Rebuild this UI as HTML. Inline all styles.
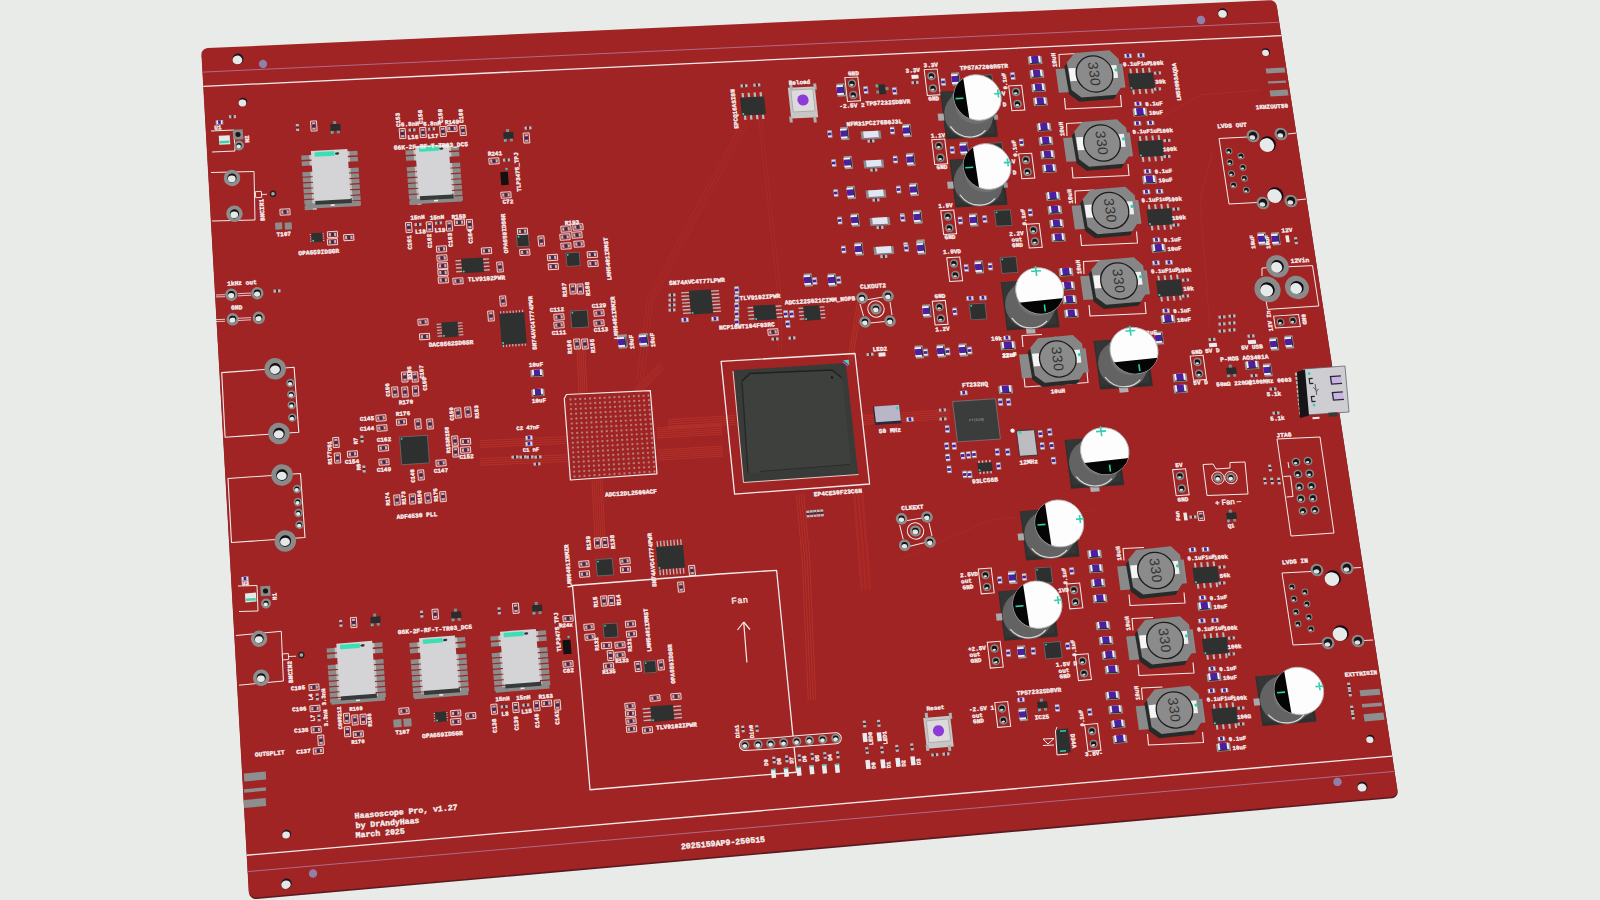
<!DOCTYPE html>
<html><head><meta charset="utf-8"><style>html,body{margin:0;padding:0;background:#e8ebe7;overflow:hidden}svg{display:block}</style></head>
<body><svg width="1600" height="900" viewBox="0 0 1600 900">
<rect x="0" y="0" width="1600" height="900" fill="#e8ebe7"/>
<polygon points="201.46,54.72 201.52,53.48 201.84,52.28 202.41,51.16 203.20,50.16 204.19,49.33 205.34,48.69 206.60,48.27 207.92,48.09 1269.65,0.20 1270.86,0.27 1272.06,0.55 1273.20,1.05 1274.23,1.75 1275.13,2.62 1275.85,3.62 1276.37,4.72 1276.67,5.87 1397.25,789.28 1397.33,790.62 1397.16,791.93 1396.74,793.16 1396.09,794.27 1395.24,795.21 1394.21,795.94 1393.06,796.43 1391.81,796.68 256.42,897.45 254.99,897.44 253.59,897.14 252.29,896.58 251.12,895.77 250.15,894.74 249.40,893.54 248.91,892.20 248.69,890.79" fill="#5a1a22" transform="translate(0.3,1.6)"/>
<polygon points="201.46,54.72 201.52,53.48 201.84,52.28 202.41,51.16 203.20,50.16 204.19,49.33 205.34,48.69 206.60,48.27 207.92,48.09 1269.65,0.20 1270.86,0.27 1272.06,0.55 1273.20,1.05 1274.23,1.75 1275.13,2.62 1275.85,3.62 1276.37,4.72 1276.67,5.87 1397.25,789.28 1397.33,790.62 1397.16,791.93 1396.74,793.16 1396.09,794.27 1395.24,795.21 1394.21,795.94 1393.06,796.43 1391.81,796.68 256.42,897.45 254.99,897.44 253.59,897.14 252.29,896.58 251.12,895.77 250.15,894.74 249.40,893.54 248.91,892.20 248.69,890.79" fill="#a02424"/>
<line x1="202.44" y1="72.13" x2="1279.19" y2="22.26" stroke="#b06a8a" stroke-width="1.0"/>
<line x1="203.25" y1="86.42" x2="1281.26" y2="35.69" stroke="#f2ecec" stroke-width="1.3"/>
<line x1="247.60" y1="871.63" x2="1394.50" y2="771.40" stroke="#b06a8a" stroke-width="1.0"/>
<line x1="246.68" y1="855.26" x2="1392.15" y2="756.12" stroke="#f2ecec" stroke-width="1.3"/>
<ellipse transform="matrix(0.9990 -0.0457 0.0596 0.9982 238.00 59.00)" rx="5.40" ry="5.40" fill="#1a1420" stroke="none" stroke-width="0"/>
<ellipse transform="matrix(0.9990 -0.0457 0.0596 0.9982 238.00 59.00)" cx="-0.6" cy="0.9" rx="4.86" ry="4.43" fill="#e4e8e6"/>
<ellipse transform="matrix(0.9989 -0.0479 0.0599 0.9982 243.00 102.00)" rx="4.30" ry="4.30" fill="#1a1420" stroke="none" stroke-width="0"/>
<ellipse transform="matrix(0.9989 -0.0479 0.0599 0.9982 243.00 102.00)" cx="-0.6" cy="0.9" rx="3.87" ry="3.53" fill="#e4e8e6"/>
<ellipse transform="matrix(0.9961 -0.0878 0.0596 0.9982 286.50 883.70)" rx="5.20" ry="5.20" fill="#1a1420" stroke="none" stroke-width="0"/>
<ellipse transform="matrix(0.9961 -0.0878 0.0596 0.9982 286.50 883.70)" cx="-0.6" cy="0.9" rx="4.68" ry="4.26" fill="#e4e8e6"/>
<ellipse transform="matrix(0.9964 -0.0853 0.0598 0.9982 286.70 834.00)" rx="4.30" ry="4.30" fill="#1a1420" stroke="none" stroke-width="0"/>
<ellipse transform="matrix(0.9964 -0.0853 0.0598 0.9982 286.70 834.00)" cx="-0.6" cy="0.9" rx="3.87" ry="3.53" fill="#e4e8e6"/>
<ellipse transform="matrix(0.9990 -0.0456 0.1474 0.9891 1223.00 13.00)" rx="4.80" ry="4.80" fill="#1a1420" stroke="none" stroke-width="0"/>
<ellipse transform="matrix(0.9990 -0.0456 0.1474 0.9891 1223.00 13.00)" cx="-0.6" cy="0.9" rx="4.32" ry="3.94" fill="#e4e8e6"/>
<ellipse transform="matrix(0.9989 -0.0478 0.1506 0.9886 1266.00 52.00)" rx="3.80" ry="3.80" fill="#1a1420" stroke="none" stroke-width="0"/>
<ellipse transform="matrix(0.9989 -0.0478 0.1506 0.9886 1266.00 52.00)" cx="-0.6" cy="0.9" rx="3.42" ry="3.12" fill="#e4e8e6"/>
<ellipse transform="matrix(0.9961 -0.0877 0.1493 0.9888 1362.50 786.60)" rx="5.00" ry="5.00" fill="#1a1420" stroke="none" stroke-width="0"/>
<ellipse transform="matrix(0.9961 -0.0877 0.1493 0.9888 1362.50 786.60)" cx="-0.6" cy="0.9" rx="4.50" ry="4.10" fill="#e4e8e6"/>
<ellipse transform="matrix(0.9964 -0.0852 0.1506 0.9886 1370.30 738.80)" rx="4.00" ry="4.00" fill="#1a1420" stroke="none" stroke-width="0"/>
<ellipse transform="matrix(0.9964 -0.0852 0.1506 0.9886 1370.30 738.80)" cx="-0.6" cy="0.9" rx="3.60" ry="3.28" fill="#e4e8e6"/>
<ellipse transform="matrix(0.9989 -0.0460 0.0619 0.9981 263.00 64.00)" rx="4.20" ry="4.20" fill="#9a7ab0" stroke="none" stroke-width="0"/>
<ellipse transform="matrix(0.9989 -0.0460 0.0619 0.9981 263.00 64.00)" rx="2.20" ry="2.20" fill="#808aa0" stroke="none" stroke-width="0"/>
<ellipse transform="matrix(0.9989 -0.0460 0.1453 0.9894 1201.00 20.00)" rx="4.20" ry="4.20" fill="#9a7ab0" stroke="none" stroke-width="0"/>
<ellipse transform="matrix(0.9989 -0.0460 0.1453 0.9894 1201.00 20.00)" rx="2.20" ry="2.20" fill="#808aa0" stroke="none" stroke-width="0"/>
<ellipse transform="matrix(0.9962 -0.0874 0.1473 0.9891 1337.50 781.90)" rx="4.20" ry="4.20" fill="#9a7ab0" stroke="none" stroke-width="0"/>
<ellipse transform="matrix(0.9962 -0.0874 0.1473 0.9891 1337.50 781.90)" rx="2.20" ry="2.20" fill="#808aa0" stroke="none" stroke-width="0"/>
<ellipse transform="matrix(0.9962 -0.0874 0.0618 0.9981 313.00 873.50)" rx="4.20" ry="4.20" fill="#9a7ab0" stroke="none" stroke-width="0"/>
<ellipse transform="matrix(0.9962 -0.0874 0.0618 0.9981 313.00 873.50)" rx="2.20" ry="2.20" fill="#808aa0" stroke="none" stroke-width="0"/>
<polyline points="579.00,393.19 577.00,350.19" fill="none" stroke="#b8342c" stroke-width="1.0" opacity="0.8"/>
<polyline points="581.00,393.09 579.00,350.09" fill="none" stroke="#b8342c" stroke-width="1.0" opacity="0.8"/>
<polyline points="583.00,393.00 581.00,350.00" fill="none" stroke="#b8342c" stroke-width="1.0" opacity="0.8"/>
<polyline points="585.00,392.91 583.00,349.91" fill="none" stroke="#b8342c" stroke-width="1.0" opacity="0.8"/>
<polyline points="587.00,392.81 585.00,349.81" fill="none" stroke="#b8342c" stroke-width="1.0" opacity="0.8"/>
<polyline points="601.99,479.75 604.99,539.75" fill="none" stroke="#b8342c" stroke-width="1.0" opacity="0.8"/>
<polyline points="600.00,479.85 603.00,539.85" fill="none" stroke="#b8342c" stroke-width="1.0" opacity="0.8"/>
<polyline points="598.00,479.95 601.00,539.95" fill="none" stroke="#b8342c" stroke-width="1.0" opacity="0.8"/>
<polyline points="596.00,480.05 599.00,540.05" fill="none" stroke="#b8342c" stroke-width="1.0" opacity="0.8"/>
<polyline points="594.00,480.15 597.00,540.15" fill="none" stroke="#b8342c" stroke-width="1.0" opacity="0.8"/>
<polyline points="592.01,480.25 595.01,540.25" fill="none" stroke="#b8342c" stroke-width="1.0" opacity="0.8"/>
<polyline points="479.85,440.70 566.85,436.70" fill="none" stroke="#b8342c" stroke-width="1.0" opacity="0.8"/>
<polyline points="479.95,442.90 566.95,438.90" fill="none" stroke="#b8342c" stroke-width="1.0" opacity="0.8"/>
<polyline points="480.05,445.10 567.05,441.10" fill="none" stroke="#b8342c" stroke-width="1.0" opacity="0.8"/>
<polyline points="480.15,447.30 567.15,443.30" fill="none" stroke="#b8342c" stroke-width="1.0" opacity="0.8"/>
<polyline points="479.85,458.70 567.85,454.70" fill="none" stroke="#b8342c" stroke-width="1.0" opacity="0.8"/>
<polyline points="479.95,460.90 567.95,456.90" fill="none" stroke="#b8342c" stroke-width="1.0" opacity="0.8"/>
<polyline points="480.05,463.10 568.05,459.10" fill="none" stroke="#b8342c" stroke-width="1.0" opacity="0.8"/>
<polyline points="480.15,465.30 568.15,461.30" fill="none" stroke="#b8342c" stroke-width="1.0" opacity="0.8"/>
<polyline points="656.69,428.01 721.69,424.01" fill="none" stroke="#b8342c" stroke-width="1.0" opacity="0.8"/>
<polyline points="656.82,430.01 721.82,426.01" fill="none" stroke="#b8342c" stroke-width="1.0" opacity="0.8"/>
<polyline points="656.94,432.00 721.94,428.00" fill="none" stroke="#b8342c" stroke-width="1.0" opacity="0.8"/>
<polyline points="657.06,434.00 722.06,430.00" fill="none" stroke="#b8342c" stroke-width="1.0" opacity="0.8"/>
<polyline points="657.18,435.99 722.18,431.99" fill="none" stroke="#b8342c" stroke-width="1.0" opacity="0.8"/>
<polyline points="657.31,437.99 722.31,433.99" fill="none" stroke="#b8342c" stroke-width="1.0" opacity="0.8"/>
<polyline points="657.69,450.01 722.69,446.01" fill="none" stroke="#b8342c" stroke-width="1.0" opacity="0.8"/>
<polyline points="657.82,452.01 722.82,448.01" fill="none" stroke="#b8342c" stroke-width="1.0" opacity="0.8"/>
<polyline points="657.94,454.00 722.94,450.00" fill="none" stroke="#b8342c" stroke-width="1.0" opacity="0.8"/>
<polyline points="658.06,456.00 723.06,452.00" fill="none" stroke="#b8342c" stroke-width="1.0" opacity="0.8"/>
<polyline points="658.18,457.99 723.18,453.99" fill="none" stroke="#b8342c" stroke-width="1.0" opacity="0.8"/>
<polyline points="658.31,459.99 723.31,455.99" fill="none" stroke="#b8342c" stroke-width="1.0" opacity="0.8"/>
<polyline points="633.67,389.67 659.67,363.67" fill="none" stroke="#b8342c" stroke-width="1.0" opacity="0.8"/>
<polyline points="635.22,391.22 661.22,365.22" fill="none" stroke="#b8342c" stroke-width="1.0" opacity="0.8"/>
<polyline points="636.78,392.78 662.78,366.78" fill="none" stroke="#b8342c" stroke-width="1.0" opacity="0.8"/>
<polyline points="638.33,394.33 664.33,368.33" fill="none" stroke="#b8342c" stroke-width="1.0" opacity="0.8"/>
<polyline points="861.99,491.67 869.99,589.67" fill="none" stroke="#b8342c" stroke-width="2.5" opacity="0.45"/>
<polyline points="858.00,492.00 866.00,590.00" fill="none" stroke="#b8342c" stroke-width="2.5" opacity="0.45"/>
<polyline points="854.01,492.33 862.01,590.33" fill="none" stroke="#b8342c" stroke-width="2.5" opacity="0.45"/>
<polyline points="803.73,493.66 809.74,559.78 815.75,699.84" fill="none" stroke="#b8342c" stroke-width="1.0" opacity="0.8"/>
<polyline points="801.24,493.89 807.25,559.93 813.25,699.95" fill="none" stroke="#b8342c" stroke-width="1.0" opacity="0.8"/>
<polyline points="798.76,494.11 804.75,560.07 810.75,700.05" fill="none" stroke="#b8342c" stroke-width="1.0" opacity="0.8"/>
<polyline points="796.27,494.34 802.26,560.22 808.25,700.16" fill="none" stroke="#b8342c" stroke-width="1.0" opacity="0.8"/>
<polyline points="735.26,424.39 668.26,428.39" fill="none" stroke="#b8342c" stroke-width="1.0" opacity="0.8"/>
<polyline points="735.13,422.20 668.13,426.20" fill="none" stroke="#b8342c" stroke-width="1.0" opacity="0.8"/>
<polyline points="735.00,420.00 668.00,424.00" fill="none" stroke="#b8342c" stroke-width="1.0" opacity="0.8"/>
<polyline points="734.87,417.80 667.87,421.80" fill="none" stroke="#b8342c" stroke-width="1.0" opacity="0.8"/>
<polyline points="734.74,415.61 667.74,419.61" fill="none" stroke="#b8342c" stroke-width="1.0" opacity="0.8"/>
<polyline points="861.70,415.61 949.70,409.61" fill="none" stroke="#b8342c" stroke-width="1.0" opacity="0.8"/>
<polyline points="861.85,417.81 949.85,411.81" fill="none" stroke="#b8342c" stroke-width="1.0" opacity="0.8"/>
<polyline points="862.00,420.00 950.00,414.00" fill="none" stroke="#b8342c" stroke-width="1.0" opacity="0.8"/>
<polyline points="862.15,422.19 950.15,416.19" fill="none" stroke="#b8342c" stroke-width="1.0" opacity="0.8"/>
<polyline points="862.30,424.39 950.30,418.39" fill="none" stroke="#b8342c" stroke-width="1.0" opacity="0.8"/>
<polyline points="847.83,361.65 857.83,299.65" fill="none" stroke="#b8342c" stroke-width="1.0" opacity="0.8"/>
<polyline points="850.00,362.00 860.00,300.00" fill="none" stroke="#b8342c" stroke-width="1.0" opacity="0.8"/>
<polyline points="852.17,362.35 862.17,300.35" fill="none" stroke="#b8342c" stroke-width="1.0" opacity="0.8"/>
<polyline points="750.64,118.42 652.78,301.14 642.98,380.37" fill="none" stroke="#b8342c" stroke-width="1.0" opacity="0.4"/>
<polyline points="748.00,117.00 650.00,300.00 640.00,380.00" fill="none" stroke="#b8342c" stroke-width="1.0" opacity="0.4"/>
<polyline points="745.36,115.58 647.22,298.86 637.02,379.63" fill="none" stroke="#b8342c" stroke-width="1.0" opacity="0.4"/>
<polyline points="761.49,116.84 781.49,299.87 781.50,350.00" fill="none" stroke="#b8342c" stroke-width="1.0" opacity="0.4"/>
<polyline points="758.51,117.16 778.51,300.13 778.50,350.00" fill="none" stroke="#b8342c" stroke-width="1.0" opacity="0.4"/>
<polyline points="1160.00,118.00 1200.00,95.00 1260.00,90.00" fill="none" stroke="#b8342c" stroke-width="1.0" opacity="0.4"/>
<polyline points="1213.00,150.00 1200.00,200.00 1210.00,330.00" fill="none" stroke="#b8342c" stroke-width="1.0" opacity="0.4"/>
<polyline points="900.00,560.00 990.00,520.00 1100.00,510.00" fill="none" stroke="#b8342c" stroke-width="1.0" opacity="0.35"/>
<polygon points="721.10,361.40 855.00,353.50 869.60,484.00 734.60,494.10" fill="none" stroke="#f2ecec" stroke-width="1.3" stroke-linejoin="round"/>
<polygon points="733.80,370.20 845.80,363.10 858.20,474.20 743.60,482.20" fill="#393b39" stroke="none" stroke-width="0"/>
<polygon points="742.00,381.00 750.00,373.50 832.00,370.00 842.00,378.00 851.00,465.00 762.00,472.50 748.00,473.00" fill="#3d403d" stroke="none" stroke-width="0"/>
<polyline points="742.00,381.00 750.00,373.50 832.00,370.00 842.00,378.00" fill="none" stroke="#202220" stroke-width="1.6" stroke-linejoin="round"/>
<polyline points="742.00,381.00 748.00,473.00" fill="none" stroke="#262826" stroke-width="1.3" stroke-linejoin="round"/>
<polyline points="760.00,471.50 850.00,464.50" fill="none" stroke="#2a2c2a" stroke-width="1.0" stroke-linejoin="round"/>
<polyline points="733.00,371.00 743.50,482.50 858.50,474.50" fill="none" stroke="#e8dede" stroke-width="0.9" stroke-linejoin="round"/>
<g transform="matrix(0.9980 -0.0631 0.1107 0.9939 846.00 362.50)"><path d="M-2.5,-2.5 L3,-2.5 L3,3 Z" fill="#40d8c0"/><path d="M-3,-1 L1.5,3.5" stroke="#a060e0" stroke-width="1.2"/></g>
<ellipse transform="matrix(0.9980 -0.0639 0.1094 0.9940 832.00 377.50)" rx="1.20" ry="1.20" fill="#151515" stroke="none" stroke-width="0"/>
<text transform="matrix(0.9976 -0.0699 0.1088 0.9941 838.00 493.00)" x="0" y="0" font-size="6.2" fill="#f6f0f0" text-anchor="middle" dominant-baseline="central" font-weight="bold" font-family="Liberation Mono" stroke="#f6f0f0" stroke-width="0.35">EP4CE30F23C6N</text>
<polygon points="566.50,394.50 650.30,390.60 657.00,473.90 570.40,480.00 564.30,398.50" fill="none" stroke="#f2ecec" stroke-width="1.2" stroke-linejoin="round"/>
<g fill="#b48080"><circle cx="570.5" cy="399.5" r="1.15"/><circle cx="570.8" cy="404.3" r="1.15"/><circle cx="571.0" cy="409.1" r="1.15"/><circle cx="571.2" cy="413.9" r="1.15"/><circle cx="571.5" cy="418.8" r="1.15"/><circle cx="571.8" cy="423.6" r="1.15"/><circle cx="572.0" cy="428.4" r="1.15"/><circle cx="572.2" cy="433.2" r="1.15"/><circle cx="572.5" cy="438.0" r="1.15"/><circle cx="572.8" cy="442.8" r="1.15"/><circle cx="573.0" cy="447.6" r="1.15"/><circle cx="573.2" cy="452.4" r="1.15"/><circle cx="573.5" cy="457.2" r="1.15"/><circle cx="573.8" cy="462.1" r="1.15"/><circle cx="574.0" cy="466.9" r="1.15"/><circle cx="574.2" cy="471.7" r="1.15"/><circle cx="574.5" cy="476.5" r="1.15"/><circle cx="575.4" cy="399.2" r="1.15"/><circle cx="575.6" cy="404.1" r="1.15"/><circle cx="575.9" cy="408.9" r="1.15"/><circle cx="576.1" cy="413.7" r="1.15"/><circle cx="576.4" cy="418.5" r="1.15"/><circle cx="576.7" cy="423.3" r="1.15"/><circle cx="576.9" cy="428.1" r="1.15"/><circle cx="577.2" cy="432.9" r="1.15"/><circle cx="577.4" cy="437.7" r="1.15"/><circle cx="577.7" cy="442.5" r="1.15"/><circle cx="578.0" cy="447.3" r="1.15"/><circle cx="578.2" cy="452.1" r="1.15"/><circle cx="578.5" cy="457.0" r="1.15"/><circle cx="578.7" cy="461.8" r="1.15"/><circle cx="579.0" cy="466.6" r="1.15"/><circle cx="579.2" cy="471.4" r="1.15"/><circle cx="579.5" cy="476.2" r="1.15"/><circle cx="580.2" cy="399.0" r="1.15"/><circle cx="580.5" cy="403.8" r="1.15"/><circle cx="580.8" cy="408.6" r="1.15"/><circle cx="581.0" cy="413.4" r="1.15"/><circle cx="581.3" cy="418.2" r="1.15"/><circle cx="581.6" cy="423.0" r="1.15"/><circle cx="581.8" cy="427.8" r="1.15"/><circle cx="582.1" cy="432.6" r="1.15"/><circle cx="582.4" cy="437.4" r="1.15"/><circle cx="582.6" cy="442.2" r="1.15"/><circle cx="582.9" cy="447.0" r="1.15"/><circle cx="583.2" cy="451.9" r="1.15"/><circle cx="583.4" cy="456.7" r="1.15"/><circle cx="583.7" cy="461.5" r="1.15"/><circle cx="584.0" cy="466.3" r="1.15"/><circle cx="584.2" cy="471.1" r="1.15"/><circle cx="584.5" cy="475.9" r="1.15"/><circle cx="585.1" cy="398.8" r="1.15"/><circle cx="585.4" cy="403.6" r="1.15"/><circle cx="585.7" cy="408.4" r="1.15"/><circle cx="585.9" cy="413.2" r="1.15"/><circle cx="586.2" cy="418.0" r="1.15"/><circle cx="586.5" cy="422.8" r="1.15"/><circle cx="586.8" cy="427.6" r="1.15"/><circle cx="587.0" cy="432.4" r="1.15"/><circle cx="587.3" cy="437.2" r="1.15"/><circle cx="587.6" cy="442.0" r="1.15"/><circle cx="587.9" cy="446.8" r="1.15"/><circle cx="588.1" cy="451.6" r="1.15"/><circle cx="588.4" cy="456.4" r="1.15"/><circle cx="588.7" cy="461.2" r="1.15"/><circle cx="589.0" cy="466.0" r="1.15"/><circle cx="589.2" cy="470.8" r="1.15"/><circle cx="589.5" cy="475.6" r="1.15"/><circle cx="590.0" cy="398.5" r="1.15"/><circle cx="590.3" cy="403.3" r="1.15"/><circle cx="590.6" cy="408.1" r="1.15"/><circle cx="590.8" cy="412.9" r="1.15"/><circle cx="591.1" cy="417.7" r="1.15"/><circle cx="591.4" cy="422.5" r="1.15"/><circle cx="591.7" cy="427.3" r="1.15"/><circle cx="592.0" cy="432.1" r="1.15"/><circle cx="592.2" cy="436.9" r="1.15"/><circle cx="592.5" cy="441.7" r="1.15"/><circle cx="592.8" cy="446.5" r="1.15"/><circle cx="593.1" cy="451.3" r="1.15"/><circle cx="593.4" cy="456.1" r="1.15"/><circle cx="593.7" cy="460.9" r="1.15"/><circle cx="593.9" cy="465.7" r="1.15"/><circle cx="594.2" cy="470.5" r="1.15"/><circle cx="594.5" cy="475.2" r="1.15"/><circle cx="594.9" cy="398.2" r="1.15"/><circle cx="595.2" cy="403.0" r="1.15"/><circle cx="595.5" cy="407.8" r="1.15"/><circle cx="595.7" cy="412.6" r="1.15"/><circle cx="596.0" cy="417.4" r="1.15"/><circle cx="596.3" cy="422.2" r="1.15"/><circle cx="596.6" cy="427.0" r="1.15"/><circle cx="596.9" cy="431.8" r="1.15"/><circle cx="597.2" cy="436.6" r="1.15"/><circle cx="597.5" cy="441.4" r="1.15"/><circle cx="597.8" cy="446.2" r="1.15"/><circle cx="598.1" cy="451.0" r="1.15"/><circle cx="598.3" cy="455.8" r="1.15"/><circle cx="598.6" cy="460.6" r="1.15"/><circle cx="598.9" cy="465.4" r="1.15"/><circle cx="599.2" cy="470.1" r="1.15"/><circle cx="599.5" cy="474.9" r="1.15"/><circle cx="599.8" cy="398.0" r="1.15"/><circle cx="600.0" cy="402.8" r="1.15"/><circle cx="600.3" cy="407.6" r="1.15"/><circle cx="600.6" cy="412.4" r="1.15"/><circle cx="600.9" cy="417.2" r="1.15"/><circle cx="601.2" cy="421.9" r="1.15"/><circle cx="601.5" cy="426.7" r="1.15"/><circle cx="601.8" cy="431.5" r="1.15"/><circle cx="602.1" cy="436.3" r="1.15"/><circle cx="602.4" cy="441.1" r="1.15"/><circle cx="602.7" cy="445.9" r="1.15"/><circle cx="603.0" cy="450.7" r="1.15"/><circle cx="603.3" cy="455.5" r="1.15"/><circle cx="603.6" cy="460.3" r="1.15"/><circle cx="603.9" cy="465.0" r="1.15"/><circle cx="604.2" cy="469.8" r="1.15"/><circle cx="604.5" cy="474.6" r="1.15"/><circle cx="604.6" cy="397.8" r="1.15"/><circle cx="604.9" cy="402.5" r="1.15"/><circle cx="605.2" cy="407.3" r="1.15"/><circle cx="605.5" cy="412.1" r="1.15"/><circle cx="605.8" cy="416.9" r="1.15"/><circle cx="606.1" cy="421.7" r="1.15"/><circle cx="606.5" cy="426.5" r="1.15"/><circle cx="606.8" cy="431.2" r="1.15"/><circle cx="607.1" cy="436.0" r="1.15"/><circle cx="607.4" cy="440.8" r="1.15"/><circle cx="607.7" cy="445.6" r="1.15"/><circle cx="608.0" cy="450.4" r="1.15"/><circle cx="608.3" cy="455.2" r="1.15"/><circle cx="608.6" cy="460.0" r="1.15"/><circle cx="608.9" cy="464.7" r="1.15"/><circle cx="609.2" cy="469.5" r="1.15"/><circle cx="609.5" cy="474.3" r="1.15"/><circle cx="609.5" cy="397.5" r="1.15"/><circle cx="609.8" cy="402.3" r="1.15"/><circle cx="610.1" cy="407.1" r="1.15"/><circle cx="610.4" cy="411.8" r="1.15"/><circle cx="610.8" cy="416.6" r="1.15"/><circle cx="611.1" cy="421.4" r="1.15"/><circle cx="611.4" cy="426.2" r="1.15"/><circle cx="611.7" cy="431.0" r="1.15"/><circle cx="612.0" cy="435.8" r="1.15"/><circle cx="612.3" cy="440.5" r="1.15"/><circle cx="612.6" cy="445.3" r="1.15"/><circle cx="612.9" cy="450.1" r="1.15"/><circle cx="613.2" cy="454.9" r="1.15"/><circle cx="613.6" cy="459.7" r="1.15"/><circle cx="613.9" cy="464.4" r="1.15"/><circle cx="614.2" cy="469.2" r="1.15"/><circle cx="614.5" cy="474.0" r="1.15"/><circle cx="614.4" cy="397.2" r="1.15"/><circle cx="614.7" cy="402.0" r="1.15"/><circle cx="615.0" cy="406.8" r="1.15"/><circle cx="615.3" cy="411.6" r="1.15"/><circle cx="615.7" cy="416.4" r="1.15"/><circle cx="616.0" cy="421.1" r="1.15"/><circle cx="616.3" cy="425.9" r="1.15"/><circle cx="616.6" cy="430.7" r="1.15"/><circle cx="616.9" cy="435.5" r="1.15"/><circle cx="617.3" cy="440.2" r="1.15"/><circle cx="617.6" cy="445.0" r="1.15"/><circle cx="617.9" cy="449.8" r="1.15"/><circle cx="618.2" cy="454.6" r="1.15"/><circle cx="618.5" cy="459.4" r="1.15"/><circle cx="618.9" cy="464.1" r="1.15"/><circle cx="619.2" cy="468.9" r="1.15"/><circle cx="619.5" cy="473.7" r="1.15"/><circle cx="619.2" cy="397.0" r="1.15"/><circle cx="619.6" cy="401.8" r="1.15"/><circle cx="619.9" cy="406.5" r="1.15"/><circle cx="620.2" cy="411.3" r="1.15"/><circle cx="620.6" cy="416.1" r="1.15"/><circle cx="620.9" cy="420.9" r="1.15"/><circle cx="621.2" cy="425.6" r="1.15"/><circle cx="621.5" cy="430.4" r="1.15"/><circle cx="621.9" cy="435.2" r="1.15"/><circle cx="622.2" cy="440.0" r="1.15"/><circle cx="622.5" cy="444.7" r="1.15"/><circle cx="622.9" cy="449.5" r="1.15"/><circle cx="623.2" cy="454.3" r="1.15"/><circle cx="623.5" cy="459.1" r="1.15"/><circle cx="623.8" cy="463.8" r="1.15"/><circle cx="624.2" cy="468.6" r="1.15"/><circle cx="624.5" cy="473.4" r="1.15"/><circle cx="624.1" cy="396.8" r="1.15"/><circle cx="624.5" cy="401.5" r="1.15"/><circle cx="624.8" cy="406.3" r="1.15"/><circle cx="625.1" cy="411.1" r="1.15"/><circle cx="625.5" cy="415.8" r="1.15"/><circle cx="625.8" cy="420.6" r="1.15"/><circle cx="626.1" cy="425.4" r="1.15"/><circle cx="626.5" cy="430.1" r="1.15"/><circle cx="626.8" cy="434.9" r="1.15"/><circle cx="627.1" cy="439.7" r="1.15"/><circle cx="627.5" cy="444.4" r="1.15"/><circle cx="627.8" cy="449.2" r="1.15"/><circle cx="628.2" cy="454.0" r="1.15"/><circle cx="628.5" cy="458.8" r="1.15"/><circle cx="628.8" cy="463.5" r="1.15"/><circle cx="629.2" cy="468.3" r="1.15"/><circle cx="629.5" cy="473.1" r="1.15"/><circle cx="629.0" cy="396.5" r="1.15"/><circle cx="629.3" cy="401.3" r="1.15"/><circle cx="629.7" cy="406.0" r="1.15"/><circle cx="630.0" cy="410.8" r="1.15"/><circle cx="630.4" cy="415.6" r="1.15"/><circle cx="630.7" cy="420.3" r="1.15"/><circle cx="631.1" cy="425.1" r="1.15"/><circle cx="631.4" cy="429.9" r="1.15"/><circle cx="631.8" cy="434.6" r="1.15"/><circle cx="632.1" cy="439.4" r="1.15"/><circle cx="632.4" cy="444.2" r="1.15"/><circle cx="632.8" cy="448.9" r="1.15"/><circle cx="633.1" cy="453.7" r="1.15"/><circle cx="633.5" cy="458.5" r="1.15"/><circle cx="633.8" cy="463.2" r="1.15"/><circle cx="634.2" cy="468.0" r="1.15"/><circle cx="634.5" cy="472.8" r="1.15"/><circle cx="633.9" cy="396.2" r="1.15"/><circle cx="634.2" cy="401.0" r="1.15"/><circle cx="634.6" cy="405.8" r="1.15"/><circle cx="634.9" cy="410.5" r="1.15"/><circle cx="635.3" cy="415.3" r="1.15"/><circle cx="635.6" cy="420.1" r="1.15"/><circle cx="636.0" cy="424.8" r="1.15"/><circle cx="636.3" cy="429.6" r="1.15"/><circle cx="636.7" cy="434.3" r="1.15"/><circle cx="637.0" cy="439.1" r="1.15"/><circle cx="637.4" cy="443.9" r="1.15"/><circle cx="637.7" cy="448.6" r="1.15"/><circle cx="638.1" cy="453.4" r="1.15"/><circle cx="638.4" cy="458.2" r="1.15"/><circle cx="638.8" cy="462.9" r="1.15"/><circle cx="639.1" cy="467.7" r="1.15"/><circle cx="639.5" cy="472.4" r="1.15"/><circle cx="638.8" cy="396.0" r="1.15"/><circle cx="639.1" cy="400.8" r="1.15"/><circle cx="639.5" cy="405.5" r="1.15"/><circle cx="639.8" cy="410.3" r="1.15"/><circle cx="640.2" cy="415.0" r="1.15"/><circle cx="640.5" cy="419.8" r="1.15"/><circle cx="640.9" cy="424.5" r="1.15"/><circle cx="641.3" cy="429.3" r="1.15"/><circle cx="641.6" cy="434.1" r="1.15"/><circle cx="642.0" cy="438.8" r="1.15"/><circle cx="642.3" cy="443.6" r="1.15"/><circle cx="642.7" cy="448.3" r="1.15"/><circle cx="643.1" cy="453.1" r="1.15"/><circle cx="643.4" cy="457.9" r="1.15"/><circle cx="643.8" cy="462.6" r="1.15"/><circle cx="644.1" cy="467.4" r="1.15"/><circle cx="644.5" cy="472.1" r="1.15"/><circle cx="643.6" cy="395.8" r="1.15"/><circle cx="644.0" cy="400.5" r="1.15"/><circle cx="644.4" cy="405.3" r="1.15"/><circle cx="644.7" cy="410.0" r="1.15"/><circle cx="645.1" cy="414.8" r="1.15"/><circle cx="645.5" cy="419.5" r="1.15"/><circle cx="645.8" cy="424.3" r="1.15"/><circle cx="646.2" cy="429.0" r="1.15"/><circle cx="646.6" cy="433.8" r="1.15"/><circle cx="646.9" cy="438.5" r="1.15"/><circle cx="647.3" cy="443.3" r="1.15"/><circle cx="647.7" cy="448.0" r="1.15"/><circle cx="648.0" cy="452.8" r="1.15"/><circle cx="648.4" cy="457.6" r="1.15"/><circle cx="648.8" cy="462.3" r="1.15"/><circle cx="649.1" cy="467.1" r="1.15"/><circle cx="649.5" cy="471.8" r="1.15"/><circle cx="648.5" cy="395.5" r="1.15"/><circle cx="648.9" cy="400.2" r="1.15"/><circle cx="649.2" cy="405.0" r="1.15"/><circle cx="649.6" cy="409.8" r="1.15"/><circle cx="650.0" cy="414.5" r="1.15"/><circle cx="650.4" cy="419.2" r="1.15"/><circle cx="650.8" cy="424.0" r="1.15"/><circle cx="651.1" cy="428.8" r="1.15"/><circle cx="651.5" cy="433.5" r="1.15"/><circle cx="651.9" cy="438.2" r="1.15"/><circle cx="652.2" cy="443.0" r="1.15"/><circle cx="652.6" cy="447.8" r="1.15"/><circle cx="653.0" cy="452.5" r="1.15"/><circle cx="653.4" cy="457.2" r="1.15"/><circle cx="653.8" cy="462.0" r="1.15"/><circle cx="654.1" cy="466.8" r="1.15"/><circle cx="654.5" cy="471.5" r="1.15"/></g>
<text transform="matrix(0.9976 -0.0692 0.0911 0.9958 631.00 493.50)" x="0" y="0" font-size="6.2" fill="#f6f0f0" text-anchor="middle" dominant-baseline="central" font-weight="bold" font-family="Liberation Mono" stroke="#f6f0f0" stroke-width="0.35">ADC12DL2500ACF</text>
<defs>
<linearGradient id="cyl" x1="0" y1="0" x2="1" y2="0"><stop offset="0" stop-color="#3e3f3e"/><stop offset="0.55" stop-color="#5a5b5a"/><stop offset="1" stop-color="#7a7b7a"/></linearGradient>
<linearGradient id="cyl2" x1="0" y1="1" x2="1" y2="0"><stop offset="0" stop-color="#6a6b6a"/><stop offset="0.5" stop-color="#4a4b4a"/><stop offset="1" stop-color="#3a3b3a"/></linearGradient>
</defs>
<polyline points="211.00,131.00 234.00,130.00 235.00,151.00 212.00,152.00" fill="none" stroke="#f2ecec" stroke-width="1.0" stroke-linejoin="round"/>
<rect transform="matrix(0.9988 -0.0498 0.0580 0.9983 224.50 140.00)" x="-5.50" y="-4.50" width="11.00" height="9.00" rx="0.00" fill="#e8e8e8" stroke="none" stroke-width="0" />
<rect transform="matrix(0.9988 -0.0499 0.0580 0.9983 224.50 142.00)" x="-5.00" y="-1.25" width="10.00" height="2.50" rx="0.00" fill="#40d0a8" stroke="none" stroke-width="0" />
<rect transform="matrix(0.9988 -0.0495 0.0592 0.9982 238.00 134.50)" x="-5.00" y="-5.00" width="10.00" height="10.00" rx="0.00" fill="#8a8a8a" stroke="none" stroke-width="0" />
<ellipse transform="matrix(0.9988 -0.0495 0.0592 0.9982 238.00 134.50)" rx="2.60" ry="2.60" fill="#151515" stroke="none" stroke-width="0"/>
<ellipse transform="matrix(0.9987 -0.0501 0.0593 0.9982 239.00 145.50)" rx="5.00" ry="5.00" fill="#8c8c8c" stroke="none" stroke-width="0"/>
<ellipse transform="matrix(0.9987 -0.0501 0.0593 0.9982 239.00 145.50)" rx="2.60" ry="2.60" fill="#121212" stroke="none" stroke-width="0"/>
<ellipse transform="matrix(0.9987 -0.0501 0.0593 0.9982 239.00 145.50)" cx="-0.3" cy="0.9" rx="2.21" ry="1.87" fill="#e4e8e6"/>
<text transform="matrix(0.9988 -0.0492 0.0575 0.9983 218.00 128.00)" x="0" y="0" font-size="6" fill="#f6f0f0" text-anchor="middle" dominant-baseline="central" font-weight="bold" font-family="Liberation Mono" stroke="#f6f0f0" stroke-width="0.35">U1</text>
<text transform="matrix(-0.0601 -0.9982 0.9988 -0.0498 247.50 139.00)" x="0" y="0" font-size="6" fill="#f6f0f0" text-anchor="middle" dominant-baseline="central" font-weight="bold" font-family="Liberation Mono" stroke="#f6f0f0" stroke-width="0.35">H2</text>
<g transform="matrix(0.9988 -0.0489 0.0577 0.9983 219.50 122.50)"><rect x="-3.8" y="-2.2" width="7.6" height="4.4" fill="#9a9a9a"/><rect x="-2.8" y="-2.2" width="5.6" height="3.6" fill="#eeeeee"/><rect x="-1.4" y="-2.2" width="2.8" height="3.6" fill="#4b1fa0"/></g>
<g transform="matrix(0.9988 -0.0486 0.0589 0.9983 232.50 116.70)"><rect x="-3.5" y="-1.5" width="2.6" height="3" fill="#b8b8b8"/><rect x="0.9" y="-1.5" width="2.6" height="3" fill="#b8b8b8"/><rect x="-1" y="-1.2" width="2" height="2.4" fill="#3a2a40"/></g>
<polyline points="211.00,172.50 254.00,171.50 255.00,220.00 212.00,221.00" fill="none" stroke="#f2ecec" stroke-width="1.0" stroke-linejoin="round"/>
<ellipse transform="matrix(0.9987 -0.0517 0.0585 0.9983 232.00 178.00)" rx="8.20" ry="8.20" fill="#8e8e8e" stroke="none" stroke-width="0"/>
<ellipse transform="matrix(0.9987 -0.0517 0.0585 0.9983 232.00 178.00)" rx="4.60" ry="4.60" fill="#121212" stroke="none" stroke-width="0"/>
<ellipse transform="matrix(0.9987 -0.0517 0.0585 0.9983 232.00 178.00)" cx="-0.3" cy="0.9" rx="3.91" ry="3.31" fill="#e4e8e6"/>
<ellipse transform="matrix(0.9986 -0.0536 0.0585 0.9983 234.50 213.80)" rx="8.20" ry="8.20" fill="#8e8e8e" stroke="none" stroke-width="0"/>
<ellipse transform="matrix(0.9986 -0.0536 0.0585 0.9983 234.50 213.80)" rx="4.60" ry="4.60" fill="#121212" stroke="none" stroke-width="0"/>
<ellipse transform="matrix(0.9986 -0.0536 0.0585 0.9983 234.50 213.80)" cx="-0.3" cy="0.9" rx="3.91" ry="3.31" fill="#e4e8e6"/>
<rect transform="matrix(0.9986 -0.0527 0.0607 0.9982 258.50 194.50)" x="-3.00" y="-3.00" width="6.00" height="6.00" rx="0.00" fill="none" stroke="#f2ecec" stroke-width="0.9" />
<line x1="261.00" y1="194.50" x2="267.00" y2="194.30" stroke="#f4eeee" stroke-width="0.9"/>
<ellipse transform="matrix(0.9986 -0.0527 0.0620 0.9981 273.00 193.80)" rx="3.20" ry="3.20" fill="#222" stroke="none" stroke-width="0"/>
<ellipse transform="matrix(0.9986 -0.0527 0.0620 0.9981 273.00 193.80)" rx="1.80" ry="1.80" fill="#aaa" stroke="none" stroke-width="0"/>
<text transform="matrix(-0.0610 -0.9981 0.9986 -0.0535 262.50 210.00)" x="0" y="0" font-size="6.2" fill="#f6f0f0" text-anchor="middle" dominant-baseline="central" font-weight="bold" font-family="Liberation Mono" stroke="#f6f0f0" stroke-width="0.35">BNCIN1</text>
<g transform="matrix(0.9986 -0.0536 0.0630 0.9980 285.00 212.00)"><rect x="-5.0" y="-3.0" width="10.0" height="6.0" fill="none" stroke="#f0e6e6" stroke-width="0.9"/><rect x="-3.7" y="-1.6" width="2.4" height="3.2" fill="#b8b8b8"/><rect x="1.3" y="-1.6" width="2.4" height="3.2" fill="#b8b8b8"/><rect x="-1.6" y="-1.5" width="3.2" height="3" fill="#3a2a5a"/></g>
<rect transform="matrix(0.9985 -0.0543 0.0624 0.9981 278.70 226.00)" x="-3.50" y="-3.50" width="7.00" height="7.00" rx="0.00" fill="#8c8c8c" stroke="none" stroke-width="0" />
<rect transform="matrix(0.9985 -0.0543 0.0632 0.9980 288.30 226.00)" x="-3.50" y="-3.50" width="7.00" height="7.00" rx="0.00" fill="#8c8c8c" stroke="none" stroke-width="0" />
<text transform="matrix(0.9985 -0.0548 0.0628 0.9980 283.80 234.50)" x="0" y="0" font-size="6" fill="#f6f0f0" text-anchor="middle" dominant-baseline="central" font-weight="bold" font-family="Liberation Mono" stroke="#f6f0f0" stroke-width="0.35">T107</text>
<g transform="matrix(0.9985 -0.0550 0.0657 0.9978 317.00 237.50)"><rect x="-7.10" y="-3.88" width="1.60" height="1.00" fill="#b9b9b9"/><rect x="5.50" y="-3.88" width="1.60" height="1.00" fill="#b9b9b9"/><rect x="-7.10" y="-1.62" width="1.60" height="1.00" fill="#b9b9b9"/><rect x="5.50" y="-1.62" width="1.60" height="1.00" fill="#b9b9b9"/><rect x="-7.10" y="0.62" width="1.60" height="1.00" fill="#b9b9b9"/><rect x="5.50" y="0.62" width="1.60" height="1.00" fill="#b9b9b9"/><rect x="-7.10" y="2.88" width="1.60" height="1.00" fill="#b9b9b9"/><rect x="5.50" y="2.88" width="1.60" height="1.00" fill="#b9b9b9"/><rect x="-5.50" y="-4.50" width="11.00" height="9.00" fill="#2f3030"/><circle cx="-4.00" cy="3.00" r="1" fill="#40d0b0"/></g>
<g transform="matrix(0.9985 -0.0549 0.0670 0.9977 332.50 234.50)"><rect x="-5.0" y="-3.0" width="10.0" height="6.0" fill="none" stroke="#f0e6e6" stroke-width="0.9"/><rect x="-3.7" y="-1.6" width="2.4" height="3.2" fill="#b8b8b8"/><rect x="1.3" y="-1.6" width="2.4" height="3.2" fill="#b8b8b8"/><rect x="-1.6" y="-1.5" width="3.2" height="3" fill="#3a2a5a"/></g>
<g transform="matrix(0.9985 -0.0553 0.0670 0.9978 332.50 241.80)"><rect x="-5.0" y="-3.0" width="10.0" height="6.0" fill="none" stroke="#f0e6e6" stroke-width="0.9"/><rect x="-3.7" y="-1.6" width="2.4" height="3.2" fill="#b8b8b8"/><rect x="1.3" y="-1.6" width="2.4" height="3.2" fill="#b8b8b8"/><rect x="-1.6" y="-1.5" width="3.2" height="3" fill="#3a2a5a"/></g>
<g transform="matrix(0.9985 -0.0551 0.0685 0.9977 348.80 237.50)"><rect x="-5.0" y="-3.0" width="10.0" height="6.0" fill="none" stroke="#f0e6e6" stroke-width="0.9"/><rect x="-3.7" y="-1.6" width="2.4" height="3.2" fill="#b8b8b8"/><rect x="1.3" y="-1.6" width="2.4" height="3.2" fill="#b8b8b8"/><rect x="-1.6" y="-1.5" width="3.2" height="3" fill="#3a2a5a"/></g>
<text transform="matrix(0.9984 -0.0558 0.0657 0.9978 318.80 252.50)" x="0" y="0" font-size="6.2" fill="#f6f0f0" text-anchor="middle" dominant-baseline="central" font-weight="bold" font-family="Liberation Mono" stroke="#f6f0f0" stroke-width="0.35">OPA659IDSGR</text>
<g transform="matrix(0.9987 -0.0518 0.0672 0.9977 330.75 175.00)"><rect x="-28.2" y="-21.0" width="12" height="4.4" fill="#8c8c8c"/><rect x="-20.2" y="-21.0" width="4" height="4.4" fill="#c4c4c4"/><rect x="16.2" y="-22.8" width="12" height="4.4" fill="#8c8c8c"/><rect x="16.2" y="-22.8" width="4" height="4.4" fill="#c4c4c4"/><rect x="-28.2" y="-15.0" width="12" height="4.4" fill="#8c8c8c"/><rect x="-20.2" y="-15.0" width="4" height="4.4" fill="#c4c4c4"/><rect x="16.2" y="-16.8" width="12" height="4.4" fill="#8c8c8c"/><rect x="16.2" y="-16.8" width="4" height="4.4" fill="#c4c4c4"/><rect x="-28.2" y="-4.2" width="12" height="4.4" fill="#8c8c8c"/><rect x="-20.2" y="-4.2" width="4" height="4.4" fill="#c4c4c4"/><rect x="16.2" y="-6.0" width="12" height="4.4" fill="#8c8c8c"/><rect x="16.2" y="-6.0" width="4" height="4.4" fill="#c4c4c4"/><rect x="-28.2" y="1.4" width="12" height="4.4" fill="#8c8c8c"/><rect x="-20.2" y="1.4" width="4" height="4.4" fill="#c4c4c4"/><rect x="16.2" y="-0.4" width="12" height="4.4" fill="#8c8c8c"/><rect x="16.2" y="-0.4" width="4" height="4.4" fill="#c4c4c4"/><rect x="-28.2" y="7.0" width="12" height="4.4" fill="#8c8c8c"/><rect x="-20.2" y="7.0" width="4" height="4.4" fill="#c4c4c4"/><rect x="16.2" y="5.2" width="12" height="4.4" fill="#8c8c8c"/><rect x="16.2" y="5.2" width="4" height="4.4" fill="#c4c4c4"/><rect x="-28.2" y="12.6" width="12" height="4.4" fill="#8c8c8c"/><rect x="-20.2" y="12.6" width="4" height="4.4" fill="#c4c4c4"/><rect x="16.2" y="10.8" width="12" height="4.4" fill="#8c8c8c"/><rect x="16.2" y="10.8" width="4" height="4.4" fill="#c4c4c4"/><rect x="-28.2" y="18.2" width="12" height="4.4" fill="#8c8c8c"/><rect x="-20.2" y="18.2" width="4" height="4.4" fill="#c4c4c4"/><rect x="16.2" y="16.4" width="12" height="4.4" fill="#8c8c8c"/><rect x="16.2" y="16.4" width="4" height="4.4" fill="#c4c4c4"/><rect x="-28.2" y="23.8" width="12" height="4.4" fill="#8c8c8c"/><rect x="-20.2" y="23.8" width="4" height="4.4" fill="#c4c4c4"/><rect x="16.2" y="22.0" width="12" height="4.4" fill="#8c8c8c"/><rect x="16.2" y="22.0" width="4" height="4.4" fill="#c4c4c4"/><rect x="-28.2" y="29.4" width="12" height="4.4" fill="#8c8c8c"/><rect x="-20.2" y="29.4" width="4" height="4.4" fill="#c4c4c4"/><rect x="16.2" y="27.6" width="12" height="4.4" fill="#8c8c8c"/><rect x="16.2" y="27.6" width="4" height="4.4" fill="#c4c4c4"/><rect x="-27.2" y="27.5" width="54.5" height="5" fill="#8a8a8a"/><rect x="-17.2" y="24.0" width="36.5" height="5" fill="#363b3a"/><rect x="-18.2" y="-25.0" width="36.5" height="50.0" fill="#d4d3d6"/><rect x="-14.8" y="-23.5" width="20" height="4.5" fill="#3ae0b4" rx="1"/><ellipse cx="7.8" cy="-21.2" rx="2.2" ry="1.3" fill="#333"/><rect x="-2" y="29.5" width="4" height="1.4" fill="#f0f0f0"/></g>
<g transform="matrix(0.9987 -0.0519 0.0764 0.9971 433.75 170.25)"><rect x="-26.8" y="-21.2" width="12" height="4.4" fill="#8c8c8c"/><rect x="-18.8" y="-21.2" width="4" height="4.4" fill="#c4c4c4"/><rect x="14.8" y="-23.1" width="12" height="4.4" fill="#8c8c8c"/><rect x="14.8" y="-23.1" width="4" height="4.4" fill="#c4c4c4"/><rect x="-26.8" y="-15.2" width="12" height="4.4" fill="#8c8c8c"/><rect x="-18.8" y="-15.2" width="4" height="4.4" fill="#c4c4c4"/><rect x="14.8" y="-17.1" width="12" height="4.4" fill="#8c8c8c"/><rect x="14.8" y="-17.1" width="4" height="4.4" fill="#c4c4c4"/><rect x="-26.8" y="-4.5" width="12" height="4.4" fill="#8c8c8c"/><rect x="-18.8" y="-4.5" width="4" height="4.4" fill="#c4c4c4"/><rect x="14.8" y="-6.3" width="12" height="4.4" fill="#8c8c8c"/><rect x="14.8" y="-6.3" width="4" height="4.4" fill="#c4c4c4"/><rect x="-26.8" y="1.1" width="12" height="4.4" fill="#8c8c8c"/><rect x="-18.8" y="1.1" width="4" height="4.4" fill="#c4c4c4"/><rect x="14.8" y="-0.7" width="12" height="4.4" fill="#8c8c8c"/><rect x="14.8" y="-0.7" width="4" height="4.4" fill="#c4c4c4"/><rect x="-26.8" y="6.8" width="12" height="4.4" fill="#8c8c8c"/><rect x="-18.8" y="6.8" width="4" height="4.4" fill="#c4c4c4"/><rect x="14.8" y="5.0" width="12" height="4.4" fill="#8c8c8c"/><rect x="14.8" y="5.0" width="4" height="4.4" fill="#c4c4c4"/><rect x="-26.8" y="12.3" width="12" height="4.4" fill="#8c8c8c"/><rect x="-18.8" y="12.3" width="4" height="4.4" fill="#c4c4c4"/><rect x="14.8" y="10.5" width="12" height="4.4" fill="#8c8c8c"/><rect x="14.8" y="10.5" width="4" height="4.4" fill="#c4c4c4"/><rect x="-26.8" y="17.9" width="12" height="4.4" fill="#8c8c8c"/><rect x="-18.8" y="17.9" width="4" height="4.4" fill="#c4c4c4"/><rect x="14.8" y="16.1" width="12" height="4.4" fill="#8c8c8c"/><rect x="14.8" y="16.1" width="4" height="4.4" fill="#c4c4c4"/><rect x="-26.8" y="23.5" width="12" height="4.4" fill="#8c8c8c"/><rect x="-18.8" y="23.5" width="4" height="4.4" fill="#c4c4c4"/><rect x="14.8" y="21.7" width="12" height="4.4" fill="#8c8c8c"/><rect x="14.8" y="21.7" width="4" height="4.4" fill="#c4c4c4"/><rect x="-26.8" y="29.1" width="12" height="4.4" fill="#8c8c8c"/><rect x="-18.8" y="29.1" width="4" height="4.4" fill="#c4c4c4"/><rect x="14.8" y="27.3" width="12" height="4.4" fill="#8c8c8c"/><rect x="14.8" y="27.3" width="4" height="4.4" fill="#c4c4c4"/><rect x="-25.8" y="27.8" width="51.5" height="5" fill="#8a8a8a"/><rect x="-15.8" y="24.2" width="33.5" height="5" fill="#363b3a"/><rect x="-16.8" y="-25.2" width="33.5" height="50.5" fill="#d4d3d6"/><rect x="-13.2" y="-23.8" width="20" height="4.5" fill="#3ae0b4" rx="1"/><ellipse cx="9.2" cy="-21.4" rx="2.2" ry="1.3" fill="#333"/><rect x="-2" y="29.8" width="4" height="1.4" fill="#f0f0f0"/></g>
<text transform="matrix(0.9987 -0.0506 0.0763 0.9971 431.00 146.50)" x="0" y="0" font-size="6.2" fill="#f6f0f0" text-anchor="middle" dominant-baseline="central" font-weight="bold" font-family="Liberation Mono" stroke="#f6f0f0" stroke-width="0.35">G6K-2F-RF-T-TR03_DC5</text>
<g transform="matrix(-0.0660 -0.9978 0.9988 -0.0493 313.80 126.00)"><rect x="-5.0" y="-3.0" width="10.0" height="6.0" fill="none" stroke="#f0e6e6" stroke-width="0.9"/><rect x="-3.7" y="-1.6" width="2.4" height="3.2" fill="#b8b8b8"/><rect x="1.3" y="-1.6" width="2.4" height="3.2" fill="#b8b8b8"/><rect x="-1.6" y="-1.5" width="3.2" height="3" fill="#3a2a5a"/></g>
<g transform="matrix(-0.0679 -0.9977 0.9988 -0.0494 335.00 127.50)"><rect x="-6" y="-4.5" width="3.5" height="3" fill="#8a8a8a"/><rect x="-6" y="1.5" width="3.5" height="3" fill="#8a8a8a"/><rect x="3" y="-1.5" width="3.5" height="3" fill="#8a8a8a"/><rect x="-3.2" y="-4.5" width="6.6" height="10" fill="#2a2b2b"/><circle cx="-5" cy="-3.5" r="1" fill="#40d0b0"/></g>
<g transform="matrix(-0.0646 -0.9979 0.9988 -0.0493 297.50 127.50)"><rect x="-3.5" y="-1.5" width="2.6" height="3" fill="#b8b8b8"/><rect x="0.9" y="-1.5" width="2.6" height="3" fill="#b8b8b8"/><rect x="-1" y="-1.2" width="2" height="2.4" fill="#3a2a40"/></g>
<text transform="matrix(-0.0736 -0.9973 0.9988 -0.0492 398.50 120.00)" x="0" y="0" font-size="6" fill="#f6f0f0" text-anchor="middle" dominant-baseline="central" font-weight="bold" font-family="Liberation Mono" stroke="#f6f0f0" stroke-width="0.35">C153</text>
<text transform="matrix(-0.0756 -0.9971 0.9988 -0.0491 421.00 117.00)" x="0" y="0" font-size="6" fill="#f6f0f0" text-anchor="middle" dominant-baseline="central" font-weight="bold" font-family="Liberation Mono" stroke="#f6f0f0" stroke-width="0.35">C158</text>
<text transform="matrix(-0.0774 -0.9970 0.9988 -0.0491 441.00 116.00)" x="0" y="0" font-size="6" fill="#f6f0f0" text-anchor="middle" dominant-baseline="central" font-weight="bold" font-family="Liberation Mono" stroke="#f6f0f0" stroke-width="0.35">C159</text>
<text transform="matrix(-0.0792 -0.9969 0.9988 -0.0492 461.50 116.00)" x="0" y="0" font-size="6" fill="#f6f0f0" text-anchor="middle" dominant-baseline="central" font-weight="bold" font-family="Liberation Mono" stroke="#f6f0f0" stroke-width="0.35">C160</text>
<text transform="matrix(0.9988 -0.0495 0.0746 0.9972 410.00 124.50)" x="0" y="0" font-size="6" fill="#f6f0f0" text-anchor="middle" dominant-baseline="central" font-weight="bold" font-family="Liberation Mono" stroke="#f6f0f0" stroke-width="0.35">6.8nH</text>
<text transform="matrix(0.9988 -0.0495 0.0765 0.9971 432.00 124.00)" x="0" y="0" font-size="6" fill="#f6f0f0" text-anchor="middle" dominant-baseline="central" font-weight="bold" font-family="Liberation Mono" stroke="#f6f0f0" stroke-width="0.35">6.8nH</text>
<text transform="matrix(0.9988 -0.0495 0.0783 0.9969 452.00 122.50)" x="0" y="0" font-size="6" fill="#f6f0f0" text-anchor="middle" dominant-baseline="central" font-weight="bold" font-family="Liberation Mono" stroke="#f6f0f0" stroke-width="0.35">R149</text>
<text transform="matrix(0.9987 -0.0501 0.0748 0.9972 413.00 137.50)" x="0" y="0" font-size="6" fill="#f6f0f0" text-anchor="middle" dominant-baseline="central" font-weight="bold" font-family="Liberation Mono" stroke="#f6f0f0" stroke-width="0.35">L16</text>
<text transform="matrix(0.9987 -0.0501 0.0765 0.9971 433.00 136.50)" x="0" y="0" font-size="6" fill="#f6f0f0" text-anchor="middle" dominant-baseline="central" font-weight="bold" font-family="Liberation Mono" stroke="#f6f0f0" stroke-width="0.35">L17</text>
<g transform="matrix(-0.0739 -0.9973 0.9988 -0.0499 402.50 133.50)"><rect x="-5.0" y="-3.0" width="10.0" height="6.0" fill="none" stroke="#f0e6e6" stroke-width="0.9"/><rect x="-3.7" y="-1.6" width="2.4" height="3.2" fill="#b8b8b8"/><rect x="1.3" y="-1.6" width="2.4" height="3.2" fill="#b8b8b8"/><rect x="-1.6" y="-1.5" width="3.2" height="3" fill="#3a2a5a"/></g>
<g transform="matrix(-0.0757 -0.9971 0.9988 -0.0499 423.00 132.50)"><rect x="-5.0" y="-3.0" width="10.0" height="6.0" fill="none" stroke="#f0e6e6" stroke-width="0.9"/><rect x="-3.7" y="-1.6" width="2.4" height="3.2" fill="#b8b8b8"/><rect x="1.3" y="-1.6" width="2.4" height="3.2" fill="#b8b8b8"/><rect x="-1.6" y="-1.5" width="3.2" height="3" fill="#3a2a5a"/></g>
<g transform="matrix(-0.0775 -0.9970 0.9988 -0.0499 443.00 131.50)"><rect x="-5.0" y="-3.0" width="10.0" height="6.0" fill="none" stroke="#f0e6e6" stroke-width="0.9"/><rect x="-3.7" y="-1.6" width="2.4" height="3.2" fill="#b8b8b8"/><rect x="1.3" y="-1.6" width="2.4" height="3.2" fill="#b8b8b8"/><rect x="-1.6" y="-1.5" width="3.2" height="3" fill="#3a2a5a"/></g>
<g transform="matrix(-0.0792 -0.9969 0.9988 -0.0499 463.00 130.50)"><rect x="-5.0" y="-3.0" width="10.0" height="6.0" fill="none" stroke="#f0e6e6" stroke-width="0.9"/><rect x="-3.7" y="-1.6" width="2.4" height="3.2" fill="#b8b8b8"/><rect x="1.3" y="-1.6" width="2.4" height="3.2" fill="#b8b8b8"/><rect x="-1.6" y="-1.5" width="3.2" height="3" fill="#3a2a5a"/></g>
<g transform="matrix(0.9988 -0.0498 0.0783 0.9969 452.00 128.50)"><rect x="-5.0" y="-3.0" width="10.0" height="6.0" fill="none" stroke="#f0e6e6" stroke-width="0.9"/><rect x="-3.7" y="-1.6" width="2.4" height="3.2" fill="#b8b8b8"/><rect x="1.3" y="-1.6" width="2.4" height="3.2" fill="#b8b8b8"/><rect x="-1.6" y="-1.5" width="3.2" height="3" fill="#3a2a5a"/></g>
<g transform="matrix(0.9988 -0.0497 0.0747 0.9972 412.00 130.00)"><rect x="-3.5" y="-1.5" width="2.6" height="3" fill="#b8b8b8"/><rect x="0.9" y="-1.5" width="2.6" height="3" fill="#b8b8b8"/><rect x="-1" y="-1.2" width="2" height="2.4" fill="#3a2a40"/></g>
<g transform="matrix(0.9988 -0.0497 0.0765 0.9971 431.50 129.00)"><rect x="-3.5" y="-1.5" width="2.6" height="3" fill="#b8b8b8"/><rect x="0.9" y="-1.5" width="2.6" height="3" fill="#b8b8b8"/><rect x="-1" y="-1.2" width="2" height="2.4" fill="#3a2a40"/></g>
<g transform="matrix(-0.0832 -0.9965 0.9987 -0.0503 508.00 135.50)"><rect x="-6" y="-4.5" width="3.5" height="3" fill="#8a8a8a"/><rect x="-6" y="1.5" width="3.5" height="3" fill="#8a8a8a"/><rect x="3" y="-1.5" width="3.5" height="3" fill="#8a8a8a"/><rect x="-3.2" y="-4.5" width="6.6" height="10" fill="#2a2b2b"/><circle cx="-5" cy="-3.5" r="1" fill="#40d0b0"/></g>
<g transform="matrix(-0.0848 -0.9964 0.9987 -0.0505 526.50 138.00)"><rect x="-5.0" y="-3.0" width="10.0" height="6.0" fill="none" stroke="#f0e6e6" stroke-width="0.9"/><rect x="-3.7" y="-1.6" width="2.4" height="3.2" fill="#b8b8b8"/><rect x="1.3" y="-1.6" width="2.4" height="3.2" fill="#b8b8b8"/><rect x="-1.6" y="-1.5" width="3.2" height="3" fill="#3a2a5a"/></g>
<g transform="matrix(0.9988 -0.0499 0.0850 0.9964 528.00 128.00)"><rect x="-3.5" y="-1.5" width="2.6" height="3" fill="#b8b8b8"/><rect x="0.9" y="-1.5" width="2.6" height="3" fill="#b8b8b8"/><rect x="-1" y="-1.2" width="2" height="2.4" fill="#3a2a40"/></g>
<text transform="matrix(0.9987 -0.0512 0.0819 0.9966 495.00 154.00)" x="0" y="0" font-size="6" fill="#f6f0f0" text-anchor="middle" dominant-baseline="central" font-weight="bold" font-family="Liberation Mono" stroke="#f6f0f0" stroke-width="0.35">R241</text>
<g transform="matrix(0.9987 -0.0516 0.0818 0.9967 494.00 161.00)"><rect x="-5.0" y="-3.0" width="10.0" height="6.0" fill="none" stroke="#f0e6e6" stroke-width="0.9"/><rect x="-3.7" y="-1.6" width="2.4" height="3.2" fill="#b8b8b8"/><rect x="1.3" y="-1.6" width="2.4" height="3.2" fill="#b8b8b8"/><rect x="-1.6" y="-1.5" width="3.2" height="3" fill="#3a2a5a"/></g>
<g transform="matrix(0.9987 -0.0515 0.0829 0.9966 506.50 160.00)"><rect x="-3.5" y="-1.5" width="2.6" height="3" fill="#b8b8b8"/><rect x="0.9" y="-1.5" width="2.6" height="3" fill="#b8b8b8"/><rect x="-1" y="-1.2" width="2" height="2.4" fill="#3a2a40"/></g>
<rect transform="matrix(0.9986 -0.0525 0.0826 0.9966 504.50 178.50)" x="-3.75" y="-6.50" width="7.50" height="13.00" rx="0.00" fill="#111" stroke="none" stroke-width="0" />
<ellipse transform="matrix(0.9986 -0.0520 0.0828 0.9966 506.50 169.00)" rx="1.20" ry="1.20" fill="#40d0b0" stroke="none" stroke-width="0"/>
<text transform="matrix(-0.0838 -0.9965 0.9986 -0.0522 518.00 172.00)" x="0" y="0" font-size="6" fill="#f6f0f0" text-anchor="middle" dominant-baseline="central" font-weight="bold" font-family="Liberation Mono" stroke="#f6f0f0" stroke-width="0.35">TLP3475_TPJ</text>
<g transform="matrix(0.9986 -0.0534 0.0826 0.9966 506.00 195.00)"><rect x="-5.0" y="-3.0" width="10.0" height="6.0" fill="none" stroke="#f0e6e6" stroke-width="0.9"/><rect x="-3.7" y="-1.6" width="2.4" height="3.2" fill="#b8b8b8"/><rect x="1.3" y="-1.6" width="2.4" height="3.2" fill="#b8b8b8"/><rect x="-1.6" y="-1.5" width="3.2" height="3" fill="#3a2a5a"/></g>
<text transform="matrix(0.9986 -0.0537 0.0827 0.9966 508.00 202.00)" x="0" y="0" font-size="6" fill="#f6f0f0" text-anchor="middle" dominant-baseline="central" font-weight="bold" font-family="Liberation Mono" stroke="#f6f0f0" stroke-width="0.35">C72</text>
<text transform="matrix(0.9984 -0.0571 0.0588 0.9983 242.00 283.40)" x="0" y="0" font-size="6.2" fill="#f6f0f0" text-anchor="middle" dominant-baseline="central" font-weight="bold" font-family="Liberation Mono" stroke="#f6f0f0" stroke-width="0.35">1kHz out</text>
<text transform="matrix(0.9983 -0.0584 0.0582 0.9983 236.80 308.00)" x="0" y="0" font-size="6.2" fill="#f6f0f0" text-anchor="middle" dominant-baseline="central" font-weight="bold" font-family="Liberation Mono" stroke="#f6f0f0" stroke-width="0.35">GND</text>
<ellipse transform="matrix(0.9983 -0.0577 0.0578 0.9983 231.40 294.70)" rx="6.20" ry="6.20" fill="#8c8c8c" stroke="none" stroke-width="0"/>
<ellipse transform="matrix(0.9983 -0.0577 0.0578 0.9983 231.40 294.70)" rx="3.60" ry="3.60" fill="#121212" stroke="none" stroke-width="0"/>
<ellipse transform="matrix(0.9983 -0.0577 0.0578 0.9983 231.40 294.70)" cx="-0.3" cy="0.9" rx="3.06" ry="2.59" fill="#e4e8e6"/>
<ellipse transform="matrix(0.9983 -0.0577 0.0601 0.9982 257.30 293.20)" rx="6.20" ry="6.20" fill="#8c8c8c" stroke="none" stroke-width="0"/>
<ellipse transform="matrix(0.9983 -0.0577 0.0601 0.9982 257.30 293.20)" rx="3.60" ry="3.60" fill="#121212" stroke="none" stroke-width="0"/>
<ellipse transform="matrix(0.9983 -0.0577 0.0601 0.9982 257.30 293.20)" cx="-0.3" cy="0.9" rx="3.06" ry="2.59" fill="#e4e8e6"/>
<ellipse transform="matrix(0.9983 -0.0589 0.0578 0.9983 232.70 319.30)" rx="6.20" ry="6.20" fill="#8c8c8c" stroke="none" stroke-width="0"/>
<ellipse transform="matrix(0.9983 -0.0589 0.0578 0.9983 232.70 319.30)" rx="3.60" ry="3.60" fill="#121212" stroke="none" stroke-width="0"/>
<ellipse transform="matrix(0.9983 -0.0589 0.0578 0.9983 232.70 319.30)" cx="-0.3" cy="0.9" rx="3.06" ry="2.59" fill="#e4e8e6"/>
<ellipse transform="matrix(0.9983 -0.0589 0.0601 0.9982 258.80 317.80)" rx="6.20" ry="6.20" fill="#8c8c8c" stroke="none" stroke-width="0"/>
<ellipse transform="matrix(0.9983 -0.0589 0.0601 0.9982 258.80 317.80)" rx="3.60" ry="3.60" fill="#121212" stroke="none" stroke-width="0"/>
<ellipse transform="matrix(0.9983 -0.0589 0.0601 0.9982 258.80 317.80)" cx="-0.3" cy="0.9" rx="3.06" ry="2.59" fill="#e4e8e6"/>
<line x1="216.00" y1="295.00" x2="225.00" y2="294.70" stroke="#f4eeee" stroke-width="0.8"/>
<line x1="216.00" y1="296.90" x2="225.00" y2="296.70" stroke="#f4eeee" stroke-width="0.8"/>
<line x1="238.00" y1="293.70" x2="251.00" y2="293.00" stroke="#f4eeee" stroke-width="0.8"/>
<line x1="238.00" y1="295.90" x2="251.00" y2="295.20" stroke="#f4eeee" stroke-width="0.8"/>
<line x1="216.00" y1="319.60" x2="225.00" y2="319.30" stroke="#f4eeee" stroke-width="0.8"/>
<line x1="216.00" y1="321.50" x2="225.00" y2="321.30" stroke="#f4eeee" stroke-width="0.8"/>
<line x1="238.00" y1="318.30" x2="251.00" y2="317.60" stroke="#f4eeee" stroke-width="0.8"/>
<line x1="238.00" y1="320.50" x2="251.00" y2="319.80" stroke="#f4eeee" stroke-width="0.8"/>
<g transform="matrix(0.9983 -0.0576 0.0619 0.9981 277.00 291.00)"><rect x="-3.5" y="-1.5" width="2.6" height="3" fill="#b8b8b8"/><rect x="0.9" y="-1.5" width="2.6" height="3" fill="#b8b8b8"/><rect x="-1" y="-1.2" width="2" height="2.4" fill="#3a2a40"/></g>
<polygon points="221.70,372.60 294.10,367.30 298.80,432.20 225.10,437.30" fill="none" stroke="#f2ecec" stroke-width="1.1" stroke-linejoin="round"/>
<ellipse transform="matrix(0.9981 -0.0616 0.0613 0.9981 275.20 368.80)" rx="10.80" ry="10.80" fill="#8a8a8a" stroke="none" stroke-width="0"/>
<ellipse transform="matrix(0.9981 -0.0616 0.0613 0.9981 275.20 368.80)" rx="5.80" ry="5.80" fill="#121212" stroke="none" stroke-width="0"/>
<ellipse transform="matrix(0.9981 -0.0616 0.0613 0.9981 275.20 368.80)" cx="-0.3" cy="0.9" rx="4.93" ry="4.18" fill="#e4e8e6"/>
<ellipse transform="matrix(0.9979 -0.0649 0.0613 0.9981 279.00 433.50)" rx="10.80" ry="10.80" fill="#8a8a8a" stroke="none" stroke-width="0"/>
<ellipse transform="matrix(0.9979 -0.0649 0.0613 0.9981 279.00 433.50)" rx="5.80" ry="5.80" fill="#121212" stroke="none" stroke-width="0"/>
<ellipse transform="matrix(0.9979 -0.0649 0.0613 0.9981 279.00 433.50)" cx="-0.3" cy="0.9" rx="4.93" ry="4.18" fill="#e4e8e6"/>
<ellipse transform="matrix(0.9981 -0.0624 0.0625 0.9980 290.30 383.00)" rx="4.20" ry="4.20" fill="#8a8a8a" stroke="none" stroke-width="0"/>
<ellipse transform="matrix(0.9981 -0.0624 0.0625 0.9980 290.30 383.00)" rx="2.50" ry="2.50" fill="#121212" stroke="none" stroke-width="0"/>
<ellipse transform="matrix(0.9981 -0.0624 0.0625 0.9980 290.30 383.00)" cx="-0.3" cy="0.9" rx="2.12" ry="1.80" fill="#e4e8e6"/>
<ellipse transform="matrix(0.9980 -0.0630 0.0625 0.9980 291.30 394.40)" rx="4.20" ry="4.20" fill="#8a8a8a" stroke="none" stroke-width="0"/>
<ellipse transform="matrix(0.9980 -0.0630 0.0625 0.9980 291.30 394.40)" rx="2.50" ry="2.50" fill="#121212" stroke="none" stroke-width="0"/>
<ellipse transform="matrix(0.9980 -0.0630 0.0625 0.9980 291.30 394.40)" cx="-0.3" cy="0.9" rx="2.12" ry="1.80" fill="#e4e8e6"/>
<ellipse transform="matrix(0.9980 -0.0635 0.0625 0.9980 291.70 405.10)" rx="4.20" ry="4.20" fill="#8a8a8a" stroke="none" stroke-width="0"/>
<ellipse transform="matrix(0.9980 -0.0635 0.0625 0.9980 291.70 405.10)" rx="2.50" ry="2.50" fill="#121212" stroke="none" stroke-width="0"/>
<ellipse transform="matrix(0.9980 -0.0635 0.0625 0.9980 291.70 405.10)" cx="-0.3" cy="0.9" rx="2.12" ry="1.80" fill="#e4e8e6"/>
<ellipse transform="matrix(0.9979 -0.0641 0.0625 0.9980 292.20 417.60)" rx="4.20" ry="4.20" fill="#8a8a8a" stroke="none" stroke-width="0"/>
<ellipse transform="matrix(0.9979 -0.0641 0.0625 0.9980 292.20 417.60)" rx="2.50" ry="2.50" fill="#121212" stroke="none" stroke-width="0"/>
<ellipse transform="matrix(0.9979 -0.0641 0.0625 0.9980 292.20 417.60)" cx="-0.3" cy="0.9" rx="2.12" ry="1.80" fill="#e4e8e6"/>
<polygon points="228.00,478.50 300.50,473.50 305.00,537.50 231.50,542.50" fill="none" stroke="#f2ecec" stroke-width="1.1" stroke-linejoin="round"/>
<ellipse transform="matrix(0.9978 -0.0670 0.0613 0.9981 282.00 475.00)" rx="10.80" ry="10.80" fill="#8a8a8a" stroke="none" stroke-width="0"/>
<ellipse transform="matrix(0.9978 -0.0670 0.0613 0.9981 282.00 475.00)" rx="5.80" ry="5.80" fill="#121212" stroke="none" stroke-width="0"/>
<ellipse transform="matrix(0.9978 -0.0670 0.0613 0.9981 282.00 475.00)" cx="-0.3" cy="0.9" rx="4.93" ry="4.18" fill="#e4e8e6"/>
<ellipse transform="matrix(0.9975 -0.0704 0.0612 0.9981 285.30 541.00)" rx="10.80" ry="10.80" fill="#8a8a8a" stroke="none" stroke-width="0"/>
<ellipse transform="matrix(0.9975 -0.0704 0.0612 0.9981 285.30 541.00)" rx="5.80" ry="5.80" fill="#121212" stroke="none" stroke-width="0"/>
<ellipse transform="matrix(0.9975 -0.0704 0.0612 0.9981 285.30 541.00)" cx="-0.3" cy="0.9" rx="4.93" ry="4.18" fill="#e4e8e6"/>
<ellipse transform="matrix(0.9977 -0.0678 0.0625 0.9980 297.00 489.00)" rx="4.20" ry="4.20" fill="#8a8a8a" stroke="none" stroke-width="0"/>
<ellipse transform="matrix(0.9977 -0.0678 0.0625 0.9980 297.00 489.00)" rx="2.50" ry="2.50" fill="#121212" stroke="none" stroke-width="0"/>
<ellipse transform="matrix(0.9977 -0.0678 0.0625 0.9980 297.00 489.00)" cx="-0.3" cy="0.9" rx="2.12" ry="1.80" fill="#e4e8e6"/>
<ellipse transform="matrix(0.9977 -0.0685 0.0625 0.9980 297.80 502.00)" rx="4.20" ry="4.20" fill="#8a8a8a" stroke="none" stroke-width="0"/>
<ellipse transform="matrix(0.9977 -0.0685 0.0625 0.9980 297.80 502.00)" rx="2.50" ry="2.50" fill="#121212" stroke="none" stroke-width="0"/>
<ellipse transform="matrix(0.9977 -0.0685 0.0625 0.9980 297.80 502.00)" cx="-0.3" cy="0.9" rx="2.12" ry="1.80" fill="#e4e8e6"/>
<ellipse transform="matrix(0.9976 -0.0690 0.0625 0.9980 298.40 513.00)" rx="4.20" ry="4.20" fill="#8a8a8a" stroke="none" stroke-width="0"/>
<ellipse transform="matrix(0.9976 -0.0690 0.0625 0.9980 298.40 513.00)" rx="2.50" ry="2.50" fill="#121212" stroke="none" stroke-width="0"/>
<ellipse transform="matrix(0.9976 -0.0690 0.0625 0.9980 298.40 513.00)" cx="-0.3" cy="0.9" rx="2.12" ry="1.80" fill="#e4e8e6"/>
<ellipse transform="matrix(0.9976 -0.0696 0.0625 0.9980 299.40 524.70)" rx="4.20" ry="4.20" fill="#8a8a8a" stroke="none" stroke-width="0"/>
<ellipse transform="matrix(0.9976 -0.0696 0.0625 0.9980 299.40 524.70)" rx="2.50" ry="2.50" fill="#121212" stroke="none" stroke-width="0"/>
<ellipse transform="matrix(0.9976 -0.0696 0.0625 0.9980 299.40 524.70)" cx="-0.3" cy="0.9" rx="2.12" ry="1.80" fill="#e4e8e6"/>
<g transform="matrix(0.9982 -0.0601 0.0767 0.9971 450.00 329.50)"><rect x="-13.00" y="-6.60" width="5.00" height="1.20" fill="#b9b9b9"/><rect x="8.00" y="-6.60" width="5.00" height="1.20" fill="#b9b9b9"/><rect x="-13.00" y="-3.60" width="5.00" height="1.20" fill="#b9b9b9"/><rect x="8.00" y="-3.60" width="5.00" height="1.20" fill="#b9b9b9"/><rect x="-13.00" y="-0.60" width="5.00" height="1.20" fill="#b9b9b9"/><rect x="8.00" y="-0.60" width="5.00" height="1.20" fill="#b9b9b9"/><rect x="-13.00" y="2.40" width="5.00" height="1.20" fill="#b9b9b9"/><rect x="8.00" y="2.40" width="5.00" height="1.20" fill="#b9b9b9"/><rect x="-13.00" y="5.40" width="5.00" height="1.20" fill="#b9b9b9"/><rect x="8.00" y="5.40" width="5.00" height="1.20" fill="#b9b9b9"/><rect x="-8.00" y="-7.50" width="16.00" height="15.00" fill="#2f3030"/><circle cx="-6.50" cy="6.00" r="1" fill="#40d0b0"/></g>
<text transform="matrix(0.9981 -0.0609 0.0767 0.9971 451.00 344.00)" x="0" y="0" font-size="6.2" fill="#f6f0f0" text-anchor="middle" dominant-baseline="central" font-weight="bold" font-family="Liberation Mono" stroke="#f6f0f0" stroke-width="0.35">DAC8562SDGSR</text>
<g transform="matrix(0.9982 -0.0597 0.0744 0.9972 423.00 322.00)"><rect x="-5.0" y="-3.0" width="10.0" height="6.0" fill="none" stroke="#f0e6e6" stroke-width="0.9"/><rect x="-3.7" y="-1.6" width="2.4" height="3.2" fill="#b8b8b8"/><rect x="1.3" y="-1.6" width="2.4" height="3.2" fill="#b8b8b8"/><rect x="-1.6" y="-1.5" width="3.2" height="3" fill="#3a2a5a"/></g>
<g transform="matrix(0.9982 -0.0604 0.0745 0.9972 424.60 336.60)"><rect x="-5.0" y="-3.0" width="10.0" height="6.0" fill="none" stroke="#f0e6e6" stroke-width="0.9"/><rect x="-3.7" y="-1.6" width="2.4" height="3.2" fill="#b8b8b8"/><rect x="1.3" y="-1.6" width="2.4" height="3.2" fill="#b8b8b8"/><rect x="-1.6" y="-1.5" width="3.2" height="3" fill="#3a2a5a"/></g>
<g transform="matrix(0.9982 -0.0603 0.0822 0.9966 513.00 328.50)"><rect x="-11.54" y="-18.00" width="1.20" height="2.50" fill="#b9b9b9"/><rect x="-11.54" y="15.50" width="1.20" height="2.50" fill="#b9b9b9"/><rect x="-8.41" y="-18.00" width="1.20" height="2.50" fill="#b9b9b9"/><rect x="-8.41" y="15.50" width="1.20" height="2.50" fill="#b9b9b9"/><rect x="-5.29" y="-18.00" width="1.20" height="2.50" fill="#b9b9b9"/><rect x="-5.29" y="15.50" width="1.20" height="2.50" fill="#b9b9b9"/><rect x="-2.16" y="-18.00" width="1.20" height="2.50" fill="#b9b9b9"/><rect x="-2.16" y="15.50" width="1.20" height="2.50" fill="#b9b9b9"/><rect x="0.96" y="-18.00" width="1.20" height="2.50" fill="#b9b9b9"/><rect x="0.96" y="15.50" width="1.20" height="2.50" fill="#b9b9b9"/><rect x="4.09" y="-18.00" width="1.20" height="2.50" fill="#b9b9b9"/><rect x="4.09" y="15.50" width="1.20" height="2.50" fill="#b9b9b9"/><rect x="7.21" y="-18.00" width="1.20" height="2.50" fill="#b9b9b9"/><rect x="7.21" y="15.50" width="1.20" height="2.50" fill="#b9b9b9"/><rect x="10.34" y="-18.00" width="1.20" height="2.50" fill="#b9b9b9"/><rect x="10.34" y="15.50" width="1.20" height="2.50" fill="#b9b9b9"/><rect x="-12.50" y="-15.50" width="25.00" height="31.00" fill="#2f3030"/><circle cx="-11.00" cy="14.00" r="1" fill="#40d0b0"/></g>
<text transform="matrix(-0.0840 -0.9965 0.9982 -0.0601 533.00 323.00)" x="0" y="0" font-size="6" fill="#f6f0f0" text-anchor="middle" dominant-baseline="central" font-weight="bold" font-family="Liberation Mono" stroke="#f6f0f0" stroke-width="0.35">SN74AVC4T774PWR</text>
<g transform="matrix(-0.0815 -0.9967 0.9983 -0.0588 503.00 301.00)"><rect x="-5.0" y="-3.0" width="10.0" height="6.0" fill="none" stroke="#f0e6e6" stroke-width="0.9"/><rect x="-3.7" y="-1.6" width="2.4" height="3.2" fill="#b8b8b8"/><rect x="1.3" y="-1.6" width="2.4" height="3.2" fill="#b8b8b8"/><rect x="-1.6" y="-1.5" width="3.2" height="3" fill="#3a2a5a"/></g>
<g transform="matrix(-0.0804 -0.9968 0.9982 -0.0596 491.00 316.00)"><rect x="-5.0" y="-3.0" width="10.0" height="6.0" fill="none" stroke="#f0e6e6" stroke-width="0.9"/><rect x="-3.7" y="-1.6" width="2.4" height="3.2" fill="#b8b8b8"/><rect x="1.3" y="-1.6" width="2.4" height="3.2" fill="#b8b8b8"/><rect x="-1.6" y="-1.5" width="3.2" height="3" fill="#3a2a5a"/></g>
<g transform="matrix(0.9982 -0.0600 0.0881 0.9961 579.50 319.00)"><rect x="-8.8" y="-8.8" width="17.6" height="17.6" fill="#6a6a6a"/><rect x="-8.0" y="-8.0" width="16.0" height="16.0" fill="#2e2f2f"/><circle cx="-6.5" cy="-6.5" r="0.9" fill="#40d0b0"/></g>
<text transform="matrix(0.9982 -0.0595 0.0862 0.9963 557.00 310.00)" x="0" y="0" font-size="6" fill="#f6f0f0" text-anchor="middle" dominant-baseline="central" font-weight="bold" font-family="Liberation Mono" stroke="#f6f0f0" stroke-width="0.35">C112</text>
<g transform="matrix(0.9982 -0.0598 0.0863 0.9963 559.00 317.00)"><rect x="-5.0" y="-3.0" width="10.0" height="6.0" fill="none" stroke="#f0e6e6" stroke-width="0.9"/><rect x="-3.7" y="-1.6" width="2.4" height="3.2" fill="#b8b8b8"/><rect x="1.3" y="-1.6" width="2.4" height="3.2" fill="#b8b8b8"/><rect x="-1.6" y="-1.5" width="3.2" height="3" fill="#3a2a5a"/></g>
<g transform="matrix(0.9982 -0.0602 0.0862 0.9963 559.00 325.00)"><rect x="-5.0" y="-3.0" width="10.0" height="6.0" fill="none" stroke="#f0e6e6" stroke-width="0.9"/><rect x="-3.7" y="-1.6" width="2.4" height="3.2" fill="#b8b8b8"/><rect x="1.3" y="-1.6" width="2.4" height="3.2" fill="#b8b8b8"/><rect x="-1.6" y="-1.5" width="3.2" height="3" fill="#3a2a5a"/></g>
<text transform="matrix(0.9982 -0.0607 0.0862 0.9963 559.00 333.00)" x="0" y="0" font-size="6" fill="#f6f0f0" text-anchor="middle" dominant-baseline="central" font-weight="bold" font-family="Liberation Mono" stroke="#f6f0f0" stroke-width="0.35">C111</text>
<text transform="matrix(0.9982 -0.0594 0.0899 0.9960 599.00 306.00)" x="0" y="0" font-size="6" fill="#f6f0f0" text-anchor="middle" dominant-baseline="central" font-weight="bold" font-family="Liberation Mono" stroke="#f6f0f0" stroke-width="0.35">C129</text>
<g transform="matrix(0.9982 -0.0597 0.0898 0.9960 599.00 313.00)"><rect x="-5.0" y="-3.0" width="10.0" height="6.0" fill="none" stroke="#f0e6e6" stroke-width="0.9"/><rect x="-3.7" y="-1.6" width="2.4" height="3.2" fill="#b8b8b8"/><rect x="1.3" y="-1.6" width="2.4" height="3.2" fill="#b8b8b8"/><rect x="-1.6" y="-1.5" width="3.2" height="3" fill="#3a2a5a"/></g>
<g transform="matrix(0.9982 -0.0603 0.0897 0.9960 599.00 323.00)"><rect x="-5.0" y="-3.0" width="10.0" height="6.0" fill="none" stroke="#f0e6e6" stroke-width="0.9"/><rect x="-3.7" y="-1.6" width="2.4" height="3.2" fill="#b8b8b8"/><rect x="1.3" y="-1.6" width="2.4" height="3.2" fill="#b8b8b8"/><rect x="-1.6" y="-1.5" width="3.2" height="3" fill="#3a2a5a"/></g>
<text transform="matrix(0.9982 -0.0606 0.0898 0.9960 601.00 330.00)" x="0" y="0" font-size="6" fill="#f6f0f0" text-anchor="middle" dominant-baseline="central" font-weight="bold" font-family="Liberation Mono" stroke="#f6f0f0" stroke-width="0.35">C113</text>
<g transform="matrix(-0.0877 -0.9962 0.9981 -0.0613 577.00 344.00)"><rect x="-5.0" y="-3.0" width="10.0" height="6.0" fill="none" stroke="#f0e6e6" stroke-width="0.9"/><rect x="-3.7" y="-1.6" width="2.4" height="3.2" fill="#b8b8b8"/><rect x="1.3" y="-1.6" width="2.4" height="3.2" fill="#b8b8b8"/><rect x="-1.6" y="-1.5" width="3.2" height="3" fill="#3a2a5a"/></g>
<g transform="matrix(-0.0883 -0.9961 0.9981 -0.0613 585.00 344.00)"><rect x="-5.0" y="-3.0" width="10.0" height="6.0" fill="none" stroke="#f0e6e6" stroke-width="0.9"/><rect x="-3.7" y="-1.6" width="2.4" height="3.2" fill="#b8b8b8"/><rect x="1.3" y="-1.6" width="2.4" height="3.2" fill="#b8b8b8"/><rect x="-1.6" y="-1.5" width="3.2" height="3" fill="#3a2a5a"/></g>
<text transform="matrix(-0.0870 -0.9962 0.9981 -0.0614 570.00 347.00)" x="0" y="0" font-size="6" fill="#f6f0f0" text-anchor="middle" dominant-baseline="central" font-weight="bold" font-family="Liberation Mono" stroke="#f6f0f0" stroke-width="0.35">R196</text>
<text transform="matrix(-0.0890 -0.9960 0.9981 -0.0614 593.00 346.00)" x="0" y="0" font-size="6" fill="#f6f0f0" text-anchor="middle" dominant-baseline="central" font-weight="bold" font-family="Liberation Mono" stroke="#f6f0f0" stroke-width="0.35">R195</text>
<text transform="matrix(-0.0912 -0.9958 0.9982 -0.0600 615.00 318.00)" x="0" y="0" font-size="6" fill="#f6f0f0" text-anchor="middle" dominant-baseline="central" font-weight="bold" font-family="Liberation Mono" stroke="#f6f0f0" stroke-width="0.35">LMH6401IRMZR</text>
<g transform="matrix(-0.0917 -0.9958 0.9981 -0.0613 623.00 341.00)"><rect x="-6.5" y="-3.7" width="13.0" height="8.0" fill="#9a9a9a"/><rect x="-4.8" y="-4.0" width="9.6" height="7.2" fill="#f2f2f2"/><rect x="-3.0" y="-4.0" width="6.0" height="7.2" fill="#4b1fa0"/><rect x="-4.8" y="2.7" width="9.6" height="1" fill="#20302c"/></g>
<g transform="matrix(-0.0934 -0.9956 0.9981 -0.0613 643.00 340.00)"><rect x="-6.5" y="-3.7" width="13.0" height="8.0" fill="#9a9a9a"/><rect x="-4.8" y="-4.0" width="9.6" height="7.2" fill="#f2f2f2"/><rect x="-3.0" y="-4.0" width="6.0" height="7.2" fill="#4b1fa0"/><rect x="-4.8" y="2.7" width="9.6" height="1" fill="#20302c"/></g>
<text transform="matrix(-0.0924 -0.9957 0.9981 -0.0614 632.00 342.00)" x="0" y="0" font-size="6" fill="#f6f0f0" text-anchor="middle" dominant-baseline="central" font-weight="bold" font-family="Liberation Mono" stroke="#f6f0f0" stroke-width="0.35">10uF</text>
<text transform="matrix(-0.0943 -0.9955 0.9981 -0.0613 653.00 340.00)" x="0" y="0" font-size="6" fill="#f6f0f0" text-anchor="middle" dominant-baseline="central" font-weight="bold" font-family="Liberation Mono" stroke="#f6f0f0" stroke-width="0.35">10uF</text>
<g transform="matrix(0.9980 -0.0627 0.0840 0.9965 537.00 373.00)"><rect x="-6.5" y="-3.2" width="13.0" height="7.0" fill="#9a9a9a"/><rect x="-4.8" y="-3.5" width="9.6" height="6.2" fill="#f2f2f2"/><rect x="-3.0" y="-3.5" width="6.0" height="6.2" fill="#4b1fa0"/><rect x="-4.8" y="2.2" width="9.6" height="1" fill="#20302c"/></g>
<g transform="matrix(0.9980 -0.0637 0.0839 0.9965 538.00 392.40)"><rect x="-6.5" y="-3.2" width="13.0" height="7.0" fill="#9a9a9a"/><rect x="-4.8" y="-3.5" width="9.6" height="6.2" fill="#f2f2f2"/><rect x="-3.0" y="-3.5" width="6.0" height="6.2" fill="#4b1fa0"/><rect x="-4.8" y="2.2" width="9.6" height="1" fill="#20302c"/></g>
<text transform="matrix(0.9981 -0.0622 0.0839 0.9965 536.00 365.00)" x="0" y="0" font-size="6" fill="#f6f0f0" text-anchor="middle" dominant-baseline="central" font-weight="bold" font-family="Liberation Mono" stroke="#f6f0f0" stroke-width="0.35">10uF</text>
<text transform="matrix(0.9979 -0.0641 0.0839 0.9965 539.00 401.00)" x="0" y="0" font-size="6" fill="#f6f0f0" text-anchor="middle" dominant-baseline="central" font-weight="bold" font-family="Liberation Mono" stroke="#f6f0f0" stroke-width="0.35">10uF</text>
<text transform="matrix(0.9979 -0.0655 0.0828 0.9966 528.00 428.00)" x="0" y="0" font-size="5.5" fill="#f6f0f0" text-anchor="middle" dominant-baseline="central" font-weight="bold" font-family="Liberation Mono" stroke="#f6f0f0" stroke-width="0.35">C2 47nF</text>
<g transform="matrix(0.9978 -0.0660 0.0828 0.9966 529.00 438.00)"><rect x="-3.8" y="-2.2" width="7.6" height="4.4" fill="#9a9a9a"/><rect x="-2.8" y="-2.2" width="5.6" height="3.6" fill="#eeeeee"/><rect x="-1.4" y="-2.2" width="2.8" height="3.6" fill="#4b1fa0"/></g>
<g transform="matrix(0.9978 -0.0663 0.0828 0.9966 529.00 444.00)"><rect x="-3.8" y="-2.2" width="7.6" height="4.4" fill="#9a9a9a"/><rect x="-2.8" y="-2.2" width="5.6" height="3.6" fill="#eeeeee"/><rect x="-1.4" y="-2.2" width="2.8" height="3.6" fill="#4b1fa0"/></g>
<text transform="matrix(0.9978 -0.0666 0.0829 0.9966 531.00 450.00)" x="0" y="0" font-size="5.5" fill="#f6f0f0" text-anchor="middle" dominant-baseline="central" font-weight="bold" font-family="Liberation Mono" stroke="#f6f0f0" stroke-width="0.35">C1 nF</text>
<g transform="matrix(0.9978 -0.0669 0.0815 0.9967 515.00 457.00)"><rect x="-3.5" y="-1.5" width="2.6" height="3" fill="#b8b8b8"/><rect x="0.9" y="-1.5" width="2.6" height="3" fill="#b8b8b8"/><rect x="-1" y="-1.2" width="2" height="2.4" fill="#3a2a40"/></g>
<g transform="matrix(0.9978 -0.0669 0.0822 0.9966 523.00 457.00)"><rect x="-3.5" y="-1.5" width="2.6" height="3" fill="#b8b8b8"/><rect x="0.9" y="-1.5" width="2.6" height="3" fill="#b8b8b8"/><rect x="-1" y="-1.2" width="2" height="2.4" fill="#3a2a40"/></g>
<g transform="matrix(0.9978 -0.0670 0.0828 0.9966 530.00 457.00)"><rect x="-3.5" y="-1.5" width="2.6" height="3" fill="#b8b8b8"/><rect x="0.9" y="-1.5" width="2.6" height="3" fill="#b8b8b8"/><rect x="-1" y="-1.2" width="2" height="2.4" fill="#3a2a40"/></g>
<g transform="matrix(0.9978 -0.0670 0.0835 0.9965 538.00 457.00)"><rect x="-3.5" y="-1.5" width="2.6" height="3" fill="#b8b8b8"/><rect x="0.9" y="-1.5" width="2.6" height="3" fill="#b8b8b8"/><rect x="-1" y="-1.2" width="2" height="2.4" fill="#3a2a40"/></g>
<g transform="matrix(0.9977 -0.0674 0.0833 0.9965 537.00 464.00)"><rect x="-3.5" y="-1.5" width="2.6" height="3" fill="#b8b8b8"/><rect x="0.9" y="-1.5" width="2.6" height="3" fill="#b8b8b8"/><rect x="-1" y="-1.2" width="2" height="2.4" fill="#3a2a40"/></g>
<text transform="matrix(0.9985 -0.0543 0.0746 0.9972 417.50 217.80)" x="0" y="0" font-size="6" fill="#f6f0f0" text-anchor="middle" dominant-baseline="central" font-weight="bold" font-family="Liberation Mono" stroke="#f6f0f0" stroke-width="0.35">15nH</text>
<text transform="matrix(0.9985 -0.0543 0.0763 0.9971 437.00 217.80)" x="0" y="0" font-size="6" fill="#f6f0f0" text-anchor="middle" dominant-baseline="central" font-weight="bold" font-family="Liberation Mono" stroke="#f6f0f0" stroke-width="0.35">15nH</text>
<text transform="matrix(0.9985 -0.0544 0.0783 0.9969 458.80 217.00)" x="0" y="0" font-size="6" fill="#f6f0f0" text-anchor="middle" dominant-baseline="central" font-weight="bold" font-family="Liberation Mono" stroke="#f6f0f0" stroke-width="0.35">R158</text>
<g transform="matrix(-0.0738 -0.9973 0.9985 -0.0548 408.80 227.50)"><rect x="-5.0" y="-3.0" width="10.0" height="6.0" fill="none" stroke="#f0e6e6" stroke-width="0.9"/><rect x="-3.7" y="-1.6" width="2.4" height="3.2" fill="#b8b8b8"/><rect x="1.3" y="-1.6" width="2.4" height="3.2" fill="#b8b8b8"/><rect x="-1.6" y="-1.5" width="3.2" height="3" fill="#3a2a5a"/></g>
<g transform="matrix(-0.0756 -0.9971 0.9985 -0.0548 429.50 226.80)"><rect x="-5.0" y="-3.0" width="10.0" height="6.0" fill="none" stroke="#f0e6e6" stroke-width="0.9"/><rect x="-3.7" y="-1.6" width="2.4" height="3.2" fill="#b8b8b8"/><rect x="1.3" y="-1.6" width="2.4" height="3.2" fill="#b8b8b8"/><rect x="-1.6" y="-1.5" width="3.2" height="3" fill="#3a2a5a"/></g>
<g transform="matrix(-0.0774 -0.9970 0.9985 -0.0548 449.30 226.00)"><rect x="-5.0" y="-3.0" width="10.0" height="6.0" fill="none" stroke="#f0e6e6" stroke-width="0.9"/><rect x="-3.7" y="-1.6" width="2.4" height="3.2" fill="#b8b8b8"/><rect x="1.3" y="-1.6" width="2.4" height="3.2" fill="#b8b8b8"/><rect x="-1.6" y="-1.5" width="3.2" height="3" fill="#3a2a5a"/></g>
<g transform="matrix(-0.0792 -0.9969 0.9985 -0.0548 469.70 224.50)"><rect x="-5.0" y="-3.0" width="10.0" height="6.0" fill="none" stroke="#f0e6e6" stroke-width="0.9"/><rect x="-3.7" y="-1.6" width="2.4" height="3.2" fill="#b8b8b8"/><rect x="1.3" y="-1.6" width="2.4" height="3.2" fill="#b8b8b8"/><rect x="-1.6" y="-1.5" width="3.2" height="3" fill="#3a2a5a"/></g>
<g transform="matrix(0.9985 -0.0546 0.0783 0.9969 459.50 222.30)"><rect x="-5.0" y="-3.0" width="10.0" height="6.0" fill="none" stroke="#f0e6e6" stroke-width="0.9"/><rect x="-3.7" y="-1.6" width="2.4" height="3.2" fill="#b8b8b8"/><rect x="1.3" y="-1.6" width="2.4" height="3.2" fill="#b8b8b8"/><rect x="-1.6" y="-1.5" width="3.2" height="3" fill="#3a2a5a"/></g>
<g transform="matrix(0.9985 -0.0546 0.0746 0.9972 418.00 224.50)"><rect x="-3.5" y="-1.5" width="2.6" height="3" fill="#b8b8b8"/><rect x="0.9" y="-1.5" width="2.6" height="3" fill="#b8b8b8"/><rect x="-1" y="-1.2" width="2" height="2.4" fill="#3a2a40"/></g>
<g transform="matrix(0.9985 -0.0546 0.0764 0.9971 438.50 223.00)"><rect x="-3.5" y="-1.5" width="2.6" height="3" fill="#b8b8b8"/><rect x="0.9" y="-1.5" width="2.6" height="3" fill="#b8b8b8"/><rect x="-1" y="-1.2" width="2" height="2.4" fill="#3a2a40"/></g>
<text transform="matrix(0.9985 -0.0550 0.0748 0.9972 420.50 232.00)" x="0" y="0" font-size="6" fill="#f6f0f0" text-anchor="middle" dominant-baseline="central" font-weight="bold" font-family="Liberation Mono" stroke="#f6f0f0" stroke-width="0.35">L18</text>
<text transform="matrix(0.9985 -0.0550 0.0765 0.9971 440.00 230.50)" x="0" y="0" font-size="6" fill="#f6f0f0" text-anchor="middle" dominant-baseline="central" font-weight="bold" font-family="Liberation Mono" stroke="#f6f0f0" stroke-width="0.35">L19</text>
<text transform="matrix(-0.0738 -0.9973 0.9985 -0.0555 410.00 242.50)" x="0" y="0" font-size="6" fill="#f6f0f0" text-anchor="middle" dominant-baseline="central" font-weight="bold" font-family="Liberation Mono" stroke="#f6f0f0" stroke-width="0.35">C161</text>
<text transform="matrix(-0.0756 -0.9971 0.9985 -0.0555 430.00 241.00)" x="0" y="0" font-size="6" fill="#f6f0f0" text-anchor="middle" dominant-baseline="central" font-weight="bold" font-family="Liberation Mono" stroke="#f6f0f0" stroke-width="0.35">C162</text>
<text transform="matrix(-0.0774 -0.9970 0.9985 -0.0555 450.80 240.00)" x="0" y="0" font-size="6" fill="#f6f0f0" text-anchor="middle" dominant-baseline="central" font-weight="bold" font-family="Liberation Mono" stroke="#f6f0f0" stroke-width="0.35">C163</text>
<text transform="matrix(-0.0792 -0.9969 0.9985 -0.0554 470.80 236.50)" x="0" y="0" font-size="6" fill="#f6f0f0" text-anchor="middle" dominant-baseline="central" font-weight="bold" font-family="Liberation Mono" stroke="#f6f0f0" stroke-width="0.35">C164</text>
<g transform="matrix(0.9984 -0.0569 0.0791 0.9969 472.60 265.30)"><rect x="-16.85" y="-6.14" width="6.00" height="1.40" fill="#b9b9b9"/><rect x="10.85" y="-6.14" width="6.00" height="1.40" fill="#b9b9b9"/><rect x="-16.85" y="-2.51" width="6.00" height="1.40" fill="#b9b9b9"/><rect x="10.85" y="-2.51" width="6.00" height="1.40" fill="#b9b9b9"/><rect x="-16.85" y="1.11" width="6.00" height="1.40" fill="#b9b9b9"/><rect x="10.85" y="1.11" width="6.00" height="1.40" fill="#b9b9b9"/><rect x="-16.85" y="4.74" width="6.00" height="1.40" fill="#b9b9b9"/><rect x="10.85" y="4.74" width="6.00" height="1.40" fill="#b9b9b9"/><rect x="-10.85" y="-7.25" width="21.70" height="14.50" fill="#2f3030"/><circle cx="-9.35" cy="5.75" r="1" fill="#40d0b0"/></g>
<text transform="matrix(0.9983 -0.0576 0.0803 0.9968 486.50 279.00)" x="0" y="0" font-size="6.2" fill="#f6f0f0" text-anchor="middle" dominant-baseline="central" font-weight="bold" font-family="Liberation Mono" stroke="#f6f0f0" stroke-width="0.35">TLV9102PWR</text>
<g transform="matrix(0.9984 -0.0560 0.0765 0.9971 441.50 249.00)"><rect x="-5.0" y="-3.0" width="10.0" height="6.0" fill="none" stroke="#f0e6e6" stroke-width="0.9"/><rect x="-3.7" y="-1.6" width="2.4" height="3.2" fill="#b8b8b8"/><rect x="1.3" y="-1.6" width="2.4" height="3.2" fill="#b8b8b8"/><rect x="-1.6" y="-1.5" width="3.2" height="3" fill="#3a2a5a"/></g>
<g transform="matrix(0.9984 -0.0564 0.0765 0.9971 442.00 258.00)"><rect x="-5.0" y="-3.0" width="10.0" height="6.0" fill="none" stroke="#f0e6e6" stroke-width="0.9"/><rect x="-3.7" y="-1.6" width="2.4" height="3.2" fill="#b8b8b8"/><rect x="1.3" y="-1.6" width="2.4" height="3.2" fill="#b8b8b8"/><rect x="-1.6" y="-1.5" width="3.2" height="3" fill="#3a2a5a"/></g>
<g transform="matrix(0.9984 -0.0568 0.0765 0.9971 442.70 265.80)"><rect x="-5.0" y="-3.0" width="10.0" height="6.0" fill="none" stroke="#f0e6e6" stroke-width="0.9"/><rect x="-3.7" y="-1.6" width="2.4" height="3.2" fill="#b8b8b8"/><rect x="1.3" y="-1.6" width="2.4" height="3.2" fill="#b8b8b8"/><rect x="-1.6" y="-1.5" width="3.2" height="3" fill="#3a2a5a"/></g>
<g transform="matrix(0.9984 -0.0572 0.0765 0.9971 443.00 272.50)"><rect x="-5.0" y="-3.0" width="10.0" height="6.0" fill="none" stroke="#f0e6e6" stroke-width="0.9"/><rect x="-3.7" y="-1.6" width="2.4" height="3.2" fill="#b8b8b8"/><rect x="1.3" y="-1.6" width="2.4" height="3.2" fill="#b8b8b8"/><rect x="-1.6" y="-1.5" width="3.2" height="3" fill="#3a2a5a"/></g>
<g transform="matrix(0.9983 -0.0576 0.0765 0.9971 443.30 280.00)"><rect x="-5.0" y="-3.0" width="10.0" height="6.0" fill="none" stroke="#f0e6e6" stroke-width="0.9"/><rect x="-3.7" y="-1.6" width="2.4" height="3.2" fill="#b8b8b8"/><rect x="1.3" y="-1.6" width="2.4" height="3.2" fill="#b8b8b8"/><rect x="-1.6" y="-1.5" width="3.2" height="3" fill="#3a2a5a"/></g>
<g transform="matrix(0.9983 -0.0577 0.0778 0.9970 458.00 281.00)"><rect x="-5.0" y="-3.0" width="10.0" height="6.0" fill="none" stroke="#f0e6e6" stroke-width="0.9"/><rect x="-3.7" y="-1.6" width="2.4" height="3.2" fill="#b8b8b8"/><rect x="1.3" y="-1.6" width="2.4" height="3.2" fill="#b8b8b8"/><rect x="-1.6" y="-1.5" width="3.2" height="3" fill="#3a2a5a"/></g>
<g transform="matrix(0.9984 -0.0562 0.0805 0.9968 486.50 250.80)"><rect x="-5.0" y="-3.0" width="10.0" height="6.0" fill="none" stroke="#f0e6e6" stroke-width="0.9"/><rect x="-3.7" y="-1.6" width="2.4" height="3.2" fill="#b8b8b8"/><rect x="1.3" y="-1.6" width="2.4" height="3.2" fill="#b8b8b8"/><rect x="-1.6" y="-1.5" width="3.2" height="3" fill="#3a2a5a"/></g>
<g transform="matrix(-0.0815 -0.9967 0.9984 -0.0571 500.00 267.00)"><rect x="-5.0" y="-3.0" width="10.0" height="6.0" fill="none" stroke="#f0e6e6" stroke-width="0.9"/><rect x="-3.7" y="-1.6" width="2.4" height="3.2" fill="#b8b8b8"/><rect x="1.3" y="-1.6" width="2.4" height="3.2" fill="#b8b8b8"/><rect x="-1.6" y="-1.5" width="3.2" height="3" fill="#3a2a5a"/></g>
<text transform="matrix(-0.0822 -0.9966 0.9985 -0.0553 505.00 233.50)" x="0" y="0" font-size="6" fill="#f6f0f0" text-anchor="middle" dominant-baseline="central" font-weight="bold" font-family="Liberation Mono" stroke="#f6f0f0" stroke-width="0.35">OPA659IDSGR</text>
<g transform="matrix(0.9984 -0.0558 0.0837 0.9965 522.90 240.50)"><rect x="-6.3" y="-6.3" width="12.6" height="12.6" fill="#6a6a6a"/><rect x="-5.5" y="-5.5" width="11.0" height="11.0" fill="#2e2f2f"/><circle cx="-4.0" cy="-4.0" r="0.9" fill="#40d0b0"/></g>
<g transform="matrix(0.9985 -0.0553 0.0838 0.9965 522.50 231.30)"><rect x="-5.0" y="-3.0" width="10.0" height="6.0" fill="none" stroke="#f0e6e6" stroke-width="0.9"/><rect x="-3.7" y="-1.6" width="2.4" height="3.2" fill="#b8b8b8"/><rect x="1.3" y="-1.6" width="2.4" height="3.2" fill="#b8b8b8"/><rect x="-1.6" y="-1.5" width="3.2" height="3" fill="#3a2a5a"/></g>
<g transform="matrix(0.9984 -0.0564 0.0838 0.9965 524.80 252.30)"><rect x="-5.0" y="-3.0" width="10.0" height="6.0" fill="none" stroke="#f0e6e6" stroke-width="0.9"/><rect x="-3.7" y="-1.6" width="2.4" height="3.2" fill="#b8b8b8"/><rect x="1.3" y="-1.6" width="2.4" height="3.2" fill="#b8b8b8"/><rect x="-1.6" y="-1.5" width="3.2" height="3" fill="#3a2a5a"/></g>
<g transform="matrix(-0.0853 -0.9964 0.9984 -0.0558 541.30 241.00)"><rect x="-5.0" y="-3.0" width="10.0" height="6.0" fill="none" stroke="#f0e6e6" stroke-width="0.9"/><rect x="-3.7" y="-1.6" width="2.4" height="3.2" fill="#b8b8b8"/><rect x="1.3" y="-1.6" width="2.4" height="3.2" fill="#b8b8b8"/><rect x="-1.6" y="-1.5" width="3.2" height="3" fill="#3a2a5a"/></g>
<g transform="matrix(0.9985 -0.0553 0.0876 0.9962 566.00 229.00)"><rect x="-5.0" y="-3.0" width="10.0" height="6.0" fill="none" stroke="#f0e6e6" stroke-width="0.9"/><rect x="-3.7" y="-1.6" width="2.4" height="3.2" fill="#b8b8b8"/><rect x="1.3" y="-1.6" width="2.4" height="3.2" fill="#b8b8b8"/><rect x="-1.6" y="-1.5" width="3.2" height="3" fill="#3a2a5a"/></g>
<g transform="matrix(0.9985 -0.0552 0.0886 0.9961 578.00 227.00)"><rect x="-5.0" y="-3.0" width="10.0" height="6.0" fill="none" stroke="#f0e6e6" stroke-width="0.9"/><rect x="-3.7" y="-1.6" width="2.4" height="3.2" fill="#b8b8b8"/><rect x="1.3" y="-1.6" width="2.4" height="3.2" fill="#b8b8b8"/><rect x="-1.6" y="-1.5" width="3.2" height="3" fill="#3a2a5a"/></g>
<g transform="matrix(0.9984 -0.0557 0.0874 0.9962 565.00 237.00)"><rect x="-5.0" y="-3.0" width="10.0" height="6.0" fill="none" stroke="#f0e6e6" stroke-width="0.9"/><rect x="-3.7" y="-1.6" width="2.4" height="3.2" fill="#b8b8b8"/><rect x="1.3" y="-1.6" width="2.4" height="3.2" fill="#b8b8b8"/><rect x="-1.6" y="-1.5" width="3.2" height="3" fill="#3a2a5a"/></g>
<g transform="matrix(0.9985 -0.0556 0.0885 0.9961 577.00 235.00)"><rect x="-5.0" y="-3.0" width="10.0" height="6.0" fill="none" stroke="#f0e6e6" stroke-width="0.9"/><rect x="-3.7" y="-1.6" width="2.4" height="3.2" fill="#b8b8b8"/><rect x="1.3" y="-1.6" width="2.4" height="3.2" fill="#b8b8b8"/><rect x="-1.6" y="-1.5" width="3.2" height="3" fill="#3a2a5a"/></g>
<g transform="matrix(0.9984 -0.0562 0.0874 0.9962 566.00 246.00)"><rect x="-5.0" y="-3.0" width="10.0" height="6.0" fill="none" stroke="#f0e6e6" stroke-width="0.9"/><rect x="-3.7" y="-1.6" width="2.4" height="3.2" fill="#b8b8b8"/><rect x="1.3" y="-1.6" width="2.4" height="3.2" fill="#b8b8b8"/><rect x="-1.6" y="-1.5" width="3.2" height="3" fill="#3a2a5a"/></g>
<g transform="matrix(0.9984 -0.0561 0.0886 0.9961 579.00 244.00)"><rect x="-5.0" y="-3.0" width="10.0" height="6.0" fill="none" stroke="#f0e6e6" stroke-width="0.9"/><rect x="-3.7" y="-1.6" width="2.4" height="3.2" fill="#b8b8b8"/><rect x="1.3" y="-1.6" width="2.4" height="3.2" fill="#b8b8b8"/><rect x="-1.6" y="-1.5" width="3.2" height="3" fill="#3a2a5a"/></g>
<text transform="matrix(0.9985 -0.0550 0.0882 0.9961 572.00 223.00)" x="0" y="0" font-size="6" fill="#f6f0f0" text-anchor="middle" dominant-baseline="central" font-weight="bold" font-family="Liberation Mono" stroke="#f6f0f0" stroke-width="0.35">R193</text>
<g transform="matrix(0.9984 -0.0569 0.0880 0.9961 573.00 259.40)"><rect x="-7.0" y="-7.0" width="14.1" height="14.1" fill="#6a6a6a"/><rect x="-6.2" y="-6.2" width="12.5" height="12.5" fill="#2e2f2f"/><circle cx="-4.8" cy="-4.8" r="0.9" fill="#40d0b0"/></g>
<g transform="matrix(0.9984 -0.0567 0.0862 0.9963 552.50 257.50)"><rect x="-5.0" y="-3.0" width="10.0" height="6.0" fill="none" stroke="#f0e6e6" stroke-width="0.9"/><rect x="-3.7" y="-1.6" width="2.4" height="3.2" fill="#b8b8b8"/><rect x="1.3" y="-1.6" width="2.4" height="3.2" fill="#b8b8b8"/><rect x="-1.6" y="-1.5" width="3.2" height="3" fill="#3a2a5a"/></g>
<g transform="matrix(0.9984 -0.0572 0.0862 0.9963 553.30 266.50)"><rect x="-5.0" y="-3.0" width="10.0" height="6.0" fill="none" stroke="#f0e6e6" stroke-width="0.9"/><rect x="-3.7" y="-1.6" width="2.4" height="3.2" fill="#b8b8b8"/><rect x="1.3" y="-1.6" width="2.4" height="3.2" fill="#b8b8b8"/><rect x="-1.6" y="-1.5" width="3.2" height="3" fill="#3a2a5a"/></g>
<g transform="matrix(0.9984 -0.0567 0.0897 0.9960 592.30 254.50)"><rect x="-5.0" y="-3.0" width="10.0" height="6.0" fill="none" stroke="#f0e6e6" stroke-width="0.9"/><rect x="-3.7" y="-1.6" width="2.4" height="3.2" fill="#b8b8b8"/><rect x="1.3" y="-1.6" width="2.4" height="3.2" fill="#b8b8b8"/><rect x="-1.6" y="-1.5" width="3.2" height="3" fill="#3a2a5a"/></g>
<g transform="matrix(0.9984 -0.0572 0.0897 0.9960 593.00 263.50)"><rect x="-5.0" y="-3.0" width="10.0" height="6.0" fill="none" stroke="#f0e6e6" stroke-width="0.9"/><rect x="-3.7" y="-1.6" width="2.4" height="3.2" fill="#b8b8b8"/><rect x="1.3" y="-1.6" width="2.4" height="3.2" fill="#b8b8b8"/><rect x="-1.6" y="-1.5" width="3.2" height="3" fill="#3a2a5a"/></g>
<text transform="matrix(-0.0910 -0.9958 0.9984 -0.0570 608.00 259.00)" x="0" y="0" font-size="6" fill="#f6f0f0" text-anchor="middle" dominant-baseline="central" font-weight="bold" font-family="Liberation Mono" stroke="#f6f0f0" stroke-width="0.35">LMH5401IRMST</text>
<g transform="matrix(-0.0877 -0.9961 0.9983 -0.0584 572.80 289.00)"><rect x="-5.0" y="-3.0" width="10.0" height="6.0" fill="none" stroke="#f0e6e6" stroke-width="0.9"/><rect x="-3.7" y="-1.6" width="2.4" height="3.2" fill="#b8b8b8"/><rect x="1.3" y="-1.6" width="2.4" height="3.2" fill="#b8b8b8"/><rect x="-1.6" y="-1.5" width="3.2" height="3" fill="#3a2a5a"/></g>
<g transform="matrix(-0.0884 -0.9961 0.9983 -0.0584 580.30 289.00)"><rect x="-5.0" y="-3.0" width="10.0" height="6.0" fill="none" stroke="#f0e6e6" stroke-width="0.9"/><rect x="-3.7" y="-1.6" width="2.4" height="3.2" fill="#b8b8b8"/><rect x="1.3" y="-1.6" width="2.4" height="3.2" fill="#b8b8b8"/><rect x="-1.6" y="-1.5" width="3.2" height="3" fill="#3a2a5a"/></g>
<text transform="matrix(-0.0870 -0.9962 0.9983 -0.0584 565.00 290.00)" x="0" y="0" font-size="6" fill="#f6f0f0" text-anchor="middle" dominant-baseline="central" font-weight="bold" font-family="Liberation Mono" stroke="#f6f0f0" stroke-width="0.35">R187</text>
<text transform="matrix(-0.0890 -0.9960 0.9983 -0.0585 588.00 289.00)" x="0" y="0" font-size="6" fill="#f6f0f0" text-anchor="middle" dominant-baseline="central" font-weight="bold" font-family="Liberation Mono" stroke="#f6f0f0" stroke-width="0.35">R188</text>
<g transform="matrix(0.9982 -0.0595 0.0988 0.9951 701.00 302.00)"><rect x="-19.00" y="-10.99" width="8.00" height="1.40" fill="#b9b9b9"/><rect x="11.00" y="-10.99" width="8.00" height="1.40" fill="#b9b9b9"/><rect x="-19.00" y="-7.56" width="8.00" height="1.40" fill="#b9b9b9"/><rect x="11.00" y="-7.56" width="8.00" height="1.40" fill="#b9b9b9"/><rect x="-19.00" y="-4.13" width="8.00" height="1.40" fill="#b9b9b9"/><rect x="11.00" y="-4.13" width="8.00" height="1.40" fill="#b9b9b9"/><rect x="-19.00" y="-0.70" width="8.00" height="1.40" fill="#b9b9b9"/><rect x="11.00" y="-0.70" width="8.00" height="1.40" fill="#b9b9b9"/><rect x="-19.00" y="2.73" width="8.00" height="1.40" fill="#b9b9b9"/><rect x="11.00" y="2.73" width="8.00" height="1.40" fill="#b9b9b9"/><rect x="-19.00" y="6.16" width="8.00" height="1.40" fill="#b9b9b9"/><rect x="11.00" y="6.16" width="8.00" height="1.40" fill="#b9b9b9"/><rect x="-19.00" y="9.59" width="8.00" height="1.40" fill="#b9b9b9"/><rect x="11.00" y="9.59" width="8.00" height="1.40" fill="#b9b9b9"/><rect x="-11.00" y="-12.00" width="22.00" height="24.00" fill="#2f3030"/><circle cx="-9.50" cy="10.50" r="1" fill="#40d0b0"/></g>
<text transform="matrix(0.9983 -0.0584 0.0986 0.9951 697.00 282.00)" x="0" y="0" font-size="6.2" fill="#f6f0f0" text-anchor="middle" dominant-baseline="central" font-weight="bold" font-family="Liberation Mono" stroke="#f6f0f0" stroke-width="0.35">SN74AVC4T77LPWR</text>
<g transform="matrix(0.9983 -0.0590 0.0963 0.9954 672.00 295.00)"><rect x="-3.5" y="-1.5" width="2.6" height="3" fill="#b8b8b8"/><rect x="0.9" y="-1.5" width="2.6" height="3" fill="#b8b8b8"/><rect x="-1" y="-1.2" width="2" height="2.4" fill="#3a2a40"/></g>
<g transform="matrix(0.9982 -0.0593 0.0963 0.9954 672.00 300.00)"><rect x="-3.5" y="-1.5" width="2.6" height="3" fill="#b8b8b8"/><rect x="0.9" y="-1.5" width="2.6" height="3" fill="#b8b8b8"/><rect x="-1" y="-1.2" width="2" height="2.4" fill="#3a2a40"/></g>
<g transform="matrix(0.9982 -0.0596 0.0962 0.9954 672.00 305.00)"><rect x="-3.5" y="-1.5" width="2.6" height="3" fill="#b8b8b8"/><rect x="0.9" y="-1.5" width="2.6" height="3" fill="#b8b8b8"/><rect x="-1" y="-1.2" width="2" height="2.4" fill="#3a2a40"/></g>
<g transform="matrix(0.9982 -0.0598 0.0962 0.9954 672.00 310.00)"><rect x="-3.5" y="-1.5" width="2.6" height="3" fill="#b8b8b8"/><rect x="0.9" y="-1.5" width="2.6" height="3" fill="#b8b8b8"/><rect x="-1" y="-1.2" width="2" height="2.4" fill="#3a2a40"/></g>
<g transform="matrix(0.9982 -0.0604 0.0972 0.9953 685.00 320.00)"><rect x="-3.8" y="-2.2" width="7.6" height="4.4" fill="#9a9a9a"/><rect x="-2.8" y="-2.2" width="5.6" height="3.6" fill="#eeeeee"/><rect x="-1.4" y="-2.2" width="2.8" height="3.6" fill="#4b1fa0"/></g>
<g transform="matrix(0.9982 -0.0604 0.0998 0.9950 715.00 319.00)"><rect x="-3.8" y="-2.2" width="7.6" height="4.4" fill="#9a9a9a"/><rect x="-2.8" y="-2.2" width="5.6" height="3.6" fill="#eeeeee"/><rect x="-1.4" y="-2.2" width="2.8" height="3.6" fill="#4b1fa0"/></g>
<g transform="matrix(0.9978 -0.0662 0.0729 0.9973 414.50 450.00)"><rect x="-14.3" y="-14.3" width="28.6" height="28.6" fill="#6a6a6a"/><rect x="-13.5" y="-13.5" width="27.0" height="27.0" fill="#2e2f2f"/><circle cx="-12.0" cy="-12.0" r="0.9" fill="#40d0b0"/></g>
<text transform="matrix(0.9976 -0.0696 0.0727 0.9974 417.00 516.00)" x="0" y="0" font-size="6.2" fill="#f6f0f0" text-anchor="middle" dominant-baseline="central" font-weight="bold" font-family="Liberation Mono" stroke="#f6f0f0" stroke-width="0.35">ADF4530 PLL</text>
<g transform="matrix(-0.0725 -0.9974 0.9980 -0.0624 404.70 377.00)"><rect x="-5.0" y="-3.0" width="10.0" height="6.0" fill="none" stroke="#f0e6e6" stroke-width="0.9"/><rect x="-3.7" y="-1.6" width="2.4" height="3.2" fill="#b8b8b8"/><rect x="1.3" y="-1.6" width="2.4" height="3.2" fill="#b8b8b8"/><rect x="-1.6" y="-1.5" width="3.2" height="3" fill="#3a2a5a"/></g>
<g transform="matrix(-0.0734 -0.9973 0.9980 -0.0625 415.00 377.00)"><rect x="-5.0" y="-3.0" width="10.0" height="6.0" fill="none" stroke="#f0e6e6" stroke-width="0.9"/><rect x="-3.7" y="-1.6" width="2.4" height="3.2" fill="#b8b8b8"/><rect x="1.3" y="-1.6" width="2.4" height="3.2" fill="#b8b8b8"/><rect x="-1.6" y="-1.5" width="3.2" height="3" fill="#3a2a5a"/></g>
<g transform="matrix(-0.0715 -0.9974 0.9980 -0.0632 395.00 392.00)"><rect x="-5.0" y="-3.0" width="10.0" height="6.0" fill="none" stroke="#f0e6e6" stroke-width="0.9"/><rect x="-3.7" y="-1.6" width="2.4" height="3.2" fill="#b8b8b8"/><rect x="1.3" y="-1.6" width="2.4" height="3.2" fill="#b8b8b8"/><rect x="-1.6" y="-1.5" width="3.2" height="3" fill="#3a2a5a"/></g>
<g transform="matrix(-0.0724 -0.9974 0.9980 -0.0632 405.00 392.00)"><rect x="-5.0" y="-3.0" width="10.0" height="6.0" fill="none" stroke="#f0e6e6" stroke-width="0.9"/><rect x="-3.7" y="-1.6" width="2.4" height="3.2" fill="#b8b8b8"/><rect x="1.3" y="-1.6" width="2.4" height="3.2" fill="#b8b8b8"/><rect x="-1.6" y="-1.5" width="3.2" height="3" fill="#3a2a5a"/></g>
<g transform="matrix(-0.0733 -0.9973 0.9980 -0.0632 415.60 391.00)"><rect x="-5.0" y="-3.0" width="10.0" height="6.0" fill="none" stroke="#f0e6e6" stroke-width="0.9"/><rect x="-3.7" y="-1.6" width="2.4" height="3.2" fill="#b8b8b8"/><rect x="1.3" y="-1.6" width="2.4" height="3.2" fill="#b8b8b8"/><rect x="-1.6" y="-1.5" width="3.2" height="3" fill="#3a2a5a"/></g>
<g transform="matrix(0.9979 -0.0647 0.0719 0.9974 401.50 422.00)"><rect x="-5.0" y="-3.0" width="10.0" height="6.0" fill="none" stroke="#f0e6e6" stroke-width="0.9"/><rect x="-3.7" y="-1.6" width="2.4" height="3.2" fill="#b8b8b8"/><rect x="1.3" y="-1.6" width="2.4" height="3.2" fill="#b8b8b8"/><rect x="-1.6" y="-1.5" width="3.2" height="3" fill="#3a2a5a"/></g>
<g transform="matrix(0.9978 -0.0670 0.0751 0.9972 441.00 463.00)"><rect x="-5.0" y="-3.0" width="10.0" height="6.0" fill="none" stroke="#f0e6e6" stroke-width="0.9"/><rect x="-3.7" y="-1.6" width="2.4" height="3.2" fill="#b8b8b8"/><rect x="1.3" y="-1.6" width="2.4" height="3.2" fill="#b8b8b8"/><rect x="-1.6" y="-1.5" width="3.2" height="3" fill="#3a2a5a"/></g>
<g transform="matrix(0.9978 -0.0667 0.0702 0.9975 384.00 462.00)"><rect x="-5.0" y="-3.0" width="10.0" height="6.0" fill="none" stroke="#f0e6e6" stroke-width="0.9"/><rect x="-3.7" y="-1.6" width="2.4" height="3.2" fill="#b8b8b8"/><rect x="1.3" y="-1.6" width="2.4" height="3.2" fill="#b8b8b8"/><rect x="-1.6" y="-1.5" width="3.2" height="3" fill="#3a2a5a"/></g>
<g transform="matrix(0.9978 -0.0660 0.0702 0.9975 383.40 448.00)"><rect x="-5.0" y="-3.0" width="10.0" height="6.0" fill="none" stroke="#f0e6e6" stroke-width="0.9"/><rect x="-3.7" y="-1.6" width="2.4" height="3.2" fill="#b8b8b8"/><rect x="1.3" y="-1.6" width="2.4" height="3.2" fill="#b8b8b8"/><rect x="-1.6" y="-1.5" width="3.2" height="3" fill="#3a2a5a"/></g>
<g transform="matrix(0.9978 -0.0662 0.0675 0.9977 352.50 454.00)"><rect x="-5.0" y="-3.0" width="10.0" height="6.0" fill="none" stroke="#f0e6e6" stroke-width="0.9"/><rect x="-3.7" y="-1.6" width="2.4" height="3.2" fill="#b8b8b8"/><rect x="1.3" y="-1.6" width="2.4" height="3.2" fill="#b8b8b8"/><rect x="-1.6" y="-1.5" width="3.2" height="3" fill="#3a2a5a"/></g>
<g transform="matrix(0.9979 -0.0645 0.0702 0.9975 381.00 418.00)"><rect x="-5.0" y="-3.0" width="10.0" height="6.0" fill="none" stroke="#f0e6e6" stroke-width="0.9"/><rect x="-3.7" y="-1.6" width="2.4" height="3.2" fill="#b8b8b8"/><rect x="1.3" y="-1.6" width="2.4" height="3.2" fill="#b8b8b8"/><rect x="-1.6" y="-1.5" width="3.2" height="3" fill="#3a2a5a"/></g>
<g transform="matrix(0.9979 -0.0650 0.0702 0.9975 382.00 428.00)"><rect x="-5.0" y="-3.0" width="10.0" height="6.0" fill="none" stroke="#f0e6e6" stroke-width="0.9"/><rect x="-3.7" y="-1.6" width="2.4" height="3.2" fill="#b8b8b8"/><rect x="1.3" y="-1.6" width="2.4" height="3.2" fill="#b8b8b8"/><rect x="-1.6" y="-1.5" width="3.2" height="3" fill="#3a2a5a"/></g>
<g transform="matrix(0.9978 -0.0659 0.0773 0.9970 465.60 441.50)"><rect x="-5.0" y="-3.0" width="10.0" height="6.0" fill="none" stroke="#f0e6e6" stroke-width="0.9"/><rect x="-3.7" y="-1.6" width="2.4" height="3.2" fill="#b8b8b8"/><rect x="1.3" y="-1.6" width="2.4" height="3.2" fill="#b8b8b8"/><rect x="-1.6" y="-1.5" width="3.2" height="3" fill="#3a2a5a"/></g>
<g transform="matrix(0.9978 -0.0664 0.0773 0.9970 465.60 450.00)"><rect x="-5.0" y="-3.0" width="10.0" height="6.0" fill="none" stroke="#f0e6e6" stroke-width="0.9"/><rect x="-3.7" y="-1.6" width="2.4" height="3.2" fill="#b8b8b8"/><rect x="1.3" y="-1.6" width="2.4" height="3.2" fill="#b8b8b8"/><rect x="-1.6" y="-1.5" width="3.2" height="3" fill="#3a2a5a"/></g>
<g transform="matrix(-0.0733 -0.9973 0.9979 -0.0649 418.00 424.00)"><rect x="-5.0" y="-3.0" width="10.0" height="6.0" fill="none" stroke="#f0e6e6" stroke-width="0.9"/><rect x="-3.7" y="-1.6" width="2.4" height="3.2" fill="#b8b8b8"/><rect x="1.3" y="-1.6" width="2.4" height="3.2" fill="#b8b8b8"/><rect x="-1.6" y="-1.5" width="3.2" height="3" fill="#3a2a5a"/></g>
<g transform="matrix(-0.0744 -0.9972 0.9979 -0.0649 430.00 424.00)"><rect x="-5.0" y="-3.0" width="10.0" height="6.0" fill="none" stroke="#f0e6e6" stroke-width="0.9"/><rect x="-3.7" y="-1.6" width="2.4" height="3.2" fill="#b8b8b8"/><rect x="1.3" y="-1.6" width="2.4" height="3.2" fill="#b8b8b8"/><rect x="-1.6" y="-1.5" width="3.2" height="3" fill="#3a2a5a"/></g>
<g transform="matrix(-0.0769 -0.9970 0.9979 -0.0645 458.00 413.00)"><rect x="-5.0" y="-3.0" width="10.0" height="6.0" fill="none" stroke="#f0e6e6" stroke-width="0.9"/><rect x="-3.7" y="-1.6" width="2.4" height="3.2" fill="#b8b8b8"/><rect x="1.3" y="-1.6" width="2.4" height="3.2" fill="#b8b8b8"/><rect x="-1.6" y="-1.5" width="3.2" height="3" fill="#3a2a5a"/></g>
<g transform="matrix(-0.0777 -0.9970 0.9979 -0.0644 468.00 412.00)"><rect x="-5.0" y="-3.0" width="10.0" height="6.0" fill="none" stroke="#f0e6e6" stroke-width="0.9"/><rect x="-3.7" y="-1.6" width="2.4" height="3.2" fill="#b8b8b8"/><rect x="1.3" y="-1.6" width="2.4" height="3.2" fill="#b8b8b8"/><rect x="-1.6" y="-1.5" width="3.2" height="3" fill="#3a2a5a"/></g>
<g transform="matrix(-0.0764 -0.9971 0.9978 -0.0659 455.00 441.00)"><rect x="-5.0" y="-3.0" width="10.0" height="6.0" fill="none" stroke="#f0e6e6" stroke-width="0.9"/><rect x="-3.7" y="-1.6" width="2.4" height="3.2" fill="#b8b8b8"/><rect x="1.3" y="-1.6" width="2.4" height="3.2" fill="#b8b8b8"/><rect x="-1.6" y="-1.5" width="3.2" height="3" fill="#3a2a5a"/></g>
<g transform="matrix(-0.0764 -0.9971 0.9978 -0.0665 455.60 452.00)"><rect x="-5.0" y="-3.0" width="10.0" height="6.0" fill="none" stroke="#f0e6e6" stroke-width="0.9"/><rect x="-3.7" y="-1.6" width="2.4" height="3.2" fill="#b8b8b8"/><rect x="1.3" y="-1.6" width="2.4" height="3.2" fill="#b8b8b8"/><rect x="-1.6" y="-1.5" width="3.2" height="3" fill="#3a2a5a"/></g>
<g transform="matrix(-0.0733 -0.9973 0.9977 -0.0675 421.00 475.00)"><rect x="-5.0" y="-3.0" width="10.0" height="6.0" fill="none" stroke="#f0e6e6" stroke-width="0.9"/><rect x="-3.7" y="-1.6" width="2.4" height="3.2" fill="#b8b8b8"/><rect x="1.3" y="-1.6" width="2.4" height="3.2" fill="#b8b8b8"/><rect x="-1.6" y="-1.5" width="3.2" height="3" fill="#3a2a5a"/></g>
<g transform="matrix(-0.0661 -0.9978 0.9978 -0.0656 336.00 442.50)"><rect x="-5.0" y="-3.0" width="10.0" height="6.0" fill="none" stroke="#f0e6e6" stroke-width="0.9"/><rect x="-3.7" y="-1.6" width="2.4" height="3.2" fill="#b8b8b8"/><rect x="1.3" y="-1.6" width="2.4" height="3.2" fill="#b8b8b8"/><rect x="-1.6" y="-1.5" width="3.2" height="3" fill="#3a2a5a"/></g>
<g transform="matrix(-0.0662 -0.9978 0.9978 -0.0664 337.50 458.00)"><rect x="-5.0" y="-3.0" width="10.0" height="6.0" fill="none" stroke="#f0e6e6" stroke-width="0.9"/><rect x="-3.7" y="-1.6" width="2.4" height="3.2" fill="#b8b8b8"/><rect x="1.3" y="-1.6" width="2.4" height="3.2" fill="#b8b8b8"/><rect x="-1.6" y="-1.5" width="3.2" height="3" fill="#3a2a5a"/></g>
<g transform="matrix(-0.0711 -0.9975 0.9976 -0.0687 397.00 500.00)"><rect x="-5.0" y="-3.0" width="10.0" height="6.0" fill="none" stroke="#f0e6e6" stroke-width="0.9"/><rect x="-3.7" y="-1.6" width="2.4" height="3.2" fill="#b8b8b8"/><rect x="1.3" y="-1.6" width="2.4" height="3.2" fill="#b8b8b8"/><rect x="-1.6" y="-1.5" width="3.2" height="3" fill="#3a2a5a"/></g>
<g transform="matrix(-0.0724 -0.9974 0.9976 -0.0687 412.50 499.00)"><rect x="-5.0" y="-3.0" width="10.0" height="6.0" fill="none" stroke="#f0e6e6" stroke-width="0.9"/><rect x="-3.7" y="-1.6" width="2.4" height="3.2" fill="#b8b8b8"/><rect x="1.3" y="-1.6" width="2.4" height="3.2" fill="#b8b8b8"/><rect x="-1.6" y="-1.5" width="3.2" height="3" fill="#3a2a5a"/></g>
<g transform="matrix(-0.0737 -0.9973 0.9976 -0.0687 428.00 498.00)"><rect x="-5.0" y="-3.0" width="10.0" height="6.0" fill="none" stroke="#f0e6e6" stroke-width="0.9"/><rect x="-3.7" y="-1.6" width="2.4" height="3.2" fill="#b8b8b8"/><rect x="1.3" y="-1.6" width="2.4" height="3.2" fill="#b8b8b8"/><rect x="-1.6" y="-1.5" width="3.2" height="3" fill="#3a2a5a"/></g>
<g transform="matrix(-0.0750 -0.9972 0.9976 -0.0687 443.00 496.60)"><rect x="-5.0" y="-3.0" width="10.0" height="6.0" fill="none" stroke="#f0e6e6" stroke-width="0.9"/><rect x="-3.7" y="-1.6" width="2.4" height="3.2" fill="#b8b8b8"/><rect x="1.3" y="-1.6" width="2.4" height="3.2" fill="#b8b8b8"/><rect x="-1.6" y="-1.5" width="3.2" height="3" fill="#3a2a5a"/></g>
<g transform="matrix(-0.0684 -0.9977 0.9979 -0.0655 362.00 439.00)"><rect x="-3.5" y="-1.5" width="2.6" height="3" fill="#b8b8b8"/><rect x="0.9" y="-1.5" width="2.6" height="3" fill="#b8b8b8"/><rect x="-1" y="-1.2" width="2" height="2.4" fill="#3a2a40"/></g>
<g transform="matrix(-0.0684 -0.9977 0.9978 -0.0670 364.00 469.00)"><rect x="-3.5" y="-1.5" width="2.6" height="3" fill="#b8b8b8"/><rect x="0.9" y="-1.5" width="2.6" height="3" fill="#b8b8b8"/><rect x="-1" y="-1.2" width="2" height="2.4" fill="#3a2a40"/></g>
<text transform="matrix(0.9980 -0.0637 0.0724 0.9974 406.00 402.50)" x="0" y="0" font-size="6" fill="#f6f0f0" text-anchor="middle" dominant-baseline="central" font-weight="bold" font-family="Liberation Mono" stroke="#f6f0f0" stroke-width="0.35">R170</text>
<text transform="matrix(0.9979 -0.0645 0.0690 0.9976 367.00 419.00)" x="0" y="0" font-size="6" fill="#f6f0f0" text-anchor="middle" dominant-baseline="central" font-weight="bold" font-family="Liberation Mono" stroke="#f6f0f0" stroke-width="0.35">C145</text>
<text transform="matrix(0.9979 -0.0650 0.0689 0.9976 367.00 429.00)" x="0" y="0" font-size="6" fill="#f6f0f0" text-anchor="middle" dominant-baseline="central" font-weight="bold" font-family="Liberation Mono" stroke="#f6f0f0" stroke-width="0.35">C144</text>
<text transform="matrix(0.9979 -0.0643 0.0721 0.9974 403.00 414.00)" x="0" y="0" font-size="6" fill="#f6f0f0" text-anchor="middle" dominant-baseline="central" font-weight="bold" font-family="Liberation Mono" stroke="#f6f0f0" stroke-width="0.35">R176</text>
<text transform="matrix(0.9978 -0.0656 0.0703 0.9975 384.00 440.00)" x="0" y="0" font-size="6" fill="#f6f0f0" text-anchor="middle" dominant-baseline="central" font-weight="bold" font-family="Liberation Mono" stroke="#f6f0f0" stroke-width="0.35">C162</text>
<text transform="matrix(0.9978 -0.0666 0.0674 0.9977 352.00 462.00)" x="0" y="0" font-size="6" fill="#f6f0f0" text-anchor="middle" dominant-baseline="central" font-weight="bold" font-family="Liberation Mono" stroke="#f6f0f0" stroke-width="0.35">C154</text>
<text transform="matrix(0.9977 -0.0671 0.0701 0.9975 384.00 470.00)" x="0" y="0" font-size="6" fill="#f6f0f0" text-anchor="middle" dominant-baseline="central" font-weight="bold" font-family="Liberation Mono" stroke="#f6f0f0" stroke-width="0.35">C149</text>
<text transform="matrix(0.9977 -0.0674 0.0750 0.9972 441.00 471.00)" x="0" y="0" font-size="6" fill="#f6f0f0" text-anchor="middle" dominant-baseline="central" font-weight="bold" font-family="Liberation Mono" stroke="#f6f0f0" stroke-width="0.35">C147</text>
<text transform="matrix(0.9978 -0.0667 0.0773 0.9970 466.60 457.00)" x="0" y="0" font-size="6" fill="#f6f0f0" text-anchor="middle" dominant-baseline="central" font-weight="bold" font-family="Liberation Mono" stroke="#f6f0f0" stroke-width="0.35">C152</text>
<text transform="matrix(-0.0710 -0.9975 0.9980 -0.0630 388.00 390.00)" x="0" y="0" font-size="5.6" fill="#f6f0f0" text-anchor="middle" dominant-baseline="central" font-weight="bold" font-family="Liberation Mono" stroke="#f6f0f0" stroke-width="0.35">C156</text>
<text transform="matrix(-0.0742 -0.9972 0.9980 -0.0629 425.00 384.00)" x="0" y="0" font-size="5.6" fill="#f6f0f0" text-anchor="middle" dominant-baseline="central" font-weight="bold" font-family="Liberation Mono" stroke="#f6f0f0" stroke-width="0.35">C155</text>
<text transform="matrix(-0.0740 -0.9973 0.9981 -0.0622 422.00 372.00)" x="0" y="0" font-size="5.6" fill="#f6f0f0" text-anchor="middle" dominant-baseline="central" font-weight="bold" font-family="Liberation Mono" stroke="#f6f0f0" stroke-width="0.35">C157</text>
<text transform="matrix(-0.0730 -0.9973 0.9981 -0.0622 410.00 373.00)" x="0" y="0" font-size="5.6" fill="#f6f0f0" text-anchor="middle" dominant-baseline="central" font-weight="bold" font-family="Liberation Mono" stroke="#f6f0f0" stroke-width="0.35">R185</text>
<text transform="matrix(-0.0763 -0.9971 0.9979 -0.0645 452.00 414.00)" x="0" y="0" font-size="5.6" fill="#f6f0f0" text-anchor="middle" dominant-baseline="central" font-weight="bold" font-family="Liberation Mono" stroke="#f6f0f0" stroke-width="0.35">C150</text>
<text transform="matrix(-0.0785 -0.9969 0.9979 -0.0645 477.00 412.00)" x="0" y="0" font-size="5.6" fill="#f6f0f0" text-anchor="middle" dominant-baseline="central" font-weight="bold" font-family="Liberation Mono" stroke="#f6f0f0" stroke-width="0.35">R153</text>
<text transform="matrix(-0.0726 -0.9974 0.9977 -0.0675 413.00 476.00)" x="0" y="0" font-size="5.6" fill="#f6f0f0" text-anchor="middle" dominant-baseline="central" font-weight="bold" font-family="Liberation Mono" stroke="#f6f0f0" stroke-width="0.35">C148</text>
<text transform="matrix(-0.0703 -0.9975 0.9976 -0.0686 388.00 499.00)" x="0" y="0" font-size="5.6" fill="#f6f0f0" text-anchor="middle" dominant-baseline="central" font-weight="bold" font-family="Liberation Mono" stroke="#f6f0f0" stroke-width="0.35">R174</text>
<text transform="matrix(-0.0717 -0.9974 0.9976 -0.0686 404.00 498.00)" x="0" y="0" font-size="5.6" fill="#f6f0f0" text-anchor="middle" dominant-baseline="central" font-weight="bold" font-family="Liberation Mono" stroke="#f6f0f0" stroke-width="0.35">R173</text>
<text transform="matrix(-0.0730 -0.9973 0.9976 -0.0686 420.00 497.00)" x="0" y="0" font-size="5.6" fill="#f6f0f0" text-anchor="middle" dominant-baseline="central" font-weight="bold" font-family="Liberation Mono" stroke="#f6f0f0" stroke-width="0.35">R156</text>
<text transform="matrix(-0.0744 -0.9972 0.9976 -0.0686 436.00 495.00)" x="0" y="0" font-size="5.6" fill="#f6f0f0" text-anchor="middle" dominant-baseline="central" font-weight="bold" font-family="Liberation Mono" stroke="#f6f0f0" stroke-width="0.35">R175</text>
<text transform="matrix(-0.0656 -0.9978 0.9978 -0.0657 330.00 446.00)" x="0" y="0" font-size="5.6" fill="#f6f0f0" text-anchor="middle" dominant-baseline="central" font-weight="bold" font-family="Liberation Mono" stroke="#f6f0f0" stroke-width="0.35">C51</text>
<text transform="matrix(-0.0655 -0.9979 0.9978 -0.0663 330.00 458.00)" x="0" y="0" font-size="5.6" fill="#f6f0f0" text-anchor="middle" dominant-baseline="central" font-weight="bold" font-family="Liberation Mono" stroke="#f6f0f0" stroke-width="0.35">R177</text>
<text transform="matrix(-0.0679 -0.9977 0.9978 -0.0656 356.00 441.00)" x="0" y="0" font-size="5.6" fill="#f6f0f0" text-anchor="middle" dominant-baseline="central" font-weight="bold" font-family="Liberation Mono" stroke="#f6f0f0" stroke-width="0.35">R7</text>
<text transform="matrix(-0.0680 -0.9977 0.9978 -0.0669 359.00 467.00)" x="0" y="0" font-size="5.6" fill="#f6f0f0" text-anchor="middle" dominant-baseline="central" font-weight="bold" font-family="Liberation Mono" stroke="#f6f0f0" stroke-width="0.35">R6</text>
<text transform="matrix(-0.0758 -0.9971 0.9978 -0.0658 448.00 440.00)" x="0" y="0" font-size="5.6" fill="#f6f0f0" text-anchor="middle" dominant-baseline="central" font-weight="bold" font-family="Liberation Mono" stroke="#f6f0f0" stroke-width="0.35">R153R156</text>
<polyline points="238.00,586.00 257.00,585.50 258.00,611.00 239.00,611.50" fill="none" stroke="#f2ecec" stroke-width="1.0" stroke-linejoin="round"/>
<rect transform="matrix(0.9973 -0.0732 0.0580 0.9983 250.70 597.50)" x="-5.50" y="-4.50" width="11.00" height="9.00" rx="0.00" fill="#e8e8e8" stroke="none" stroke-width="0" />
<rect transform="matrix(0.9973 -0.0733 0.0580 0.9983 250.70 599.50)" x="-5.00" y="-1.25" width="10.00" height="2.50" rx="0.00" fill="#40d0a8" stroke="none" stroke-width="0" />
<rect transform="matrix(0.9973 -0.0729 0.0593 0.9982 265.50 591.00)" x="-5.00" y="-5.00" width="10.00" height="10.00" rx="0.00" fill="#8a8a8a" stroke="none" stroke-width="0" />
<ellipse transform="matrix(0.9973 -0.0729 0.0593 0.9982 265.50 591.00)" rx="2.60" ry="2.60" fill="#151515" stroke="none" stroke-width="0"/>
<ellipse transform="matrix(0.9973 -0.0735 0.0593 0.9982 266.00 603.40)" rx="5.00" ry="5.00" fill="#8c8c8c" stroke="none" stroke-width="0"/>
<ellipse transform="matrix(0.9973 -0.0735 0.0593 0.9982 266.00 603.40)" rx="2.60" ry="2.60" fill="#121212" stroke="none" stroke-width="0"/>
<ellipse transform="matrix(0.9973 -0.0735 0.0593 0.9982 266.00 603.40)" cx="-0.3" cy="0.9" rx="2.21" ry="1.87" fill="#e4e8e6"/>
<text transform="matrix(0.9974 -0.0724 0.0576 0.9983 245.40 583.70)" x="0" y="0" font-size="6" fill="#f6f0f0" text-anchor="middle" dominant-baseline="central" font-weight="bold" font-family="Liberation Mono" stroke="#f6f0f0" stroke-width="0.35">U3</text>
<text transform="matrix(-0.0601 -0.9982 0.9973 -0.0732 275.00 596.40)" x="0" y="0" font-size="6" fill="#f6f0f0" text-anchor="middle" dominant-baseline="central" font-weight="bold" font-family="Liberation Mono" stroke="#f6f0f0" stroke-width="0.35">H1</text>
<g transform="matrix(0.9974 -0.0722 0.0576 0.9983 245.00 579.00)"><rect x="-3.8" y="-2.2" width="7.6" height="4.4" fill="#9a9a9a"/><rect x="-2.8" y="-2.2" width="5.6" height="3.6" fill="#eeeeee"/><rect x="-1.4" y="-2.2" width="2.8" height="3.6" fill="#4b1fa0"/></g>
<polyline points="235.90,635.50 281.30,631.30 283.40,681.00 239.00,685.20" fill="none" stroke="#f2ecec" stroke-width="1.0" stroke-linejoin="round"/>
<ellipse transform="matrix(0.9972 -0.0753 0.0585 0.9983 259.10 638.70)" rx="8.20" ry="8.20" fill="#8e8e8e" stroke="none" stroke-width="0"/>
<ellipse transform="matrix(0.9972 -0.0753 0.0585 0.9983 259.10 638.70)" rx="4.60" ry="4.60" fill="#121212" stroke="none" stroke-width="0"/>
<ellipse transform="matrix(0.9972 -0.0753 0.0585 0.9983 259.10 638.70)" cx="-0.3" cy="0.9" rx="3.91" ry="3.31" fill="#e4e8e6"/>
<ellipse transform="matrix(0.9970 -0.0773 0.0585 0.9983 261.20 677.80)" rx="8.20" ry="8.20" fill="#8e8e8e" stroke="none" stroke-width="0"/>
<ellipse transform="matrix(0.9970 -0.0773 0.0585 0.9983 261.20 677.80)" rx="4.60" ry="4.60" fill="#121212" stroke="none" stroke-width="0"/>
<ellipse transform="matrix(0.9970 -0.0773 0.0585 0.9983 261.20 677.80)" cx="-0.3" cy="0.9" rx="3.91" ry="3.31" fill="#e4e8e6"/>
<rect transform="matrix(0.9971 -0.0763 0.0607 0.9982 285.50 656.70)" x="-3.00" y="-3.00" width="6.00" height="6.00" rx="0.00" fill="none" stroke="#f2ecec" stroke-width="0.9" />
<line x1="288.00" y1="656.50" x2="296.00" y2="656.20" stroke="#f4eeee" stroke-width="0.9"/>
<ellipse transform="matrix(0.9971 -0.0763 0.0620 0.9981 301.40 655.00)" rx="3.20" ry="3.20" fill="#222" stroke="none" stroke-width="0"/>
<ellipse transform="matrix(0.9971 -0.0763 0.0620 0.9981 301.40 655.00)" rx="1.80" ry="1.80" fill="#aaa" stroke="none" stroke-width="0"/>
<text transform="matrix(-0.0610 -0.9981 0.9970 -0.0771 290.80 672.00)" x="0" y="0" font-size="6.2" fill="#f6f0f0" text-anchor="middle" dominant-baseline="central" font-weight="bold" font-family="Liberation Mono" stroke="#f6f0f0" stroke-width="0.35">BNCIN2</text>
<text transform="matrix(0.9970 -0.0780 0.0615 0.9981 298.00 688.40)" x="0" y="0" font-size="6" fill="#f6f0f0" text-anchor="middle" dominant-baseline="central" font-weight="bold" font-family="Liberation Mono" stroke="#f6f0f0" stroke-width="0.35">C105</text>
<text transform="matrix(0.9969 -0.0790 0.0615 0.9981 299.30 709.50)" x="0" y="0" font-size="6" fill="#f6f0f0" text-anchor="middle" dominant-baseline="central" font-weight="bold" font-family="Liberation Mono" stroke="#f6f0f0" stroke-width="0.35">C106</text>
<text transform="matrix(0.9968 -0.0801 0.0616 0.9981 301.40 730.70)" x="0" y="0" font-size="6" fill="#f6f0f0" text-anchor="middle" dominant-baseline="central" font-weight="bold" font-family="Liberation Mono" stroke="#f6f0f0" stroke-width="0.35">C136</text>
<text transform="matrix(0.9967 -0.0812 0.0617 0.9981 303.50 751.80)" x="0" y="0" font-size="6" fill="#f6f0f0" text-anchor="middle" dominant-baseline="central" font-weight="bold" font-family="Liberation Mono" stroke="#f6f0f0" stroke-width="0.35">C137</text>
<g transform="matrix(0.9970 -0.0780 0.0629 0.9980 314.00 687.30)"><rect x="-5.0" y="-3.0" width="10.0" height="6.0" fill="none" stroke="#f0e6e6" stroke-width="0.9"/><rect x="-3.7" y="-1.6" width="2.4" height="3.2" fill="#b8b8b8"/><rect x="1.3" y="-1.6" width="2.4" height="3.2" fill="#b8b8b8"/><rect x="-1.6" y="-1.5" width="3.2" height="3" fill="#3a2a5a"/></g>
<g transform="matrix(0.9969 -0.0791 0.0629 0.9980 315.00 708.50)"><rect x="-5.0" y="-3.0" width="10.0" height="6.0" fill="none" stroke="#f0e6e6" stroke-width="0.9"/><rect x="-3.7" y="-1.6" width="2.4" height="3.2" fill="#b8b8b8"/><rect x="1.3" y="-1.6" width="2.4" height="3.2" fill="#b8b8b8"/><rect x="-1.6" y="-1.5" width="3.2" height="3" fill="#3a2a5a"/></g>
<g transform="matrix(0.9968 -0.0801 0.0629 0.9980 316.20 729.60)"><rect x="-5.0" y="-3.0" width="10.0" height="6.0" fill="none" stroke="#f0e6e6" stroke-width="0.9"/><rect x="-3.7" y="-1.6" width="2.4" height="3.2" fill="#b8b8b8"/><rect x="1.3" y="-1.6" width="2.4" height="3.2" fill="#b8b8b8"/><rect x="-1.6" y="-1.5" width="3.2" height="3" fill="#3a2a5a"/></g>
<g transform="matrix(0.9967 -0.0812 0.0629 0.9980 318.30 750.80)"><rect x="-5.0" y="-3.0" width="10.0" height="6.0" fill="none" stroke="#f0e6e6" stroke-width="0.9"/><rect x="-3.7" y="-1.6" width="2.4" height="3.2" fill="#b8b8b8"/><rect x="1.3" y="-1.6" width="2.4" height="3.2" fill="#b8b8b8"/><rect x="-1.6" y="-1.5" width="3.2" height="3" fill="#3a2a5a"/></g>
<g transform="matrix(-0.0632 -0.9980 0.9967 -0.0807 321.00 740.20)"><rect x="-5.0" y="-3.0" width="10.0" height="6.0" fill="none" stroke="#f0e6e6" stroke-width="0.9"/><rect x="-3.7" y="-1.6" width="2.4" height="3.2" fill="#b8b8b8"/><rect x="1.3" y="-1.6" width="2.4" height="3.2" fill="#b8b8b8"/><rect x="-1.6" y="-1.5" width="3.2" height="3" fill="#3a2a5a"/></g>
<g transform="matrix(-0.0631 -0.9980 0.9969 -0.0785 317.30 696.80)"><rect x="-3.5" y="-1.5" width="2.6" height="3" fill="#b8b8b8"/><rect x="0.9" y="-1.5" width="2.6" height="3" fill="#b8b8b8"/><rect x="-1" y="-1.2" width="2" height="2.4" fill="#3a2a40"/></g>
<g transform="matrix(-0.0632 -0.9980 0.9968 -0.0796 319.00 718.00)"><rect x="-3.5" y="-1.5" width="2.6" height="3" fill="#b8b8b8"/><rect x="0.9" y="-1.5" width="2.6" height="3" fill="#b8b8b8"/><rect x="-1" y="-1.2" width="2" height="2.4" fill="#3a2a40"/></g>
<text transform="matrix(-0.0626 -0.9980 0.9969 -0.0785 311.00 697.00)" x="0" y="0" font-size="5.6" fill="#f6f0f0" text-anchor="middle" dominant-baseline="central" font-weight="bold" font-family="Liberation Mono" stroke="#f6f0f0" stroke-width="0.35">L4</text>
<text transform="matrix(-0.0627 -0.9980 0.9968 -0.0795 313.00 718.00)" x="0" y="0" font-size="5.6" fill="#f6f0f0" text-anchor="middle" dominant-baseline="central" font-weight="bold" font-family="Liberation Mono" stroke="#f6f0f0" stroke-width="0.35">L7</text>
<text transform="matrix(-0.0637 -0.9980 0.9969 -0.0785 324.00 697.00)" x="0" y="0" font-size="5.6" fill="#f6f0f0" text-anchor="middle" dominant-baseline="central" font-weight="bold" font-family="Liberation Mono" stroke="#f6f0f0" stroke-width="0.35">3.3nH</text>
<text transform="matrix(-0.0638 -0.9980 0.9968 -0.0796 326.00 718.00)" x="0" y="0" font-size="5.6" fill="#f6f0f0" text-anchor="middle" dominant-baseline="central" font-weight="bold" font-family="Liberation Mono" stroke="#f6f0f0" stroke-width="0.35">3.3nH</text>
<text transform="matrix(0.9967 -0.0812 0.0588 0.9983 269.70 754.00)" x="0" y="0" font-size="6.2" fill="#f6f0f0" text-anchor="middle" dominant-baseline="central" font-weight="bold" font-family="Liberation Mono" stroke="#f6f0f0" stroke-width="0.35">OUTSPLIT</text>
<rect transform="matrix(0.9966 -0.0823 0.0575 0.9983 255.00 776.50)" x="-11.00" y="-4.00" width="22.00" height="8.00" rx="0.00" fill="#8e8e8e" stroke="none" stroke-width="0" />
<rect transform="matrix(0.9966 -0.0830 0.0574 0.9984 255.00 790.00)" x="-11.00" y="-1.75" width="22.00" height="3.50" rx="0.00" fill="#8e8e8e" stroke="none" stroke-width="0" />
<rect transform="matrix(0.9965 -0.0836 0.0573 0.9984 255.00 803.00)" x="-11.00" y="-4.00" width="22.00" height="8.00" rx="0.00" fill="#8e8e8e" stroke="none" stroke-width="0" />
<g transform="matrix(0.9970 -0.0772 0.0666 0.9978 356.00 668.70)"><rect x="-28.0" y="-22.5" width="12" height="4.4" fill="#8c8c8c"/><rect x="-20.0" y="-22.5" width="4" height="4.4" fill="#c4c4c4"/><rect x="16.0" y="-24.3" width="12" height="4.4" fill="#8c8c8c"/><rect x="16.0" y="-24.3" width="4" height="4.4" fill="#c4c4c4"/><rect x="-28.0" y="-16.5" width="12" height="4.4" fill="#8c8c8c"/><rect x="-20.0" y="-16.5" width="4" height="4.4" fill="#c4c4c4"/><rect x="16.0" y="-18.3" width="12" height="4.4" fill="#8c8c8c"/><rect x="16.0" y="-18.3" width="4" height="4.4" fill="#c4c4c4"/><rect x="-28.0" y="-5.7" width="12" height="4.4" fill="#8c8c8c"/><rect x="-20.0" y="-5.7" width="4" height="4.4" fill="#c4c4c4"/><rect x="16.0" y="-7.5" width="12" height="4.4" fill="#8c8c8c"/><rect x="16.0" y="-7.5" width="4" height="4.4" fill="#c4c4c4"/><rect x="-28.0" y="-0.1" width="12" height="4.4" fill="#8c8c8c"/><rect x="-20.0" y="-0.1" width="4" height="4.4" fill="#c4c4c4"/><rect x="16.0" y="-1.9" width="12" height="4.4" fill="#8c8c8c"/><rect x="16.0" y="-1.9" width="4" height="4.4" fill="#c4c4c4"/><rect x="-28.0" y="5.5" width="12" height="4.4" fill="#8c8c8c"/><rect x="-20.0" y="5.5" width="4" height="4.4" fill="#c4c4c4"/><rect x="16.0" y="3.7" width="12" height="4.4" fill="#8c8c8c"/><rect x="16.0" y="3.7" width="4" height="4.4" fill="#c4c4c4"/><rect x="-28.0" y="11.1" width="12" height="4.4" fill="#8c8c8c"/><rect x="-20.0" y="11.1" width="4" height="4.4" fill="#c4c4c4"/><rect x="16.0" y="9.3" width="12" height="4.4" fill="#8c8c8c"/><rect x="16.0" y="9.3" width="4" height="4.4" fill="#c4c4c4"/><rect x="-28.0" y="16.7" width="12" height="4.4" fill="#8c8c8c"/><rect x="-20.0" y="16.7" width="4" height="4.4" fill="#c4c4c4"/><rect x="16.0" y="14.9" width="12" height="4.4" fill="#8c8c8c"/><rect x="16.0" y="14.9" width="4" height="4.4" fill="#c4c4c4"/><rect x="-28.0" y="22.3" width="12" height="4.4" fill="#8c8c8c"/><rect x="-20.0" y="22.3" width="4" height="4.4" fill="#c4c4c4"/><rect x="16.0" y="20.5" width="12" height="4.4" fill="#8c8c8c"/><rect x="16.0" y="20.5" width="4" height="4.4" fill="#c4c4c4"/><rect x="-28.0" y="27.9" width="12" height="4.4" fill="#8c8c8c"/><rect x="-20.0" y="27.9" width="4" height="4.4" fill="#c4c4c4"/><rect x="16.0" y="26.1" width="12" height="4.4" fill="#8c8c8c"/><rect x="16.0" y="26.1" width="4" height="4.4" fill="#c4c4c4"/><rect x="-27.0" y="29.0" width="54.0" height="5" fill="#8a8a8a"/><rect x="-17.0" y="25.5" width="36.0" height="5" fill="#363b3a"/><rect x="-18.0" y="-26.5" width="36.0" height="53.0" fill="#d4d3d6"/><rect x="-14.5" y="-25.0" width="20" height="4.5" fill="#3ae0b4" rx="1"/><ellipse cx="8.0" cy="-22.7" rx="2.2" ry="1.3" fill="#333"/><rect x="-2" y="31.0" width="4" height="1.4" fill="#f0f0f0"/></g>
<g transform="matrix(0.9970 -0.0772 0.0736 0.9973 438.90 663.30)"><rect x="-28.0" y="-22.5" width="12" height="4.4" fill="#8c8c8c"/><rect x="-20.0" y="-22.5" width="4" height="4.4" fill="#c4c4c4"/><rect x="16.0" y="-24.3" width="12" height="4.4" fill="#8c8c8c"/><rect x="16.0" y="-24.3" width="4" height="4.4" fill="#c4c4c4"/><rect x="-28.0" y="-16.5" width="12" height="4.4" fill="#8c8c8c"/><rect x="-20.0" y="-16.5" width="4" height="4.4" fill="#c4c4c4"/><rect x="16.0" y="-18.3" width="12" height="4.4" fill="#8c8c8c"/><rect x="16.0" y="-18.3" width="4" height="4.4" fill="#c4c4c4"/><rect x="-28.0" y="-5.7" width="12" height="4.4" fill="#8c8c8c"/><rect x="-20.0" y="-5.7" width="4" height="4.4" fill="#c4c4c4"/><rect x="16.0" y="-7.5" width="12" height="4.4" fill="#8c8c8c"/><rect x="16.0" y="-7.5" width="4" height="4.4" fill="#c4c4c4"/><rect x="-28.0" y="-0.1" width="12" height="4.4" fill="#8c8c8c"/><rect x="-20.0" y="-0.1" width="4" height="4.4" fill="#c4c4c4"/><rect x="16.0" y="-1.9" width="12" height="4.4" fill="#8c8c8c"/><rect x="16.0" y="-1.9" width="4" height="4.4" fill="#c4c4c4"/><rect x="-28.0" y="5.5" width="12" height="4.4" fill="#8c8c8c"/><rect x="-20.0" y="5.5" width="4" height="4.4" fill="#c4c4c4"/><rect x="16.0" y="3.7" width="12" height="4.4" fill="#8c8c8c"/><rect x="16.0" y="3.7" width="4" height="4.4" fill="#c4c4c4"/><rect x="-28.0" y="11.1" width="12" height="4.4" fill="#8c8c8c"/><rect x="-20.0" y="11.1" width="4" height="4.4" fill="#c4c4c4"/><rect x="16.0" y="9.3" width="12" height="4.4" fill="#8c8c8c"/><rect x="16.0" y="9.3" width="4" height="4.4" fill="#c4c4c4"/><rect x="-28.0" y="16.7" width="12" height="4.4" fill="#8c8c8c"/><rect x="-20.0" y="16.7" width="4" height="4.4" fill="#c4c4c4"/><rect x="16.0" y="14.9" width="12" height="4.4" fill="#8c8c8c"/><rect x="16.0" y="14.9" width="4" height="4.4" fill="#c4c4c4"/><rect x="-28.0" y="22.3" width="12" height="4.4" fill="#8c8c8c"/><rect x="-20.0" y="22.3" width="4" height="4.4" fill="#c4c4c4"/><rect x="16.0" y="20.5" width="12" height="4.4" fill="#8c8c8c"/><rect x="16.0" y="20.5" width="4" height="4.4" fill="#c4c4c4"/><rect x="-28.0" y="27.9" width="12" height="4.4" fill="#8c8c8c"/><rect x="-20.0" y="27.9" width="4" height="4.4" fill="#c4c4c4"/><rect x="16.0" y="26.1" width="12" height="4.4" fill="#8c8c8c"/><rect x="16.0" y="26.1" width="4" height="4.4" fill="#c4c4c4"/><rect x="-27.0" y="29.0" width="54.0" height="5" fill="#8a8a8a"/><rect x="-17.0" y="25.5" width="36.0" height="5" fill="#363b3a"/><rect x="-18.0" y="-26.5" width="36.0" height="53.0" fill="#d4d3d6"/><rect x="-14.5" y="-25.0" width="20" height="4.5" fill="#3ae0b4" rx="1"/><ellipse cx="8.0" cy="-22.7" rx="2.2" ry="1.3" fill="#333"/><rect x="-2" y="31.0" width="4" height="1.4" fill="#f0f0f0"/></g>
<g transform="matrix(0.9970 -0.0772 0.0805 0.9968 520.00 656.70)"><rect x="-28.0" y="-22.5" width="12" height="4.4" fill="#8c8c8c"/><rect x="-20.0" y="-22.5" width="4" height="4.4" fill="#c4c4c4"/><rect x="16.0" y="-24.3" width="12" height="4.4" fill="#8c8c8c"/><rect x="16.0" y="-24.3" width="4" height="4.4" fill="#c4c4c4"/><rect x="-28.0" y="-16.5" width="12" height="4.4" fill="#8c8c8c"/><rect x="-20.0" y="-16.5" width="4" height="4.4" fill="#c4c4c4"/><rect x="16.0" y="-18.3" width="12" height="4.4" fill="#8c8c8c"/><rect x="16.0" y="-18.3" width="4" height="4.4" fill="#c4c4c4"/><rect x="-28.0" y="-5.7" width="12" height="4.4" fill="#8c8c8c"/><rect x="-20.0" y="-5.7" width="4" height="4.4" fill="#c4c4c4"/><rect x="16.0" y="-7.5" width="12" height="4.4" fill="#8c8c8c"/><rect x="16.0" y="-7.5" width="4" height="4.4" fill="#c4c4c4"/><rect x="-28.0" y="-0.1" width="12" height="4.4" fill="#8c8c8c"/><rect x="-20.0" y="-0.1" width="4" height="4.4" fill="#c4c4c4"/><rect x="16.0" y="-1.9" width="12" height="4.4" fill="#8c8c8c"/><rect x="16.0" y="-1.9" width="4" height="4.4" fill="#c4c4c4"/><rect x="-28.0" y="5.5" width="12" height="4.4" fill="#8c8c8c"/><rect x="-20.0" y="5.5" width="4" height="4.4" fill="#c4c4c4"/><rect x="16.0" y="3.7" width="12" height="4.4" fill="#8c8c8c"/><rect x="16.0" y="3.7" width="4" height="4.4" fill="#c4c4c4"/><rect x="-28.0" y="11.1" width="12" height="4.4" fill="#8c8c8c"/><rect x="-20.0" y="11.1" width="4" height="4.4" fill="#c4c4c4"/><rect x="16.0" y="9.3" width="12" height="4.4" fill="#8c8c8c"/><rect x="16.0" y="9.3" width="4" height="4.4" fill="#c4c4c4"/><rect x="-28.0" y="16.7" width="12" height="4.4" fill="#8c8c8c"/><rect x="-20.0" y="16.7" width="4" height="4.4" fill="#c4c4c4"/><rect x="16.0" y="14.9" width="12" height="4.4" fill="#8c8c8c"/><rect x="16.0" y="14.9" width="4" height="4.4" fill="#c4c4c4"/><rect x="-28.0" y="22.3" width="12" height="4.4" fill="#8c8c8c"/><rect x="-20.0" y="22.3" width="4" height="4.4" fill="#c4c4c4"/><rect x="16.0" y="20.5" width="12" height="4.4" fill="#8c8c8c"/><rect x="16.0" y="20.5" width="4" height="4.4" fill="#c4c4c4"/><rect x="-28.0" y="27.9" width="12" height="4.4" fill="#8c8c8c"/><rect x="-20.0" y="27.9" width="4" height="4.4" fill="#c4c4c4"/><rect x="16.0" y="26.1" width="12" height="4.4" fill="#8c8c8c"/><rect x="16.0" y="26.1" width="4" height="4.4" fill="#c4c4c4"/><rect x="-27.0" y="29.0" width="54.0" height="5" fill="#8a8a8a"/><rect x="-17.0" y="25.5" width="36.0" height="5" fill="#363b3a"/><rect x="-18.0" y="-26.5" width="36.0" height="53.0" fill="#d4d3d6"/><rect x="-14.5" y="-25.0" width="20" height="4.5" fill="#3ae0b4" rx="1"/><ellipse cx="8.0" cy="-22.7" rx="2.2" ry="1.3" fill="#333"/><rect x="-2" y="31.0" width="4" height="1.4" fill="#f0f0f0"/></g>
<text transform="matrix(0.9971 -0.0755 0.0735 0.9973 435.00 630.00)" x="0" y="0" font-size="6.2" fill="#f6f0f0" text-anchor="middle" dominant-baseline="central" font-weight="bold" font-family="Liberation Mono" stroke="#f6f0f0" stroke-width="0.35">G6K-2F-RF-T-TR03_DC5</text>
<g transform="matrix(-0.0685 -0.9977 0.9972 -0.0748 375.00 620.00)"><rect x="-6" y="-4.5" width="3.5" height="3" fill="#8a8a8a"/><rect x="-6" y="1.5" width="3.5" height="3" fill="#8a8a8a"/><rect x="3" y="-1.5" width="3.5" height="3" fill="#8a8a8a"/><rect x="-3.2" y="-4.5" width="6.6" height="10" fill="#2a2b2b"/><circle cx="-5" cy="-3.5" r="1" fill="#40d0b0"/></g>
<g transform="matrix(-0.0754 -0.9972 0.9972 -0.0748 455.80 615.00)"><rect x="-6" y="-4.5" width="3.5" height="3" fill="#8a8a8a"/><rect x="-6" y="1.5" width="3.5" height="3" fill="#8a8a8a"/><rect x="3" y="-1.5" width="3.5" height="3" fill="#8a8a8a"/><rect x="-3.2" y="-4.5" width="6.6" height="10" fill="#2a2b2b"/><circle cx="-5" cy="-3.5" r="1" fill="#40d0b0"/></g>
<g transform="matrix(-0.0823 -0.9966 0.9972 -0.0748 536.70 608.30)"><rect x="-6" y="-4.5" width="3.5" height="3" fill="#8a8a8a"/><rect x="-6" y="1.5" width="3.5" height="3" fill="#8a8a8a"/><rect x="3" y="-1.5" width="3.5" height="3" fill="#8a8a8a"/><rect x="-3.2" y="-4.5" width="6.6" height="10" fill="#2a2b2b"/><circle cx="-5" cy="-3.5" r="1" fill="#40d0b0"/></g>
<g transform="matrix(-0.0666 -0.9978 0.9972 -0.0748 353.70 622.50)"><rect x="-5.0" y="-3.0" width="10.0" height="6.0" fill="none" stroke="#f0e6e6" stroke-width="0.9"/><rect x="-3.7" y="-1.6" width="2.4" height="3.2" fill="#b8b8b8"/><rect x="1.3" y="-1.6" width="2.4" height="3.2" fill="#b8b8b8"/><rect x="-1.6" y="-1.5" width="3.2" height="3" fill="#3a2a5a"/></g>
<g transform="matrix(-0.0736 -0.9973 0.9972 -0.0747 435.30 614.20)"><rect x="-5.0" y="-3.0" width="10.0" height="6.0" fill="none" stroke="#f0e6e6" stroke-width="0.9"/><rect x="-3.7" y="-1.6" width="2.4" height="3.2" fill="#b8b8b8"/><rect x="1.3" y="-1.6" width="2.4" height="3.2" fill="#b8b8b8"/><rect x="-1.6" y="-1.5" width="3.2" height="3" fill="#3a2a5a"/></g>
<g transform="matrix(-0.0805 -0.9968 0.9972 -0.0747 515.80 608.30)"><rect x="-5.0" y="-3.0" width="10.0" height="6.0" fill="none" stroke="#f0e6e6" stroke-width="0.9"/><rect x="-3.7" y="-1.6" width="2.4" height="3.2" fill="#b8b8b8"/><rect x="1.3" y="-1.6" width="2.4" height="3.2" fill="#b8b8b8"/><rect x="-1.6" y="-1.5" width="3.2" height="3" fill="#3a2a5a"/></g>
<g transform="matrix(-0.0655 -0.9979 0.9972 -0.0748 340.80 623.30)"><rect x="-3.5" y="-1.5" width="2.6" height="3" fill="#b8b8b8"/><rect x="0.9" y="-1.5" width="2.6" height="3" fill="#b8b8b8"/><rect x="-1" y="-1.2" width="2" height="2.4" fill="#3a2a40"/></g>
<g transform="matrix(-0.0725 -0.9974 0.9972 -0.0747 421.70 614.20)"><rect x="-3.5" y="-1.5" width="2.6" height="3" fill="#b8b8b8"/><rect x="0.9" y="-1.5" width="2.6" height="3" fill="#b8b8b8"/><rect x="-1" y="-1.2" width="2" height="2.4" fill="#3a2a40"/></g>
<g transform="matrix(-0.0791 -0.9969 0.9972 -0.0748 499.20 610.80)"><rect x="-3.5" y="-1.5" width="2.6" height="3" fill="#b8b8b8"/><rect x="0.9" y="-1.5" width="2.6" height="3" fill="#b8b8b8"/><rect x="-1" y="-1.2" width="2" height="2.4" fill="#3a2a40"/></g>
<rect transform="matrix(0.9968 -0.0802 0.0698 0.9976 397.50 723.30)" x="-4.00" y="-4.00" width="8.00" height="8.00" rx="0.00" fill="#8c8c8c" stroke="none" stroke-width="0" />
<rect transform="matrix(0.9968 -0.0802 0.0706 0.9975 407.50 722.50)" x="-4.00" y="-4.00" width="8.00" height="8.00" rx="0.00" fill="#8c8c8c" stroke="none" stroke-width="0" />
<text transform="matrix(0.9967 -0.0806 0.0701 0.9975 402.50 732.50)" x="0" y="0" font-size="6" fill="#f6f0f0" text-anchor="middle" dominant-baseline="central" font-weight="bold" font-family="Liberation Mono" stroke="#f6f0f0" stroke-width="0.35">T107</text>
<g transform="matrix(0.9968 -0.0795 0.0704 0.9975 404.00 711.00)"><rect x="-5.0" y="-3.0" width="10.0" height="6.0" fill="none" stroke="#f0e6e6" stroke-width="0.9"/><rect x="-3.7" y="-1.6" width="2.4" height="3.2" fill="#b8b8b8"/><rect x="1.3" y="-1.6" width="2.4" height="3.2" fill="#b8b8b8"/><rect x="-1.6" y="-1.5" width="3.2" height="3" fill="#3a2a5a"/></g>
<g transform="matrix(0.9968 -0.0800 0.0734 0.9973 440.80 716.70)"><rect x="-7.00" y="-4.25" width="1.50" height="1.00" fill="#b9b9b9"/><rect x="5.50" y="-4.25" width="1.50" height="1.00" fill="#b9b9b9"/><rect x="-7.00" y="-1.75" width="1.50" height="1.00" fill="#b9b9b9"/><rect x="5.50" y="-1.75" width="1.50" height="1.00" fill="#b9b9b9"/><rect x="-7.00" y="0.75" width="1.50" height="1.00" fill="#b9b9b9"/><rect x="5.50" y="0.75" width="1.50" height="1.00" fill="#b9b9b9"/><rect x="-7.00" y="3.25" width="1.50" height="1.00" fill="#b9b9b9"/><rect x="5.50" y="3.25" width="1.50" height="1.00" fill="#b9b9b9"/><rect x="-5.50" y="-5.00" width="11.00" height="10.00" fill="#2f3030"/><circle cx="-4.00" cy="3.50" r="1" fill="#40d0b0"/></g>
<g transform="matrix(0.9968 -0.0799 0.0747 0.9972 455.80 713.30)"><rect x="-5.0" y="-3.0" width="10.0" height="6.0" fill="none" stroke="#f0e6e6" stroke-width="0.9"/><rect x="-3.7" y="-1.6" width="2.4" height="3.2" fill="#b8b8b8"/><rect x="1.3" y="-1.6" width="2.4" height="3.2" fill="#b8b8b8"/><rect x="-1.6" y="-1.5" width="3.2" height="3" fill="#3a2a5a"/></g>
<g transform="matrix(0.9968 -0.0803 0.0747 0.9972 455.80 721.70)"><rect x="-5.0" y="-3.0" width="10.0" height="6.0" fill="none" stroke="#f0e6e6" stroke-width="0.9"/><rect x="-3.7" y="-1.6" width="2.4" height="3.2" fill="#b8b8b8"/><rect x="1.3" y="-1.6" width="2.4" height="3.2" fill="#b8b8b8"/><rect x="-1.6" y="-1.5" width="3.2" height="3" fill="#3a2a5a"/></g>
<g transform="matrix(0.9968 -0.0801 0.0760 0.9971 470.80 715.80)"><rect x="-5.0" y="-3.0" width="10.0" height="6.0" fill="none" stroke="#f0e6e6" stroke-width="0.9"/><rect x="-3.7" y="-1.6" width="2.4" height="3.2" fill="#b8b8b8"/><rect x="1.3" y="-1.6" width="2.4" height="3.2" fill="#b8b8b8"/><rect x="-1.6" y="-1.5" width="3.2" height="3" fill="#3a2a5a"/></g>
<text transform="matrix(0.9967 -0.0809 0.0735 0.9973 442.50 735.00)" x="0" y="0" font-size="6.2" fill="#f6f0f0" text-anchor="middle" dominant-baseline="central" font-weight="bold" font-family="Liberation Mono" stroke="#f6f0f0" stroke-width="0.35">OPA659IDSGR</text>
<text transform="matrix(0.9968 -0.0793 0.0788 0.9969 502.50 699.20)" x="0" y="0" font-size="6" fill="#f6f0f0" text-anchor="middle" dominant-baseline="central" font-weight="bold" font-family="Liberation Mono" stroke="#f6f0f0" stroke-width="0.35">15nH</text>
<text transform="matrix(0.9968 -0.0794 0.0805 0.9968 523.30 698.00)" x="0" y="0" font-size="6" fill="#f6f0f0" text-anchor="middle" dominant-baseline="central" font-weight="bold" font-family="Liberation Mono" stroke="#f6f0f0" stroke-width="0.35">15nH</text>
<text transform="matrix(0.9968 -0.0794 0.0824 0.9966 545.80 696.70)" x="0" y="0" font-size="6" fill="#f6f0f0" text-anchor="middle" dominant-baseline="central" font-weight="bold" font-family="Liberation Mono" stroke="#f6f0f0" stroke-width="0.35">R163</text>
<g transform="matrix(-0.0780 -0.9970 0.9968 -0.0798 494.20 709.20)"><rect x="-5.0" y="-3.0" width="10.0" height="6.0" fill="none" stroke="#f0e6e6" stroke-width="0.9"/><rect x="-3.7" y="-1.6" width="2.4" height="3.2" fill="#b8b8b8"/><rect x="1.3" y="-1.6" width="2.4" height="3.2" fill="#b8b8b8"/><rect x="-1.6" y="-1.5" width="3.2" height="3" fill="#3a2a5a"/></g>
<g transform="matrix(-0.0798 -0.9968 0.9968 -0.0798 515.80 707.50)"><rect x="-5.0" y="-3.0" width="10.0" height="6.0" fill="none" stroke="#f0e6e6" stroke-width="0.9"/><rect x="-3.7" y="-1.6" width="2.4" height="3.2" fill="#b8b8b8"/><rect x="1.3" y="-1.6" width="2.4" height="3.2" fill="#b8b8b8"/><rect x="-1.6" y="-1.5" width="3.2" height="3" fill="#3a2a5a"/></g>
<g transform="matrix(-0.0816 -0.9967 0.9968 -0.0798 536.70 705.80)"><rect x="-5.0" y="-3.0" width="10.0" height="6.0" fill="none" stroke="#f0e6e6" stroke-width="0.9"/><rect x="-3.7" y="-1.6" width="2.4" height="3.2" fill="#b8b8b8"/><rect x="1.3" y="-1.6" width="2.4" height="3.2" fill="#b8b8b8"/><rect x="-1.6" y="-1.5" width="3.2" height="3" fill="#3a2a5a"/></g>
<g transform="matrix(-0.0833 -0.9965 0.9968 -0.0799 557.50 705.00)"><rect x="-5.0" y="-3.0" width="10.0" height="6.0" fill="none" stroke="#f0e6e6" stroke-width="0.9"/><rect x="-3.7" y="-1.6" width="2.4" height="3.2" fill="#b8b8b8"/><rect x="1.3" y="-1.6" width="2.4" height="3.2" fill="#b8b8b8"/><rect x="-1.6" y="-1.5" width="3.2" height="3" fill="#3a2a5a"/></g>
<g transform="matrix(0.9968 -0.0797 0.0824 0.9966 546.70 703.30)"><rect x="-5.0" y="-3.0" width="10.0" height="6.0" fill="none" stroke="#f0e6e6" stroke-width="0.9"/><rect x="-3.7" y="-1.6" width="2.4" height="3.2" fill="#b8b8b8"/><rect x="1.3" y="-1.6" width="2.4" height="3.2" fill="#b8b8b8"/><rect x="-1.6" y="-1.5" width="3.2" height="3" fill="#3a2a5a"/></g>
<g transform="matrix(0.9968 -0.0797 0.0788 0.9969 504.20 706.70)"><rect x="-3.5" y="-1.5" width="2.6" height="3" fill="#b8b8b8"/><rect x="0.9" y="-1.5" width="2.6" height="3" fill="#b8b8b8"/><rect x="-1" y="-1.2" width="2" height="2.4" fill="#3a2a40"/></g>
<g transform="matrix(0.9968 -0.0797 0.0807 0.9967 525.80 705.00)"><rect x="-3.5" y="-1.5" width="2.6" height="3" fill="#b8b8b8"/><rect x="0.9" y="-1.5" width="2.6" height="3" fill="#b8b8b8"/><rect x="-1" y="-1.2" width="2" height="2.4" fill="#3a2a40"/></g>
<text transform="matrix(0.9968 -0.0801 0.0789 0.9969 505.00 714.20)" x="0" y="0" font-size="6" fill="#f6f0f0" text-anchor="middle" dominant-baseline="central" font-weight="bold" font-family="Liberation Mono" stroke="#f6f0f0" stroke-width="0.35">L8</text>
<text transform="matrix(0.9968 -0.0801 0.0807 0.9967 526.70 711.70)" x="0" y="0" font-size="6" fill="#f6f0f0" text-anchor="middle" dominant-baseline="central" font-weight="bold" font-family="Liberation Mono" stroke="#f6f0f0" stroke-width="0.35">L15</text>
<text transform="matrix(-0.0779 -0.9970 0.9967 -0.0807 495.00 725.80)" x="0" y="0" font-size="6" fill="#f6f0f0" text-anchor="middle" dominant-baseline="central" font-weight="bold" font-family="Liberation Mono" stroke="#f6f0f0" stroke-width="0.35">C138</text>
<text transform="matrix(-0.0798 -0.9968 0.9967 -0.0806 516.70 723.30)" x="0" y="0" font-size="6" fill="#f6f0f0" text-anchor="middle" dominant-baseline="central" font-weight="bold" font-family="Liberation Mono" stroke="#f6f0f0" stroke-width="0.35">C139</text>
<text transform="matrix(-0.0816 -0.9967 0.9967 -0.0806 537.50 720.80)" x="0" y="0" font-size="6" fill="#f6f0f0" text-anchor="middle" dominant-baseline="central" font-weight="bold" font-family="Liberation Mono" stroke="#f6f0f0" stroke-width="0.35">C140</text>
<text transform="matrix(-0.0833 -0.9965 0.9968 -0.0805 557.50 717.50)" x="0" y="0" font-size="6" fill="#f6f0f0" text-anchor="middle" dominant-baseline="central" font-weight="bold" font-family="Liberation Mono" stroke="#f6f0f0" stroke-width="0.35">C141</text>
<g transform="matrix(-0.0655 -0.9979 0.9968 -0.0797 346.70 718.30)"><rect x="-5.0" y="-3.0" width="10.0" height="6.0" fill="none" stroke="#f0e6e6" stroke-width="0.9"/><rect x="-3.7" y="-1.6" width="2.4" height="3.2" fill="#b8b8b8"/><rect x="1.3" y="-1.6" width="2.4" height="3.2" fill="#b8b8b8"/><rect x="-1.6" y="-1.5" width="3.2" height="3" fill="#3a2a5a"/></g>
<g transform="matrix(-0.0662 -0.9978 0.9968 -0.0798 355.00 720.00)"><rect x="-5.0" y="-3.0" width="10.0" height="6.0" fill="none" stroke="#f0e6e6" stroke-width="0.9"/><rect x="-3.7" y="-1.6" width="2.4" height="3.2" fill="#b8b8b8"/><rect x="1.3" y="-1.6" width="2.4" height="3.2" fill="#b8b8b8"/><rect x="-1.6" y="-1.5" width="3.2" height="3" fill="#3a2a5a"/></g>
<g transform="matrix(-0.0669 -0.9978 0.9968 -0.0798 363.30 719.20)"><rect x="-5.0" y="-3.0" width="10.0" height="6.0" fill="none" stroke="#f0e6e6" stroke-width="0.9"/><rect x="-3.7" y="-1.6" width="2.4" height="3.2" fill="#b8b8b8"/><rect x="1.3" y="-1.6" width="2.4" height="3.2" fill="#b8b8b8"/><rect x="-1.6" y="-1.5" width="3.2" height="3" fill="#3a2a5a"/></g>
<g transform="matrix(-0.0655 -0.9979 0.9968 -0.0804 347.50 731.70)"><rect x="-5.0" y="-3.0" width="10.0" height="6.0" fill="none" stroke="#f0e6e6" stroke-width="0.9"/><rect x="-3.7" y="-1.6" width="2.4" height="3.2" fill="#b8b8b8"/><rect x="1.3" y="-1.6" width="2.4" height="3.2" fill="#b8b8b8"/><rect x="-1.6" y="-1.5" width="3.2" height="3" fill="#3a2a5a"/></g>
<g transform="matrix(0.9968 -0.0805 0.0664 0.9978 358.30 734.20)"><rect x="-5.0" y="-3.0" width="10.0" height="6.0" fill="none" stroke="#f0e6e6" stroke-width="0.9"/><rect x="-3.7" y="-1.6" width="2.4" height="3.2" fill="#b8b8b8"/><rect x="1.3" y="-1.6" width="2.4" height="3.2" fill="#b8b8b8"/><rect x="-1.6" y="-1.5" width="3.2" height="3" fill="#3a2a5a"/></g>
<text transform="matrix(-0.0649 -0.9979 0.9968 -0.0796 340.00 718.00)" x="0" y="0" font-size="5.5" fill="#f6f0f0" text-anchor="middle" dominant-baseline="central" font-weight="bold" font-family="Liberation Mono" stroke="#f6f0f0" stroke-width="0.35">C80R212</text>
<text transform="matrix(0.9969 -0.0793 0.0663 0.9978 356.00 709.00)" x="0" y="0" font-size="5.5" fill="#f6f0f0" text-anchor="middle" dominant-baseline="central" font-weight="bold" font-family="Liberation Mono" stroke="#f6f0f0" stroke-width="0.35">R169</text>
<text transform="matrix(-0.0675 -0.9977 0.9968 -0.0799 370.00 720.00)" x="0" y="0" font-size="5.5" fill="#f6f0f0" text-anchor="middle" dominant-baseline="central" font-weight="bold" font-family="Liberation Mono" stroke="#f6f0f0" stroke-width="0.35">R168</text>
<text transform="matrix(0.9967 -0.0809 0.0663 0.9978 358.00 742.00)" x="0" y="0" font-size="5.5" fill="#f6f0f0" text-anchor="middle" dominant-baseline="central" font-weight="bold" font-family="Liberation Mono" stroke="#f6f0f0" stroke-width="0.35">R170</text>
<rect transform="matrix(0.9970 -0.0769 0.0846 0.9964 567.00 647.00)" x="-4.00" y="-7.00" width="8.00" height="14.00" rx="0.00" fill="#111" stroke="none" stroke-width="0" />
<ellipse transform="matrix(0.9971 -0.0764 0.0848 0.9964 568.50 637.00)" rx="1.20" ry="1.20" fill="#40d0b0" stroke="none" stroke-width="0"/>
<g transform="matrix(0.9971 -0.0754 0.0848 0.9964 568.00 618.50)"><rect x="-5.0" y="-3.0" width="10.0" height="6.0" fill="none" stroke="#f0e6e6" stroke-width="0.9"/><rect x="-3.7" y="-1.6" width="2.4" height="3.2" fill="#b8b8b8"/><rect x="1.3" y="-1.6" width="2.4" height="3.2" fill="#b8b8b8"/><rect x="-1.6" y="-1.5" width="3.2" height="3" fill="#3a2a5a"/></g>
<g transform="matrix(0.9970 -0.0778 0.0845 0.9964 568.00 664.00)"><rect x="-5.0" y="-3.0" width="10.0" height="6.0" fill="none" stroke="#f0e6e6" stroke-width="0.9"/><rect x="-3.7" y="-1.6" width="2.4" height="3.2" fill="#b8b8b8"/><rect x="1.3" y="-1.6" width="2.4" height="3.2" fill="#b8b8b8"/><rect x="-1.6" y="-1.5" width="3.2" height="3" fill="#3a2a5a"/></g>
<text transform="matrix(0.9969 -0.0782 0.0845 0.9964 568.50 671.00)" x="0" y="0" font-size="6" fill="#f6f0f0" text-anchor="middle" dominant-baseline="central" font-weight="bold" font-family="Liberation Mono" stroke="#f6f0f0" stroke-width="0.35">C82</text>
<text transform="matrix(0.9971 -0.0758 0.0846 0.9964 566.00 625.50)" x="0" y="0" font-size="5.6" fill="#f6f0f0" text-anchor="middle" dominant-baseline="central" font-weight="bold" font-family="Liberation Mono" stroke="#f6f0f0" stroke-width="0.35">R24x</text>
<text transform="matrix(-0.0839 -0.9965 0.9971 -0.0761 558.00 632.00)" x="0" y="0" font-size="6" fill="#f6f0f0" text-anchor="middle" dominant-baseline="central" font-weight="bold" font-family="Liberation Mono" stroke="#f6f0f0" stroke-width="0.35">TLP3475_TPJ</text>
<g transform="matrix(-0.0879 -0.9961 0.9974 -0.0717 597.50 543.00)"><rect x="-5.0" y="-3.0" width="10.0" height="6.0" fill="none" stroke="#f0e6e6" stroke-width="0.9"/><rect x="-3.7" y="-1.6" width="2.4" height="3.2" fill="#b8b8b8"/><rect x="1.3" y="-1.6" width="2.4" height="3.2" fill="#b8b8b8"/><rect x="-1.6" y="-1.5" width="3.2" height="3" fill="#3a2a5a"/></g>
<g transform="matrix(-0.0886 -0.9961 0.9974 -0.0717 605.00 542.50)"><rect x="-5.0" y="-3.0" width="10.0" height="6.0" fill="none" stroke="#f0e6e6" stroke-width="0.9"/><rect x="-3.7" y="-1.6" width="2.4" height="3.2" fill="#b8b8b8"/><rect x="1.3" y="-1.6" width="2.4" height="3.2" fill="#b8b8b8"/><rect x="-1.6" y="-1.5" width="3.2" height="3" fill="#3a2a5a"/></g>
<text transform="matrix(-0.0872 -0.9962 0.9974 -0.0716 589.00 543.00)" x="0" y="0" font-size="6" fill="#f6f0f0" text-anchor="middle" dominant-baseline="central" font-weight="bold" font-family="Liberation Mono" stroke="#f6f0f0" stroke-width="0.35">R139</text>
<text transform="matrix(-0.0892 -0.9960 0.9974 -0.0717 613.00 542.00)" x="0" y="0" font-size="6" fill="#f6f0f0" text-anchor="middle" dominant-baseline="central" font-weight="bold" font-family="Liberation Mono" stroke="#f6f0f0" stroke-width="0.35">R138</text>
<g transform="matrix(0.9973 -0.0729 0.0883 0.9961 604.80 567.30)"><rect x="-8.6" y="-8.6" width="17.1" height="17.1" fill="#6a6a6a"/><rect x="-7.8" y="-7.8" width="15.5" height="15.5" fill="#2e2f2f"/><circle cx="-6.2" cy="-6.2" r="0.9" fill="#40d0b0"/></g>
<g transform="matrix(0.9974 -0.0727 0.0866 0.9962 584.00 564.00)"><rect x="-5.0" y="-3.0" width="10.0" height="6.0" fill="none" stroke="#f0e6e6" stroke-width="0.9"/><rect x="-3.7" y="-1.6" width="2.4" height="3.2" fill="#b8b8b8"/><rect x="1.3" y="-1.6" width="2.4" height="3.2" fill="#b8b8b8"/><rect x="-1.6" y="-1.5" width="3.2" height="3" fill="#3a2a5a"/></g>
<g transform="matrix(0.9973 -0.0732 0.0866 0.9962 584.50 574.00)"><rect x="-5.0" y="-3.0" width="10.0" height="6.0" fill="none" stroke="#f0e6e6" stroke-width="0.9"/><rect x="-3.7" y="-1.6" width="2.4" height="3.2" fill="#b8b8b8"/><rect x="1.3" y="-1.6" width="2.4" height="3.2" fill="#b8b8b8"/><rect x="-1.6" y="-1.5" width="3.2" height="3" fill="#3a2a5a"/></g>
<g transform="matrix(0.9974 -0.0727 0.0901 0.9959 625.00 561.00)"><rect x="-5.0" y="-3.0" width="10.0" height="6.0" fill="none" stroke="#f0e6e6" stroke-width="0.9"/><rect x="-3.7" y="-1.6" width="2.4" height="3.2" fill="#b8b8b8"/><rect x="1.3" y="-1.6" width="2.4" height="3.2" fill="#b8b8b8"/><rect x="-1.6" y="-1.5" width="3.2" height="3" fill="#3a2a5a"/></g>
<g transform="matrix(0.9973 -0.0731 0.0901 0.9959 625.50 569.50)"><rect x="-5.0" y="-3.0" width="10.0" height="6.0" fill="none" stroke="#f0e6e6" stroke-width="0.9"/><rect x="-3.7" y="-1.6" width="2.4" height="3.2" fill="#b8b8b8"/><rect x="1.3" y="-1.6" width="2.4" height="3.2" fill="#b8b8b8"/><rect x="-1.6" y="-1.5" width="3.2" height="3" fill="#3a2a5a"/></g>
<text transform="matrix(-0.0853 -0.9964 0.9974 -0.0727 568.50 566.00)" x="0" y="0" font-size="6" fill="#f6f0f0" text-anchor="middle" dominant-baseline="central" font-weight="bold" font-family="Liberation Mono" stroke="#f6f0f0" stroke-width="0.35">LMH6401IRMZR</text>
<g transform="matrix(0.9974 -0.0727 0.0940 0.9956 670.50 557.30)"><rect x="-12.46" y="-17.25" width="1.30" height="6.00" fill="#b9b9b9"/><rect x="-12.46" y="11.25" width="1.30" height="6.00" fill="#b9b9b9"/><rect x="-9.09" y="-17.25" width="1.30" height="6.00" fill="#b9b9b9"/><rect x="-9.09" y="11.25" width="1.30" height="6.00" fill="#b9b9b9"/><rect x="-5.71" y="-17.25" width="1.30" height="6.00" fill="#b9b9b9"/><rect x="-5.71" y="11.25" width="1.30" height="6.00" fill="#b9b9b9"/><rect x="-2.34" y="-17.25" width="1.30" height="6.00" fill="#b9b9b9"/><rect x="-2.34" y="11.25" width="1.30" height="6.00" fill="#b9b9b9"/><rect x="1.04" y="-17.25" width="1.30" height="6.00" fill="#b9b9b9"/><rect x="1.04" y="11.25" width="1.30" height="6.00" fill="#b9b9b9"/><rect x="4.41" y="-17.25" width="1.30" height="6.00" fill="#b9b9b9"/><rect x="4.41" y="11.25" width="1.30" height="6.00" fill="#b9b9b9"/><rect x="7.79" y="-17.25" width="1.30" height="6.00" fill="#b9b9b9"/><rect x="7.79" y="11.25" width="1.30" height="6.00" fill="#b9b9b9"/><rect x="11.16" y="-17.25" width="1.30" height="6.00" fill="#b9b9b9"/><rect x="11.16" y="11.25" width="1.30" height="6.00" fill="#b9b9b9"/><rect x="-13.50" y="-11.25" width="27.00" height="22.50" fill="#2f3030"/><circle cx="-12.00" cy="9.75" r="1" fill="#40d0b0"/></g>
<text transform="matrix(-0.0925 -0.9957 0.9974 -0.0727 652.50 560.00)" x="0" y="0" font-size="6" fill="#f6f0f0" text-anchor="middle" dominant-baseline="central" font-weight="bold" font-family="Liberation Mono" stroke="#f6f0f0" stroke-width="0.35">SN74AVC4T774PWR</text>
<g transform="matrix(-0.0957 -0.9954 0.9973 -0.0734 692.00 570.50)"><rect x="-5.0" y="-3.0" width="10.0" height="6.0" fill="none" stroke="#f0e6e6" stroke-width="0.9"/><rect x="-3.7" y="-1.6" width="2.4" height="3.2" fill="#b8b8b8"/><rect x="1.3" y="-1.6" width="2.4" height="3.2" fill="#b8b8b8"/><rect x="-1.6" y="-1.5" width="3.2" height="3" fill="#3a2a5a"/></g>
<g transform="matrix(-0.0947 -0.9955 0.9972 -0.0743 681.00 587.00)"><rect x="-5.0" y="-3.0" width="10.0" height="6.0" fill="none" stroke="#f0e6e6" stroke-width="0.9"/><rect x="-3.7" y="-1.6" width="2.4" height="3.2" fill="#b8b8b8"/><rect x="1.3" y="-1.6" width="2.4" height="3.2" fill="#b8b8b8"/><rect x="-1.6" y="-1.5" width="3.2" height="3" fill="#3a2a5a"/></g>
<g transform="matrix(-0.0880 -0.9961 0.9972 -0.0747 604.00 601.00)"><rect x="-5.0" y="-3.0" width="10.0" height="6.0" fill="none" stroke="#f0e6e6" stroke-width="0.9"/><rect x="-3.7" y="-1.6" width="2.4" height="3.2" fill="#b8b8b8"/><rect x="1.3" y="-1.6" width="2.4" height="3.2" fill="#b8b8b8"/><rect x="-1.6" y="-1.5" width="3.2" height="3" fill="#3a2a5a"/></g>
<g transform="matrix(-0.0887 -0.9961 0.9972 -0.0747 611.50 600.50)"><rect x="-5.0" y="-3.0" width="10.0" height="6.0" fill="none" stroke="#f0e6e6" stroke-width="0.9"/><rect x="-3.7" y="-1.6" width="2.4" height="3.2" fill="#b8b8b8"/><rect x="1.3" y="-1.6" width="2.4" height="3.2" fill="#b8b8b8"/><rect x="-1.6" y="-1.5" width="3.2" height="3" fill="#3a2a5a"/></g>
<text transform="matrix(-0.0873 -0.9962 0.9972 -0.0747 596.00 602.00)" x="0" y="0" font-size="6" fill="#f6f0f0" text-anchor="middle" dominant-baseline="central" font-weight="bold" font-family="Liberation Mono" stroke="#f6f0f0" stroke-width="0.35">R15</text>
<text transform="matrix(-0.0893 -0.9960 0.9972 -0.0747 619.00 600.00)" x="0" y="0" font-size="6" fill="#f6f0f0" text-anchor="middle" dominant-baseline="central" font-weight="bold" font-family="Liberation Mono" stroke="#f6f0f0" stroke-width="0.35">R14</text>
<g transform="matrix(0.9971 -0.0762 0.0884 0.9961 610.50 630.50)"><rect x="-7.3" y="-7.3" width="14.6" height="14.6" fill="#6a6a6a"/><rect x="-6.5" y="-6.5" width="13.0" height="13.0" fill="#2e2f2f"/><circle cx="-5.0" cy="-5.0" r="0.9" fill="#40d0b0"/></g>
<g transform="matrix(0.9971 -0.0760 0.0866 0.9962 589.00 627.00)"><rect x="-5.0" y="-3.0" width="10.0" height="6.0" fill="none" stroke="#f0e6e6" stroke-width="0.9"/><rect x="-3.7" y="-1.6" width="2.4" height="3.2" fill="#b8b8b8"/><rect x="1.3" y="-1.6" width="2.4" height="3.2" fill="#b8b8b8"/><rect x="-1.6" y="-1.5" width="3.2" height="3" fill="#3a2a5a"/></g>
<g transform="matrix(0.9971 -0.0765 0.0866 0.9962 590.00 637.00)"><rect x="-5.0" y="-3.0" width="10.0" height="6.0" fill="none" stroke="#f0e6e6" stroke-width="0.9"/><rect x="-3.7" y="-1.6" width="2.4" height="3.2" fill="#b8b8b8"/><rect x="1.3" y="-1.6" width="2.4" height="3.2" fill="#b8b8b8"/><rect x="-1.6" y="-1.5" width="3.2" height="3" fill="#3a2a5a"/></g>
<g transform="matrix(0.9971 -0.0760 0.0901 0.9959 630.50 624.00)"><rect x="-5.0" y="-3.0" width="10.0" height="6.0" fill="none" stroke="#f0e6e6" stroke-width="0.9"/><rect x="-3.7" y="-1.6" width="2.4" height="3.2" fill="#b8b8b8"/><rect x="1.3" y="-1.6" width="2.4" height="3.2" fill="#b8b8b8"/><rect x="-1.6" y="-1.5" width="3.2" height="3" fill="#3a2a5a"/></g>
<g transform="matrix(0.9971 -0.0765 0.0901 0.9959 631.50 634.00)"><rect x="-5.0" y="-3.0" width="10.0" height="6.0" fill="none" stroke="#f0e6e6" stroke-width="0.9"/><rect x="-3.7" y="-1.6" width="2.4" height="3.2" fill="#b8b8b8"/><rect x="1.3" y="-1.6" width="2.4" height="3.2" fill="#b8b8b8"/><rect x="-1.6" y="-1.5" width="3.2" height="3" fill="#3a2a5a"/></g>
<g transform="matrix(0.9970 -0.0770 0.0879 0.9961 606.50 645.50)"><rect x="-5.0" y="-3.0" width="10.0" height="6.0" fill="none" stroke="#f0e6e6" stroke-width="0.9"/><rect x="-3.7" y="-1.6" width="2.4" height="3.2" fill="#b8b8b8"/><rect x="1.3" y="-1.6" width="2.4" height="3.2" fill="#b8b8b8"/><rect x="-1.6" y="-1.5" width="3.2" height="3" fill="#3a2a5a"/></g>
<g transform="matrix(0.9970 -0.0770 0.0891 0.9960 620.00 645.00)"><rect x="-5.0" y="-3.0" width="10.0" height="6.0" fill="none" stroke="#f0e6e6" stroke-width="0.9"/><rect x="-3.7" y="-1.6" width="2.4" height="3.2" fill="#b8b8b8"/><rect x="1.3" y="-1.6" width="2.4" height="3.2" fill="#b8b8b8"/><rect x="-1.6" y="-1.5" width="3.2" height="3" fill="#3a2a5a"/></g>
<g transform="matrix(-0.0882 -0.9961 0.9970 -0.0775 610.50 655.50)"><rect x="-5.0" y="-3.0" width="10.0" height="6.0" fill="none" stroke="#f0e6e6" stroke-width="0.9"/><rect x="-3.7" y="-1.6" width="2.4" height="3.2" fill="#b8b8b8"/><rect x="1.3" y="-1.6" width="2.4" height="3.2" fill="#b8b8b8"/><rect x="-1.6" y="-1.5" width="3.2" height="3" fill="#3a2a5a"/></g>
<g transform="matrix(0.9970 -0.0775 0.0890 0.9960 620.00 655.00)"><rect x="-5.0" y="-3.0" width="10.0" height="6.0" fill="none" stroke="#f0e6e6" stroke-width="0.9"/><rect x="-3.7" y="-1.6" width="2.4" height="3.2" fill="#b8b8b8"/><rect x="1.3" y="-1.6" width="2.4" height="3.2" fill="#b8b8b8"/><rect x="-1.6" y="-1.5" width="3.2" height="3" fill="#3a2a5a"/></g>
<g transform="matrix(0.9969 -0.0781 0.0879 0.9961 608.50 666.00)"><rect x="-5.0" y="-3.0" width="10.0" height="6.0" fill="none" stroke="#f0e6e6" stroke-width="0.9"/><rect x="-3.7" y="-1.6" width="2.4" height="3.2" fill="#b8b8b8"/><rect x="1.3" y="-1.6" width="2.4" height="3.2" fill="#b8b8b8"/><rect x="-1.6" y="-1.5" width="3.2" height="3" fill="#3a2a5a"/></g>
<text transform="matrix(0.9969 -0.0784 0.0879 0.9961 609.00 672.00)" x="0" y="0" font-size="5.6" fill="#f6f0f0" text-anchor="middle" dominant-baseline="central" font-weight="bold" font-family="Liberation Mono" stroke="#f6f0f0" stroke-width="0.35">R135</text>
<text transform="matrix(0.9970 -0.0779 0.0891 0.9960 622.00 661.00)" x="0" y="0" font-size="5.6" fill="#f6f0f0" text-anchor="middle" dominant-baseline="central" font-weight="bold" font-family="Liberation Mono" stroke="#f6f0f0" stroke-width="0.35">R133</text>
<text transform="matrix(-0.0871 -0.9962 0.9970 -0.0769 597.00 644.00)" x="0" y="0" font-size="5.6" fill="#f6f0f0" text-anchor="middle" dominant-baseline="central" font-weight="bold" font-family="Liberation Mono" stroke="#f6f0f0" stroke-width="0.35">R132</text>
<text transform="matrix(-0.0899 -0.9960 0.9970 -0.0771 630.00 645.00)" x="0" y="0" font-size="5.6" fill="#f6f0f0" text-anchor="middle" dominant-baseline="central" font-weight="bold" font-family="Liberation Mono" stroke="#f6f0f0" stroke-width="0.35">R131</text>
<text transform="matrix(-0.0915 -0.9958 0.9971 -0.0764 648.00 630.00)" x="0" y="0" font-size="6" fill="#f6f0f0" text-anchor="middle" dominant-baseline="central" font-weight="bold" font-family="Liberation Mono" stroke="#f6f0f0" stroke-width="0.35">LMH5401IRMST</text>
<g transform="matrix(0.9969 -0.0783 0.0914 0.9958 650.00 666.80)"><rect x="-6.3" y="-6.3" width="12.6" height="12.6" fill="#6a6a6a"/><rect x="-5.5" y="-5.5" width="11.0" height="11.0" fill="#2e2f2f"/><circle cx="-4.0" cy="-4.0" r="0.9" fill="#40d0b0"/></g>
<g transform="matrix(-0.0904 -0.9959 0.9969 -0.0782 638.00 666.50)"><rect x="-5.0" y="-3.0" width="10.0" height="6.0" fill="none" stroke="#f0e6e6" stroke-width="0.9"/><rect x="-3.7" y="-1.6" width="2.4" height="3.2" fill="#b8b8b8"/><rect x="1.3" y="-1.6" width="2.4" height="3.2" fill="#b8b8b8"/><rect x="-1.6" y="-1.5" width="3.2" height="3" fill="#3a2a5a"/></g>
<g transform="matrix(-0.0924 -0.9957 0.9969 -0.0782 661.00 665.00)"><rect x="-5.0" y="-3.0" width="10.0" height="6.0" fill="none" stroke="#f0e6e6" stroke-width="0.9"/><rect x="-3.7" y="-1.6" width="2.4" height="3.2" fill="#b8b8b8"/><rect x="1.3" y="-1.6" width="2.4" height="3.2" fill="#b8b8b8"/><rect x="-1.6" y="-1.5" width="3.2" height="3" fill="#3a2a5a"/></g>
<text transform="matrix(-0.0933 -0.9956 0.9969 -0.0782 672.00 664.00)" x="0" y="0" font-size="6" fill="#f6f0f0" text-anchor="middle" dominant-baseline="central" font-weight="bold" font-family="Liberation Mono" stroke="#f6f0f0" stroke-width="0.35">OPA659IDSGR</text>
<g transform="matrix(0.9968 -0.0799 0.0916 0.9958 655.00 698.00)"><rect x="-5.0" y="-3.0" width="10.0" height="6.0" fill="none" stroke="#f0e6e6" stroke-width="0.9"/><rect x="-3.7" y="-1.6" width="2.4" height="3.2" fill="#b8b8b8"/><rect x="1.3" y="-1.6" width="2.4" height="3.2" fill="#b8b8b8"/><rect x="-1.6" y="-1.5" width="3.2" height="3" fill="#3a2a5a"/></g>
<g transform="matrix(0.9968 -0.0799 0.0934 0.9956 676.00 696.50)"><rect x="-5.0" y="-3.0" width="10.0" height="6.0" fill="none" stroke="#f0e6e6" stroke-width="0.9"/><rect x="-3.7" y="-1.6" width="2.4" height="3.2" fill="#b8b8b8"/><rect x="1.3" y="-1.6" width="2.4" height="3.2" fill="#b8b8b8"/><rect x="-1.6" y="-1.5" width="3.2" height="3" fill="#3a2a5a"/></g>
<g transform="matrix(0.9967 -0.0807 0.0921 0.9958 662.30 713.30)"><rect x="-19.25" y="-6.51" width="8.00" height="1.40" fill="#b9b9b9"/><rect x="11.25" y="-6.51" width="8.00" height="1.40" fill="#b9b9b9"/><rect x="-19.25" y="-2.64" width="8.00" height="1.40" fill="#b9b9b9"/><rect x="11.25" y="-2.64" width="8.00" height="1.40" fill="#b9b9b9"/><rect x="-19.25" y="1.24" width="8.00" height="1.40" fill="#b9b9b9"/><rect x="11.25" y="1.24" width="8.00" height="1.40" fill="#b9b9b9"/><rect x="-19.25" y="5.11" width="8.00" height="1.40" fill="#b9b9b9"/><rect x="11.25" y="5.11" width="8.00" height="1.40" fill="#b9b9b9"/><rect x="-11.25" y="-7.75" width="22.50" height="15.50" fill="#2f3030"/><circle cx="-9.75" cy="6.25" r="1" fill="#40d0b0"/></g>
<text transform="matrix(0.9967 -0.0815 0.0932 0.9956 676.50 726.50)" x="0" y="0" font-size="6.2" fill="#f6f0f0" text-anchor="middle" dominant-baseline="central" font-weight="bold" font-family="Liberation Mono" stroke="#f6f0f0" stroke-width="0.35">TLV9102IPWR</text>
<g transform="matrix(0.9968 -0.0802 0.0894 0.9960 630.00 706.00)"><rect x="-5.0" y="-3.0" width="10.0" height="6.0" fill="none" stroke="#f0e6e6" stroke-width="0.9"/><rect x="-3.7" y="-1.6" width="2.4" height="3.2" fill="#b8b8b8"/><rect x="1.3" y="-1.6" width="2.4" height="3.2" fill="#b8b8b8"/><rect x="-1.6" y="-1.5" width="3.2" height="3" fill="#3a2a5a"/></g>
<g transform="matrix(0.9967 -0.0806 0.0894 0.9960 630.50 713.50)"><rect x="-5.0" y="-3.0" width="10.0" height="6.0" fill="none" stroke="#f0e6e6" stroke-width="0.9"/><rect x="-3.7" y="-1.6" width="2.4" height="3.2" fill="#b8b8b8"/><rect x="1.3" y="-1.6" width="2.4" height="3.2" fill="#b8b8b8"/><rect x="-1.6" y="-1.5" width="3.2" height="3" fill="#3a2a5a"/></g>
<g transform="matrix(0.9967 -0.0810 0.0894 0.9960 631.00 721.00)"><rect x="-5.0" y="-3.0" width="10.0" height="6.0" fill="none" stroke="#f0e6e6" stroke-width="0.9"/><rect x="-3.7" y="-1.6" width="2.4" height="3.2" fill="#b8b8b8"/><rect x="1.3" y="-1.6" width="2.4" height="3.2" fill="#b8b8b8"/><rect x="-1.6" y="-1.5" width="3.2" height="3" fill="#3a2a5a"/></g>
<g transform="matrix(0.9967 -0.0814 0.0894 0.9960 631.50 729.00)"><rect x="-5.0" y="-3.0" width="10.0" height="6.0" fill="none" stroke="#f0e6e6" stroke-width="0.9"/><rect x="-3.7" y="-1.6" width="2.4" height="3.2" fill="#b8b8b8"/><rect x="1.3" y="-1.6" width="2.4" height="3.2" fill="#b8b8b8"/><rect x="-1.6" y="-1.5" width="3.2" height="3" fill="#3a2a5a"/></g>
<g transform="matrix(0.9967 -0.0815 0.0907 0.9959 647.50 730.00)"><rect x="-5.0" y="-3.0" width="10.0" height="6.0" fill="none" stroke="#f0e6e6" stroke-width="0.9"/><rect x="-3.7" y="-1.6" width="2.4" height="3.2" fill="#b8b8b8"/><rect x="1.3" y="-1.6" width="2.4" height="3.2" fill="#b8b8b8"/><rect x="-1.6" y="-1.5" width="3.2" height="3" fill="#3a2a5a"/></g>
<polyline points="582.50,700.00 572.50,585.50 720.00,574.00 776.60,570.30 796.50,771.50" fill="none" stroke="#f2ecec" stroke-width="1.3" stroke-linejoin="round"/>
<polyline points="582.50,700.00 590.00,789.75 799.00,772.00" fill="none" stroke="#f2ecec" stroke-width="1.3" stroke-linejoin="round"/>
<text transform="matrix(0.9972 -0.0752 0.0995 0.9950 740.00 600.00)" x="0" y="0" font-size="8.5" fill="#f6f0f0" text-anchor="middle" dominant-baseline="central" font-weight="normal" font-family="Liberation Sans" letter-spacing="0.8" stroke="#f6f0f0" stroke-width="0.35">Fan</text>
<line x1="746.90" y1="662.50" x2="743.70" y2="622.00" stroke="#f4eeee" stroke-width="1.2"/>
<line x1="743.70" y1="622.00" x2="737.50" y2="630.00" stroke="#f4eeee" stroke-width="1.2"/>
<line x1="743.70" y1="622.00" x2="750.00" y2="629.50" stroke="#f4eeee" stroke-width="1.2"/>
<text transform="matrix(0.9964 -0.0847 0.0656 0.9978 354.70 816.00)" x="0" y="0" font-size="8.2" fill="#f6f0f0" text-anchor="start" dominant-baseline="central" font-weight="bold" font-family="Liberation Mono" stroke="#f6f0f0" stroke-width="0.35">Haasoscope Pro, v1.27</text>
<text transform="matrix(0.9964 -0.0852 0.0657 0.9978 355.70 825.80)" x="0" y="0" font-size="8.2" fill="#f6f0f0" text-anchor="start" dominant-baseline="central" font-weight="bold" font-family="Liberation Mono" stroke="#f6f0f0" stroke-width="0.35">by DrAndyHaas</text>
<text transform="matrix(0.9963 -0.0857 0.0656 0.9978 355.70 835.30)" x="0" y="0" font-size="8.2" fill="#f6f0f0" text-anchor="start" dominant-baseline="central" font-weight="bold" font-family="Liberation Mono" stroke="#f6f0f0" stroke-width="0.35">March 2025</text>
<text transform="matrix(0.9961 -0.0877 0.0961 0.9954 723.00 843.00)" x="0" y="0" font-size="8.3" fill="#f6f0f0" text-anchor="middle" dominant-baseline="central" font-weight="bold" font-family="Liberation Mono" stroke="#f6f0f0" stroke-width="0.35">2025159AP9-250515</text>
<g transform="matrix(0.9988 -0.0494 0.1051 0.9945 753.00 106.00)"><rect x="-10.10" y="-13.50" width="2.20" height="4.50" fill="#b9b9b9"/><rect x="-10.10" y="9.00" width="2.20" height="4.50" fill="#b9b9b9"/><rect x="-4.10" y="-13.50" width="2.20" height="4.50" fill="#b9b9b9"/><rect x="-4.10" y="9.00" width="2.20" height="4.50" fill="#b9b9b9"/><rect x="1.90" y="-13.50" width="2.20" height="4.50" fill="#b9b9b9"/><rect x="1.90" y="9.00" width="2.20" height="4.50" fill="#b9b9b9"/><rect x="7.90" y="-13.50" width="2.20" height="4.50" fill="#b9b9b9"/><rect x="7.90" y="9.00" width="2.20" height="4.50" fill="#b9b9b9"/><rect x="-12.00" y="-9.00" width="24.00" height="18.00" fill="#2f3030"/><circle cx="-10.50" cy="7.50" r="1" fill="#40d0b0"/></g>
<text transform="matrix(-0.1034 -0.9946 0.9988 -0.0495 735.00 109.00)" x="0" y="0" font-size="6" fill="#f6f0f0" text-anchor="middle" dominant-baseline="central" font-weight="bold" font-family="Liberation Mono" stroke="#f6f0f0" stroke-width="0.35">EPCQ16ASI8N</text>
<g transform="matrix(0.9988 -0.0483 0.1044 0.9945 744.00 85.80)"><rect x="-3.5" y="-1.5" width="2.6" height="3" fill="#b8b8b8"/><rect x="0.9" y="-1.5" width="2.6" height="3" fill="#b8b8b8"/><rect x="-1" y="-1.2" width="2" height="2.4" fill="#3a2a40"/></g>
<g transform="matrix(0.9988 -0.0483 0.1056 0.9944 756.80 85.00)"><rect x="-3.5" y="-1.5" width="2.6" height="3" fill="#b8b8b8"/><rect x="0.9" y="-1.5" width="2.6" height="3" fill="#b8b8b8"/><rect x="-1" y="-1.2" width="2" height="2.4" fill="#3a2a40"/></g>
<rect transform="matrix(0.9988 -0.0493 0.1095 0.9940 803.00 102.50)" x="-13.50" y="-15.50" width="27.00" height="31.00" rx="0.00" fill="#c9c6c6" stroke="none" stroke-width="0" />
<rect transform="matrix(0.9988 -0.0492 0.1095 0.9940 803.00 100.50)" x="-11.00" y="-11.00" width="22.00" height="22.00" rx="0.00" fill="#dcdada" stroke="#a8a4a4" stroke-width="0.8" />
<g transform="matrix(0.9988 -0.0485 0.1086 0.9941 791.00 86.50)"><rect x="-1.5" y="-3" width="3" height="6" fill="#b0b0b0"/></g>
<g transform="matrix(0.9988 -0.0485 0.1107 0.9939 815.00 86.50)"><rect x="-1.5" y="-3" width="3" height="6" fill="#b0b0b0"/></g>
<g transform="matrix(0.9987 -0.0502 0.1083 0.9941 791.00 119.50)"><rect x="-1.5" y="-3" width="3" height="6" fill="#b0b0b0"/></g>
<g transform="matrix(0.9987 -0.0503 0.1104 0.9939 815.00 119.50)"><rect x="-1.5" y="-3" width="3" height="6" fill="#b0b0b0"/></g>
<ellipse transform="matrix(0.9988 -0.0492 0.1095 0.9940 803.00 100.00)" rx="5.60" ry="5.60" fill="#8e3ad8" stroke="none" stroke-width="0"/>
<text transform="matrix(0.9988 -0.0483 0.1094 0.9940 799.50 82.80)" x="0" y="0" font-size="6" fill="#f6f0f0" text-anchor="middle" dominant-baseline="central" font-weight="bold" font-family="Liberation Mono" stroke="#f6f0f0" stroke-width="0.35">Reload</text>
<rect transform="matrix(0.9988 -0.0488 0.1140 0.9935 852.66 89.21)" x="-6.50" y="-12.00" width="13.00" height="24.00" rx="0.00" fill="none" stroke="#f2ecec" stroke-width="1.0" />
<ellipse transform="matrix(0.9988 -0.0485 0.1140 0.9935 852.00 83.50)" rx="4.20" ry="4.20" fill="#8a8a8a" stroke="none" stroke-width="0"/>
<ellipse transform="matrix(0.9988 -0.0485 0.1140 0.9935 852.00 83.50)" rx="2.70" ry="2.70" fill="#151515" stroke="none" stroke-width="0"/>
<ellipse transform="matrix(0.9988 -0.0485 0.1140 0.9935 852.00 83.50)" cx="-0.4" cy="1.3" rx="1.8" ry="1.1" fill="#d8d8d8"/>
<ellipse transform="matrix(0.9988 -0.0491 0.1140 0.9935 853.31 94.93)" rx="4.20" ry="4.20" fill="#8a8a8a" stroke="none" stroke-width="0"/>
<ellipse transform="matrix(0.9988 -0.0491 0.1140 0.9935 853.31 94.93)" rx="2.70" ry="2.70" fill="#151515" stroke="none" stroke-width="0"/>
<ellipse transform="matrix(0.9988 -0.0491 0.1140 0.9935 853.31 94.93)" cx="-0.4" cy="1.3" rx="1.8" ry="1.1" fill="#d8d8d8"/>
<text transform="matrix(0.9988 -0.0479 0.1142 0.9935 853.50 73.80)" x="0" y="0" font-size="6" fill="#f6f0f0" text-anchor="middle" dominant-baseline="central" font-weight="bold" font-family="Liberation Mono" stroke="#f6f0f0" stroke-width="0.35">GND</text>
<text transform="matrix(0.9988 -0.0496 0.1138 0.9935 852.00 106.00)" x="0" y="0" font-size="6" fill="#f6f0f0" text-anchor="middle" dominant-baseline="central" font-weight="bold" font-family="Liberation Mono" stroke="#f6f0f0" stroke-width="0.35">-2.5V 2</text>
<g transform="matrix(-0.1129 -0.9936 0.9988 -0.0488 840.80 90.00)"><rect x="-6.5" y="-3.7" width="13.0" height="8.0" fill="#9a9a9a"/><rect x="-4.8" y="-4.0" width="9.6" height="7.2" fill="#f2f2f2"/><rect x="-3.0" y="-4.0" width="6.0" height="7.2" fill="#4b1fa0"/><rect x="-4.8" y="2.7" width="9.6" height="1" fill="#20302c"/></g>
<g transform="matrix(-0.1152 -0.9933 0.9988 -0.0488 866.00 90.00)"><rect x="-3.8" y="-2.2" width="7.6" height="4.4" fill="#9a9a9a"/><rect x="-2.8" y="-2.2" width="5.6" height="3.6" fill="#eeeeee"/><rect x="-1.4" y="-2.2" width="2.8" height="3.6" fill="#4b1fa0"/></g>
<g transform="matrix(0.9988 -0.0488 0.1166 0.9932 882.00 88.80)"><rect x="-6" y="-4.5" width="3.5" height="3" fill="#8a8a8a"/><rect x="-6" y="1.5" width="3.5" height="3" fill="#8a8a8a"/><rect x="3" y="-1.5" width="3.5" height="3" fill="#8a8a8a"/><rect x="-3.2" y="-4.5" width="6.6" height="10" fill="#2a2b2b"/><circle cx="-5" cy="-3.5" r="1" fill="#40d0b0"/></g>
<g transform="matrix(-0.1177 -0.9931 0.9988 -0.0490 894.80 91.00)"><rect x="-3.8" y="-2.2" width="7.6" height="4.4" fill="#9a9a9a"/><rect x="-2.8" y="-2.2" width="5.6" height="3.6" fill="#eeeeee"/><rect x="-1.4" y="-2.2" width="2.8" height="3.6" fill="#4b1fa0"/></g>
<text transform="matrix(0.9988 -0.0496 0.1170 0.9931 888.00 103.00)" x="0" y="0" font-size="6.2" fill="#f6f0f0" text-anchor="middle" dominant-baseline="central" font-weight="bold" font-family="Liberation Mono" stroke="#f6f0f0" stroke-width="0.35">TPS72325DBVR</text>
<rect transform="matrix(0.9988 -0.0483 0.1196 0.9928 915.00 76.80)" x="-3.50" y="-2.00" width="7.00" height="4.00" rx="0.00" fill="#eeeeee" stroke="none" stroke-width="0" />
<g transform="matrix(0.9988 -0.0486 0.1195 0.9928 915.00 82.50)"><rect x="-3.5" y="-1.5" width="2.6" height="3" fill="#b8b8b8"/><rect x="0.9" y="-1.5" width="2.6" height="3" fill="#b8b8b8"/><rect x="-1" y="-1.2" width="2" height="2.4" fill="#3a2a40"/></g>
<text transform="matrix(0.9989 -0.0479 0.1195 0.9928 912.80 70.80)" x="0" y="0" font-size="6" fill="#f6f0f0" text-anchor="middle" dominant-baseline="central" font-weight="bold" font-family="Liberation Mono" stroke="#f6f0f0" stroke-width="0.35">3.3V</text>
<rect transform="matrix(0.9988 -0.0486 0.1211 0.9926 932.26 82.20)" x="-6.50" y="-13.00" width="13.00" height="26.00" rx="0.00" fill="none" stroke="#f2ecec" stroke-width="1.0" />
<ellipse transform="matrix(0.9988 -0.0483 0.1211 0.9926 931.50 76.00)" rx="4.20" ry="4.20" fill="#8a8a8a" stroke="none" stroke-width="0"/>
<ellipse transform="matrix(0.9988 -0.0483 0.1211 0.9926 931.50 76.00)" rx="2.70" ry="2.70" fill="#151515" stroke="none" stroke-width="0"/>
<ellipse transform="matrix(0.9988 -0.0483 0.1211 0.9926 931.50 76.00)" cx="-0.4" cy="1.3" rx="1.8" ry="1.1" fill="#d8d8d8"/>
<ellipse transform="matrix(0.9988 -0.0489 0.1211 0.9926 933.01 88.41)" rx="4.20" ry="4.20" fill="#8a8a8a" stroke="none" stroke-width="0"/>
<ellipse transform="matrix(0.9988 -0.0489 0.1211 0.9926 933.01 88.41)" rx="2.70" ry="2.70" fill="#151515" stroke="none" stroke-width="0"/>
<ellipse transform="matrix(0.9988 -0.0489 0.1211 0.9926 933.01 88.41)" cx="-0.4" cy="1.3" rx="1.8" ry="1.1" fill="#d8d8d8"/>
<text transform="matrix(0.9989 -0.0477 0.1211 0.9926 930.80 65.50)" x="0" y="0" font-size="6" fill="#f6f0f0" text-anchor="middle" dominant-baseline="central" font-weight="bold" font-family="Liberation Mono" stroke="#f6f0f0" stroke-width="0.35">3.3V</text>
<text transform="matrix(0.9988 -0.0495 0.1210 0.9927 933.80 99.00)" x="0" y="0" font-size="6" fill="#f6f0f0" text-anchor="middle" dominant-baseline="central" font-weight="bold" font-family="Liberation Mono" stroke="#f6f0f0" stroke-width="0.35">GND</text>
<g transform="matrix(-0.1220 -0.9925 0.9988 -0.0486 943.50 82.00)"><rect x="-3.8" y="-2.2" width="7.6" height="4.4" fill="#9a9a9a"/><rect x="-2.8" y="-2.2" width="5.6" height="3.6" fill="#eeeeee"/><rect x="-1.4" y="-2.2" width="2.8" height="3.6" fill="#4b1fa0"/></g>
<g transform="matrix(-0.1231 -0.9924 0.9988 -0.0485 955.50 79.00)"><rect x="-6.5" y="-3.7" width="13.0" height="8.0" fill="#9a9a9a"/><rect x="-4.8" y="-4.0" width="9.6" height="7.2" fill="#f2f2f2"/><rect x="-3.0" y="-4.0" width="6.0" height="7.2" fill="#4b1fa0"/><rect x="-4.8" y="2.7" width="9.6" height="1" fill="#20302c"/></g>
<text transform="matrix(0.9987 -0.0506 0.1156 0.9933 874.50 123.30)" x="0" y="0" font-size="6.2" fill="#f6f0f0" text-anchor="middle" dominant-baseline="central" font-weight="bold" font-family="Liberation Mono" stroke="#f6f0f0" stroke-width="0.35">NFM31PC276B0J3L</text>
<g transform="matrix(-0.1116 -0.9938 0.9987 -0.0511 830.00 134.00)"><rect x="-3.8" y="-2.2" width="7.6" height="4.4" fill="#9a9a9a"/><rect x="-2.8" y="-2.2" width="5.6" height="3.6" fill="#eeeeee"/><rect x="-1.4" y="-2.2" width="2.8" height="3.6" fill="#4b1fa0"/></g>
<g transform="matrix(-0.1128 -0.9936 0.9987 -0.0511 844.50 133.50)"><rect x="-6.5" y="-3.7" width="13.0" height="8.0" fill="#9a9a9a"/><rect x="-4.8" y="-4.0" width="9.6" height="7.2" fill="#f2f2f2"/><rect x="-3.0" y="-4.0" width="6.0" height="7.2" fill="#4b1fa0"/><rect x="-4.8" y="2.7" width="9.6" height="1" fill="#20302c"/></g>
<g transform="matrix(-0.1171 -0.9931 0.9987 -0.0510 892.50 130.50)"><rect x="-3.8" y="-2.2" width="7.6" height="4.4" fill="#9a9a9a"/><rect x="-2.8" y="-2.2" width="5.6" height="3.6" fill="#eeeeee"/><rect x="-1.4" y="-2.2" width="2.8" height="3.6" fill="#4b1fa0"/></g>
<g transform="matrix(-0.1183 -0.9930 0.9987 -0.0511 906.80 130.50)"><rect x="-6.5" y="-3.7" width="13.0" height="8.0" fill="#9a9a9a"/><rect x="-4.8" y="-4.0" width="9.6" height="7.2" fill="#f2f2f2"/><rect x="-3.0" y="-4.0" width="6.0" height="7.2" fill="#4b1fa0"/><rect x="-4.8" y="2.7" width="9.6" height="1" fill="#20302c"/></g>
<rect transform="matrix(0.9987 -0.0512 0.1151 0.9933 871.00 135.00)" x="-10.00" y="-4.00" width="20.00" height="8.00" rx="0.00" fill="#8a8a8a" stroke="none" stroke-width="0" />
<rect transform="matrix(0.9987 -0.0512 0.1151 0.9933 871.00 134.50)" x="-7.50" y="-3.50" width="15.00" height="7.00" rx="0.00" fill="#e2e6f2" stroke="none" stroke-width="0" />
<rect transform="matrix(0.9987 -0.0514 0.1151 0.9934 871.00 138.30)" x="-7.50" y="-0.60" width="15.00" height="1.20" rx="0.00" fill="#7a7a88" stroke="none" stroke-width="0" />
<g transform="matrix(0.9987 -0.0515 0.1151 0.9934 871.00 141.00)"><rect x="-3.5" y="-1.5" width="2.6" height="3" fill="#b8b8b8"/><rect x="0.9" y="-1.5" width="2.6" height="3" fill="#b8b8b8"/><rect x="-1" y="-1.2" width="2" height="2.4" fill="#3a2a40"/></g>
<g transform="matrix(-0.1116 -0.9938 0.9986 -0.0526 834.00 163.00)"><rect x="-3.8" y="-2.2" width="7.6" height="4.4" fill="#9a9a9a"/><rect x="-2.8" y="-2.2" width="5.6" height="3.6" fill="#eeeeee"/><rect x="-1.4" y="-2.2" width="2.8" height="3.6" fill="#4b1fa0"/></g>
<g transform="matrix(-0.1128 -0.9936 0.9986 -0.0526 848.00 162.50)"><rect x="-6.5" y="-3.7" width="13.0" height="8.0" fill="#9a9a9a"/><rect x="-4.8" y="-4.0" width="9.6" height="7.2" fill="#f2f2f2"/><rect x="-3.0" y="-4.0" width="6.0" height="7.2" fill="#4b1fa0"/><rect x="-4.8" y="2.7" width="9.6" height="1" fill="#20302c"/></g>
<g transform="matrix(-0.1170 -0.9931 0.9986 -0.0526 895.50 159.50)"><rect x="-3.8" y="-2.2" width="7.6" height="4.4" fill="#9a9a9a"/><rect x="-2.8" y="-2.2" width="5.6" height="3.6" fill="#eeeeee"/><rect x="-1.4" y="-2.2" width="2.8" height="3.6" fill="#4b1fa0"/></g>
<g transform="matrix(-0.1183 -0.9930 0.9986 -0.0526 910.50 159.50)"><rect x="-6.5" y="-3.7" width="13.0" height="8.0" fill="#9a9a9a"/><rect x="-4.8" y="-4.0" width="9.6" height="7.2" fill="#f2f2f2"/><rect x="-3.0" y="-4.0" width="6.0" height="7.2" fill="#4b1fa0"/><rect x="-4.8" y="2.7" width="9.6" height="1" fill="#20302c"/></g>
<rect transform="matrix(0.9986 -0.0528 0.1151 0.9934 873.80 164.00)" x="-10.00" y="-4.00" width="20.00" height="8.00" rx="0.00" fill="#8a8a8a" stroke="none" stroke-width="0" />
<rect transform="matrix(0.9986 -0.0527 0.1151 0.9934 873.80 163.50)" x="-7.50" y="-3.50" width="15.00" height="7.00" rx="0.00" fill="#e2e6f2" stroke="none" stroke-width="0" />
<rect transform="matrix(0.9986 -0.0529 0.1151 0.9934 873.80 167.30)" x="-7.50" y="-0.60" width="15.00" height="1.20" rx="0.00" fill="#7a7a88" stroke="none" stroke-width="0" />
<g transform="matrix(0.9986 -0.0531 0.1150 0.9934 873.80 170.00)"><rect x="-3.5" y="-1.5" width="2.6" height="3" fill="#b8b8b8"/><rect x="0.9" y="-1.5" width="2.6" height="3" fill="#b8b8b8"/><rect x="-1" y="-1.2" width="2" height="2.4" fill="#3a2a40"/></g>
<g transform="matrix(-0.1115 -0.9938 0.9985 -0.0542 836.00 193.00)"><rect x="-3.8" y="-2.2" width="7.6" height="4.4" fill="#9a9a9a"/><rect x="-2.8" y="-2.2" width="5.6" height="3.6" fill="#eeeeee"/><rect x="-1.4" y="-2.2" width="2.8" height="3.6" fill="#4b1fa0"/></g>
<g transform="matrix(-0.1128 -0.9936 0.9985 -0.0542 851.00 192.50)"><rect x="-6.5" y="-3.7" width="13.0" height="8.0" fill="#9a9a9a"/><rect x="-4.8" y="-4.0" width="9.6" height="7.2" fill="#f2f2f2"/><rect x="-3.0" y="-4.0" width="6.0" height="7.2" fill="#4b1fa0"/><rect x="-4.8" y="2.7" width="9.6" height="1" fill="#20302c"/></g>
<g transform="matrix(-0.1170 -0.9931 0.9985 -0.0542 898.80 189.50)"><rect x="-3.8" y="-2.2" width="7.6" height="4.4" fill="#9a9a9a"/><rect x="-2.8" y="-2.2" width="5.6" height="3.6" fill="#eeeeee"/><rect x="-1.4" y="-2.2" width="2.8" height="3.6" fill="#4b1fa0"/></g>
<g transform="matrix(-0.1183 -0.9930 0.9985 -0.0542 913.80 189.50)"><rect x="-6.5" y="-3.7" width="13.0" height="8.0" fill="#9a9a9a"/><rect x="-4.8" y="-4.0" width="9.6" height="7.2" fill="#f2f2f2"/><rect x="-3.0" y="-4.0" width="6.0" height="7.2" fill="#4b1fa0"/><rect x="-4.8" y="2.7" width="9.6" height="1" fill="#20302c"/></g>
<rect transform="matrix(0.9985 -0.0543 0.1150 0.9934 876.00 194.00)" x="-10.00" y="-4.00" width="20.00" height="8.00" rx="0.00" fill="#8a8a8a" stroke="none" stroke-width="0" />
<rect transform="matrix(0.9985 -0.0543 0.1150 0.9934 876.00 193.50)" x="-7.50" y="-3.50" width="15.00" height="7.00" rx="0.00" fill="#e2e6f2" stroke="none" stroke-width="0" />
<rect transform="matrix(0.9985 -0.0545 0.1149 0.9934 876.00 197.30)" x="-7.50" y="-0.60" width="15.00" height="1.20" rx="0.00" fill="#7a7a88" stroke="none" stroke-width="0" />
<g transform="matrix(0.9985 -0.0547 0.1149 0.9934 876.00 200.00)"><rect x="-3.5" y="-1.5" width="2.6" height="3" fill="#b8b8b8"/><rect x="0.9" y="-1.5" width="2.6" height="3" fill="#b8b8b8"/><rect x="-1" y="-1.2" width="2" height="2.4" fill="#3a2a40"/></g>
<g transform="matrix(-0.1116 -0.9938 0.9985 -0.0556 840.00 220.50)"><rect x="-3.8" y="-2.2" width="7.6" height="4.4" fill="#9a9a9a"/><rect x="-2.8" y="-2.2" width="5.6" height="3.6" fill="#eeeeee"/><rect x="-1.4" y="-2.2" width="2.8" height="3.6" fill="#4b1fa0"/></g>
<g transform="matrix(-0.1129 -0.9936 0.9985 -0.0557 855.00 220.00)"><rect x="-6.5" y="-3.7" width="13.0" height="8.0" fill="#9a9a9a"/><rect x="-4.8" y="-4.0" width="9.6" height="7.2" fill="#f2f2f2"/><rect x="-3.0" y="-4.0" width="6.0" height="7.2" fill="#4b1fa0"/><rect x="-4.8" y="2.7" width="9.6" height="1" fill="#20302c"/></g>
<g transform="matrix(-0.1170 -0.9931 0.9985 -0.0556 902.50 217.00)"><rect x="-3.8" y="-2.2" width="7.6" height="4.4" fill="#9a9a9a"/><rect x="-2.8" y="-2.2" width="5.6" height="3.6" fill="#eeeeee"/><rect x="-1.4" y="-2.2" width="2.8" height="3.6" fill="#4b1fa0"/></g>
<g transform="matrix(-0.1183 -0.9930 0.9984 -0.0557 917.50 217.00)"><rect x="-6.5" y="-3.7" width="13.0" height="8.0" fill="#9a9a9a"/><rect x="-4.8" y="-4.0" width="9.6" height="7.2" fill="#f2f2f2"/><rect x="-3.0" y="-4.0" width="6.0" height="7.2" fill="#4b1fa0"/><rect x="-4.8" y="2.7" width="9.6" height="1" fill="#20302c"/></g>
<rect transform="matrix(0.9984 -0.0558 0.1150 0.9934 880.00 221.50)" x="-10.00" y="-4.00" width="20.00" height="8.00" rx="0.00" fill="#8a8a8a" stroke="none" stroke-width="0" />
<rect transform="matrix(0.9984 -0.0558 0.1151 0.9934 880.00 221.00)" x="-7.50" y="-3.50" width="15.00" height="7.00" rx="0.00" fill="#e2e6f2" stroke="none" stroke-width="0" />
<rect transform="matrix(0.9984 -0.0560 0.1150 0.9934 880.00 224.80)" x="-7.50" y="-0.60" width="15.00" height="1.20" rx="0.00" fill="#7a7a88" stroke="none" stroke-width="0" />
<g transform="matrix(0.9984 -0.0561 0.1150 0.9934 880.00 227.50)"><rect x="-3.5" y="-1.5" width="2.6" height="3" fill="#b8b8b8"/><rect x="0.9" y="-1.5" width="2.6" height="3" fill="#b8b8b8"/><rect x="-1" y="-1.2" width="2" height="2.4" fill="#3a2a40"/></g>
<g transform="matrix(-0.1116 -0.9938 0.9984 -0.0572 843.80 249.50)"><rect x="-3.8" y="-2.2" width="7.6" height="4.4" fill="#9a9a9a"/><rect x="-2.8" y="-2.2" width="5.6" height="3.6" fill="#eeeeee"/><rect x="-1.4" y="-2.2" width="2.8" height="3.6" fill="#4b1fa0"/></g>
<g transform="matrix(-0.1129 -0.9936 0.9984 -0.0572 858.80 249.00)"><rect x="-6.5" y="-3.7" width="13.0" height="8.0" fill="#9a9a9a"/><rect x="-4.8" y="-4.0" width="9.6" height="7.2" fill="#f2f2f2"/><rect x="-3.0" y="-4.0" width="6.0" height="7.2" fill="#4b1fa0"/><rect x="-4.8" y="2.7" width="9.6" height="1" fill="#20302c"/></g>
<g transform="matrix(-0.1171 -0.9931 0.9984 -0.0572 906.00 246.00)"><rect x="-3.8" y="-2.2" width="7.6" height="4.4" fill="#9a9a9a"/><rect x="-2.8" y="-2.2" width="5.6" height="3.6" fill="#eeeeee"/><rect x="-1.4" y="-2.2" width="2.8" height="3.6" fill="#4b1fa0"/></g>
<g transform="matrix(-0.1184 -0.9930 0.9984 -0.0572 921.00 246.00)"><rect x="-6.5" y="-3.7" width="13.0" height="8.0" fill="#9a9a9a"/><rect x="-4.8" y="-4.0" width="9.6" height="7.2" fill="#f2f2f2"/><rect x="-3.0" y="-4.0" width="6.0" height="7.2" fill="#4b1fa0"/><rect x="-4.8" y="2.7" width="9.6" height="1" fill="#20302c"/></g>
<rect transform="matrix(0.9984 -0.0573 0.1151 0.9934 883.80 250.50)" x="-10.00" y="-4.00" width="20.00" height="8.00" rx="0.00" fill="#8a8a8a" stroke="none" stroke-width="0" />
<rect transform="matrix(0.9984 -0.0573 0.1151 0.9934 883.80 250.00)" x="-7.50" y="-3.50" width="15.00" height="7.00" rx="0.00" fill="#e2e6f2" stroke="none" stroke-width="0" />
<rect transform="matrix(0.9983 -0.0575 0.1151 0.9934 883.80 253.80)" x="-7.50" y="-0.60" width="15.00" height="1.20" rx="0.00" fill="#7a7a88" stroke="none" stroke-width="0" />
<g transform="matrix(0.9983 -0.0577 0.1150 0.9934 883.80 256.50)"><rect x="-3.5" y="-1.5" width="2.6" height="3" fill="#b8b8b8"/><rect x="0.9" y="-1.5" width="2.6" height="3" fill="#b8b8b8"/><rect x="-1" y="-1.2" width="2" height="2.4" fill="#3a2a40"/></g>
<rect transform="matrix(0.9986 -0.0523 0.1210 0.9927 939.73 151.76)" x="-6.50" y="-12.50" width="13.00" height="25.00" rx="0.00" fill="none" stroke="#f2ecec" stroke-width="1.0" />
<ellipse transform="matrix(0.9986 -0.0520 0.1210 0.9927 939.00 145.80)" rx="4.20" ry="4.20" fill="#8a8a8a" stroke="none" stroke-width="0"/>
<ellipse transform="matrix(0.9986 -0.0520 0.1210 0.9927 939.00 145.80)" rx="2.70" ry="2.70" fill="#151515" stroke="none" stroke-width="0"/>
<ellipse transform="matrix(0.9986 -0.0520 0.1210 0.9927 939.00 145.80)" cx="-0.4" cy="1.3" rx="1.8" ry="1.1" fill="#d8d8d8"/>
<ellipse transform="matrix(0.9986 -0.0526 0.1210 0.9927 940.45 157.71)" rx="4.20" ry="4.20" fill="#8a8a8a" stroke="none" stroke-width="0"/>
<ellipse transform="matrix(0.9986 -0.0526 0.1210 0.9927 940.45 157.71)" rx="2.70" ry="2.70" fill="#151515" stroke="none" stroke-width="0"/>
<ellipse transform="matrix(0.9986 -0.0526 0.1210 0.9927 940.45 157.71)" cx="-0.4" cy="1.3" rx="1.8" ry="1.1" fill="#d8d8d8"/>
<text transform="matrix(0.9987 -0.0515 0.1210 0.9927 938.00 136.00)" x="0" y="0" font-size="6" fill="#f6f0f0" text-anchor="middle" dominant-baseline="central" font-weight="bold" font-family="Liberation Mono" stroke="#f6f0f0" stroke-width="0.35">1.1V</text>
<text transform="matrix(0.9986 -0.0531 0.1210 0.9927 942.00 167.50)" x="0" y="0" font-size="6" fill="#f6f0f0" text-anchor="middle" dominant-baseline="central" font-weight="bold" font-family="Liberation Mono" stroke="#f6f0f0" stroke-width="0.35">GND</text>
<rect transform="matrix(0.9984 -0.0560 0.1210 0.9927 948.70 222.21)" x="-6.50" y="-12.00" width="13.00" height="24.00" rx="0.00" fill="none" stroke="#f2ecec" stroke-width="1.0" />
<ellipse transform="matrix(0.9984 -0.0557 0.1210 0.9927 948.00 216.50)" rx="4.20" ry="4.20" fill="#8a8a8a" stroke="none" stroke-width="0"/>
<ellipse transform="matrix(0.9984 -0.0557 0.1210 0.9927 948.00 216.50)" rx="2.70" ry="2.70" fill="#151515" stroke="none" stroke-width="0"/>
<ellipse transform="matrix(0.9984 -0.0557 0.1210 0.9927 948.00 216.50)" cx="-0.4" cy="1.3" rx="1.8" ry="1.1" fill="#d8d8d8"/>
<ellipse transform="matrix(0.9984 -0.0563 0.1210 0.9927 949.39 227.92)" rx="4.20" ry="4.20" fill="#8a8a8a" stroke="none" stroke-width="0"/>
<ellipse transform="matrix(0.9984 -0.0563 0.1210 0.9927 949.39 227.92)" rx="2.70" ry="2.70" fill="#151515" stroke="none" stroke-width="0"/>
<ellipse transform="matrix(0.9984 -0.0563 0.1210 0.9927 949.39 227.92)" cx="-0.4" cy="1.3" rx="1.8" ry="1.1" fill="#d8d8d8"/>
<text transform="matrix(0.9985 -0.0552 0.1209 0.9927 945.50 206.00)" x="0" y="0" font-size="6" fill="#f6f0f0" text-anchor="middle" dominant-baseline="central" font-weight="bold" font-family="Liberation Mono" stroke="#f6f0f0" stroke-width="0.35">1.9V</text>
<text transform="matrix(0.9984 -0.0569 0.1210 0.9927 950.00 237.50)" x="0" y="0" font-size="6" fill="#f6f0f0" text-anchor="middle" dominant-baseline="central" font-weight="bold" font-family="Liberation Mono" stroke="#f6f0f0" stroke-width="0.35">GND</text>
<g transform="matrix(-0.1220 -0.9925 0.9984 -0.0560 960.50 220.50)"><rect x="-3.8" y="-2.2" width="7.6" height="4.4" fill="#9a9a9a"/><rect x="-2.8" y="-2.2" width="5.6" height="3.6" fill="#eeeeee"/><rect x="-1.4" y="-2.2" width="2.8" height="3.6" fill="#4b1fa0"/></g>
<g transform="matrix(-0.1232 -0.9924 0.9984 -0.0560 973.50 220.00)"><rect x="-6.5" y="-3.7" width="13.0" height="8.0" fill="#9a9a9a"/><rect x="-4.8" y="-4.0" width="9.6" height="7.2" fill="#f2f2f2"/><rect x="-3.0" y="-4.0" width="6.0" height="7.2" fill="#4b1fa0"/><rect x="-4.8" y="2.7" width="9.6" height="1" fill="#20302c"/></g>
<g transform="matrix(-0.1242 -0.9923 0.9984 -0.0560 985.00 219.00)"><rect x="-3.8" y="-2.2" width="7.6" height="4.4" fill="#9a9a9a"/><rect x="-2.8" y="-2.2" width="5.6" height="3.6" fill="#eeeeee"/><rect x="-1.4" y="-2.2" width="2.8" height="3.6" fill="#4b1fa0"/></g>
<g transform="matrix(0.9984 -0.0560 0.1258 0.9921 1003.30 218.00)"><rect x="-8.3" y="-8.3" width="16.6" height="16.6" fill="#6a6a6a"/><rect x="-7.5" y="-7.5" width="15.0" height="15.0" fill="#2e2f2f"/><circle cx="-6.0" cy="-6.0" r="0.9" fill="#40d0b0"/></g>
<rect transform="matrix(0.9984 -0.0570 0.1283 0.9917 1034.24 235.70)" x="-6.50" y="-12.00" width="13.00" height="24.00" rx="0.00" fill="none" stroke="#f2ecec" stroke-width="1.0" />
<ellipse transform="matrix(0.9984 -0.0567 0.1283 0.9917 1033.50 230.00)" rx="4.20" ry="4.20" fill="#8a8a8a" stroke="none" stroke-width="0"/>
<ellipse transform="matrix(0.9984 -0.0567 0.1283 0.9917 1033.50 230.00)" rx="2.70" ry="2.70" fill="#151515" stroke="none" stroke-width="0"/>
<ellipse transform="matrix(0.9984 -0.0567 0.1283 0.9917 1033.50 230.00)" cx="-0.4" cy="1.3" rx="1.8" ry="1.1" fill="#d8d8d8"/>
<ellipse transform="matrix(0.9984 -0.0573 0.1283 0.9917 1034.97 241.41)" rx="4.20" ry="4.20" fill="#8a8a8a" stroke="none" stroke-width="0"/>
<ellipse transform="matrix(0.9984 -0.0573 0.1283 0.9917 1034.97 241.41)" rx="2.70" ry="2.70" fill="#151515" stroke="none" stroke-width="0"/>
<ellipse transform="matrix(0.9984 -0.0573 0.1283 0.9917 1034.97 241.41)" cx="-0.4" cy="1.3" rx="1.8" ry="1.1" fill="#d8d8d8"/>
<text transform="matrix(-0.1276 -0.9918 0.9984 -0.0560 1024.00 217.00)" x="0" y="0" font-size="5.6" fill="#f6f0f0" text-anchor="middle" dominant-baseline="central" font-weight="bold" font-family="Liberation Mono" stroke="#f6f0f0" stroke-width="0.35">0.1uF</text>
<g transform="matrix(-0.1282 -0.9917 0.9984 -0.0558 1030.50 212.50)"><rect x="-3.8" y="-2.2" width="7.6" height="4.4" fill="#9a9a9a"/><rect x="-2.8" y="-2.2" width="5.6" height="3.6" fill="#eeeeee"/><rect x="-1.4" y="-2.2" width="2.8" height="3.6" fill="#4b1fa0"/></g>
<text transform="matrix(0.9984 -0.0569 0.1267 0.9919 1016.50 234.00)" x="0" y="0" font-size="6" fill="#f6f0f0" text-anchor="middle" dominant-baseline="central" font-weight="bold" font-family="Liberation Mono" stroke="#f6f0f0" stroke-width="0.35">2.2V</text>
<text transform="matrix(0.9984 -0.0572 0.1267 0.9919 1017.00 240.00)" x="0" y="0" font-size="6" fill="#f6f0f0" text-anchor="middle" dominant-baseline="central" font-weight="bold" font-family="Liberation Mono" stroke="#f6f0f0" stroke-width="0.35">out</text>
<text transform="matrix(0.9983 -0.0575 0.1267 0.9919 1017.50 245.50)" x="0" y="0" font-size="6" fill="#f6f0f0" text-anchor="middle" dominant-baseline="central" font-weight="bold" font-family="Liberation Mono" stroke="#f6f0f0" stroke-width="0.35">GND</text>
<g transform="matrix(-0.1171 -0.9931 0.9984 -0.0557 903.00 218.00)"><rect x="-3.8" y="-2.2" width="7.6" height="4.4" fill="#9a9a9a"/><rect x="-2.8" y="-2.2" width="5.6" height="3.6" fill="#eeeeee"/><rect x="-1.4" y="-2.2" width="2.8" height="3.6" fill="#4b1fa0"/></g>
<g transform="matrix(-0.1183 -0.9930 0.9984 -0.0557 917.50 217.00)"><rect x="-6.5" y="-3.7" width="13.0" height="8.0" fill="#9a9a9a"/><rect x="-4.8" y="-4.0" width="9.6" height="7.2" fill="#f2f2f2"/><rect x="-3.0" y="-4.0" width="6.0" height="7.2" fill="#4b1fa0"/><rect x="-4.8" y="2.7" width="9.6" height="1" fill="#20302c"/></g>
<g transform="matrix(-0.1171 -0.9931 0.9984 -0.0573 906.50 248.00)"><rect x="-3.8" y="-2.2" width="7.6" height="4.4" fill="#9a9a9a"/><rect x="-2.8" y="-2.2" width="5.6" height="3.6" fill="#eeeeee"/><rect x="-1.4" y="-2.2" width="2.8" height="3.6" fill="#4b1fa0"/></g>
<g transform="matrix(-0.1183 -0.9930 0.9984 -0.0573 921.00 248.00)"><rect x="-6.5" y="-3.7" width="13.0" height="8.0" fill="#9a9a9a"/><rect x="-4.8" y="-4.0" width="9.6" height="7.2" fill="#f2f2f2"/><rect x="-3.0" y="-4.0" width="6.0" height="7.2" fill="#4b1fa0"/><rect x="-4.8" y="2.7" width="9.6" height="1" fill="#20302c"/></g>
<rect transform="matrix(0.9983 -0.0585 0.1210 0.9926 954.70 269.21)" x="-6.50" y="-12.00" width="13.00" height="24.00" rx="0.00" fill="none" stroke="#f2ecec" stroke-width="1.0" />
<ellipse transform="matrix(0.9983 -0.0582 0.1210 0.9926 954.00 263.50)" rx="4.20" ry="4.20" fill="#8a8a8a" stroke="none" stroke-width="0"/>
<ellipse transform="matrix(0.9983 -0.0582 0.1210 0.9926 954.00 263.50)" rx="2.70" ry="2.70" fill="#151515" stroke="none" stroke-width="0"/>
<ellipse transform="matrix(0.9983 -0.0582 0.1210 0.9926 954.00 263.50)" cx="-0.4" cy="1.3" rx="1.8" ry="1.1" fill="#d8d8d8"/>
<ellipse transform="matrix(0.9983 -0.0589 0.1210 0.9926 955.39 274.92)" rx="4.20" ry="4.20" fill="#8a8a8a" stroke="none" stroke-width="0"/>
<ellipse transform="matrix(0.9983 -0.0589 0.1210 0.9926 955.39 274.92)" rx="2.70" ry="2.70" fill="#151515" stroke="none" stroke-width="0"/>
<ellipse transform="matrix(0.9983 -0.0589 0.1210 0.9926 955.39 274.92)" cx="-0.4" cy="1.3" rx="1.8" ry="1.1" fill="#d8d8d8"/>
<text transform="matrix(0.9983 -0.0576 0.1210 0.9927 952.00 252.00)" x="0" y="0" font-size="6" fill="#f6f0f0" text-anchor="middle" dominant-baseline="central" font-weight="bold" font-family="Liberation Mono" stroke="#f6f0f0" stroke-width="0.35">1.9VD</text>
<g transform="matrix(-0.1221 -0.9925 0.9983 -0.0585 966.50 268.00)"><rect x="-3.8" y="-2.2" width="7.6" height="4.4" fill="#9a9a9a"/><rect x="-2.8" y="-2.2" width="5.6" height="3.6" fill="#eeeeee"/><rect x="-1.4" y="-2.2" width="2.8" height="3.6" fill="#4b1fa0"/></g>
<g transform="matrix(-0.1231 -0.9924 0.9983 -0.0585 979.00 267.00)"><rect x="-6.5" y="-3.7" width="13.0" height="8.0" fill="#9a9a9a"/><rect x="-4.8" y="-4.0" width="9.6" height="7.2" fill="#f2f2f2"/><rect x="-3.0" y="-4.0" width="6.0" height="7.2" fill="#4b1fa0"/><rect x="-4.8" y="2.7" width="9.6" height="1" fill="#20302c"/></g>
<g transform="matrix(-0.1241 -0.9923 0.9983 -0.0585 990.50 266.50)"><rect x="-3.8" y="-2.2" width="7.6" height="4.4" fill="#9a9a9a"/><rect x="-2.8" y="-2.2" width="5.6" height="3.6" fill="#eeeeee"/><rect x="-1.4" y="-2.2" width="2.8" height="3.6" fill="#4b1fa0"/></g>
<g transform="matrix(0.9983 -0.0585 0.1258 0.9921 1009.00 265.00)"><rect x="-8.3" y="-8.3" width="16.6" height="16.6" fill="#6a6a6a"/><rect x="-7.5" y="-7.5" width="15.0" height="15.0" fill="#2e2f2f"/><circle cx="-6.0" cy="-6.0" r="0.9" fill="#40d0b0"/></g>
<g transform="matrix(-0.1221 -0.9925 0.9986 -0.0522 952.50 150.00)"><rect x="-3.8" y="-2.2" width="7.6" height="4.4" fill="#9a9a9a"/><rect x="-2.8" y="-2.2" width="5.6" height="3.6" fill="#eeeeee"/><rect x="-1.4" y="-2.2" width="2.8" height="3.6" fill="#4b1fa0"/></g>
<g transform="matrix(-0.1231 -0.9924 0.9986 -0.0522 964.00 148.50)"><rect x="-6.5" y="-3.7" width="13.0" height="8.0" fill="#9a9a9a"/><rect x="-4.8" y="-4.0" width="9.6" height="7.2" fill="#f2f2f2"/><rect x="-3.0" y="-4.0" width="6.0" height="7.2" fill="#4b1fa0"/><rect x="-4.8" y="2.7" width="9.6" height="1" fill="#20302c"/></g>
<text transform="matrix(-0.1274 -0.9918 0.9988 -0.0487 1005.00 81.00)" x="0" y="0" font-size="5.6" fill="#f6f0f0" text-anchor="middle" dominant-baseline="central" font-weight="bold" font-family="Liberation Mono" stroke="#f6f0f0" stroke-width="0.35">0.1uF</text>
<g transform="matrix(-0.1282 -0.9917 0.9988 -0.0485 1013.00 76.00)"><rect x="-3.8" y="-2.2" width="7.6" height="4.4" fill="#9a9a9a"/><rect x="-2.8" y="-2.2" width="5.6" height="3.6" fill="#eeeeee"/><rect x="-1.4" y="-2.2" width="2.8" height="3.6" fill="#4b1fa0"/></g>
<text transform="matrix(-0.1276 -0.9918 0.9986 -0.0523 1015.00 148.30)" x="0" y="0" font-size="5.6" fill="#f6f0f0" text-anchor="middle" dominant-baseline="central" font-weight="bold" font-family="Liberation Mono" stroke="#f6f0f0" stroke-width="0.35">0.1uF</text>
<g transform="matrix(-0.1282 -0.9917 0.9986 -0.0520 1021.70 142.50)"><rect x="-3.8" y="-2.2" width="7.6" height="4.4" fill="#9a9a9a"/><rect x="-2.8" y="-2.2" width="5.6" height="3.6" fill="#eeeeee"/><rect x="-1.4" y="-2.2" width="2.8" height="3.6" fill="#4b1fa0"/></g>
<text transform="matrix(0.9988 -0.0494 0.1272 0.9919 1003.50 94.00)" x="0" y="0" font-size="6" fill="#f6f0f0" text-anchor="middle" dominant-baseline="central" font-weight="bold" font-family="Liberation Mono" stroke="#f6f0f0" stroke-width="0.35">V</text>
<text transform="matrix(0.9987 -0.0500 0.1271 0.9919 1004.50 105.00)" x="0" y="0" font-size="6" fill="#f6f0f0" text-anchor="middle" dominant-baseline="central" font-weight="bold" font-family="Liberation Mono" stroke="#f6f0f0" stroke-width="0.35">D</text>
<text transform="matrix(0.9986 -0.0530 0.1273 0.9919 1013.50 162.00)" x="0" y="0" font-size="6" fill="#f6f0f0" text-anchor="middle" dominant-baseline="central" font-weight="bold" font-family="Liberation Mono" stroke="#f6f0f0" stroke-width="0.35">V</text>
<text transform="matrix(0.9986 -0.0536 0.1272 0.9919 1014.50 173.00)" x="0" y="0" font-size="6" fill="#f6f0f0" text-anchor="middle" dominant-baseline="central" font-weight="bold" font-family="Liberation Mono" stroke="#f6f0f0" stroke-width="0.35">D</text>
<g transform="matrix(0.9988 -0.0488 0.1256 0.9921 984.00 84.00)"><rect x="-9.3" y="-9.3" width="18.6" height="18.6" fill="#6a6a6a"/><rect x="-8.5" y="-8.5" width="17.0" height="17.0" fill="#2e2f2f"/><circle cx="-7.0" cy="-7.0" r="0.9" fill="#40d0b0"/></g>
<g transform="matrix(0.9986 -0.0525 0.1257 0.9921 994.00 152.00)"><rect x="-9.3" y="-9.3" width="18.6" height="18.6" fill="#6a6a6a"/><rect x="-8.5" y="-8.5" width="17.0" height="17.0" fill="#2e2f2f"/><circle cx="-7.0" cy="-7.0" r="0.9" fill="#40d0b0"/></g>
<text transform="matrix(0.9988 -0.0479 0.1258 0.9921 984.00 67.50)" x="0" y="0" font-size="6.2" fill="#f6f0f0" text-anchor="middle" dominant-baseline="central" font-weight="bold" font-family="Liberation Mono" stroke="#f6f0f0" stroke-width="0.35">TPS7A7200RGTR</text>
<rect transform="matrix(0.9988 -0.0496 0.1283 0.9917 1016.77 97.95)" x="-6.50" y="-12.50" width="13.00" height="25.00" rx="0.00" fill="none" stroke="#f2ecec" stroke-width="1.0" />
<ellipse transform="matrix(0.9988 -0.0493 0.1283 0.9917 1016.00 92.00)" rx="4.20" ry="4.20" fill="#8a8a8a" stroke="none" stroke-width="0"/>
<ellipse transform="matrix(0.9988 -0.0493 0.1283 0.9917 1016.00 92.00)" rx="2.70" ry="2.70" fill="#151515" stroke="none" stroke-width="0"/>
<ellipse transform="matrix(0.9988 -0.0493 0.1283 0.9917 1016.00 92.00)" cx="-0.4" cy="1.3" rx="1.8" ry="1.1" fill="#d8d8d8"/>
<ellipse transform="matrix(0.9988 -0.0500 0.1283 0.9917 1017.54 103.90)" rx="4.20" ry="4.20" fill="#8a8a8a" stroke="none" stroke-width="0"/>
<ellipse transform="matrix(0.9988 -0.0500 0.1283 0.9917 1017.54 103.90)" rx="2.70" ry="2.70" fill="#151515" stroke="none" stroke-width="0"/>
<ellipse transform="matrix(0.9988 -0.0500 0.1283 0.9917 1017.54 103.90)" cx="-0.4" cy="1.3" rx="1.8" ry="1.1" fill="#d8d8d8"/>
<rect transform="matrix(0.9986 -0.0533 0.1284 0.9917 1026.77 165.95)" x="-6.50" y="-12.50" width="13.00" height="25.00" rx="0.00" fill="none" stroke="#f2ecec" stroke-width="1.0" />
<ellipse transform="matrix(0.9986 -0.0530 0.1284 0.9917 1026.00 160.00)" rx="4.20" ry="4.20" fill="#8a8a8a" stroke="none" stroke-width="0"/>
<ellipse transform="matrix(0.9986 -0.0530 0.1284 0.9917 1026.00 160.00)" rx="2.70" ry="2.70" fill="#151515" stroke="none" stroke-width="0"/>
<ellipse transform="matrix(0.9986 -0.0530 0.1284 0.9917 1026.00 160.00)" cx="-0.4" cy="1.3" rx="1.8" ry="1.1" fill="#d8d8d8"/>
<ellipse transform="matrix(0.9986 -0.0536 0.1284 0.9917 1027.54 171.90)" rx="4.20" ry="4.20" fill="#8a8a8a" stroke="none" stroke-width="0"/>
<ellipse transform="matrix(0.9986 -0.0536 0.1284 0.9917 1027.54 171.90)" rx="2.70" ry="2.70" fill="#151515" stroke="none" stroke-width="0"/>
<ellipse transform="matrix(0.9986 -0.0536 0.1284 0.9917 1027.54 171.90)" cx="-0.4" cy="1.3" rx="1.8" ry="1.1" fill="#d8d8d8"/>
<g transform="matrix(0.9989 -0.0477 0.1303 0.9915 1035.00 60.00)"><rect x="-7.0" y="-3.7" width="14.0" height="8.0" fill="#9a9a9a"/><rect x="-5.3" y="-4.0" width="10.6" height="7.2" fill="#f2f2f2"/><rect x="-3.5" y="-4.0" width="7.0" height="7.2" fill="#4b1fa0"/><rect x="-5.3" y="2.7" width="10.6" height="1" fill="#20302c"/></g>
<g transform="matrix(0.9988 -0.0484 0.1303 0.9915 1036.80 73.80)"><rect x="-7.0" y="-3.7" width="14.0" height="8.0" fill="#9a9a9a"/><rect x="-5.3" y="-4.0" width="10.6" height="7.2" fill="#f2f2f2"/><rect x="-3.5" y="-4.0" width="7.0" height="7.2" fill="#4b1fa0"/><rect x="-5.3" y="2.7" width="10.6" height="1" fill="#20302c"/></g>
<g transform="matrix(0.9988 -0.0492 0.1303 0.9915 1038.60 87.60)"><rect x="-7.0" y="-3.7" width="14.0" height="8.0" fill="#9a9a9a"/><rect x="-5.3" y="-4.0" width="10.6" height="7.2" fill="#f2f2f2"/><rect x="-3.5" y="-4.0" width="7.0" height="7.2" fill="#4b1fa0"/><rect x="-5.3" y="2.7" width="10.6" height="1" fill="#20302c"/></g>
<g transform="matrix(0.9988 -0.0499 0.1303 0.9915 1040.40 101.40)"><rect x="-7.0" y="-3.7" width="14.0" height="8.0" fill="#9a9a9a"/><rect x="-5.3" y="-4.0" width="10.6" height="7.2" fill="#f2f2f2"/><rect x="-3.5" y="-4.0" width="7.0" height="7.2" fill="#4b1fa0"/><rect x="-5.3" y="2.7" width="10.6" height="1" fill="#20302c"/></g>
<g transform="matrix(0.9987 -0.0513 0.1303 0.9915 1044.00 127.00)"><rect x="-7.0" y="-3.7" width="14.0" height="8.0" fill="#9a9a9a"/><rect x="-5.3" y="-4.0" width="10.6" height="7.2" fill="#f2f2f2"/><rect x="-3.5" y="-4.0" width="7.0" height="7.2" fill="#4b1fa0"/><rect x="-5.3" y="2.7" width="10.6" height="1" fill="#20302c"/></g>
<g transform="matrix(0.9986 -0.0520 0.1303 0.9915 1045.80 140.80)"><rect x="-7.0" y="-3.7" width="14.0" height="8.0" fill="#9a9a9a"/><rect x="-5.3" y="-4.0" width="10.6" height="7.2" fill="#f2f2f2"/><rect x="-3.5" y="-4.0" width="7.0" height="7.2" fill="#4b1fa0"/><rect x="-5.3" y="2.7" width="10.6" height="1" fill="#20302c"/></g>
<g transform="matrix(0.9986 -0.0527 0.1303 0.9915 1047.60 154.60)"><rect x="-7.0" y="-3.7" width="14.0" height="8.0" fill="#9a9a9a"/><rect x="-5.3" y="-4.0" width="10.6" height="7.2" fill="#f2f2f2"/><rect x="-3.5" y="-4.0" width="7.0" height="7.2" fill="#4b1fa0"/><rect x="-5.3" y="2.7" width="10.6" height="1" fill="#20302c"/></g>
<g transform="matrix(0.9986 -0.0535 0.1303 0.9915 1049.40 168.40)"><rect x="-7.0" y="-3.7" width="14.0" height="8.0" fill="#9a9a9a"/><rect x="-5.3" y="-4.0" width="10.6" height="7.2" fill="#f2f2f2"/><rect x="-3.5" y="-4.0" width="7.0" height="7.2" fill="#4b1fa0"/><rect x="-5.3" y="2.7" width="10.6" height="1" fill="#20302c"/></g>
<g transform="matrix(0.9985 -0.0550 0.1303 0.9915 1053.00 196.00)"><rect x="-7.0" y="-3.7" width="14.0" height="8.0" fill="#9a9a9a"/><rect x="-5.3" y="-4.0" width="10.6" height="7.2" fill="#f2f2f2"/><rect x="-3.5" y="-4.0" width="7.0" height="7.2" fill="#4b1fa0"/><rect x="-5.3" y="2.7" width="10.6" height="1" fill="#20302c"/></g>
<g transform="matrix(0.9984 -0.0557 0.1303 0.9915 1054.80 209.80)"><rect x="-7.0" y="-3.7" width="14.0" height="8.0" fill="#9a9a9a"/><rect x="-5.3" y="-4.0" width="10.6" height="7.2" fill="#f2f2f2"/><rect x="-3.5" y="-4.0" width="7.0" height="7.2" fill="#4b1fa0"/><rect x="-5.3" y="2.7" width="10.6" height="1" fill="#20302c"/></g>
<g transform="matrix(0.9984 -0.0564 0.1303 0.9915 1056.60 223.60)"><rect x="-7.0" y="-3.7" width="14.0" height="8.0" fill="#9a9a9a"/><rect x="-5.3" y="-4.0" width="10.6" height="7.2" fill="#f2f2f2"/><rect x="-3.5" y="-4.0" width="7.0" height="7.2" fill="#4b1fa0"/><rect x="-5.3" y="2.7" width="10.6" height="1" fill="#20302c"/></g>
<g transform="matrix(0.9984 -0.0572 0.1303 0.9915 1058.40 237.40)"><rect x="-7.0" y="-3.7" width="14.0" height="8.0" fill="#9a9a9a"/><rect x="-5.3" y="-4.0" width="10.6" height="7.2" fill="#f2f2f2"/><rect x="-3.5" y="-4.0" width="7.0" height="7.2" fill="#4b1fa0"/><rect x="-5.3" y="2.7" width="10.6" height="1" fill="#20302c"/></g>
<g transform="matrix(0.9983 -0.0590 0.1306 0.9914 1066.00 272.00)"><rect x="-7.0" y="-3.7" width="14.0" height="8.0" fill="#9a9a9a"/><rect x="-5.3" y="-4.0" width="10.6" height="7.2" fill="#f2f2f2"/><rect x="-3.5" y="-4.0" width="7.0" height="7.2" fill="#4b1fa0"/><rect x="-5.3" y="2.7" width="10.6" height="1" fill="#20302c"/></g>
<g transform="matrix(0.9982 -0.0598 0.1306 0.9914 1067.80 285.80)"><rect x="-7.0" y="-3.7" width="14.0" height="8.0" fill="#9a9a9a"/><rect x="-5.3" y="-4.0" width="10.6" height="7.2" fill="#f2f2f2"/><rect x="-3.5" y="-4.0" width="7.0" height="7.2" fill="#4b1fa0"/><rect x="-5.3" y="2.7" width="10.6" height="1" fill="#20302c"/></g>
<g transform="matrix(0.9982 -0.0605 0.1306 0.9914 1069.60 299.60)"><rect x="-7.0" y="-3.7" width="14.0" height="8.0" fill="#9a9a9a"/><rect x="-5.3" y="-4.0" width="10.6" height="7.2" fill="#f2f2f2"/><rect x="-3.5" y="-4.0" width="7.0" height="7.2" fill="#4b1fa0"/><rect x="-5.3" y="2.7" width="10.6" height="1" fill="#20302c"/></g>
<g transform="matrix(0.9981 -0.0613 0.1306 0.9914 1071.40 313.40)"><rect x="-7.0" y="-3.7" width="14.0" height="8.0" fill="#9a9a9a"/><rect x="-5.3" y="-4.0" width="10.6" height="7.2" fill="#f2f2f2"/><rect x="-3.5" y="-4.0" width="7.0" height="7.2" fill="#4b1fa0"/><rect x="-5.3" y="2.7" width="10.6" height="1" fill="#20302c"/></g>
<polyline points="1059.50,67.00 1059.00,54.50 1077.50,53.50" fill="none" stroke="#f2ecec" stroke-width="1.1" stroke-linejoin="round"/>
<polyline points="1064.50,98.00 1065.50,109.00 1121.50,106.50 1120.50,95.00" fill="none" stroke="#f2ecec" stroke-width="1.1" stroke-linejoin="round"/>
<text transform="matrix(-0.1320 -0.9912 0.9989 -0.0477 1054.50 60.00)" x="0" y="0" font-size="6" fill="#f6f0f0" text-anchor="middle" dominant-baseline="central" font-weight="bold" font-family="Liberation Mono" stroke="#f6f0f0" stroke-width="0.35">10uH</text>
<polyline points="1067.00,136.00 1066.50,123.50 1085.00,122.50" fill="none" stroke="#f2ecec" stroke-width="1.1" stroke-linejoin="round"/>
<polyline points="1072.00,167.00 1073.00,178.00 1129.00,175.50 1128.00,164.00" fill="none" stroke="#f2ecec" stroke-width="1.1" stroke-linejoin="round"/>
<text transform="matrix(-0.1319 -0.9913 0.9987 -0.0514 1062.00 129.00)" x="0" y="0" font-size="6" fill="#f6f0f0" text-anchor="middle" dominant-baseline="central" font-weight="bold" font-family="Liberation Mono" stroke="#f6f0f0" stroke-width="0.35">10uH</text>
<polyline points="1075.50,203.50 1075.00,191.00 1093.50,190.00" fill="none" stroke="#f2ecec" stroke-width="1.1" stroke-linejoin="round"/>
<polyline points="1080.50,234.50 1081.50,245.50 1137.50,243.00 1136.50,231.50" fill="none" stroke="#f2ecec" stroke-width="1.1" stroke-linejoin="round"/>
<text transform="matrix(-0.1318 -0.9913 0.9985 -0.0550 1070.50 196.50)" x="0" y="0" font-size="6" fill="#f6f0f0" text-anchor="middle" dominant-baseline="central" font-weight="bold" font-family="Liberation Mono" stroke="#f6f0f0" stroke-width="0.35">10uH</text>
<polyline points="1084.00,274.00 1083.50,261.50 1102.00,260.50" fill="none" stroke="#f2ecec" stroke-width="1.1" stroke-linejoin="round"/>
<polyline points="1089.00,305.00 1090.00,316.00 1146.00,313.50 1145.00,302.00" fill="none" stroke="#f2ecec" stroke-width="1.1" stroke-linejoin="round"/>
<text transform="matrix(-0.1318 -0.9913 0.9983 -0.0588 1079.00 267.00)" x="0" y="0" font-size="6" fill="#f6f0f0" text-anchor="middle" dominant-baseline="central" font-weight="bold" font-family="Liberation Mono" stroke="#f6f0f0" stroke-width="0.35">10uH</text>
<g transform="matrix(0.9988 -0.0491 0.1394 0.9902 1141.50 81.00)"><rect x="-10.38" y="-13.00" width="2.00" height="5.00" fill="#b9b9b9"/><rect x="-10.38" y="8.00" width="2.00" height="5.00" fill="#b9b9b9"/><rect x="-4.12" y="-13.00" width="2.00" height="5.00" fill="#b9b9b9"/><rect x="-4.12" y="8.00" width="2.00" height="5.00" fill="#b9b9b9"/><rect x="2.12" y="-13.00" width="2.00" height="5.00" fill="#b9b9b9"/><rect x="2.12" y="8.00" width="2.00" height="5.00" fill="#b9b9b9"/><rect x="8.38" y="-13.00" width="2.00" height="5.00" fill="#b9b9b9"/><rect x="8.38" y="8.00" width="2.00" height="5.00" fill="#b9b9b9"/><rect x="-12.50" y="-8.00" width="25.00" height="16.00" fill="#2f3030"/><circle cx="-11.00" cy="6.50" r="1" fill="#40d0b0"/></g>
<text transform="matrix(0.9988 -0.0482 0.1392 0.9903 1137.00 64.00)" x="0" y="0" font-size="5.8" fill="#f6f0f0" text-anchor="middle" dominant-baseline="central" font-weight="bold" font-family="Liberation Mono" stroke="#f6f0f0" stroke-width="0.35">0.1uF1uF</text>
<text transform="matrix(0.9988 -0.0482 0.1409 0.9900 1156.50 63.50)" x="0" y="0" font-size="5.8" fill="#f6f0f0" text-anchor="middle" dominant-baseline="central" font-weight="bold" font-family="Liberation Mono" stroke="#f6f0f0" stroke-width="0.35">100k</text>
<text transform="matrix(0.9988 -0.0492 0.1410 0.9900 1160.50 82.00)" x="0" y="0" font-size="5.8" fill="#f6f0f0" text-anchor="middle" dominant-baseline="central" font-weight="bold" font-family="Liberation Mono" stroke="#f6f0f0" stroke-width="0.35">39k</text>
<g transform="matrix(0.9989 -0.0477 0.1385 0.9904 1128.00 56.00)"><rect x="-3.8" y="-2.2" width="7.6" height="4.4" fill="#9a9a9a"/><rect x="-2.8" y="-2.2" width="5.6" height="3.6" fill="#eeeeee"/><rect x="-1.4" y="-2.2" width="2.8" height="3.6" fill="#4b1fa0"/></g>
<g transform="matrix(0.9989 -0.0477 0.1396 0.9902 1141.00 55.50)"><rect x="-3.8" y="-2.2" width="7.6" height="4.4" fill="#9a9a9a"/><rect x="-2.8" y="-2.2" width="5.6" height="3.6" fill="#eeeeee"/><rect x="-1.4" y="-2.2" width="2.8" height="3.6" fill="#4b1fa0"/></g>
<g transform="matrix(0.9987 -0.0503 0.1388 0.9903 1138.00 104.00)"><rect x="-3.8" y="-2.2" width="7.6" height="4.4" fill="#9a9a9a"/><rect x="-2.8" y="-2.2" width="5.6" height="3.6" fill="#eeeeee"/><rect x="-1.4" y="-2.2" width="2.8" height="3.6" fill="#4b1fa0"/></g>
<text transform="matrix(0.9987 -0.0503 0.1402 0.9901 1154.00 104.00)" x="0" y="0" font-size="5.8" fill="#f6f0f0" text-anchor="middle" dominant-baseline="central" font-weight="bold" font-family="Liberation Mono" stroke="#f6f0f0" stroke-width="0.35">0.1uF</text>
<g transform="matrix(0.9987 -0.0507 0.1389 0.9903 1140.00 112.00)"><rect x="-7.0" y="-3.7" width="14.0" height="8.0" fill="#9a9a9a"/><rect x="-5.3" y="-4.0" width="10.6" height="7.2" fill="#f2f2f2"/><rect x="-3.5" y="-4.0" width="7.0" height="7.2" fill="#4b1fa0"/><rect x="-5.3" y="2.7" width="10.6" height="1" fill="#20302c"/></g>
<text transform="matrix(0.9987 -0.0508 0.1402 0.9901 1156.00 113.00)" x="0" y="0" font-size="5.8" fill="#f6f0f0" text-anchor="middle" dominant-baseline="central" font-weight="bold" font-family="Liberation Mono" stroke="#f6f0f0" stroke-width="0.35">10uF</text>
<g transform="matrix(0.9988 -0.0487 0.1409 0.9900 1157.50 73.00)"><rect x="-3.5" y="-1.5" width="2.6" height="3" fill="#b8b8b8"/><rect x="0.9" y="-1.5" width="2.6" height="3" fill="#b8b8b8"/><rect x="-1" y="-1.2" width="2" height="2.4" fill="#3a2a40"/></g>
<g transform="matrix(0.9988 -0.0495 0.1407 0.9901 1157.50 89.00)"><rect x="-3.5" y="-1.5" width="2.6" height="3" fill="#b8b8b8"/><rect x="0.9" y="-1.5" width="2.6" height="3" fill="#b8b8b8"/><rect x="-1" y="-1.2" width="2" height="2.4" fill="#3a2a40"/></g>
<g transform="matrix(0.9986 -0.0527 0.1394 0.9902 1151.00 148.50)"><rect x="-10.38" y="-13.00" width="2.00" height="5.00" fill="#b9b9b9"/><rect x="-10.38" y="8.00" width="2.00" height="5.00" fill="#b9b9b9"/><rect x="-4.12" y="-13.00" width="2.00" height="5.00" fill="#b9b9b9"/><rect x="-4.12" y="8.00" width="2.00" height="5.00" fill="#b9b9b9"/><rect x="2.12" y="-13.00" width="2.00" height="5.00" fill="#b9b9b9"/><rect x="2.12" y="8.00" width="2.00" height="5.00" fill="#b9b9b9"/><rect x="8.38" y="-13.00" width="2.00" height="5.00" fill="#b9b9b9"/><rect x="8.38" y="8.00" width="2.00" height="5.00" fill="#b9b9b9"/><rect x="-12.50" y="-8.00" width="25.00" height="16.00" fill="#2f3030"/><circle cx="-11.00" cy="6.50" r="1" fill="#40d0b0"/></g>
<text transform="matrix(0.9987 -0.0518 0.1392 0.9903 1146.50 131.50)" x="0" y="0" font-size="5.8" fill="#f6f0f0" text-anchor="middle" dominant-baseline="central" font-weight="bold" font-family="Liberation Mono" stroke="#f6f0f0" stroke-width="0.35">0.1uF1uF</text>
<text transform="matrix(0.9987 -0.0518 0.1409 0.9900 1166.00 131.00)" x="0" y="0" font-size="5.8" fill="#f6f0f0" text-anchor="middle" dominant-baseline="central" font-weight="bold" font-family="Liberation Mono" stroke="#f6f0f0" stroke-width="0.35">100k</text>
<text transform="matrix(0.9986 -0.0528 0.1410 0.9900 1170.00 149.50)" x="0" y="0" font-size="5.8" fill="#f6f0f0" text-anchor="middle" dominant-baseline="central" font-weight="bold" font-family="Liberation Mono" stroke="#f6f0f0" stroke-width="0.35">100k</text>
<g transform="matrix(0.9987 -0.0513 0.1385 0.9904 1137.50 123.50)"><rect x="-3.8" y="-2.2" width="7.6" height="4.4" fill="#9a9a9a"/><rect x="-2.8" y="-2.2" width="5.6" height="3.6" fill="#eeeeee"/><rect x="-1.4" y="-2.2" width="2.8" height="3.6" fill="#4b1fa0"/></g>
<g transform="matrix(0.9987 -0.0513 0.1396 0.9902 1150.50 123.00)"><rect x="-3.8" y="-2.2" width="7.6" height="4.4" fill="#9a9a9a"/><rect x="-2.8" y="-2.2" width="5.6" height="3.6" fill="#eeeeee"/><rect x="-1.4" y="-2.2" width="2.8" height="3.6" fill="#4b1fa0"/></g>
<g transform="matrix(0.9985 -0.0539 0.1388 0.9903 1147.50 171.50)"><rect x="-3.8" y="-2.2" width="7.6" height="4.4" fill="#9a9a9a"/><rect x="-2.8" y="-2.2" width="5.6" height="3.6" fill="#eeeeee"/><rect x="-1.4" y="-2.2" width="2.8" height="3.6" fill="#4b1fa0"/></g>
<text transform="matrix(0.9985 -0.0540 0.1402 0.9901 1163.50 171.50)" x="0" y="0" font-size="5.8" fill="#f6f0f0" text-anchor="middle" dominant-baseline="central" font-weight="bold" font-family="Liberation Mono" stroke="#f6f0f0" stroke-width="0.35">0.1uF</text>
<g transform="matrix(0.9985 -0.0544 0.1389 0.9903 1149.50 179.50)"><rect x="-7.0" y="-3.7" width="14.0" height="8.0" fill="#9a9a9a"/><rect x="-5.3" y="-4.0" width="10.6" height="7.2" fill="#f2f2f2"/><rect x="-3.5" y="-4.0" width="7.0" height="7.2" fill="#4b1fa0"/><rect x="-5.3" y="2.7" width="10.6" height="1" fill="#20302c"/></g>
<text transform="matrix(0.9985 -0.0545 0.1402 0.9901 1165.50 180.50)" x="0" y="0" font-size="5.8" fill="#f6f0f0" text-anchor="middle" dominant-baseline="central" font-weight="bold" font-family="Liberation Mono" stroke="#f6f0f0" stroke-width="0.35">10uF</text>
<g transform="matrix(0.9986 -0.0523 0.1409 0.9900 1167.00 140.50)"><rect x="-3.5" y="-1.5" width="2.6" height="3" fill="#b8b8b8"/><rect x="0.9" y="-1.5" width="2.6" height="3" fill="#b8b8b8"/><rect x="-1" y="-1.2" width="2" height="2.4" fill="#3a2a40"/></g>
<g transform="matrix(0.9986 -0.0532 0.1407 0.9901 1167.00 156.50)"><rect x="-3.5" y="-1.5" width="2.6" height="3" fill="#b8b8b8"/><rect x="0.9" y="-1.5" width="2.6" height="3" fill="#b8b8b8"/><rect x="-1" y="-1.2" width="2" height="2.4" fill="#3a2a40"/></g>
<g transform="matrix(0.9984 -0.0564 0.1393 0.9902 1160.00 217.00)"><rect x="-10.38" y="-13.00" width="2.00" height="5.00" fill="#b9b9b9"/><rect x="-10.38" y="8.00" width="2.00" height="5.00" fill="#b9b9b9"/><rect x="-4.12" y="-13.00" width="2.00" height="5.00" fill="#b9b9b9"/><rect x="-4.12" y="8.00" width="2.00" height="5.00" fill="#b9b9b9"/><rect x="2.12" y="-13.00" width="2.00" height="5.00" fill="#b9b9b9"/><rect x="2.12" y="8.00" width="2.00" height="5.00" fill="#b9b9b9"/><rect x="8.38" y="-13.00" width="2.00" height="5.00" fill="#b9b9b9"/><rect x="8.38" y="8.00" width="2.00" height="5.00" fill="#b9b9b9"/><rect x="-12.50" y="-8.00" width="25.00" height="16.00" fill="#2f3030"/><circle cx="-11.00" cy="6.50" r="1" fill="#40d0b0"/></g>
<text transform="matrix(0.9985 -0.0555 0.1391 0.9903 1155.50 200.00)" x="0" y="0" font-size="5.8" fill="#f6f0f0" text-anchor="middle" dominant-baseline="central" font-weight="bold" font-family="Liberation Mono" stroke="#f6f0f0" stroke-width="0.35">0.1uF1uF</text>
<text transform="matrix(0.9985 -0.0555 0.1408 0.9900 1175.00 199.50)" x="0" y="0" font-size="5.8" fill="#f6f0f0" text-anchor="middle" dominant-baseline="central" font-weight="bold" font-family="Liberation Mono" stroke="#f6f0f0" stroke-width="0.35">100k</text>
<text transform="matrix(0.9984 -0.0565 0.1409 0.9900 1179.00 218.00)" x="0" y="0" font-size="5.8" fill="#f6f0f0" text-anchor="middle" dominant-baseline="central" font-weight="bold" font-family="Liberation Mono" stroke="#f6f0f0" stroke-width="0.35">100k</text>
<g transform="matrix(0.9985 -0.0550 0.1385 0.9904 1146.50 192.00)"><rect x="-3.8" y="-2.2" width="7.6" height="4.4" fill="#9a9a9a"/><rect x="-2.8" y="-2.2" width="5.6" height="3.6" fill="#eeeeee"/><rect x="-1.4" y="-2.2" width="2.8" height="3.6" fill="#4b1fa0"/></g>
<g transform="matrix(0.9985 -0.0550 0.1396 0.9902 1159.50 191.50)"><rect x="-3.8" y="-2.2" width="7.6" height="4.4" fill="#9a9a9a"/><rect x="-2.8" y="-2.2" width="5.6" height="3.6" fill="#eeeeee"/><rect x="-1.4" y="-2.2" width="2.8" height="3.6" fill="#4b1fa0"/></g>
<g transform="matrix(0.9983 -0.0576 0.1387 0.9903 1156.50 240.00)"><rect x="-3.8" y="-2.2" width="7.6" height="4.4" fill="#9a9a9a"/><rect x="-2.8" y="-2.2" width="5.6" height="3.6" fill="#eeeeee"/><rect x="-1.4" y="-2.2" width="2.8" height="3.6" fill="#4b1fa0"/></g>
<text transform="matrix(0.9983 -0.0577 0.1401 0.9901 1172.50 240.00)" x="0" y="0" font-size="5.8" fill="#f6f0f0" text-anchor="middle" dominant-baseline="central" font-weight="bold" font-family="Liberation Mono" stroke="#f6f0f0" stroke-width="0.35">0.1uF</text>
<g transform="matrix(0.9983 -0.0581 0.1388 0.9903 1158.50 248.00)"><rect x="-7.0" y="-3.7" width="14.0" height="8.0" fill="#9a9a9a"/><rect x="-5.3" y="-4.0" width="10.6" height="7.2" fill="#f2f2f2"/><rect x="-3.5" y="-4.0" width="7.0" height="7.2" fill="#4b1fa0"/><rect x="-5.3" y="2.7" width="10.6" height="1" fill="#20302c"/></g>
<text transform="matrix(0.9983 -0.0582 0.1402 0.9901 1174.50 249.00)" x="0" y="0" font-size="5.8" fill="#f6f0f0" text-anchor="middle" dominant-baseline="central" font-weight="bold" font-family="Liberation Mono" stroke="#f6f0f0" stroke-width="0.35">10uF</text>
<g transform="matrix(0.9984 -0.0560 0.1408 0.9900 1176.00 209.00)"><rect x="-3.5" y="-1.5" width="2.6" height="3" fill="#b8b8b8"/><rect x="0.9" y="-1.5" width="2.6" height="3" fill="#b8b8b8"/><rect x="-1" y="-1.2" width="2" height="2.4" fill="#3a2a40"/></g>
<g transform="matrix(0.9984 -0.0569 0.1406 0.9901 1176.00 225.00)"><rect x="-3.5" y="-1.5" width="2.6" height="3" fill="#b8b8b8"/><rect x="0.9" y="-1.5" width="2.6" height="3" fill="#b8b8b8"/><rect x="-1" y="-1.2" width="2" height="2.4" fill="#3a2a40"/></g>
<g transform="matrix(0.9982 -0.0602 0.1393 0.9903 1169.50 288.00)"><rect x="-10.38" y="-13.00" width="2.00" height="5.00" fill="#b9b9b9"/><rect x="-10.38" y="8.00" width="2.00" height="5.00" fill="#b9b9b9"/><rect x="-4.12" y="-13.00" width="2.00" height="5.00" fill="#b9b9b9"/><rect x="-4.12" y="8.00" width="2.00" height="5.00" fill="#b9b9b9"/><rect x="2.12" y="-13.00" width="2.00" height="5.00" fill="#b9b9b9"/><rect x="2.12" y="8.00" width="2.00" height="5.00" fill="#b9b9b9"/><rect x="8.38" y="-13.00" width="2.00" height="5.00" fill="#b9b9b9"/><rect x="8.38" y="8.00" width="2.00" height="5.00" fill="#b9b9b9"/><rect x="-12.50" y="-8.00" width="25.00" height="16.00" fill="#2f3030"/><circle cx="-11.00" cy="6.50" r="1" fill="#40d0b0"/></g>
<text transform="matrix(0.9982 -0.0593 0.1391 0.9903 1165.00 271.00)" x="0" y="0" font-size="5.8" fill="#f6f0f0" text-anchor="middle" dominant-baseline="central" font-weight="bold" font-family="Liberation Mono" stroke="#f6f0f0" stroke-width="0.35">0.1uF1uF</text>
<text transform="matrix(0.9982 -0.0593 0.1408 0.9900 1184.50 270.50)" x="0" y="0" font-size="5.8" fill="#f6f0f0" text-anchor="middle" dominant-baseline="central" font-weight="bold" font-family="Liberation Mono" stroke="#f6f0f0" stroke-width="0.35">100k</text>
<text transform="matrix(0.9982 -0.0603 0.1409 0.9900 1188.50 289.00)" x="0" y="0" font-size="5.8" fill="#f6f0f0" text-anchor="middle" dominant-baseline="central" font-weight="bold" font-family="Liberation Mono" stroke="#f6f0f0" stroke-width="0.35">10k</text>
<g transform="matrix(0.9983 -0.0588 0.1384 0.9904 1156.00 263.00)"><rect x="-3.8" y="-2.2" width="7.6" height="4.4" fill="#9a9a9a"/><rect x="-2.8" y="-2.2" width="5.6" height="3.6" fill="#eeeeee"/><rect x="-1.4" y="-2.2" width="2.8" height="3.6" fill="#4b1fa0"/></g>
<g transform="matrix(0.9983 -0.0589 0.1395 0.9902 1169.00 262.50)"><rect x="-3.8" y="-2.2" width="7.6" height="4.4" fill="#9a9a9a"/><rect x="-2.8" y="-2.2" width="5.6" height="3.6" fill="#eeeeee"/><rect x="-1.4" y="-2.2" width="2.8" height="3.6" fill="#4b1fa0"/></g>
<g transform="matrix(0.9981 -0.0614 0.1387 0.9903 1166.00 311.00)"><rect x="-3.8" y="-2.2" width="7.6" height="4.4" fill="#9a9a9a"/><rect x="-2.8" y="-2.2" width="5.6" height="3.6" fill="#eeeeee"/><rect x="-1.4" y="-2.2" width="2.8" height="3.6" fill="#4b1fa0"/></g>
<text transform="matrix(0.9981 -0.0615 0.1401 0.9901 1182.00 311.00)" x="0" y="0" font-size="5.8" fill="#f6f0f0" text-anchor="middle" dominant-baseline="central" font-weight="bold" font-family="Liberation Mono" stroke="#f6f0f0" stroke-width="0.35">0.1uF</text>
<g transform="matrix(0.9981 -0.0619 0.1388 0.9903 1168.00 319.00)"><rect x="-7.0" y="-3.7" width="14.0" height="8.0" fill="#9a9a9a"/><rect x="-5.3" y="-4.0" width="10.6" height="7.2" fill="#f2f2f2"/><rect x="-3.5" y="-4.0" width="7.0" height="7.2" fill="#4b1fa0"/><rect x="-5.3" y="2.7" width="10.6" height="1" fill="#20302c"/></g>
<text transform="matrix(0.9981 -0.0620 0.1401 0.9901 1184.00 320.00)" x="0" y="0" font-size="5.8" fill="#f6f0f0" text-anchor="middle" dominant-baseline="central" font-weight="bold" font-family="Liberation Mono" stroke="#f6f0f0" stroke-width="0.35">10uF</text>
<g transform="matrix(0.9982 -0.0599 0.1407 0.9900 1185.50 280.00)"><rect x="-3.5" y="-1.5" width="2.6" height="3" fill="#b8b8b8"/><rect x="0.9" y="-1.5" width="2.6" height="3" fill="#b8b8b8"/><rect x="-1" y="-1.2" width="2" height="2.4" fill="#3a2a40"/></g>
<g transform="matrix(0.9982 -0.0607 0.1406 0.9901 1185.50 296.00)"><rect x="-3.5" y="-1.5" width="2.6" height="3" fill="#b8b8b8"/><rect x="0.9" y="-1.5" width="2.6" height="3" fill="#b8b8b8"/><rect x="-1" y="-1.2" width="2" height="2.4" fill="#3a2a40"/></g>
<text transform="matrix(-0.1425 -0.9898 0.9988 -0.0492 1177.00 82.00)" x="0" y="0" font-size="5.8" fill="#f6f0f0" text-anchor="middle" dominant-baseline="central" font-weight="bold" font-family="Liberation Mono" stroke="#f6f0f0" stroke-width="0.35">LM53603AQDA</text>
<polyline points="866.00,300.00 883.00,297.00" fill="none" stroke="#f2ecec" stroke-width="1.0" stroke-linejoin="round"/>
<polyline points="870.00,323.00 885.00,321.50" fill="none" stroke="#f2ecec" stroke-width="1.0" stroke-linejoin="round"/>
<polyline points="860.00,304.00 863.50,316.00" fill="none" stroke="#f2ecec" stroke-width="1.0" stroke-linejoin="round"/>
<polyline points="890.00,302.00 892.00,315.00" fill="none" stroke="#f2ecec" stroke-width="1.0" stroke-linejoin="round"/>
<ellipse transform="matrix(0.9982 -0.0598 0.1127 0.9936 862.00 298.00)" rx="5.80" ry="5.80" fill="#8c8c8c" stroke="none" stroke-width="0"/>
<ellipse transform="matrix(0.9982 -0.0598 0.1127 0.9936 862.00 298.00)" rx="3.20" ry="3.20" fill="#121212" stroke="none" stroke-width="0"/>
<ellipse transform="matrix(0.9982 -0.0598 0.1127 0.9936 862.00 298.00)" cx="-0.3" cy="0.9" rx="2.72" ry="2.30" fill="#e4e8e6"/>
<ellipse transform="matrix(0.9982 -0.0598 0.1150 0.9934 888.00 296.00)" rx="5.80" ry="5.80" fill="#8c8c8c" stroke="none" stroke-width="0"/>
<ellipse transform="matrix(0.9982 -0.0598 0.1150 0.9934 888.00 296.00)" rx="3.20" ry="3.20" fill="#121212" stroke="none" stroke-width="0"/>
<ellipse transform="matrix(0.9982 -0.0598 0.1150 0.9934 888.00 296.00)" cx="-0.3" cy="0.9" rx="2.72" ry="2.30" fill="#e4e8e6"/>
<ellipse transform="matrix(0.9981 -0.0611 0.1127 0.9936 865.00 322.00)" rx="5.80" ry="5.80" fill="#8c8c8c" stroke="none" stroke-width="0"/>
<ellipse transform="matrix(0.9981 -0.0611 0.1127 0.9936 865.00 322.00)" rx="3.20" ry="3.20" fill="#121212" stroke="none" stroke-width="0"/>
<ellipse transform="matrix(0.9981 -0.0611 0.1127 0.9936 865.00 322.00)" cx="-0.3" cy="0.9" rx="2.72" ry="2.30" fill="#e4e8e6"/>
<ellipse transform="matrix(0.9981 -0.0611 0.1149 0.9934 890.00 321.00)" rx="5.80" ry="5.80" fill="#8c8c8c" stroke="none" stroke-width="0"/>
<ellipse transform="matrix(0.9981 -0.0611 0.1149 0.9934 890.00 321.00)" rx="3.20" ry="3.20" fill="#121212" stroke="none" stroke-width="0"/>
<ellipse transform="matrix(0.9981 -0.0611 0.1149 0.9934 890.00 321.00)" cx="-0.3" cy="0.9" rx="2.72" ry="2.30" fill="#e4e8e6"/>
<ellipse transform="matrix(0.9982 -0.0604 0.1138 0.9935 876.00 309.00)" rx="8.20" ry="8.20" fill="none" stroke="#f2ecec" stroke-width="1.0"/>
<ellipse transform="matrix(0.9982 -0.0604 0.1138 0.9935 876.00 309.00)" rx="5.60" ry="5.60" fill="#8c8c8c" stroke="none" stroke-width="0"/>
<ellipse transform="matrix(0.9982 -0.0604 0.1138 0.9935 876.00 309.00)" rx="3.30" ry="3.30" fill="#121212" stroke="none" stroke-width="0"/>
<ellipse transform="matrix(0.9982 -0.0604 0.1138 0.9935 876.00 309.00)" cx="-0.3" cy="0.9" rx="2.80" ry="2.38" fill="#e4e8e6"/>
<text transform="matrix(0.9982 -0.0592 0.1138 0.9935 873.00 286.60)" x="0" y="0" font-size="6.2" fill="#f6f0f0" text-anchor="middle" dominant-baseline="central" font-weight="bold" font-family="Liberation Mono" stroke="#f6f0f0" stroke-width="0.35">CLKOUT2</text>
<polyline points="905.60,520.80 922.00,518.00" fill="none" stroke="#f2ecec" stroke-width="1.0" stroke-linejoin="round"/>
<polyline points="909.70,546.30 925.00,542.50" fill="none" stroke="#f2ecec" stroke-width="1.0" stroke-linejoin="round"/>
<polyline points="899.60,524.80 903.20,539.30" fill="none" stroke="#f2ecec" stroke-width="1.0" stroke-linejoin="round"/>
<polyline points="929.00,523.00 932.00,536.00" fill="none" stroke="#f2ecec" stroke-width="1.0" stroke-linejoin="round"/>
<ellipse transform="matrix(0.9974 -0.0715 0.1140 0.9935 901.60 518.80)" rx="5.80" ry="5.80" fill="#8c8c8c" stroke="none" stroke-width="0"/>
<ellipse transform="matrix(0.9974 -0.0715 0.1140 0.9935 901.60 518.80)" rx="3.20" ry="3.20" fill="#121212" stroke="none" stroke-width="0"/>
<ellipse transform="matrix(0.9974 -0.0715 0.1140 0.9935 901.60 518.80)" cx="-0.3" cy="0.9" rx="2.72" ry="2.30" fill="#e4e8e6"/>
<ellipse transform="matrix(0.9974 -0.0715 0.1161 0.9932 927.00 517.00)" rx="5.80" ry="5.80" fill="#8c8c8c" stroke="none" stroke-width="0"/>
<ellipse transform="matrix(0.9974 -0.0715 0.1161 0.9932 927.00 517.00)" rx="3.20" ry="3.20" fill="#121212" stroke="none" stroke-width="0"/>
<ellipse transform="matrix(0.9974 -0.0715 0.1161 0.9932 927.00 517.00)" cx="-0.3" cy="0.9" rx="2.72" ry="2.30" fill="#e4e8e6"/>
<ellipse transform="matrix(0.9973 -0.0729 0.1140 0.9935 904.70 545.30)" rx="5.80" ry="5.80" fill="#8c8c8c" stroke="none" stroke-width="0"/>
<ellipse transform="matrix(0.9973 -0.0729 0.1140 0.9935 904.70 545.30)" rx="3.20" ry="3.20" fill="#121212" stroke="none" stroke-width="0"/>
<ellipse transform="matrix(0.9973 -0.0729 0.1140 0.9935 904.70 545.30)" cx="-0.3" cy="0.9" rx="2.72" ry="2.30" fill="#e4e8e6"/>
<ellipse transform="matrix(0.9973 -0.0729 0.1161 0.9932 930.00 542.00)" rx="5.80" ry="5.80" fill="#8c8c8c" stroke="none" stroke-width="0"/>
<ellipse transform="matrix(0.9973 -0.0729 0.1161 0.9932 930.00 542.00)" rx="3.20" ry="3.20" fill="#121212" stroke="none" stroke-width="0"/>
<ellipse transform="matrix(0.9973 -0.0729 0.1161 0.9932 930.00 542.00)" cx="-0.3" cy="0.9" rx="2.72" ry="2.30" fill="#e4e8e6"/>
<ellipse transform="matrix(0.9974 -0.0722 0.1150 0.9934 915.50 531.00)" rx="8.20" ry="8.20" fill="none" stroke="#f2ecec" stroke-width="1.0"/>
<ellipse transform="matrix(0.9974 -0.0722 0.1150 0.9934 915.50 531.00)" rx="5.60" ry="5.60" fill="#8c8c8c" stroke="none" stroke-width="0"/>
<ellipse transform="matrix(0.9974 -0.0722 0.1150 0.9934 915.50 531.00)" rx="3.30" ry="3.30" fill="#121212" stroke="none" stroke-width="0"/>
<ellipse transform="matrix(0.9974 -0.0722 0.1150 0.9934 915.50 531.00)" cx="-0.3" cy="0.9" rx="2.80" ry="2.38" fill="#e4e8e6"/>
<text transform="matrix(0.9975 -0.0710 0.1150 0.9934 912.50 508.00)" x="0" y="0" font-size="6.2" fill="#f6f0f0" text-anchor="middle" dominant-baseline="central" font-weight="bold" font-family="Liberation Mono" stroke="#f6f0f0" stroke-width="0.35">CLKEXT</text>
<text transform="matrix(0.9980 -0.0625 0.1138 0.9935 880.00 349.40)" x="0" y="0" font-size="6" fill="#f6f0f0" text-anchor="middle" dominant-baseline="central" font-weight="bold" font-family="Liberation Mono" stroke="#f6f0f0" stroke-width="0.35">LED2</text>
<rect transform="matrix(0.9980 -0.0628 0.1139 0.9935 882.00 354.50)" x="-3.50" y="-2.00" width="7.00" height="4.00" rx="0.00" fill="#eaeaea" stroke="none" stroke-width="0" />
<g transform="matrix(0.9980 -0.0628 0.1129 0.9936 870.00 354.40)"><rect x="-3.5" y="-1.5" width="2.6" height="3" fill="#b8b8b8"/><rect x="0.9" y="-1.5" width="2.6" height="3" fill="#b8b8b8"/><rect x="-1" y="-1.2" width="2" height="2.4" fill="#3a2a40"/></g>
<g transform="matrix(-0.1082 -0.9941 0.9983 -0.0587 808.00 280.00)"><rect x="-6.5" y="-3.7" width="13.0" height="8.0" fill="#9a9a9a"/><rect x="-4.8" y="-4.0" width="9.6" height="7.2" fill="#f2f2f2"/><rect x="-3.0" y="-4.0" width="6.0" height="7.2" fill="#4b1fa0"/><rect x="-4.8" y="2.7" width="9.6" height="1" fill="#20302c"/></g>
<g transform="matrix(-0.1103 -0.9939 0.9983 -0.0587 832.00 280.00)"><rect x="-6.5" y="-3.7" width="13.0" height="8.0" fill="#9a9a9a"/><rect x="-4.8" y="-4.0" width="9.6" height="7.2" fill="#f2f2f2"/><rect x="-3.0" y="-4.0" width="6.0" height="7.2" fill="#4b1fa0"/><rect x="-4.8" y="2.7" width="9.6" height="1" fill="#20302c"/></g>
<g transform="matrix(-0.1088 -0.9941 0.9983 -0.0587 815.00 281.00)"><rect x="-3.8" y="-2.2" width="7.6" height="4.4" fill="#9a9a9a"/><rect x="-2.8" y="-2.2" width="5.6" height="3.6" fill="#eeeeee"/><rect x="-1.4" y="-2.2" width="2.8" height="3.6" fill="#4b1fa0"/></g>
<g transform="matrix(-0.1109 -0.9938 0.9983 -0.0588 839.00 280.00)"><rect x="-3.8" y="-2.2" width="7.6" height="4.4" fill="#9a9a9a"/><rect x="-2.8" y="-2.2" width="5.6" height="3.6" fill="#eeeeee"/><rect x="-1.4" y="-2.2" width="2.8" height="3.6" fill="#4b1fa0"/></g>
<g transform="matrix(0.9982 -0.0602 0.1042 0.9946 765.00 312.50)"><rect x="-17.00" y="-6.33" width="6.00" height="1.40" fill="#b9b9b9"/><rect x="11.00" y="-6.33" width="6.00" height="1.40" fill="#b9b9b9"/><rect x="-17.00" y="-2.58" width="6.00" height="1.40" fill="#b9b9b9"/><rect x="11.00" y="-2.58" width="6.00" height="1.40" fill="#b9b9b9"/><rect x="-17.00" y="1.18" width="6.00" height="1.40" fill="#b9b9b9"/><rect x="11.00" y="1.18" width="6.00" height="1.40" fill="#b9b9b9"/><rect x="-17.00" y="4.92" width="6.00" height="1.40" fill="#b9b9b9"/><rect x="11.00" y="4.92" width="6.00" height="1.40" fill="#b9b9b9"/><rect x="-11.00" y="-7.50" width="22.00" height="15.00" fill="#2f3030"/><circle cx="-9.50" cy="6.00" r="1" fill="#40d0b0"/></g>
<text transform="matrix(0.9982 -0.0594 0.1039 0.9946 760.00 297.60)" x="0" y="0" font-size="6.2" fill="#f6f0f0" text-anchor="middle" dominant-baseline="central" font-weight="bold" font-family="Liberation Mono" stroke="#f6f0f0" stroke-width="0.35">TLV9102IPWR</text>
<g transform="matrix(-0.1020 -0.9948 0.9983 -0.0590 737.00 290.00)"><rect x="-3.8" y="-2.2" width="7.6" height="4.4" fill="#9a9a9a"/><rect x="-2.8" y="-2.2" width="5.6" height="3.6" fill="#eeeeee"/><rect x="-1.4" y="-2.2" width="2.8" height="3.6" fill="#4b1fa0"/></g>
<g transform="matrix(-0.1019 -0.9948 0.9982 -0.0594 737.00 298.00)"><rect x="-3.8" y="-2.2" width="7.6" height="4.4" fill="#9a9a9a"/><rect x="-2.8" y="-2.2" width="5.6" height="3.6" fill="#eeeeee"/><rect x="-1.4" y="-2.2" width="2.8" height="3.6" fill="#4b1fa0"/></g>
<g transform="matrix(-0.1018 -0.9948 0.9982 -0.0598 737.00 306.00)"><rect x="-3.8" y="-2.2" width="7.6" height="4.4" fill="#9a9a9a"/><rect x="-2.8" y="-2.2" width="5.6" height="3.6" fill="#eeeeee"/><rect x="-1.4" y="-2.2" width="2.8" height="3.6" fill="#4b1fa0"/></g>
<g transform="matrix(-0.1018 -0.9948 0.9982 -0.0602 737.00 314.00)"><rect x="-3.8" y="-2.2" width="7.6" height="4.4" fill="#9a9a9a"/><rect x="-2.8" y="-2.2" width="5.6" height="3.6" fill="#eeeeee"/><rect x="-1.4" y="-2.2" width="2.8" height="3.6" fill="#4b1fa0"/></g>
<g transform="matrix(-0.1017 -0.9948 0.9982 -0.0606 737.00 322.00)"><rect x="-3.8" y="-2.2" width="7.6" height="4.4" fill="#9a9a9a"/><rect x="-2.8" y="-2.2" width="5.6" height="3.6" fill="#eeeeee"/><rect x="-1.4" y="-2.2" width="2.8" height="3.6" fill="#4b1fa0"/></g>
<g transform="matrix(0.9982 -0.0604 0.1083 0.9941 812.00 313.00)"><rect x="-13.00" y="-6.09" width="5.00" height="1.30" fill="#b9b9b9"/><rect x="8.00" y="-6.09" width="5.00" height="1.30" fill="#b9b9b9"/><rect x="-13.00" y="-2.46" width="5.00" height="1.30" fill="#b9b9b9"/><rect x="8.00" y="-2.46" width="5.00" height="1.30" fill="#b9b9b9"/><rect x="-13.00" y="1.16" width="5.00" height="1.30" fill="#b9b9b9"/><rect x="8.00" y="1.16" width="5.00" height="1.30" fill="#b9b9b9"/><rect x="-13.00" y="4.79" width="5.00" height="1.30" fill="#b9b9b9"/><rect x="8.00" y="4.79" width="5.00" height="1.30" fill="#b9b9b9"/><rect x="-8.00" y="-7.25" width="16.00" height="14.50" fill="#2f3030"/><circle cx="-6.50" cy="5.75" r="1" fill="#40d0b0"/></g>
<text transform="matrix(0.9982 -0.0598 0.1091 0.9940 820.00 301.00)" x="0" y="0" font-size="6.2" fill="#f6f0f0" text-anchor="middle" dominant-baseline="central" font-weight="bold" font-family="Liberation Mono" stroke="#f6f0f0" stroke-width="0.35">ADC122S021CIMM_NOPB</text>
<text transform="matrix(0.9981 -0.0609 0.1025 0.9947 747.00 326.60)" x="0" y="0" font-size="6.2" fill="#f6f0f0" text-anchor="middle" dominant-baseline="central" font-weight="bold" font-family="Liberation Mono" stroke="#f6f0f0" stroke-width="0.35">NCP18WT104F03RC</text>
<g transform="matrix(0.9981 -0.0613 0.1047 0.9945 773.00 332.00)"><rect x="-5.0" y="-3.0" width="10.0" height="6.0" fill="none" stroke="#f0e6e6" stroke-width="0.9"/><rect x="-3.7" y="-1.6" width="2.4" height="3.2" fill="#b8b8b8"/><rect x="1.3" y="-1.6" width="2.4" height="3.2" fill="#b8b8b8"/><rect x="-1.6" y="-1.5" width="3.2" height="3" fill="#3a2a5a"/></g>
<g transform="matrix(0.9981 -0.0617 0.1048 0.9945 775.00 339.00)"><rect x="-3.5" y="-1.5" width="2.6" height="3" fill="#b8b8b8"/><rect x="0.9" y="-1.5" width="2.6" height="3" fill="#b8b8b8"/><rect x="-1" y="-1.2" width="2" height="2.4" fill="#3a2a40"/></g>
<g transform="matrix(0.9981 -0.0617 0.1063 0.9943 792.00 338.00)"><rect x="-3.5" y="-1.5" width="2.6" height="3" fill="#b8b8b8"/><rect x="0.9" y="-1.5" width="2.6" height="3" fill="#b8b8b8"/><rect x="-1" y="-1.2" width="2" height="2.4" fill="#3a2a40"/></g>
<g transform="matrix(-0.1060 -0.9944 0.9982 -0.0604 786.00 314.00)"><rect x="-3.8" y="-2.2" width="7.6" height="4.4" fill="#9a9a9a"/><rect x="-2.8" y="-2.2" width="5.6" height="3.6" fill="#eeeeee"/><rect x="-1.4" y="-2.2" width="2.8" height="3.6" fill="#4b1fa0"/></g>
<g transform="matrix(-0.1065 -0.9943 0.9982 -0.0604 792.00 314.00)"><rect x="-3.8" y="-2.2" width="7.6" height="4.4" fill="#9a9a9a"/><rect x="-2.8" y="-2.2" width="5.6" height="3.6" fill="#eeeeee"/><rect x="-1.4" y="-2.2" width="2.8" height="3.6" fill="#4b1fa0"/></g>
<g transform="matrix(-0.1061 -0.9944 0.9981 -0.0609 788.00 324.00)"><rect x="-3.8" y="-2.2" width="7.6" height="4.4" fill="#9a9a9a"/><rect x="-2.8" y="-2.2" width="5.6" height="3.6" fill="#eeeeee"/><rect x="-1.4" y="-2.2" width="2.8" height="3.6" fill="#4b1fa0"/></g>
<g transform="matrix(-0.0935 -0.9956 0.9981 -0.0613 644.00 340.00)"><rect x="-6.5" y="-3.7" width="13.0" height="8.0" fill="#9a9a9a"/><rect x="-4.8" y="-4.0" width="9.6" height="7.2" fill="#f2f2f2"/><rect x="-3.0" y="-4.0" width="6.0" height="7.2" fill="#4b1fa0"/><rect x="-4.8" y="2.7" width="9.6" height="1" fill="#20302c"/></g>
<g transform="matrix(-0.0916 -0.9958 0.9981 -0.0613 622.00 342.00)"><rect x="-6.5" y="-3.7" width="13.0" height="8.0" fill="#9a9a9a"/><rect x="-4.8" y="-4.0" width="9.6" height="7.2" fill="#f2f2f2"/><rect x="-3.0" y="-4.0" width="6.0" height="7.2" fill="#4b1fa0"/><rect x="-4.8" y="2.7" width="9.6" height="1" fill="#20302c"/></g>
<rect transform="matrix(0.9981 -0.0608 0.1193 0.9929 940.19 312.71)" x="-6.50" y="-12.00" width="13.00" height="24.00" rx="0.00" fill="none" stroke="#f2ecec" stroke-width="1.0" />
<ellipse transform="matrix(0.9982 -0.0605 0.1193 0.9929 939.50 307.00)" rx="4.20" ry="4.20" fill="#8a8a8a" stroke="none" stroke-width="0"/>
<ellipse transform="matrix(0.9982 -0.0605 0.1193 0.9929 939.50 307.00)" rx="2.70" ry="2.70" fill="#151515" stroke="none" stroke-width="0"/>
<ellipse transform="matrix(0.9982 -0.0605 0.1193 0.9929 939.50 307.00)" cx="-0.4" cy="1.3" rx="1.8" ry="1.1" fill="#d8d8d8"/>
<ellipse transform="matrix(0.9981 -0.0611 0.1193 0.9929 940.87 318.42)" rx="4.20" ry="4.20" fill="#8a8a8a" stroke="none" stroke-width="0"/>
<ellipse transform="matrix(0.9981 -0.0611 0.1193 0.9929 940.87 318.42)" rx="2.70" ry="2.70" fill="#151515" stroke="none" stroke-width="0"/>
<ellipse transform="matrix(0.9981 -0.0611 0.1193 0.9929 940.87 318.42)" cx="-0.4" cy="1.3" rx="1.8" ry="1.1" fill="#d8d8d8"/>
<text transform="matrix(0.9982 -0.0599 0.1195 0.9928 940.00 296.50)" x="0" y="0" font-size="6" fill="#f6f0f0" text-anchor="middle" dominant-baseline="central" font-weight="bold" font-family="Liberation Mono" stroke="#f6f0f0" stroke-width="0.35">GND</text>
<text transform="matrix(0.9981 -0.0617 0.1193 0.9929 942.50 329.50)" x="0" y="0" font-size="6" fill="#f6f0f0" text-anchor="middle" dominant-baseline="central" font-weight="bold" font-family="Liberation Mono" stroke="#f6f0f0" stroke-width="0.35">1.2V</text>
<g transform="matrix(-0.1182 -0.9930 0.9982 -0.0607 926.50 311.00)"><rect x="-6.5" y="-3.7" width="13.0" height="8.0" fill="#9a9a9a"/><rect x="-4.8" y="-4.0" width="9.6" height="7.2" fill="#f2f2f2"/><rect x="-3.0" y="-4.0" width="6.0" height="7.2" fill="#4b1fa0"/><rect x="-4.8" y="2.7" width="9.6" height="1" fill="#20302c"/></g>
<g transform="matrix(-0.1206 -0.9927 0.9982 -0.0608 955.00 311.50)"><rect x="-3.8" y="-2.2" width="7.6" height="4.4" fill="#9a9a9a"/><rect x="-2.8" y="-2.2" width="5.6" height="3.6" fill="#eeeeee"/><rect x="-1.4" y="-2.2" width="2.8" height="3.6" fill="#4b1fa0"/></g>
<g transform="matrix(0.9981 -0.0609 0.1226 0.9925 978.00 311.50)"><rect x="-8.3" y="-8.3" width="16.6" height="16.6" fill="#6a6a6a"/><rect x="-7.5" y="-7.5" width="15.0" height="15.0" fill="#2e2f2f"/><circle cx="-6.0" cy="-6.0" r="0.9" fill="#40d0b0"/></g>
<g transform="matrix(0.9982 -0.0601 0.1220 0.9925 970.00 298.50)"><rect x="-3.8" y="-2.2" width="7.6" height="4.4" fill="#9a9a9a"/><rect x="-2.8" y="-2.2" width="5.6" height="3.6" fill="#eeeeee"/><rect x="-1.4" y="-2.2" width="2.8" height="3.6" fill="#4b1fa0"/></g>
<g transform="matrix(0.9982 -0.0602 0.1232 0.9924 983.00 298.00)"><rect x="-3.8" y="-2.2" width="7.6" height="4.4" fill="#9a9a9a"/><rect x="-2.8" y="-2.2" width="5.6" height="3.6" fill="#eeeeee"/><rect x="-1.4" y="-2.2" width="2.8" height="3.6" fill="#4b1fa0"/></g>
<text transform="matrix(0.9981 -0.0624 0.1239 0.9923 996.50 339.00)" x="0" y="0" font-size="6" fill="#f6f0f0" text-anchor="middle" dominant-baseline="central" font-weight="bold" font-family="Liberation Mono" stroke="#f6f0f0" stroke-width="0.35">10k</text>
<g transform="matrix(0.9981 -0.0624 0.1248 0.9922 1007.00 338.00)"><rect x="-3.8" y="-2.2" width="7.6" height="4.4" fill="#9a9a9a"/><rect x="-2.8" y="-2.2" width="5.6" height="3.6" fill="#eeeeee"/><rect x="-1.4" y="-2.2" width="2.8" height="3.6" fill="#4b1fa0"/></g>
<g transform="matrix(0.9980 -0.0628 0.1248 0.9922 1008.00 345.50)"><rect x="-7.5" y="-3.7" width="15.0" height="8.0" fill="#9a9a9a"/><rect x="-5.8" y="-4.0" width="11.6" height="7.2" fill="#f2f2f2"/><rect x="-4.0" y="-4.0" width="8.0" height="7.2" fill="#4b1fa0"/><rect x="-5.8" y="2.7" width="11.6" height="1" fill="#20302c"/></g>
<text transform="matrix(0.9980 -0.0633 0.1248 0.9922 1009.50 355.50)" x="0" y="0" font-size="6" fill="#f6f0f0" text-anchor="middle" dominant-baseline="central" font-weight="bold" font-family="Liberation Mono" stroke="#f6f0f0" stroke-width="0.35">22uF</text>
<g transform="matrix(-0.1171 -0.9931 0.9980 -0.0628 919.00 352.00)"><rect x="-6.5" y="-3.7" width="13.0" height="8.0" fill="#9a9a9a"/><rect x="-4.8" y="-4.0" width="9.6" height="7.2" fill="#f2f2f2"/><rect x="-3.0" y="-4.0" width="6.0" height="7.2" fill="#4b1fa0"/><rect x="-4.8" y="2.7" width="9.6" height="1" fill="#20302c"/></g>
<g transform="matrix(-0.1177 -0.9931 0.9980 -0.0629 926.00 352.50)"><rect x="-3.8" y="-2.2" width="7.6" height="4.4" fill="#9a9a9a"/><rect x="-2.8" y="-2.2" width="5.6" height="3.6" fill="#eeeeee"/><rect x="-1.4" y="-2.2" width="2.8" height="3.6" fill="#4b1fa0"/></g>
<g transform="matrix(-0.1190 -0.9929 0.9980 -0.0628 941.00 351.00)"><rect x="-6.5" y="-3.7" width="13.0" height="8.0" fill="#9a9a9a"/><rect x="-4.8" y="-4.0" width="9.6" height="7.2" fill="#f2f2f2"/><rect x="-3.0" y="-4.0" width="6.0" height="7.2" fill="#4b1fa0"/><rect x="-4.8" y="2.7" width="9.6" height="1" fill="#20302c"/></g>
<g transform="matrix(-0.1196 -0.9928 0.9980 -0.0629 948.00 351.50)"><rect x="-3.8" y="-2.2" width="7.6" height="4.4" fill="#9a9a9a"/><rect x="-2.8" y="-2.2" width="5.6" height="3.6" fill="#eeeeee"/><rect x="-1.4" y="-2.2" width="2.8" height="3.6" fill="#4b1fa0"/></g>
<g transform="matrix(-0.1209 -0.9927 0.9980 -0.0628 963.00 350.00)"><rect x="-6.5" y="-3.7" width="13.0" height="8.0" fill="#9a9a9a"/><rect x="-4.8" y="-4.0" width="9.6" height="7.2" fill="#f2f2f2"/><rect x="-3.0" y="-4.0" width="6.0" height="7.2" fill="#4b1fa0"/><rect x="-4.8" y="2.7" width="9.6" height="1" fill="#20302c"/></g>
<g transform="matrix(-0.1215 -0.9926 0.9980 -0.0629 970.00 350.50)"><rect x="-3.8" y="-2.2" width="7.6" height="4.4" fill="#9a9a9a"/><rect x="-2.8" y="-2.2" width="5.6" height="3.6" fill="#eeeeee"/><rect x="-1.4" y="-2.2" width="2.8" height="3.6" fill="#4b1fa0"/></g>
<rect transform="matrix(0.9978 -0.0660 0.1137 0.9935 887.20 415.00)" x="-13.25" y="-9.25" width="26.50" height="18.50" rx="0.00" fill="#2a2838" stroke="none" stroke-width="0" />
<rect transform="matrix(0.9978 -0.0659 0.1138 0.9935 887.50 413.50)" x="-12.50" y="-8.00" width="25.00" height="16.00" rx="0.00" fill="#b9b6c8" stroke="none" stroke-width="0" />
<ellipse transform="matrix(0.9978 -0.0657 0.1147 0.9934 897.00 408.00)" rx="1.50" ry="1.50" fill="#40d0b0" stroke="none" stroke-width="0"/>
<text transform="matrix(0.9978 -0.0669 0.1138 0.9935 890.00 431.00)" x="0" y="0" font-size="6.2" fill="#f6f0f0" text-anchor="middle" dominant-baseline="central" font-weight="bold" font-family="Liberation Mono" stroke="#f6f0f0" stroke-width="0.35">50 MHz</text>
<rect transform="matrix(0.9978 -0.0666 0.1213 0.9926 976.50 420.30)" x="-21.50" y="-20.30" width="43.00" height="40.60" rx="0.00" fill="#3b3c3c" stroke="#888" stroke-width="0.6" />
<text transform="matrix(0.9978 -0.0666 0.1213 0.9926 976.50 420.00)" x="0" y="0" font-size="3.5" fill="#aaa" text-anchor="middle" dominant-baseline="central" font-weight="normal" font-family="Liberation Mono" stroke="#aaa" stroke-width="0">FT232HQ</text>
<text transform="matrix(0.9979 -0.0647 0.1216 0.9926 975.00 385.00)" x="0" y="0" font-size="6.2" fill="#f6f0f0" text-anchor="middle" dominant-baseline="central" font-weight="bold" font-family="Liberation Mono" stroke="#f6f0f0" stroke-width="0.35">FT232HQ</text>
<rect transform="matrix(0.9977 -0.0680 0.1254 0.9921 1027.00 443.00)" x="-9.00" y="-12.80" width="18.00" height="25.60" rx="0.00" fill="#bdbdc0" stroke="#303038" stroke-width="0.8" />
<ellipse transform="matrix(0.9977 -0.0674 0.1249 0.9922 1020.00 432.50)" rx="1.60" ry="1.60" fill="#40d0b0" stroke="none" stroke-width="0"/>
<ellipse transform="matrix(0.9977 -0.0673 0.1243 0.9922 1012.50 430.60)" rx="2.20" ry="2.20" fill="#f0f0f0" stroke="none" stroke-width="0"/>
<text transform="matrix(0.9976 -0.0690 0.1253 0.9921 1028.80 462.50)" x="0" y="0" font-size="6.2" fill="#f6f0f0" text-anchor="middle" dominant-baseline="central" font-weight="bold" font-family="Liberation Mono" stroke="#f6f0f0" stroke-width="0.35">12MHz</text>
<g transform="matrix(0.9976 -0.0691 0.1215 0.9926 985.00 467.00)"><rect x="-6.24" y="-6.75" width="1.60" height="2.50" fill="#b9b9b9"/><rect x="-6.24" y="4.25" width="1.60" height="2.50" fill="#b9b9b9"/><rect x="-2.61" y="-6.75" width="1.60" height="2.50" fill="#b9b9b9"/><rect x="-2.61" y="4.25" width="1.60" height="2.50" fill="#b9b9b9"/><rect x="1.01" y="-6.75" width="1.60" height="2.50" fill="#b9b9b9"/><rect x="1.01" y="4.25" width="1.60" height="2.50" fill="#b9b9b9"/><rect x="4.64" y="-6.75" width="1.60" height="2.50" fill="#b9b9b9"/><rect x="4.64" y="4.25" width="1.60" height="2.50" fill="#b9b9b9"/><rect x="-7.25" y="-4.25" width="14.50" height="8.50" fill="#2f3030"/><circle cx="-5.75" cy="2.75" r="1" fill="#40d0b0"/></g>
<text transform="matrix(0.9976 -0.0699 0.1214 0.9926 985.00 481.00)" x="0" y="0" font-size="6.2" fill="#f6f0f0" text-anchor="middle" dominant-baseline="central" font-weight="bold" font-family="Liberation Mono" stroke="#f6f0f0" stroke-width="0.35">93LC56B</text>
<g transform="matrix(0.9979 -0.0651 0.1241 0.9923 1005.60 389.40)"><rect x="-7.0" y="-3.7" width="14.0" height="8.0" fill="#9a9a9a"/><rect x="-5.3" y="-4.0" width="10.6" height="7.2" fill="#f2f2f2"/><rect x="-3.5" y="-4.0" width="7.0" height="7.2" fill="#4b1fa0"/><rect x="-5.3" y="2.7" width="10.6" height="1" fill="#20302c"/></g>
<g transform="matrix(0.9979 -0.0651 0.1205 0.9927 963.80 393.00)"><rect x="-3.8" y="-2.2" width="7.6" height="4.4" fill="#9a9a9a"/><rect x="-2.8" y="-2.2" width="5.6" height="3.6" fill="#eeeeee"/><rect x="-1.4" y="-2.2" width="2.8" height="3.6" fill="#4b1fa0"/></g>
<g transform="matrix(0.9978 -0.0663 0.1156 0.9933 910.00 419.60)"><rect x="-3.8" y="-2.2" width="7.6" height="4.4" fill="#9a9a9a"/><rect x="-2.8" y="-2.2" width="5.6" height="3.6" fill="#eeeeee"/><rect x="-1.4" y="-2.2" width="2.8" height="3.6" fill="#4b1fa0"/></g>
<g transform="matrix(0.9978 -0.0659 0.1185 0.9930 942.50 410.00)"><rect x="-3.5" y="-1.5" width="2.6" height="3" fill="#b8b8b8"/><rect x="0.9" y="-1.5" width="2.6" height="3" fill="#b8b8b8"/><rect x="-1" y="-1.2" width="2" height="2.4" fill="#3a2a40"/></g>
<g transform="matrix(0.9978 -0.0664 0.1185 0.9930 943.00 419.00)"><rect x="-3.5" y="-1.5" width="2.6" height="3" fill="#b8b8b8"/><rect x="0.9" y="-1.5" width="2.6" height="3" fill="#b8b8b8"/><rect x="-1" y="-1.2" width="2" height="2.4" fill="#3a2a40"/></g>
<g transform="matrix(-0.1236 -0.9923 0.9978 -0.0657 1000.60 402.00)"><rect x="-3.8" y="-2.2" width="7.6" height="4.4" fill="#9a9a9a"/><rect x="-2.8" y="-2.2" width="5.6" height="3.6" fill="#eeeeee"/><rect x="-1.4" y="-2.2" width="2.8" height="3.6" fill="#4b1fa0"/></g>
<g transform="matrix(-0.1243 -0.9922 0.9978 -0.0658 1008.80 402.00)"><rect x="-3.8" y="-2.2" width="7.6" height="4.4" fill="#9a9a9a"/><rect x="-2.8" y="-2.2" width="5.6" height="3.6" fill="#eeeeee"/><rect x="-1.4" y="-2.2" width="2.8" height="3.6" fill="#4b1fa0"/></g>
<g transform="matrix(-0.1188 -0.9929 0.9978 -0.0670 947.50 429.00)"><rect x="-3.8" y="-2.2" width="7.6" height="4.4" fill="#9a9a9a"/><rect x="-2.8" y="-2.2" width="5.6" height="3.6" fill="#eeeeee"/><rect x="-1.4" y="-2.2" width="2.8" height="3.6" fill="#4b1fa0"/></g>
<g transform="matrix(-0.1185 -0.9929 0.9977 -0.0679 947.00 446.00)"><rect x="-3.8" y="-2.2" width="7.6" height="4.4" fill="#9a9a9a"/><rect x="-2.8" y="-2.2" width="5.6" height="3.6" fill="#eeeeee"/><rect x="-1.4" y="-2.2" width="2.8" height="3.6" fill="#4b1fa0"/></g>
<g transform="matrix(-0.1192 -0.9929 0.9977 -0.0679 954.40 446.00)"><rect x="-3.8" y="-2.2" width="7.6" height="4.4" fill="#9a9a9a"/><rect x="-2.8" y="-2.2" width="5.6" height="3.6" fill="#eeeeee"/><rect x="-1.4" y="-2.2" width="2.8" height="3.6" fill="#4b1fa0"/></g>
<g transform="matrix(-0.1185 -0.9930 0.9977 -0.0685 948.00 457.50)"><rect x="-3.8" y="-2.2" width="7.6" height="4.4" fill="#9a9a9a"/><rect x="-2.8" y="-2.2" width="5.6" height="3.6" fill="#eeeeee"/><rect x="-1.4" y="-2.2" width="2.8" height="3.6" fill="#4b1fa0"/></g>
<g transform="matrix(-0.1185 -0.9930 0.9976 -0.0691 949.40 469.40)"><rect x="-3.8" y="-2.2" width="7.6" height="4.4" fill="#9a9a9a"/><rect x="-2.8" y="-2.2" width="5.6" height="3.6" fill="#eeeeee"/><rect x="-1.4" y="-2.2" width="2.8" height="3.6" fill="#4b1fa0"/></g>
<g transform="matrix(-0.1198 -0.9928 0.9977 -0.0684 963.00 455.60)"><rect x="-3.8" y="-2.2" width="7.6" height="4.4" fill="#9a9a9a"/><rect x="-2.8" y="-2.2" width="5.6" height="3.6" fill="#eeeeee"/><rect x="-1.4" y="-2.2" width="2.8" height="3.6" fill="#4b1fa0"/></g>
<g transform="matrix(-0.1203 -0.9927 0.9977 -0.0684 968.80 455.00)"><rect x="-3.8" y="-2.2" width="7.6" height="4.4" fill="#9a9a9a"/><rect x="-2.8" y="-2.2" width="5.6" height="3.6" fill="#eeeeee"/><rect x="-1.4" y="-2.2" width="2.8" height="3.6" fill="#4b1fa0"/></g>
<g transform="matrix(-0.1208 -0.9927 0.9977 -0.0684 974.40 454.40)"><rect x="-3.8" y="-2.2" width="7.6" height="4.4" fill="#9a9a9a"/><rect x="-2.8" y="-2.2" width="5.6" height="3.6" fill="#eeeeee"/><rect x="-1.4" y="-2.2" width="2.8" height="3.6" fill="#4b1fa0"/></g>
<g transform="matrix(-0.1228 -0.9924 0.9977 -0.0684 997.50 452.00)"><rect x="-3.8" y="-2.2" width="7.6" height="4.4" fill="#9a9a9a"/><rect x="-2.8" y="-2.2" width="5.6" height="3.6" fill="#eeeeee"/><rect x="-1.4" y="-2.2" width="2.8" height="3.6" fill="#4b1fa0"/></g>
<g transform="matrix(-0.1237 -0.9923 0.9977 -0.0684 1008.00 452.00)"><rect x="-3.8" y="-2.2" width="7.6" height="4.4" fill="#9a9a9a"/><rect x="-2.8" y="-2.2" width="5.6" height="3.6" fill="#eeeeee"/><rect x="-1.4" y="-2.2" width="2.8" height="3.6" fill="#4b1fa0"/></g>
<g transform="matrix(-0.1227 -0.9924 0.9976 -0.0691 998.80 466.00)"><rect x="-3.8" y="-2.2" width="7.6" height="4.4" fill="#9a9a9a"/><rect x="-2.8" y="-2.2" width="5.6" height="3.6" fill="#eeeeee"/><rect x="-1.4" y="-2.2" width="2.8" height="3.6" fill="#4b1fa0"/></g>
<g transform="matrix(-0.1198 -0.9928 0.9976 -0.0694 965.00 474.40)"><rect x="-3.8" y="-2.2" width="7.6" height="4.4" fill="#9a9a9a"/><rect x="-2.8" y="-2.2" width="5.6" height="3.6" fill="#eeeeee"/><rect x="-1.4" y="-2.2" width="2.8" height="3.6" fill="#4b1fa0"/></g>
<g transform="matrix(-0.1202 -0.9927 0.9976 -0.0694 970.00 474.40)"><rect x="-3.8" y="-2.2" width="7.6" height="4.4" fill="#9a9a9a"/><rect x="-2.8" y="-2.2" width="5.6" height="3.6" fill="#eeeeee"/><rect x="-1.4" y="-2.2" width="2.8" height="3.6" fill="#4b1fa0"/></g>
<g transform="matrix(-0.1266 -0.9920 0.9977 -0.0676 1040.60 433.80)"><rect x="-3.8" y="-2.2" width="7.6" height="4.4" fill="#9a9a9a"/><rect x="-2.8" y="-2.2" width="5.6" height="3.6" fill="#eeeeee"/><rect x="-1.4" y="-2.2" width="2.8" height="3.6" fill="#4b1fa0"/></g>
<g transform="matrix(-0.1274 -0.9918 0.9977 -0.0675 1050.00 432.00)"><rect x="-3.8" y="-2.2" width="7.6" height="4.4" fill="#9a9a9a"/><rect x="-2.8" y="-2.2" width="5.6" height="3.6" fill="#eeeeee"/><rect x="-1.4" y="-2.2" width="2.8" height="3.6" fill="#4b1fa0"/></g>
<g transform="matrix(-0.1267 -0.9919 0.9977 -0.0682 1042.50 446.00)"><rect x="-3.8" y="-2.2" width="7.6" height="4.4" fill="#9a9a9a"/><rect x="-2.8" y="-2.2" width="5.6" height="3.6" fill="#eeeeee"/><rect x="-1.4" y="-2.2" width="2.8" height="3.6" fill="#4b1fa0"/></g>
<g transform="matrix(-0.1275 -0.9918 0.9977 -0.0682 1052.00 445.60)"><rect x="-3.8" y="-2.2" width="7.6" height="4.4" fill="#9a9a9a"/><rect x="-2.8" y="-2.2" width="5.6" height="3.6" fill="#eeeeee"/><rect x="-1.4" y="-2.2" width="2.8" height="3.6" fill="#4b1fa0"/></g>
<g transform="matrix(-0.1275 -0.9918 0.9976 -0.0690 1053.80 460.60)"><rect x="-3.8" y="-2.2" width="7.6" height="4.4" fill="#9a9a9a"/><rect x="-2.8" y="-2.2" width="5.6" height="3.6" fill="#eeeeee"/><rect x="-1.4" y="-2.2" width="2.8" height="3.6" fill="#4b1fa0"/></g>
<g transform="matrix(-0.1061 -0.9944 0.9975 -0.0709 808.00 514.00)"><rect x="-3.5" y="-1.5" width="2.6" height="3" fill="#b8b8b8"/><rect x="0.9" y="-1.5" width="2.6" height="3" fill="#b8b8b8"/><rect x="-1" y="-1.2" width="2" height="2.4" fill="#3a2a40"/></g>
<g transform="matrix(-0.1064 -0.9943 0.9975 -0.0709 811.50 513.70)"><rect x="-3.5" y="-1.5" width="2.6" height="3" fill="#b8b8b8"/><rect x="0.9" y="-1.5" width="2.6" height="3" fill="#b8b8b8"/><rect x="-1" y="-1.2" width="2" height="2.4" fill="#3a2a40"/></g>
<g transform="matrix(-0.1067 -0.9943 0.9975 -0.0709 815.00 513.40)"><rect x="-3.5" y="-1.5" width="2.6" height="3" fill="#b8b8b8"/><rect x="0.9" y="-1.5" width="2.6" height="3" fill="#b8b8b8"/><rect x="-1" y="-1.2" width="2" height="2.4" fill="#3a2a40"/></g>
<g transform="matrix(-0.1070 -0.9943 0.9975 -0.0709 818.50 513.10)"><rect x="-3.5" y="-1.5" width="2.6" height="3" fill="#b8b8b8"/><rect x="0.9" y="-1.5" width="2.6" height="3" fill="#b8b8b8"/><rect x="-1" y="-1.2" width="2" height="2.4" fill="#3a2a40"/></g>
<g transform="matrix(-0.1073 -0.9942 0.9975 -0.0709 822.00 512.80)"><rect x="-3.5" y="-1.5" width="2.6" height="3" fill="#b8b8b8"/><rect x="0.9" y="-1.5" width="2.6" height="3" fill="#b8b8b8"/><rect x="-1" y="-1.2" width="2" height="2.4" fill="#3a2a40"/></g>
<polyline points="1023.00,347.00 1022.00,335.50 1042.00,334.50" fill="none" stroke="#f2ecec" stroke-width="1.1" stroke-linejoin="round"/>
<polyline points="1024.00,377.00 1025.00,387.00 1088.00,382.50 1087.00,372.00" fill="none" stroke="#f2ecec" stroke-width="1.1" stroke-linejoin="round"/>
<text transform="matrix(0.9979 -0.0649 0.1285 0.9917 1056.00 383.00)" x="0" y="0" font-size="6" fill="#f6f0f0" text-anchor="middle" dominant-baseline="central" font-weight="bold" font-family="Liberation Mono" stroke="#f6f0f0" stroke-width="0.35">L2</text>
<text transform="matrix(0.9979 -0.0654 0.1286 0.9917 1058.00 391.50)" x="0" y="0" font-size="6" fill="#f6f0f0" text-anchor="middle" dominant-baseline="central" font-weight="bold" font-family="Liberation Mono" stroke="#f6f0f0" stroke-width="0.35">10uH</text>
<text transform="matrix(0.9980 -0.0633 0.1248 0.9922 1009.50 355.50)" x="0" y="0" font-size="6" fill="#f6f0f0" text-anchor="middle" dominant-baseline="central" font-weight="bold" font-family="Liberation Mono" stroke="#f6f0f0" stroke-width="0.35">22uF</text>
<text transform="matrix(0.9980 -0.0626 0.1296 0.9916 1063.00 339.00)" x="0" y="0" font-size="6" fill="#f6f0f0" text-anchor="middle" dominant-baseline="central" font-weight="bold" font-family="Liberation Mono" stroke="#f6f0f0" stroke-width="0.35">0.1uF</text>
<g transform="matrix(-0.1378 -0.9905 0.9980 -0.0629 1159.00 338.00)"><rect x="-6.5" y="-3.7" width="13.0" height="8.0" fill="#9a9a9a"/><rect x="-4.8" y="-4.0" width="9.6" height="7.2" fill="#f2f2f2"/><rect x="-3.0" y="-4.0" width="6.0" height="7.2" fill="#4b1fa0"/><rect x="-4.8" y="2.7" width="9.6" height="1" fill="#20302c"/></g>
<text transform="matrix(0.9980 -0.0626 0.1371 0.9906 1150.00 333.00)" x="0" y="0" font-size="6" fill="#f6f0f0" text-anchor="middle" dominant-baseline="central" font-weight="bold" font-family="Liberation Mono" stroke="#f6f0f0" stroke-width="0.35">22uF</text>
<rect transform="matrix(0.9988 -0.0489 0.1512 0.9885 1275.50 70.50)" x="-9.50" y="-2.50" width="19.00" height="5.00" rx="0.00" fill="#8e8e8e" stroke="none" stroke-width="0" />
<rect transform="matrix(0.9988 -0.0495 0.1511 0.9885 1277.00 82.00)" x="-9.00" y="-1.10" width="18.00" height="2.20" rx="0.00" fill="#8e8e8e" stroke="none" stroke-width="0" />
<rect transform="matrix(0.9987 -0.0501 0.1512 0.9885 1279.00 93.00)" x="-9.00" y="-3.00" width="18.00" height="6.00" rx="0.00" fill="#8e8e8e" stroke="none" stroke-width="0" />
<text transform="matrix(0.9987 -0.0508 0.1504 0.9886 1272.00 107.00)" x="0" y="0" font-size="6" fill="#f6f0f0" text-anchor="middle" dominant-baseline="central" font-weight="bold" font-family="Liberation Mono" stroke="#f6f0f0" stroke-width="0.35">1KHZOUT50</text>
<text transform="matrix(0.9987 -0.0517 0.1467 0.9892 1232.00 126.00)" x="0" y="0" font-size="6.2" fill="#f6f0f0" text-anchor="middle" dominant-baseline="central" font-weight="bold" font-family="Liberation Mono" stroke="#f6f0f0" stroke-width="0.35">LVDS OUT</text>
<polyline points="1247.00,137.00 1219.00,138.50 1229.00,204.00 1257.00,202.50" fill="none" stroke="#f2ecec" stroke-width="1.0" stroke-linejoin="round"/>
<polyline points="1288.00,134.00 1296.00,133.00" fill="none" stroke="#f2ecec" stroke-width="1.0" stroke-linejoin="round"/>
<polyline points="1297.00,200.00 1306.00,199.00" fill="none" stroke="#f2ecec" stroke-width="1.0" stroke-linejoin="round"/>
<ellipse transform="matrix(0.9986 -0.0523 0.1484 0.9889 1253.00 136.00)" rx="6.40" ry="6.40" fill="#8a8a8a" stroke="none" stroke-width="0"/>
<ellipse transform="matrix(0.9986 -0.0523 0.1484 0.9889 1253.00 136.00)" rx="4.20" ry="4.20" fill="#151515" stroke="none" stroke-width="0"/>
<ellipse transform="matrix(0.9986 -0.0523 0.1484 0.9889 1253.00 136.00)" cx="-0.9" cy="1.5" rx="2.9" ry="2.2" fill="#e0e0e0"/>
<ellipse transform="matrix(0.9986 -0.0523 0.1508 0.9886 1281.00 134.00)" rx="6.40" ry="6.40" fill="#8a8a8a" stroke="none" stroke-width="0"/>
<ellipse transform="matrix(0.9986 -0.0523 0.1508 0.9886 1281.00 134.00)" rx="4.20" ry="4.20" fill="#151515" stroke="none" stroke-width="0"/>
<ellipse transform="matrix(0.9986 -0.0523 0.1508 0.9886 1281.00 134.00)" cx="-0.9" cy="1.5" rx="2.9" ry="2.2" fill="#e0e0e0"/>
<ellipse transform="matrix(0.9984 -0.0560 0.1484 0.9889 1263.00 203.00)" rx="6.40" ry="6.40" fill="#8a8a8a" stroke="none" stroke-width="0"/>
<ellipse transform="matrix(0.9984 -0.0560 0.1484 0.9889 1263.00 203.00)" rx="4.20" ry="4.20" fill="#151515" stroke="none" stroke-width="0"/>
<ellipse transform="matrix(0.9984 -0.0560 0.1484 0.9889 1263.00 203.00)" cx="-0.9" cy="1.5" rx="2.9" ry="2.2" fill="#e0e0e0"/>
<ellipse transform="matrix(0.9984 -0.0559 0.1508 0.9886 1291.00 201.00)" rx="6.40" ry="6.40" fill="#8a8a8a" stroke="none" stroke-width="0"/>
<ellipse transform="matrix(0.9984 -0.0559 0.1508 0.9886 1291.00 201.00)" rx="4.20" ry="4.20" fill="#151515" stroke="none" stroke-width="0"/>
<ellipse transform="matrix(0.9984 -0.0559 0.1508 0.9886 1291.00 201.00)" cx="-0.9" cy="1.5" rx="2.9" ry="2.2" fill="#e0e0e0"/>
<ellipse transform="matrix(0.9986 -0.0528 0.1496 0.9888 1268.00 144.00)" rx="7.80" ry="7.80" fill="#120c18" stroke="none" stroke-width="0"/>
<ellipse transform="matrix(0.9986 -0.0528 0.1496 0.9888 1268.00 144.00)" cx="-1.2" cy="1.0" rx="7.2" ry="7.0" fill="#e6eae8"/>
<ellipse transform="matrix(0.9985 -0.0556 0.1495 0.9888 1275.60 195.00)" rx="7.80" ry="7.80" fill="#120c18" stroke="none" stroke-width="0"/>
<ellipse transform="matrix(0.9985 -0.0556 0.1495 0.9888 1275.60 195.00)" cx="-1.2" cy="1.0" rx="7.2" ry="7.0" fill="#e6eae8"/>
<ellipse transform="matrix(0.9986 -0.0531 0.1461 0.9893 1229.00 151.00)" rx="3.40" ry="3.40" fill="#8a8a8a" stroke="none" stroke-width="0"/>
<ellipse transform="matrix(0.9986 -0.0531 0.1461 0.9893 1229.00 151.00)" rx="2.40" ry="2.40" fill="#151515" stroke="none" stroke-width="0"/>
<ellipse transform="matrix(0.9986 -0.0531 0.1461 0.9893 1229.00 151.00)" cx="-0.6" cy="1.2" rx="1.49" ry="1.01" fill="#d8d8d8"/>
<ellipse transform="matrix(0.9986 -0.0534 0.1471 0.9891 1241.00 156.00)" rx="3.40" ry="3.40" fill="#8a8a8a" stroke="none" stroke-width="0"/>
<ellipse transform="matrix(0.9986 -0.0534 0.1471 0.9891 1241.00 156.00)" rx="2.40" ry="2.40" fill="#151515" stroke="none" stroke-width="0"/>
<ellipse transform="matrix(0.9986 -0.0534 0.1471 0.9891 1241.00 156.00)" cx="-0.6" cy="1.2" rx="1.49" ry="1.01" fill="#d8d8d8"/>
<ellipse transform="matrix(0.9986 -0.0537 0.1460 0.9893 1230.00 162.40)" rx="3.40" ry="3.40" fill="#8a8a8a" stroke="none" stroke-width="0"/>
<ellipse transform="matrix(0.9986 -0.0537 0.1460 0.9893 1230.00 162.40)" rx="2.40" ry="2.40" fill="#151515" stroke="none" stroke-width="0"/>
<ellipse transform="matrix(0.9986 -0.0537 0.1460 0.9893 1230.00 162.40)" cx="-0.6" cy="1.2" rx="1.49" ry="1.01" fill="#d8d8d8"/>
<ellipse transform="matrix(0.9985 -0.0540 0.1471 0.9891 1243.00 167.40)" rx="3.40" ry="3.40" fill="#8a8a8a" stroke="none" stroke-width="0"/>
<ellipse transform="matrix(0.9985 -0.0540 0.1471 0.9891 1243.00 167.40)" rx="2.40" ry="2.40" fill="#151515" stroke="none" stroke-width="0"/>
<ellipse transform="matrix(0.9985 -0.0540 0.1471 0.9891 1243.00 167.40)" cx="-0.6" cy="1.2" rx="1.49" ry="1.01" fill="#d8d8d8"/>
<ellipse transform="matrix(0.9985 -0.0543 0.1460 0.9893 1231.60 173.60)" rx="3.40" ry="3.40" fill="#8a8a8a" stroke="none" stroke-width="0"/>
<ellipse transform="matrix(0.9985 -0.0543 0.1460 0.9893 1231.60 173.60)" rx="2.40" ry="2.40" fill="#151515" stroke="none" stroke-width="0"/>
<ellipse transform="matrix(0.9985 -0.0543 0.1460 0.9893 1231.60 173.60)" cx="-0.6" cy="1.2" rx="1.49" ry="1.01" fill="#d8d8d8"/>
<ellipse transform="matrix(0.9985 -0.0546 0.1471 0.9891 1244.40 178.40)" rx="3.40" ry="3.40" fill="#8a8a8a" stroke="none" stroke-width="0"/>
<ellipse transform="matrix(0.9985 -0.0546 0.1471 0.9891 1244.40 178.40)" rx="2.40" ry="2.40" fill="#151515" stroke="none" stroke-width="0"/>
<ellipse transform="matrix(0.9985 -0.0546 0.1471 0.9891 1244.40 178.40)" cx="-0.6" cy="1.2" rx="1.49" ry="1.01" fill="#d8d8d8"/>
<ellipse transform="matrix(0.9985 -0.0549 0.1461 0.9893 1233.60 185.00)" rx="3.40" ry="3.40" fill="#8a8a8a" stroke="none" stroke-width="0"/>
<ellipse transform="matrix(0.9985 -0.0549 0.1461 0.9893 1233.60 185.00)" rx="2.40" ry="2.40" fill="#151515" stroke="none" stroke-width="0"/>
<ellipse transform="matrix(0.9985 -0.0549 0.1461 0.9893 1233.60 185.00)" cx="-0.6" cy="1.2" rx="1.49" ry="1.01" fill="#d8d8d8"/>
<ellipse transform="matrix(0.9985 -0.0552 0.1471 0.9891 1246.40 190.00)" rx="3.40" ry="3.40" fill="#8a8a8a" stroke="none" stroke-width="0"/>
<ellipse transform="matrix(0.9985 -0.0552 0.1471 0.9891 1246.40 190.00)" rx="2.40" ry="2.40" fill="#151515" stroke="none" stroke-width="0"/>
<ellipse transform="matrix(0.9985 -0.0552 0.1471 0.9891 1246.40 190.00)" cx="-0.6" cy="1.2" rx="1.49" ry="1.01" fill="#d8d8d8"/>
<text transform="matrix(0.9972 -0.0754 0.1465 0.9892 1295.00 562.00)" x="0" y="0" font-size="6.2" fill="#f6f0f0" text-anchor="middle" dominant-baseline="central" font-weight="bold" font-family="Liberation Mono" stroke="#f6f0f0" stroke-width="0.35">LVDS IN</text>
<polyline points="1311.00,571.50 1282.00,573.00 1293.00,645.00 1322.00,643.50" fill="none" stroke="#f2ecec" stroke-width="1.0" stroke-linejoin="round"/>
<polyline points="1352.00,568.00 1361.00,567.50" fill="none" stroke="#f2ecec" stroke-width="1.0" stroke-linejoin="round"/>
<polyline points="1364.00,640.50 1373.00,640.00" fill="none" stroke="#f2ecec" stroke-width="1.0" stroke-linejoin="round"/>
<ellipse transform="matrix(0.9971 -0.0759 0.1483 0.9889 1317.00 570.00)" rx="6.40" ry="6.40" fill="#8a8a8a" stroke="none" stroke-width="0"/>
<ellipse transform="matrix(0.9971 -0.0759 0.1483 0.9889 1317.00 570.00)" rx="4.20" ry="4.20" fill="#151515" stroke="none" stroke-width="0"/>
<ellipse transform="matrix(0.9971 -0.0759 0.1483 0.9889 1317.00 570.00)" cx="-0.9" cy="1.5" rx="2.9" ry="2.2" fill="#e0e0e0"/>
<ellipse transform="matrix(0.9971 -0.0759 0.1508 0.9886 1347.00 568.00)" rx="6.40" ry="6.40" fill="#8a8a8a" stroke="none" stroke-width="0"/>
<ellipse transform="matrix(0.9971 -0.0759 0.1508 0.9886 1347.00 568.00)" rx="4.20" ry="4.20" fill="#151515" stroke="none" stroke-width="0"/>
<ellipse transform="matrix(0.9971 -0.0759 0.1508 0.9886 1347.00 568.00)" cx="-0.9" cy="1.5" rx="2.9" ry="2.2" fill="#e0e0e0"/>
<ellipse transform="matrix(0.9968 -0.0799 0.1483 0.9889 1328.00 643.00)" rx="6.40" ry="6.40" fill="#8a8a8a" stroke="none" stroke-width="0"/>
<ellipse transform="matrix(0.9968 -0.0799 0.1483 0.9889 1328.00 643.00)" rx="4.20" ry="4.20" fill="#151515" stroke="none" stroke-width="0"/>
<ellipse transform="matrix(0.9968 -0.0799 0.1483 0.9889 1328.00 643.00)" cx="-0.9" cy="1.5" rx="2.9" ry="2.2" fill="#e0e0e0"/>
<ellipse transform="matrix(0.9968 -0.0799 0.1508 0.9886 1358.00 641.00)" rx="6.40" ry="6.40" fill="#8a8a8a" stroke="none" stroke-width="0"/>
<ellipse transform="matrix(0.9968 -0.0799 0.1508 0.9886 1358.00 641.00)" rx="4.20" ry="4.20" fill="#151515" stroke="none" stroke-width="0"/>
<ellipse transform="matrix(0.9968 -0.0799 0.1508 0.9886 1358.00 641.00)" cx="-0.9" cy="1.5" rx="2.9" ry="2.2" fill="#e0e0e0"/>
<ellipse transform="matrix(0.9971 -0.0764 0.1495 0.9888 1333.00 578.00)" rx="7.80" ry="7.80" fill="#120c18" stroke="none" stroke-width="0"/>
<ellipse transform="matrix(0.9971 -0.0764 0.1495 0.9888 1333.00 578.00)" cx="-1.2" cy="1.0" rx="7.2" ry="7.0" fill="#e6eae8"/>
<ellipse transform="matrix(0.9968 -0.0794 0.1495 0.9888 1341.00 633.00)" rx="7.80" ry="7.80" fill="#120c18" stroke="none" stroke-width="0"/>
<ellipse transform="matrix(0.9968 -0.0794 0.1495 0.9888 1341.00 633.00)" cx="-1.2" cy="1.0" rx="7.2" ry="7.0" fill="#e6eae8"/>
<ellipse transform="matrix(0.9971 -0.0767 0.1460 0.9893 1292.00 587.00)" rx="3.40" ry="3.40" fill="#8a8a8a" stroke="none" stroke-width="0"/>
<ellipse transform="matrix(0.9971 -0.0767 0.1460 0.9893 1292.00 587.00)" rx="2.40" ry="2.40" fill="#151515" stroke="none" stroke-width="0"/>
<ellipse transform="matrix(0.9971 -0.0767 0.1460 0.9893 1292.00 587.00)" cx="-0.6" cy="1.2" rx="1.49" ry="1.01" fill="#d8d8d8"/>
<ellipse transform="matrix(0.9970 -0.0770 0.1470 0.9891 1305.00 592.00)" rx="3.40" ry="3.40" fill="#8a8a8a" stroke="none" stroke-width="0"/>
<ellipse transform="matrix(0.9970 -0.0770 0.1470 0.9891 1305.00 592.00)" rx="2.40" ry="2.40" fill="#151515" stroke="none" stroke-width="0"/>
<ellipse transform="matrix(0.9970 -0.0770 0.1470 0.9891 1305.00 592.00)" cx="-0.6" cy="1.2" rx="1.49" ry="1.01" fill="#d8d8d8"/>
<ellipse transform="matrix(0.9970 -0.0774 0.1460 0.9893 1294.00 599.00)" rx="3.40" ry="3.40" fill="#8a8a8a" stroke="none" stroke-width="0"/>
<ellipse transform="matrix(0.9970 -0.0774 0.1460 0.9893 1294.00 599.00)" rx="2.40" ry="2.40" fill="#151515" stroke="none" stroke-width="0"/>
<ellipse transform="matrix(0.9970 -0.0774 0.1460 0.9893 1294.00 599.00)" cx="-0.6" cy="1.2" rx="1.49" ry="1.01" fill="#d8d8d8"/>
<ellipse transform="matrix(0.9970 -0.0777 0.1470 0.9891 1307.00 604.00)" rx="3.40" ry="3.40" fill="#8a8a8a" stroke="none" stroke-width="0"/>
<ellipse transform="matrix(0.9970 -0.0777 0.1470 0.9891 1307.00 604.00)" rx="2.40" ry="2.40" fill="#151515" stroke="none" stroke-width="0"/>
<ellipse transform="matrix(0.9970 -0.0777 0.1470 0.9891 1307.00 604.00)" cx="-0.6" cy="1.2" rx="1.49" ry="1.01" fill="#d8d8d8"/>
<ellipse transform="matrix(0.9969 -0.0781 0.1460 0.9893 1296.00 612.00)" rx="3.40" ry="3.40" fill="#8a8a8a" stroke="none" stroke-width="0"/>
<ellipse transform="matrix(0.9969 -0.0781 0.1460 0.9893 1296.00 612.00)" rx="2.40" ry="2.40" fill="#151515" stroke="none" stroke-width="0"/>
<ellipse transform="matrix(0.9969 -0.0781 0.1460 0.9893 1296.00 612.00)" cx="-0.6" cy="1.2" rx="1.49" ry="1.01" fill="#d8d8d8"/>
<ellipse transform="matrix(0.9969 -0.0784 0.1470 0.9891 1309.00 617.00)" rx="3.40" ry="3.40" fill="#8a8a8a" stroke="none" stroke-width="0"/>
<ellipse transform="matrix(0.9969 -0.0784 0.1470 0.9891 1309.00 617.00)" rx="2.40" ry="2.40" fill="#151515" stroke="none" stroke-width="0"/>
<ellipse transform="matrix(0.9969 -0.0784 0.1470 0.9891 1309.00 617.00)" cx="-0.6" cy="1.2" rx="1.49" ry="1.01" fill="#d8d8d8"/>
<ellipse transform="matrix(0.9969 -0.0787 0.1460 0.9893 1298.00 624.00)" rx="3.40" ry="3.40" fill="#8a8a8a" stroke="none" stroke-width="0"/>
<ellipse transform="matrix(0.9969 -0.0787 0.1460 0.9893 1298.00 624.00)" rx="2.40" ry="2.40" fill="#151515" stroke="none" stroke-width="0"/>
<ellipse transform="matrix(0.9969 -0.0787 0.1460 0.9893 1298.00 624.00)" cx="-0.6" cy="1.2" rx="1.49" ry="1.01" fill="#d8d8d8"/>
<ellipse transform="matrix(0.9969 -0.0790 0.1470 0.9891 1311.00 629.00)" rx="3.40" ry="3.40" fill="#8a8a8a" stroke="none" stroke-width="0"/>
<ellipse transform="matrix(0.9969 -0.0790 0.1470 0.9891 1311.00 629.00)" rx="2.40" ry="2.40" fill="#151515" stroke="none" stroke-width="0"/>
<ellipse transform="matrix(0.9969 -0.0790 0.1470 0.9891 1311.00 629.00)" cx="-0.6" cy="1.2" rx="1.49" ry="1.01" fill="#d8d8d8"/>
<g transform="matrix(-0.1478 -0.9890 0.9983 -0.0579 1262.00 238.80)"><rect x="-6.5" y="-3.7" width="13.0" height="8.0" fill="#9a9a9a"/><rect x="-4.8" y="-4.0" width="9.6" height="7.2" fill="#f2f2f2"/><rect x="-3.0" y="-4.0" width="6.0" height="7.2" fill="#4b1fa0"/><rect x="-4.8" y="2.7" width="9.6" height="1" fill="#20302c"/></g>
<g transform="matrix(-0.1490 -0.9888 0.9983 -0.0579 1275.60 238.80)"><rect x="-6.5" y="-3.7" width="13.0" height="8.0" fill="#9a9a9a"/><rect x="-4.8" y="-4.0" width="9.6" height="7.2" fill="#f2f2f2"/><rect x="-3.0" y="-4.0" width="6.0" height="7.2" fill="#4b1fa0"/><rect x="-4.8" y="2.7" width="9.6" height="1" fill="#20302c"/></g>
<text transform="matrix(-0.1470 -0.9891 0.9983 -0.0580 1253.00 242.00)" x="0" y="0" font-size="5.8" fill="#f6f0f0" text-anchor="middle" dominant-baseline="central" font-weight="bold" font-family="Liberation Mono" stroke="#f6f0f0" stroke-width="0.35">10uF</text>
<text transform="matrix(-0.1483 -0.9889 0.9983 -0.0581 1268.00 242.00)" x="0" y="0" font-size="5.8" fill="#f6f0f0" text-anchor="middle" dominant-baseline="central" font-weight="bold" font-family="Liberation Mono" stroke="#f6f0f0" stroke-width="0.35">10uF</text>
<rect transform="matrix(0.9983 -0.0580 0.1500 0.9887 1287.50 238.80)" x="-1.75" y="-3.50" width="3.50" height="7.00" rx="0.00" fill="#e8e8e8" stroke="none" stroke-width="0" />
<text transform="matrix(0.9983 -0.0575 0.1501 0.9887 1287.00 230.60)" x="0" y="0" font-size="6" fill="#f6f0f0" text-anchor="middle" dominant-baseline="central" font-weight="bold" font-family="Liberation Mono" stroke="#f6f0f0" stroke-width="0.35">12V</text>
<g transform="matrix(-0.1507 -0.9886 0.9983 -0.0581 1296.00 240.60)"><rect x="-3.5" y="-1.5" width="2.6" height="3" fill="#b8b8b8"/><rect x="0.9" y="-1.5" width="2.6" height="3" fill="#b8b8b8"/><rect x="-1" y="-1.2" width="2" height="2.4" fill="#3a2a40"/></g>
<polyline points="1262.00,276.00 1262.00,268.00 1312.50,265.60 1318.80,306.00 1267.50,309.40 1266.00,300.00" fill="none" stroke="#f2ecec" stroke-width="1.0" stroke-linejoin="round"/>
<ellipse transform="matrix(0.9982 -0.0594 0.1488 0.9889 1277.50 266.30)" rx="11.30" ry="11.30" fill="#8a8a8a" stroke="none" stroke-width="0"/>
<ellipse transform="matrix(0.9982 -0.0594 0.1488 0.9889 1277.50 266.30)" rx="6.30" ry="6.30" fill="#0e0a14" stroke="none" stroke-width="0"/>
<ellipse transform="matrix(0.9982 -0.0594 0.1488 0.9889 1277.50 266.30)" cx="-1.0" cy="1.0" rx="5.54" ry="5.35" fill="#e6eae8"/>
<ellipse transform="matrix(0.9982 -0.0606 0.1476 0.9890 1267.50 289.40)" rx="13.00" ry="13.00" fill="#8a8a8a" stroke="none" stroke-width="0"/>
<ellipse transform="matrix(0.9982 -0.0606 0.1476 0.9890 1267.50 289.40)" rx="7.20" ry="7.20" fill="#0e0a14" stroke="none" stroke-width="0"/>
<ellipse transform="matrix(0.9982 -0.0606 0.1476 0.9890 1267.50 289.40)" cx="-1.0" cy="1.0" rx="6.34" ry="6.12" fill="#e6eae8"/>
<ellipse transform="matrix(0.9982 -0.0606 0.1502 0.9887 1297.00 287.50)" rx="11.90" ry="11.90" fill="#8a8a8a" stroke="none" stroke-width="0"/>
<ellipse transform="matrix(0.9982 -0.0606 0.1502 0.9887 1297.00 287.50)" rx="6.60" ry="6.60" fill="#0e0a14" stroke="none" stroke-width="0"/>
<ellipse transform="matrix(0.9982 -0.0606 0.1502 0.9887 1297.00 287.50)" cx="-1.0" cy="1.0" rx="5.81" ry="5.61" fill="#e6eae8"/>
<text transform="matrix(0.9982 -0.0592 0.1508 0.9886 1300.00 261.00)" x="0" y="0" font-size="6.2" fill="#f6f0f0" text-anchor="middle" dominant-baseline="central" font-weight="bold" font-family="Liberation Mono" stroke="#f6f0f0" stroke-width="0.35">12Vin</text>
<rect transform="matrix(0.9981 -0.0624 0.1489 0.9889 1287.00 321.30)" x="-12.50" y="-6.00" width="25.00" height="12.00" rx="0.00" fill="none" stroke="#f2ecec" stroke-width="1.0" />
<ellipse transform="matrix(0.9981 -0.0624 0.1483 0.9889 1280.60 321.90)" rx="3.80" ry="3.80" fill="#8a8a8a" stroke="none" stroke-width="0"/>
<ellipse transform="matrix(0.9981 -0.0624 0.1483 0.9889 1280.60 321.90)" rx="2.60" ry="2.60" fill="#151515" stroke="none" stroke-width="0"/>
<ellipse transform="matrix(0.9981 -0.0624 0.1483 0.9889 1280.60 321.90)" cx="-0.6" cy="1.2" rx="1.61" ry="1.09" fill="#d8d8d8"/>
<ellipse transform="matrix(0.9981 -0.0624 0.1494 0.9888 1293.00 320.60)" rx="3.80" ry="3.80" fill="#8a8a8a" stroke="none" stroke-width="0"/>
<ellipse transform="matrix(0.9981 -0.0624 0.1494 0.9888 1293.00 320.60)" rx="2.60" ry="2.60" fill="#151515" stroke="none" stroke-width="0"/>
<ellipse transform="matrix(0.9981 -0.0624 0.1494 0.9888 1293.00 320.60)" cx="-0.6" cy="1.2" rx="1.61" ry="1.09" fill="#d8d8d8"/>
<text transform="matrix(-0.1474 -0.9891 0.9981 -0.0623 1270.00 321.00)" x="0" y="0" font-size="5.8" fill="#f6f0f0" text-anchor="middle" dominant-baseline="central" font-weight="bold" font-family="Liberation Mono" stroke="#f6f0f0" stroke-width="0.35">12V In</text>
<text transform="matrix(0.1503 0.9886 -0.9981 0.0624 1303.80 319.40)" x="0" y="0" font-size="5.8" fill="#f6f0f0" text-anchor="middle" dominant-baseline="central" font-weight="bold" font-family="Liberation Mono" stroke="#f6f0f0" stroke-width="0.35">GND</text>
<g transform="matrix(0.9981 -0.0620 0.1434 0.9897 1222.00 317.00)"><rect x="-3.5" y="-1.5" width="2.6" height="3" fill="#b8b8b8"/><rect x="0.9" y="-1.5" width="2.6" height="3" fill="#b8b8b8"/><rect x="-1" y="-1.2" width="2" height="2.4" fill="#3a2a40"/></g>
<g transform="matrix(0.9981 -0.0619 0.1443 0.9895 1232.00 316.00)"><rect x="-3.5" y="-1.5" width="2.6" height="3" fill="#b8b8b8"/><rect x="0.9" y="-1.5" width="2.6" height="3" fill="#b8b8b8"/><rect x="-1" y="-1.2" width="2" height="2.4" fill="#3a2a40"/></g>
<g transform="matrix(0.9981 -0.0623 0.1433 0.9897 1222.00 324.00)"><rect x="-3.5" y="-1.5" width="2.6" height="3" fill="#b8b8b8"/><rect x="0.9" y="-1.5" width="2.6" height="3" fill="#b8b8b8"/><rect x="-1" y="-1.2" width="2" height="2.4" fill="#3a2a40"/></g>
<g transform="matrix(0.9981 -0.0623 0.1442 0.9896 1232.00 323.00)"><rect x="-3.5" y="-1.5" width="2.6" height="3" fill="#b8b8b8"/><rect x="0.9" y="-1.5" width="2.6" height="3" fill="#b8b8b8"/><rect x="-1" y="-1.2" width="2" height="2.4" fill="#3a2a40"/></g>
<g transform="matrix(0.9980 -0.0627 0.1432 0.9897 1222.00 331.00)"><rect x="-3.5" y="-1.5" width="2.6" height="3" fill="#b8b8b8"/><rect x="0.9" y="-1.5" width="2.6" height="3" fill="#b8b8b8"/><rect x="-1" y="-1.2" width="2" height="2.4" fill="#3a2a40"/></g>
<g transform="matrix(0.9980 -0.0627 0.1441 0.9896 1232.00 330.00)"><rect x="-3.5" y="-1.5" width="2.6" height="3" fill="#b8b8b8"/><rect x="0.9" y="-1.5" width="2.6" height="3" fill="#b8b8b8"/><rect x="-1" y="-1.2" width="2" height="2.4" fill="#3a2a40"/></g>
<rect transform="matrix(0.9979 -0.0646 0.1408 0.9900 1198.32 367.79)" x="-6.50" y="-12.20" width="13.00" height="24.40" rx="0.00" fill="none" stroke="#f2ecec" stroke-width="1.0" />
<ellipse transform="matrix(0.9979 -0.0643 0.1408 0.9900 1197.50 362.00)" rx="4.20" ry="4.20" fill="#8a8a8a" stroke="none" stroke-width="0"/>
<ellipse transform="matrix(0.9979 -0.0643 0.1408 0.9900 1197.50 362.00)" rx="2.70" ry="2.70" fill="#151515" stroke="none" stroke-width="0"/>
<ellipse transform="matrix(0.9979 -0.0643 0.1408 0.9900 1197.50 362.00)" cx="-0.4" cy="1.3" rx="1.8" ry="1.1" fill="#d8d8d8"/>
<ellipse transform="matrix(0.9979 -0.0649 0.1408 0.9900 1199.15 373.58)" rx="4.20" ry="4.20" fill="#8a8a8a" stroke="none" stroke-width="0"/>
<ellipse transform="matrix(0.9979 -0.0649 0.1408 0.9900 1199.15 373.58)" rx="2.70" ry="2.70" fill="#151515" stroke="none" stroke-width="0"/>
<ellipse transform="matrix(0.9979 -0.0649 0.1408 0.9900 1199.15 373.58)" cx="-0.4" cy="1.3" rx="1.8" ry="1.1" fill="#d8d8d8"/>
<text transform="matrix(0.9980 -0.0638 0.1408 0.9900 1197.00 352.50)" x="0" y="0" font-size="6" fill="#f6f0f0" text-anchor="middle" dominant-baseline="central" font-weight="bold" font-family="Liberation Mono" stroke="#f6f0f0" stroke-width="0.35">GND</text>
<text transform="matrix(0.9979 -0.0654 0.1408 0.9900 1200.60 383.00)" x="0" y="0" font-size="6" fill="#f6f0f0" text-anchor="middle" dominant-baseline="central" font-weight="bold" font-family="Liberation Mono" stroke="#f6f0f0" stroke-width="0.35">5V D</text>
<rect transform="matrix(0.9980 -0.0634 0.1423 0.9898 1213.00 345.00)" x="-4.00" y="-2.00" width="8.00" height="4.00" rx="0.00" fill="#e8e8ee" stroke="none" stroke-width="0" />
<text transform="matrix(0.9980 -0.0637 0.1422 0.9898 1212.50 351.00)" x="0" y="0" font-size="6" fill="#f6f0f0" text-anchor="middle" dominant-baseline="central" font-weight="bold" font-family="Liberation Mono" stroke="#f6f0f0" stroke-width="0.35">5V D</text>
<g transform="matrix(0.9980 -0.0631 0.1423 0.9898 1212.00 339.50)"><rect x="-3.5" y="-1.5" width="2.6" height="3" fill="#b8b8b8"/><rect x="0.9" y="-1.5" width="2.6" height="3" fill="#b8b8b8"/><rect x="-1" y="-1.2" width="2" height="2.4" fill="#3a2a40"/></g>
<rect transform="matrix(0.9980 -0.0634 0.1457 0.9893 1252.00 342.00)" x="-4.00" y="-2.00" width="8.00" height="4.00" rx="0.00" fill="#e8e8ee" stroke="none" stroke-width="0" />
<text transform="matrix(0.9980 -0.0637 0.1456 0.9893 1252.00 347.50)" x="0" y="0" font-size="6" fill="#f6f0f0" text-anchor="middle" dominant-baseline="central" font-weight="bold" font-family="Liberation Mono" stroke="#f6f0f0" stroke-width="0.35">5V USB</text>
<g transform="matrix(0.9980 -0.0631 0.1456 0.9893 1251.00 336.00)"><rect x="-3.5" y="-1.5" width="2.6" height="3" fill="#b8b8b8"/><rect x="0.9" y="-1.5" width="2.6" height="3" fill="#b8b8b8"/><rect x="-1" y="-1.2" width="2" height="2.4" fill="#3a2a40"/></g>
<g transform="matrix(-0.1475 -0.9891 0.9980 -0.0636 1274.00 344.00)"><rect x="-6.5" y="-3.7" width="13.0" height="8.0" fill="#9a9a9a"/><rect x="-4.8" y="-4.0" width="9.6" height="7.2" fill="#f2f2f2"/><rect x="-3.0" y="-4.0" width="6.0" height="7.2" fill="#4b1fa0"/><rect x="-4.8" y="2.7" width="9.6" height="1" fill="#20302c"/></g>
<g transform="matrix(-0.1488 -0.9889 0.9980 -0.0635 1289.00 342.00)"><rect x="-6.5" y="-3.7" width="13.0" height="8.0" fill="#9a9a9a"/><rect x="-4.8" y="-4.0" width="9.6" height="7.2" fill="#f2f2f2"/><rect x="-3.0" y="-4.0" width="6.0" height="7.2" fill="#4b1fa0"/><rect x="-4.8" y="2.7" width="9.6" height="1" fill="#20302c"/></g>
<text transform="matrix(0.9979 -0.0643 0.1448 0.9895 1244.40 358.50)" x="0" y="0" font-size="6.2" fill="#f6f0f0" text-anchor="middle" dominant-baseline="central" font-weight="bold" font-family="Liberation Mono" stroke="#f6f0f0" stroke-width="0.35">P-MOS AO3401A</text>
<g transform="matrix(-0.1435 -0.9896 0.9979 -0.0649 1231.00 371.00)"><rect x="-6" y="-4.5" width="3.5" height="3" fill="#8a8a8a"/><rect x="-6" y="1.5" width="3.5" height="3" fill="#8a8a8a"/><rect x="3" y="-1.5" width="3.5" height="3" fill="#8a8a8a"/><rect x="-3.2" y="-4.5" width="6.6" height="10" fill="#2a2b2b"/><circle cx="-5" cy="-3.5" r="1" fill="#40d0b0"/></g>
<g transform="matrix(0.9979 -0.0646 0.1454 0.9894 1252.00 365.00)"><rect x="-7.0" y="-3.7" width="14.0" height="8.0" fill="#9a9a9a"/><rect x="-5.3" y="-4.0" width="10.6" height="7.2" fill="#f2f2f2"/><rect x="-3.5" y="-4.0" width="7.0" height="7.2" fill="#4b1fa0"/><rect x="-5.3" y="2.7" width="10.6" height="1" fill="#20302c"/></g>
<g transform="matrix(0.9979 -0.0652 0.1454 0.9894 1254.00 375.60)"><rect x="-3.5" y="-1.5" width="2.6" height="3" fill="#b8b8b8"/><rect x="0.9" y="-1.5" width="2.6" height="3" fill="#b8b8b8"/><rect x="-1" y="-1.2" width="2" height="2.4" fill="#3a2a40"/></g>
<g transform="matrix(-0.1466 -0.9892 0.9979 -0.0650 1267.50 370.00)"><rect x="-6.5" y="-3.7" width="13.0" height="8.0" fill="#9a9a9a"/><rect x="-4.8" y="-4.0" width="9.6" height="7.2" fill="#f2f2f2"/><rect x="-3.0" y="-4.0" width="6.0" height="7.2" fill="#4b1fa0"/><rect x="-4.8" y="2.7" width="9.6" height="1" fill="#20302c"/></g>
<text transform="matrix(0.9978 -0.0656 0.1453 0.9894 1254.00 382.50)" x="0" y="0" font-size="6" fill="#f6f0f0" text-anchor="middle" dominant-baseline="central" font-weight="bold" font-family="Liberation Mono" stroke="#f6f0f0" stroke-width="0.35">50mΩ 220Ω@100MHz 0603</text>
<text transform="matrix(0.9978 -0.0663 0.1469 0.9892 1274.00 394.40)" x="0" y="0" font-size="6" fill="#f6f0f0" text-anchor="middle" dominant-baseline="central" font-weight="bold" font-family="Liberation Mono" stroke="#f6f0f0" stroke-width="0.35">5.1k</text>
<g transform="matrix(0.9978 -0.0660 0.1468 0.9892 1273.00 389.00)"><rect x="-3.5" y="-1.5" width="2.6" height="3" fill="#b8b8b8"/><rect x="0.9" y="-1.5" width="2.6" height="3" fill="#b8b8b8"/><rect x="-1" y="-1.2" width="2" height="2.4" fill="#3a2a40"/></g>
<text transform="matrix(0.9977 -0.0676 0.1468 0.9892 1277.50 418.80)" x="0" y="0" font-size="6" fill="#f6f0f0" text-anchor="middle" dominant-baseline="central" font-weight="bold" font-family="Liberation Mono" stroke="#f6f0f0" stroke-width="0.35">5.1k</text>
<g transform="matrix(0.9977 -0.0673 0.1468 0.9892 1276.00 413.00)"><rect x="-3.5" y="-1.5" width="2.6" height="3" fill="#b8b8b8"/><rect x="0.9" y="-1.5" width="2.6" height="3" fill="#b8b8b8"/><rect x="-1" y="-1.2" width="2" height="2.4" fill="#3a2a40"/></g>
<g transform="matrix(0.9979 -0.0651 0.1391 0.9903 1180.00 377.50)"><rect x="-7.0" y="-3.7" width="14.0" height="8.0" fill="#9a9a9a"/><rect x="-5.3" y="-4.0" width="10.6" height="7.2" fill="#f2f2f2"/><rect x="-3.5" y="-4.0" width="7.0" height="7.2" fill="#4b1fa0"/><rect x="-5.3" y="2.7" width="10.6" height="1" fill="#20302c"/></g>
<g transform="matrix(0.9978 -0.0657 0.1390 0.9903 1180.60 388.80)"><rect x="-7.0" y="-3.7" width="14.0" height="8.0" fill="#9a9a9a"/><rect x="-5.3" y="-4.0" width="10.6" height="7.2" fill="#f2f2f2"/><rect x="-3.5" y="-4.0" width="7.0" height="7.2" fill="#4b1fa0"/><rect x="-5.3" y="2.7" width="10.6" height="1" fill="#20302c"/></g>
<g transform="matrix(0.9979 -0.0653 0.1492 0.9888 1298.50 374.00)"><rect x="-3.5" y="-1.5" width="2.6" height="3" fill="#b8b8b8"/><rect x="0.9" y="-1.5" width="2.6" height="3" fill="#b8b8b8"/><rect x="-1" y="-1.2" width="2" height="2.4" fill="#3a2a40"/></g>
<g transform="matrix(0.9979 -0.0655 0.1492 0.9888 1298.95 378.30)"><rect x="-3.5" y="-1.5" width="2.6" height="3" fill="#b8b8b8"/><rect x="0.9" y="-1.5" width="2.6" height="3" fill="#b8b8b8"/><rect x="-1" y="-1.2" width="2" height="2.4" fill="#3a2a40"/></g>
<g transform="matrix(0.9978 -0.0657 0.1492 0.9888 1299.40 382.60)"><rect x="-3.5" y="-1.5" width="2.6" height="3" fill="#b8b8b8"/><rect x="0.9" y="-1.5" width="2.6" height="3" fill="#b8b8b8"/><rect x="-1" y="-1.2" width="2" height="2.4" fill="#3a2a40"/></g>
<g transform="matrix(0.9978 -0.0660 0.1491 0.9888 1299.85 386.90)"><rect x="-3.5" y="-1.5" width="2.6" height="3" fill="#b8b8b8"/><rect x="0.9" y="-1.5" width="2.6" height="3" fill="#b8b8b8"/><rect x="-1" y="-1.2" width="2" height="2.4" fill="#3a2a40"/></g>
<g transform="matrix(0.9978 -0.0662 0.1491 0.9888 1300.30 391.20)"><rect x="-3.5" y="-1.5" width="2.6" height="3" fill="#b8b8b8"/><rect x="0.9" y="-1.5" width="2.6" height="3" fill="#b8b8b8"/><rect x="-1" y="-1.2" width="2" height="2.4" fill="#3a2a40"/></g>
<g transform="matrix(0.9978 -0.0664 0.1491 0.9888 1300.75 395.50)"><rect x="-3.5" y="-1.5" width="2.6" height="3" fill="#b8b8b8"/><rect x="0.9" y="-1.5" width="2.6" height="3" fill="#b8b8b8"/><rect x="-1" y="-1.2" width="2" height="2.4" fill="#3a2a40"/></g>
<g transform="matrix(0.9978 -0.0667 0.1491 0.9888 1301.20 399.80)"><rect x="-3.5" y="-1.5" width="2.6" height="3" fill="#b8b8b8"/><rect x="0.9" y="-1.5" width="2.6" height="3" fill="#b8b8b8"/><rect x="-1" y="-1.2" width="2" height="2.4" fill="#3a2a40"/></g>
<g transform="matrix(0.9978 -0.0669 0.1491 0.9888 1301.65 404.10)"><rect x="-3.5" y="-1.5" width="2.6" height="3" fill="#b8b8b8"/><rect x="0.9" y="-1.5" width="2.6" height="3" fill="#b8b8b8"/><rect x="-1" y="-1.2" width="2" height="2.4" fill="#3a2a40"/></g>
<g transform="matrix(0.9977 -0.0671 0.1491 0.9888 1302.10 408.40)"><rect x="-3.5" y="-1.5" width="2.6" height="3" fill="#b8b8b8"/><rect x="0.9" y="-1.5" width="2.6" height="3" fill="#b8b8b8"/><rect x="-1" y="-1.2" width="2" height="2.4" fill="#3a2a40"/></g>
<g transform="matrix(0.9977 -0.0674 0.1490 0.9888 1302.55 412.70)"><rect x="-3.5" y="-1.5" width="2.6" height="3" fill="#b8b8b8"/><rect x="0.9" y="-1.5" width="2.6" height="3" fill="#b8b8b8"/><rect x="-1" y="-1.2" width="2" height="2.4" fill="#3a2a40"/></g>
<polygon points="1303,369 1345,366 1349,412 1306,415" fill="#cdcdd2" stroke="#55555c" stroke-width="0.7"/>
<polygon points="1297,372 1305,369.5 1309,415.5 1300,418" fill="#151518"/>
<path transform="matrix(0.9978 -0.0657 0.1523 0.9883 1336.00 380.00)" d="M5.5,-3.8 H-5 V3.8 H5.5" fill="#c8b4e0" stroke="#2c2438" stroke-width="1.3"/>
<path transform="matrix(0.9978 -0.0666 0.1522 0.9883 1337.92 396.00)" d="M5.5,-3.8 H-5 V3.8 H5.5" fill="#c8b4e0" stroke="#2c2438" stroke-width="1.3"/>
<path transform="matrix(0.9978 -0.0657 0.1502 0.9887 1311.00 381.00)" d="M2,-2.5 H-1.5 V2.5 H2" fill="none" stroke="#222" stroke-width="1.1"/>
<path transform="matrix(0.9978 -0.0667 0.1501 0.9887 1313.16 399.00)" d="M2,-2.5 H-1.5 V2.5 H2" fill="none" stroke="#222" stroke-width="1.1"/>
<g transform="matrix(0.9978 -0.0662 0.1505 0.9886 1316.00 390.00)"><path d="M0,-6 V5 M0,0 L-2.5,-3 M0,2 L2.5,-1" stroke="#555" stroke-width="0.9" fill="none"/></g>
<ellipse transform="matrix(0.9979 -0.0653 0.1501 0.9887 1309.00 373.50)" rx="1.40" ry="1.40" fill="#40d0b0" stroke="none" stroke-width="0"/>
<ellipse transform="matrix(0.9978 -0.0670 0.1501 0.9887 1314.00 405.00)" rx="1.40" ry="1.40" fill="#40d0b0" stroke="none" stroke-width="0"/>
<rect transform="matrix(0.9977 -0.0677 0.1501 0.9887 1316.00 418.00)" x="-3.50" y="-1.00" width="7.00" height="2.00" rx="0.00" fill="#f0f0f0" stroke="none" stroke-width="0" />
<rect transform="matrix(0.9977 -0.0676 0.1516 0.9884 1333.00 414.50)" x="-4.50" y="-2.00" width="9.00" height="4.00" rx="0.00" fill="#3a3a3a" stroke="none" stroke-width="0" />
<text transform="matrix(0.9976 -0.0685 0.1472 0.9891 1284.00 435.60)" x="0" y="0" font-size="6.2" fill="#f6f0f0" text-anchor="middle" dominant-baseline="central" font-weight="bold" font-family="Liberation Mono" stroke="#f6f0f0" stroke-width="0.35">JTAG</text>
<polyline points="1277.00,439.00 1320.00,437.00 1334.00,533.00 1291.00,536.00 1277.00,439.00" fill="none" stroke="#f2ecec" stroke-width="1.0" stroke-linejoin="round"/>
<polyline points="1283.50,476.50 1290.50,476.00 1293.00,496.50 1286.50,497.00" fill="none" stroke="#f2ecec" stroke-width="1.0" stroke-linejoin="round"/>
<ellipse transform="matrix(0.9975 -0.0700 0.1479 0.9890 1296.00 462.00)" rx="4.40" ry="4.40" fill="#8a8a8a" stroke="none" stroke-width="0"/>
<ellipse transform="matrix(0.9975 -0.0700 0.1479 0.9890 1296.00 462.00)" rx="2.90" ry="2.90" fill="#151515" stroke="none" stroke-width="0"/>
<ellipse transform="matrix(0.9975 -0.0700 0.1479 0.9890 1296.00 462.00)" cx="-0.6" cy="1.2" rx="1.80" ry="1.22" fill="#d8d8d8"/>
<ellipse transform="matrix(0.9975 -0.0700 0.1489 0.9889 1308.00 461.00)" rx="4.40" ry="4.40" fill="#8a8a8a" stroke="none" stroke-width="0"/>
<ellipse transform="matrix(0.9975 -0.0700 0.1489 0.9889 1308.00 461.00)" rx="2.90" ry="2.90" fill="#151515" stroke="none" stroke-width="0"/>
<ellipse transform="matrix(0.9975 -0.0700 0.1489 0.9889 1308.00 461.00)" cx="-0.6" cy="1.2" rx="1.80" ry="1.22" fill="#d8d8d8"/>
<ellipse transform="matrix(0.9975 -0.0707 0.1479 0.9890 1298.00 474.00)" rx="4.40" ry="4.40" fill="#8a8a8a" stroke="none" stroke-width="0"/>
<ellipse transform="matrix(0.9975 -0.0707 0.1479 0.9890 1298.00 474.00)" rx="2.90" ry="2.90" fill="#151515" stroke="none" stroke-width="0"/>
<ellipse transform="matrix(0.9975 -0.0707 0.1479 0.9890 1298.00 474.00)" cx="-0.6" cy="1.2" rx="1.80" ry="1.22" fill="#d8d8d8"/>
<ellipse transform="matrix(0.9975 -0.0707 0.1489 0.9889 1309.60 473.60)" rx="4.40" ry="4.40" fill="#8a8a8a" stroke="none" stroke-width="0"/>
<ellipse transform="matrix(0.9975 -0.0707 0.1489 0.9889 1309.60 473.60)" rx="2.90" ry="2.90" fill="#151515" stroke="none" stroke-width="0"/>
<ellipse transform="matrix(0.9975 -0.0707 0.1489 0.9889 1309.60 473.60)" cx="-0.6" cy="1.2" rx="1.80" ry="1.22" fill="#d8d8d8"/>
<ellipse transform="matrix(0.9975 -0.0713 0.1479 0.9890 1299.60 486.60)" rx="4.40" ry="4.40" fill="#8a8a8a" stroke="none" stroke-width="0"/>
<ellipse transform="matrix(0.9975 -0.0713 0.1479 0.9890 1299.60 486.60)" rx="2.90" ry="2.90" fill="#151515" stroke="none" stroke-width="0"/>
<ellipse transform="matrix(0.9975 -0.0713 0.1479 0.9890 1299.60 486.60)" cx="-0.6" cy="1.2" rx="1.80" ry="1.22" fill="#d8d8d8"/>
<ellipse transform="matrix(0.9975 -0.0714 0.1489 0.9889 1311.60 486.00)" rx="4.40" ry="4.40" fill="#8a8a8a" stroke="none" stroke-width="0"/>
<ellipse transform="matrix(0.9975 -0.0714 0.1489 0.9889 1311.60 486.00)" rx="2.90" ry="2.90" fill="#151515" stroke="none" stroke-width="0"/>
<ellipse transform="matrix(0.9975 -0.0714 0.1489 0.9889 1311.60 486.00)" cx="-0.6" cy="1.2" rx="1.80" ry="1.22" fill="#d8d8d8"/>
<ellipse transform="matrix(0.9974 -0.0720 0.1478 0.9890 1301.00 498.60)" rx="4.40" ry="4.40" fill="#8a8a8a" stroke="none" stroke-width="0"/>
<ellipse transform="matrix(0.9974 -0.0720 0.1478 0.9890 1301.00 498.60)" rx="2.90" ry="2.90" fill="#151515" stroke="none" stroke-width="0"/>
<ellipse transform="matrix(0.9974 -0.0720 0.1478 0.9890 1301.00 498.60)" cx="-0.6" cy="1.2" rx="1.80" ry="1.22" fill="#d8d8d8"/>
<ellipse transform="matrix(0.9974 -0.0720 0.1488 0.9889 1313.00 498.00)" rx="4.40" ry="4.40" fill="#8a8a8a" stroke="none" stroke-width="0"/>
<ellipse transform="matrix(0.9974 -0.0720 0.1488 0.9889 1313.00 498.00)" rx="2.90" ry="2.90" fill="#151515" stroke="none" stroke-width="0"/>
<ellipse transform="matrix(0.9974 -0.0720 0.1488 0.9889 1313.00 498.00)" cx="-0.6" cy="1.2" rx="1.80" ry="1.22" fill="#d8d8d8"/>
<ellipse transform="matrix(0.9974 -0.0727 0.1478 0.9890 1303.00 511.00)" rx="4.40" ry="4.40" fill="#8a8a8a" stroke="none" stroke-width="0"/>
<ellipse transform="matrix(0.9974 -0.0727 0.1478 0.9890 1303.00 511.00)" rx="2.90" ry="2.90" fill="#151515" stroke="none" stroke-width="0"/>
<ellipse transform="matrix(0.9974 -0.0727 0.1478 0.9890 1303.00 511.00)" cx="-0.6" cy="1.2" rx="1.80" ry="1.22" fill="#d8d8d8"/>
<ellipse transform="matrix(0.9974 -0.0727 0.1489 0.9889 1315.00 510.00)" rx="4.40" ry="4.40" fill="#8a8a8a" stroke="none" stroke-width="0"/>
<ellipse transform="matrix(0.9974 -0.0727 0.1489 0.9889 1315.00 510.00)" rx="2.90" ry="2.90" fill="#151515" stroke="none" stroke-width="0"/>
<ellipse transform="matrix(0.9974 -0.0727 0.1489 0.9889 1315.00 510.00)" cx="-0.6" cy="1.2" rx="1.80" ry="1.22" fill="#d8d8d8"/>
<line x1="1288.00" y1="462.00" x2="1289.00" y2="468.00" stroke="#f4eeee" stroke-width="1.0"/>
<g transform="matrix(-0.1456 -0.9893 0.9975 -0.0702 1270.00 468.00)"><rect x="-3.5" y="-1.5" width="2.6" height="3" fill="#b8b8b8"/><rect x="0.9" y="-1.5" width="2.6" height="3" fill="#b8b8b8"/><rect x="-1" y="-1.2" width="2" height="2.4" fill="#3a2a40"/></g>
<g transform="matrix(-0.1450 -0.9894 0.9975 -0.0709 1265.00 481.00)"><rect x="-3.5" y="-1.5" width="2.6" height="3" fill="#b8b8b8"/><rect x="0.9" y="-1.5" width="2.6" height="3" fill="#b8b8b8"/><rect x="-1" y="-1.2" width="2" height="2.4" fill="#3a2a40"/></g>
<g transform="matrix(-0.1456 -0.9893 0.9975 -0.0709 1272.00 481.00)"><rect x="-3.5" y="-1.5" width="2.6" height="3" fill="#b8b8b8"/><rect x="0.9" y="-1.5" width="2.6" height="3" fill="#b8b8b8"/><rect x="-1" y="-1.2" width="2" height="2.4" fill="#3a2a40"/></g>
<g transform="matrix(-0.1462 -0.9893 0.9975 -0.0710 1279.00 481.00)"><rect x="-3.5" y="-1.5" width="2.6" height="3" fill="#b8b8b8"/><rect x="0.9" y="-1.5" width="2.6" height="3" fill="#b8b8b8"/><rect x="-1" y="-1.2" width="2" height="2.4" fill="#3a2a40"/></g>
<polyline points="1203.00,464.50 1213.00,464.00 1216.00,469.00 1230.00,468.00 1230.00,462.50 1245.00,462.00 1248.00,494.00 1207.00,495.50 1203.00,464.50" fill="none" stroke="#f2ecec" stroke-width="1.0" stroke-linejoin="round"/>
<ellipse transform="matrix(0.9975 -0.0706 0.1411 0.9900 1218.00 478.00)" rx="6.20" ry="6.20" fill="none" stroke="#f2ecec" stroke-width="0.9"/>
<ellipse transform="matrix(0.9975 -0.0706 0.1422 0.9898 1231.00 477.60)" rx="6.20" ry="6.20" fill="none" stroke="#f2ecec" stroke-width="0.9"/>
<ellipse transform="matrix(0.9975 -0.0706 0.1411 0.9900 1218.00 478.00)" rx="4.60" ry="4.60" fill="#8a8a8a" stroke="none" stroke-width="0"/>
<ellipse transform="matrix(0.9975 -0.0706 0.1411 0.9900 1218.00 478.00)" rx="2.60" ry="2.60" fill="#121212" stroke="none" stroke-width="0"/>
<ellipse transform="matrix(0.9975 -0.0706 0.1411 0.9900 1218.00 478.00)" cx="-0.3" cy="0.9" rx="2.21" ry="1.87" fill="#e4e8e6"/>
<ellipse transform="matrix(0.9975 -0.0706 0.1422 0.9898 1231.00 477.60)" rx="4.60" ry="4.60" fill="#8a8a8a" stroke="none" stroke-width="0"/>
<ellipse transform="matrix(0.9975 -0.0706 0.1422 0.9898 1231.00 477.60)" rx="2.60" ry="2.60" fill="#121212" stroke="none" stroke-width="0"/>
<ellipse transform="matrix(0.9975 -0.0706 0.1422 0.9898 1231.00 477.60)" cx="-0.3" cy="0.9" rx="2.21" ry="1.87" fill="#e4e8e6"/>
<text transform="matrix(0.9974 -0.0719 0.1417 0.9899 1228.00 502.00)" x="0" y="0" font-size="7.5" fill="#f6f0f0" text-anchor="middle" dominant-baseline="central" font-weight="normal" font-family="Liberation Sans" stroke="#f6f0f0" stroke-width="0.35">+ Fan –</text>
<rect transform="matrix(0.9975 -0.0707 0.1379 0.9904 1180.87 482.24)" x="-6.50" y="-13.10" width="13.00" height="26.20" rx="0.00" fill="none" stroke="#f2ecec" stroke-width="1.0" />
<ellipse transform="matrix(0.9975 -0.0703 0.1379 0.9904 1180.00 476.00)" rx="4.20" ry="4.20" fill="#8a8a8a" stroke="none" stroke-width="0"/>
<ellipse transform="matrix(0.9975 -0.0703 0.1379 0.9904 1180.00 476.00)" rx="2.70" ry="2.70" fill="#151515" stroke="none" stroke-width="0"/>
<ellipse transform="matrix(0.9975 -0.0703 0.1379 0.9904 1180.00 476.00)" cx="-0.4" cy="1.3" rx="1.8" ry="1.1" fill="#d8d8d8"/>
<ellipse transform="matrix(0.9975 -0.0710 0.1379 0.9904 1181.74 488.48)" rx="4.20" ry="4.20" fill="#8a8a8a" stroke="none" stroke-width="0"/>
<ellipse transform="matrix(0.9975 -0.0710 0.1379 0.9904 1181.74 488.48)" rx="2.70" ry="2.70" fill="#151515" stroke="none" stroke-width="0"/>
<ellipse transform="matrix(0.9975 -0.0710 0.1379 0.9904 1181.74 488.48)" cx="-0.4" cy="1.3" rx="1.8" ry="1.1" fill="#d8d8d8"/>
<text transform="matrix(0.9976 -0.0698 0.1380 0.9904 1179.00 465.50)" x="0" y="0" font-size="6" fill="#f6f0f0" text-anchor="middle" dominant-baseline="central" font-weight="bold" font-family="Liberation Mono" stroke="#f6f0f0" stroke-width="0.35">5V</text>
<text transform="matrix(0.9974 -0.0716 0.1379 0.9904 1183.00 500.00)" x="0" y="0" font-size="6" fill="#f6f0f0" text-anchor="middle" dominant-baseline="central" font-weight="bold" font-family="Liberation Mono" stroke="#f6f0f0" stroke-width="0.35">GND</text>
<g transform="matrix(-0.1417 -0.9899 0.9974 -0.0726 1231.00 516.00)"><rect x="-6" y="-4.5" width="3.5" height="3" fill="#8a8a8a"/><rect x="-6" y="1.5" width="3.5" height="3" fill="#8a8a8a"/><rect x="3" y="-1.5" width="3.5" height="3" fill="#8a8a8a"/><rect x="-3.2" y="-4.5" width="6.6" height="10" fill="#2a2b2b"/><circle cx="-5" cy="-3.5" r="1" fill="#40d0b0"/></g>
<text transform="matrix(0.9973 -0.0732 0.1416 0.9899 1231.00 526.00)" x="0" y="0" font-size="5.6" fill="#f6f0f0" text-anchor="middle" dominant-baseline="central" font-weight="bold" font-family="Liberation Mono" stroke="#f6f0f0" stroke-width="0.35">Q1</text>
<rect transform="matrix(0.9974 -0.0725 0.1379 0.9904 1185.50 516.50)" x="-1.75" y="-4.00" width="3.50" height="8.00" rx="0.00" fill="#e8e8e8" stroke="none" stroke-width="0" />
<text transform="matrix(-0.1373 -0.9905 0.9974 -0.0724 1178.00 516.00)" x="0" y="0" font-size="5.6" fill="#f6f0f0" text-anchor="middle" dominant-baseline="central" font-weight="bold" font-family="Liberation Mono" stroke="#f6f0f0" stroke-width="0.35">Fan</text>
<g transform="matrix(0.9974 -0.0726 0.1385 0.9904 1193.00 517.00)"><rect x="-3.5" y="-1.5" width="2.6" height="3" fill="#b8b8b8"/><rect x="0.9" y="-1.5" width="2.6" height="3" fill="#b8b8b8"/><rect x="-1" y="-1.2" width="2" height="2.4" fill="#3a2a40"/></g>
<g transform="matrix(-0.1392 -0.9903 0.9974 -0.0725 1201.00 516.00)"><rect x="-4.5" y="-3.0" width="9.0" height="6.0" fill="none" stroke="#f0e6e6" stroke-width="0.9"/><rect x="-3.2" y="-1.6" width="2.4" height="3.2" fill="#b8b8b8"/><rect x="0.8" y="-1.6" width="2.4" height="3.2" fill="#b8b8b8"/><rect x="-1.6" y="-1.5" width="3.2" height="3" fill="#3a2a5a"/></g>
<text transform="matrix(0.9967 -0.0817 0.1506 0.9886 1361.00 674.00)" x="0" y="0" font-size="6" fill="#f6f0f0" text-anchor="middle" dominant-baseline="central" font-weight="bold" font-family="Liberation Mono" stroke="#f6f0f0" stroke-width="0.35">EXTTRIGIN</text>
<rect transform="matrix(0.9966 -0.0827 0.1511 0.9885 1370.00 692.50)" x="-10.00" y="-3.00" width="20.00" height="6.00" rx="0.00" fill="#8e8e8e" stroke="none" stroke-width="0" />
<rect transform="matrix(0.9965 -0.0834 0.1511 0.9885 1372.00 705.00)" x="-10.00" y="-1.75" width="20.00" height="3.50" rx="0.00" fill="#8e8e8e" stroke="none" stroke-width="0" />
<rect transform="matrix(0.9965 -0.0840 0.1511 0.9885 1374.00 717.00)" x="-10.00" y="-3.75" width="20.00" height="7.50" rx="0.00" fill="#8e8e8e" stroke="none" stroke-width="0" />
<g transform="matrix(-0.1495 -0.9888 0.9966 -0.0823 1349.00 686.00)"><rect x="-3.5" y="-1.5" width="2.6" height="3" fill="#b8b8b8"/><rect x="0.9" y="-1.5" width="2.6" height="3" fill="#b8b8b8"/><rect x="-1" y="-1.2" width="2" height="2.4" fill="#3a2a40"/></g>
<g transform="matrix(-0.1495 -0.9888 0.9966 -0.0826 1350.00 693.00)"><rect x="-3.5" y="-1.5" width="2.6" height="3" fill="#b8b8b8"/><rect x="0.9" y="-1.5" width="2.6" height="3" fill="#b8b8b8"/><rect x="-1" y="-1.2" width="2" height="2.4" fill="#3a2a40"/></g>
<g transform="matrix(-0.1494 -0.9888 0.9965 -0.0835 1352.00 709.00)"><rect x="-3.5" y="-1.5" width="2.6" height="3" fill="#b8b8b8"/><rect x="0.9" y="-1.5" width="2.6" height="3" fill="#b8b8b8"/><rect x="-1" y="-1.2" width="2" height="2.4" fill="#3a2a40"/></g>
<g transform="matrix(-0.1494 -0.9888 0.9965 -0.0839 1353.00 716.00)"><rect x="-3.5" y="-1.5" width="2.6" height="3" fill="#b8b8b8"/><rect x="0.9" y="-1.5" width="2.6" height="3" fill="#b8b8b8"/><rect x="-1" y="-1.2" width="2" height="2.4" fill="#3a2a40"/></g>
<rect transform="matrix(0.9972 -0.0751 0.1205 0.9927 986.22 580.96)" x="-6.50" y="-12.50" width="13.00" height="25.00" rx="0.00" fill="none" stroke="#f2ecec" stroke-width="1.0" />
<ellipse transform="matrix(0.9972 -0.0748 0.1205 0.9927 985.50 575.00)" rx="4.20" ry="4.20" fill="#8a8a8a" stroke="none" stroke-width="0"/>
<ellipse transform="matrix(0.9972 -0.0748 0.1205 0.9927 985.50 575.00)" rx="2.70" ry="2.70" fill="#151515" stroke="none" stroke-width="0"/>
<ellipse transform="matrix(0.9972 -0.0748 0.1205 0.9927 985.50 575.00)" cx="-0.4" cy="1.3" rx="1.8" ry="1.1" fill="#d8d8d8"/>
<ellipse transform="matrix(0.9971 -0.0755 0.1205 0.9927 986.95 586.91)" rx="4.20" ry="4.20" fill="#8a8a8a" stroke="none" stroke-width="0"/>
<ellipse transform="matrix(0.9971 -0.0755 0.1205 0.9927 986.95 586.91)" rx="2.70" ry="2.70" fill="#151515" stroke="none" stroke-width="0"/>
<ellipse transform="matrix(0.9971 -0.0755 0.1205 0.9927 986.95 586.91)" cx="-0.4" cy="1.3" rx="1.8" ry="1.1" fill="#d8d8d8"/>
<text transform="matrix(0.9972 -0.0748 0.1191 0.9929 969.00 575.00)" x="0" y="0" font-size="6" fill="#f6f0f0" text-anchor="middle" dominant-baseline="central" font-weight="bold" font-family="Liberation Mono" stroke="#f6f0f0" stroke-width="0.35">2.5VD</text>
<text transform="matrix(0.9972 -0.0751 0.1188 0.9929 966.50 581.50)" x="0" y="0" font-size="6" fill="#f6f0f0" text-anchor="middle" dominant-baseline="central" font-weight="bold" font-family="Liberation Mono" stroke="#f6f0f0" stroke-width="0.35">out</text>
<text transform="matrix(0.9972 -0.0754 0.1189 0.9929 968.00 587.50)" x="0" y="0" font-size="6" fill="#f6f0f0" text-anchor="middle" dominant-baseline="central" font-weight="bold" font-family="Liberation Mono" stroke="#f6f0f0" stroke-width="0.35">GND</text>
<g transform="matrix(-0.1216 -0.9926 0.9972 -0.0751 1000.00 580.00)"><rect x="-3.8" y="-2.2" width="7.6" height="4.4" fill="#9a9a9a"/><rect x="-2.8" y="-2.2" width="5.6" height="3.6" fill="#eeeeee"/><rect x="-1.4" y="-2.2" width="2.8" height="3.6" fill="#4b1fa0"/></g>
<g transform="matrix(-0.1227 -0.9924 0.9972 -0.0751 1012.50 577.50)"><rect x="-6.5" y="-3.7" width="13.0" height="8.0" fill="#9a9a9a"/><rect x="-4.8" y="-4.0" width="9.6" height="7.2" fill="#f2f2f2"/><rect x="-3.0" y="-4.0" width="6.0" height="7.2" fill="#4b1fa0"/><rect x="-4.8" y="2.7" width="9.6" height="1" fill="#20302c"/></g>
<g transform="matrix(-0.1237 -0.9923 0.9972 -0.0751 1024.50 577.00)"><rect x="-3.8" y="-2.2" width="7.6" height="4.4" fill="#9a9a9a"/><rect x="-2.8" y="-2.2" width="5.6" height="3.6" fill="#eeeeee"/><rect x="-1.4" y="-2.2" width="2.8" height="3.6" fill="#4b1fa0"/></g>
<g transform="matrix(0.9972 -0.0751 0.1254 0.9921 1043.80 575.30)"><rect x="-8.3" y="-8.3" width="16.6" height="16.6" fill="#6a6a6a"/><rect x="-7.5" y="-7.5" width="15.0" height="15.0" fill="#2e2f2f"/><circle cx="-6.0" cy="-6.0" r="0.9" fill="#40d0b0"/></g>
<rect transform="matrix(0.9971 -0.0763 0.1278 0.9918 1074.77 595.95)" x="-6.50" y="-12.50" width="13.00" height="25.00" rx="0.00" fill="none" stroke="#f2ecec" stroke-width="1.0" />
<ellipse transform="matrix(0.9971 -0.0760 0.1278 0.9918 1074.00 590.00)" rx="4.20" ry="4.20" fill="#8a8a8a" stroke="none" stroke-width="0"/>
<ellipse transform="matrix(0.9971 -0.0760 0.1278 0.9918 1074.00 590.00)" rx="2.70" ry="2.70" fill="#151515" stroke="none" stroke-width="0"/>
<ellipse transform="matrix(0.9971 -0.0760 0.1278 0.9918 1074.00 590.00)" cx="-0.4" cy="1.3" rx="1.8" ry="1.1" fill="#d8d8d8"/>
<ellipse transform="matrix(0.9971 -0.0766 0.1278 0.9918 1075.53 601.90)" rx="4.20" ry="4.20" fill="#8a8a8a" stroke="none" stroke-width="0"/>
<ellipse transform="matrix(0.9971 -0.0766 0.1278 0.9918 1075.53 601.90)" rx="2.70" ry="2.70" fill="#151515" stroke="none" stroke-width="0"/>
<ellipse transform="matrix(0.9971 -0.0766 0.1278 0.9918 1075.53 601.90)" cx="-0.4" cy="1.3" rx="1.8" ry="1.1" fill="#d8d8d8"/>
<text transform="matrix(-0.1271 -0.9919 0.9972 -0.0752 1065.00 576.00)" x="0" y="0" font-size="5.6" fill="#f6f0f0" text-anchor="middle" dominant-baseline="central" font-weight="bold" font-family="Liberation Mono" stroke="#f6f0f0" stroke-width="0.35">0.1uF</text>
<g transform="matrix(-0.1278 -0.9918 0.9972 -0.0750 1072.00 571.00)"><rect x="-3.8" y="-2.2" width="7.6" height="4.4" fill="#9a9a9a"/><rect x="-2.8" y="-2.2" width="5.6" height="3.6" fill="#eeeeee"/><rect x="-1.4" y="-2.2" width="2.8" height="3.6" fill="#4b1fa0"/></g>
<text transform="matrix(0.9971 -0.0760 0.1266 0.9920 1060.00 591.00)" x="0" y="0" font-size="6" fill="#f6f0f0" text-anchor="middle" dominant-baseline="central" font-weight="bold" font-family="Liberation Mono" stroke="#f6f0f0" stroke-width="0.35">1.1VD</text>
<rect transform="matrix(0.9969 -0.0791 0.1205 0.9927 995.25 654.70)" x="-6.50" y="-13.00" width="13.00" height="26.00" rx="0.00" fill="none" stroke="#f2ecec" stroke-width="1.0" />
<ellipse transform="matrix(0.9969 -0.0787 0.1205 0.9927 994.50 648.50)" rx="4.20" ry="4.20" fill="#8a8a8a" stroke="none" stroke-width="0"/>
<ellipse transform="matrix(0.9969 -0.0787 0.1205 0.9927 994.50 648.50)" rx="2.70" ry="2.70" fill="#151515" stroke="none" stroke-width="0"/>
<ellipse transform="matrix(0.9969 -0.0787 0.1205 0.9927 994.50 648.50)" cx="-0.4" cy="1.3" rx="1.8" ry="1.1" fill="#d8d8d8"/>
<ellipse transform="matrix(0.9968 -0.0794 0.1205 0.9927 996.01 660.91)" rx="4.20" ry="4.20" fill="#8a8a8a" stroke="none" stroke-width="0"/>
<ellipse transform="matrix(0.9968 -0.0794 0.1205 0.9927 996.01 660.91)" rx="2.70" ry="2.70" fill="#151515" stroke="none" stroke-width="0"/>
<ellipse transform="matrix(0.9968 -0.0794 0.1205 0.9927 996.01 660.91)" cx="-0.4" cy="1.3" rx="1.8" ry="1.1" fill="#d8d8d8"/>
<text transform="matrix(0.9969 -0.0787 0.1190 0.9929 977.00 649.00)" x="0" y="0" font-size="6" fill="#f6f0f0" text-anchor="middle" dominant-baseline="central" font-weight="bold" font-family="Liberation Mono" stroke="#f6f0f0" stroke-width="0.35">+2.5V</text>
<text transform="matrix(0.9969 -0.0790 0.1188 0.9929 975.00 655.00)" x="0" y="0" font-size="6" fill="#f6f0f0" text-anchor="middle" dominant-baseline="central" font-weight="bold" font-family="Liberation Mono" stroke="#f6f0f0" stroke-width="0.35">out</text>
<text transform="matrix(0.9968 -0.0793 0.1188 0.9929 976.00 661.00)" x="0" y="0" font-size="6" fill="#f6f0f0" text-anchor="middle" dominant-baseline="central" font-weight="bold" font-family="Liberation Mono" stroke="#f6f0f0" stroke-width="0.35">GND</text>
<g transform="matrix(-0.1216 -0.9926 0.9969 -0.0790 1008.50 653.00)"><rect x="-3.8" y="-2.2" width="7.6" height="4.4" fill="#9a9a9a"/><rect x="-2.8" y="-2.2" width="5.6" height="3.6" fill="#eeeeee"/><rect x="-1.4" y="-2.2" width="2.8" height="3.6" fill="#4b1fa0"/></g>
<g transform="matrix(-0.1227 -0.9924 0.9969 -0.0790 1021.50 652.00)"><rect x="-6.5" y="-3.7" width="13.0" height="8.0" fill="#9a9a9a"/><rect x="-4.8" y="-4.0" width="9.6" height="7.2" fill="#f2f2f2"/><rect x="-3.0" y="-4.0" width="6.0" height="7.2" fill="#4b1fa0"/><rect x="-4.8" y="2.7" width="9.6" height="1" fill="#20302c"/></g>
<g transform="matrix(-0.1237 -0.9923 0.9969 -0.0790 1033.50 651.00)"><rect x="-3.8" y="-2.2" width="7.6" height="4.4" fill="#9a9a9a"/><rect x="-2.8" y="-2.2" width="5.6" height="3.6" fill="#eeeeee"/><rect x="-1.4" y="-2.2" width="2.8" height="3.6" fill="#4b1fa0"/></g>
<g transform="matrix(0.9969 -0.0791 0.1254 0.9921 1053.00 650.30)"><rect x="-8.6" y="-8.6" width="17.1" height="17.1" fill="#6a6a6a"/><rect x="-7.8" y="-7.8" width="15.5" height="15.5" fill="#2e2f2f"/><circle cx="-6.2" cy="-6.2" r="0.9" fill="#40d0b0"/></g>
<rect transform="matrix(0.9968 -0.0801 0.1277 0.9918 1083.30 667.20)" x="-6.50" y="-13.00" width="13.00" height="26.00" rx="0.00" fill="none" stroke="#f2ecec" stroke-width="1.0" />
<ellipse transform="matrix(0.9968 -0.0798 0.1277 0.9918 1082.50 661.00)" rx="4.20" ry="4.20" fill="#8a8a8a" stroke="none" stroke-width="0"/>
<ellipse transform="matrix(0.9968 -0.0798 0.1277 0.9918 1082.50 661.00)" rx="2.70" ry="2.70" fill="#151515" stroke="none" stroke-width="0"/>
<ellipse transform="matrix(0.9968 -0.0798 0.1277 0.9918 1082.50 661.00)" cx="-0.4" cy="1.3" rx="1.8" ry="1.1" fill="#d8d8d8"/>
<ellipse transform="matrix(0.9968 -0.0804 0.1277 0.9918 1084.10 673.40)" rx="4.20" ry="4.20" fill="#8a8a8a" stroke="none" stroke-width="0"/>
<ellipse transform="matrix(0.9968 -0.0804 0.1277 0.9918 1084.10 673.40)" rx="2.70" ry="2.70" fill="#151515" stroke="none" stroke-width="0"/>
<ellipse transform="matrix(0.9968 -0.0804 0.1277 0.9918 1084.10 673.40)" cx="-0.4" cy="1.3" rx="1.8" ry="1.1" fill="#d8d8d8"/>
<text transform="matrix(0.9968 -0.0799 0.1263 0.9920 1066.50 664.50)" x="0" y="0" font-size="6" fill="#f6f0f0" text-anchor="middle" dominant-baseline="central" font-weight="bold" font-family="Liberation Mono" stroke="#f6f0f0" stroke-width="0.35">1.5V D</text>
<text transform="matrix(0.9968 -0.0802 0.1260 0.9920 1064.00 671.00)" x="0" y="0" font-size="6" fill="#f6f0f0" text-anchor="middle" dominant-baseline="central" font-weight="bold" font-family="Liberation Mono" stroke="#f6f0f0" stroke-width="0.35">out</text>
<text transform="matrix(0.9968 -0.0805 0.1261 0.9920 1065.00 676.50)" x="0" y="0" font-size="6" fill="#f6f0f0" text-anchor="middle" dominant-baseline="central" font-weight="bold" font-family="Liberation Mono" stroke="#f6f0f0" stroke-width="0.35">GND</text>
<text transform="matrix(-0.1271 -0.9919 0.9969 -0.0790 1074.00 648.00)" x="0" y="0" font-size="5.6" fill="#f6f0f0" text-anchor="middle" dominant-baseline="central" font-weight="bold" font-family="Liberation Mono" stroke="#f6f0f0" stroke-width="0.35">0.1uF</text>
<g transform="matrix(-0.1266 -0.9919 0.9969 -0.0789 1068.00 646.00)"><rect x="-3.8" y="-2.2" width="7.6" height="4.4" fill="#9a9a9a"/><rect x="-2.8" y="-2.2" width="5.6" height="3.6" fill="#eeeeee"/><rect x="-1.4" y="-2.2" width="2.8" height="3.6" fill="#4b1fa0"/></g>
<text transform="matrix(0.9967 -0.0812 0.1238 0.9923 1039.00 692.00)" x="0" y="0" font-size="6.2" fill="#f6f0f0" text-anchor="middle" dominant-baseline="central" font-weight="bold" font-family="Liberation Mono" stroke="#f6f0f0" stroke-width="0.35">TPS72325DBVR</text>
<g transform="matrix(-0.1239 -0.9923 0.9966 -0.0819 1042.00 705.00)"><rect x="-6" y="-4.5" width="3.5" height="3" fill="#8a8a8a"/><rect x="-6" y="1.5" width="3.5" height="3" fill="#8a8a8a"/><rect x="3" y="-1.5" width="3.5" height="3" fill="#8a8a8a"/><rect x="-3.2" y="-4.5" width="6.6" height="10" fill="#2a2b2b"/><circle cx="-5" cy="-3.5" r="1" fill="#40d0b0"/></g>
<text transform="matrix(0.9966 -0.0826 0.1237 0.9923 1042.00 717.50)" x="0" y="0" font-size="6" fill="#f6f0f0" text-anchor="middle" dominant-baseline="central" font-weight="bold" font-family="Liberation Mono" stroke="#f6f0f0" stroke-width="0.35">IC25</text>
<g transform="matrix(0.9967 -0.0816 0.1222 0.9925 1021.00 700.00)"><rect x="-3.8" y="-2.2" width="7.6" height="4.4" fill="#9a9a9a"/><rect x="-2.8" y="-2.2" width="5.6" height="3.6" fill="#eeeeee"/><rect x="-1.4" y="-2.2" width="2.8" height="3.6" fill="#4b1fa0"/></g>
<g transform="matrix(-0.1222 -0.9925 0.9966 -0.0823 1023.00 714.50)"><rect x="-6.5" y="-3.7" width="13.0" height="8.0" fill="#9a9a9a"/><rect x="-4.8" y="-4.0" width="9.6" height="7.2" fill="#f2f2f2"/><rect x="-3.0" y="-4.0" width="6.0" height="7.2" fill="#4b1fa0"/><rect x="-4.8" y="2.7" width="9.6" height="1" fill="#20302c"/></g>
<g transform="matrix(-0.1251 -0.9921 0.9966 -0.0822 1057.50 708.00)"><rect x="-3.8" y="-2.2" width="7.6" height="4.4" fill="#9a9a9a"/><rect x="-2.8" y="-2.2" width="5.6" height="3.6" fill="#eeeeee"/><rect x="-1.4" y="-2.2" width="2.8" height="3.6" fill="#4b1fa0"/></g>
<rect transform="matrix(0.9966 -0.0823 0.1205 0.9927 1002.72 714.46)" x="-6.50" y="-12.50" width="13.00" height="25.00" rx="0.00" fill="none" stroke="#f2ecec" stroke-width="1.0" />
<ellipse transform="matrix(0.9966 -0.0819 0.1205 0.9927 1002.00 708.50)" rx="4.20" ry="4.20" fill="#8a8a8a" stroke="none" stroke-width="0"/>
<ellipse transform="matrix(0.9966 -0.0819 0.1205 0.9927 1002.00 708.50)" rx="2.70" ry="2.70" fill="#151515" stroke="none" stroke-width="0"/>
<ellipse transform="matrix(0.9966 -0.0819 0.1205 0.9927 1002.00 708.50)" cx="-0.4" cy="1.3" rx="1.8" ry="1.1" fill="#d8d8d8"/>
<ellipse transform="matrix(0.9966 -0.0826 0.1205 0.9927 1003.45 720.41)" rx="4.20" ry="4.20" fill="#8a8a8a" stroke="none" stroke-width="0"/>
<ellipse transform="matrix(0.9966 -0.0826 0.1205 0.9927 1003.45 720.41)" rx="2.70" ry="2.70" fill="#151515" stroke="none" stroke-width="0"/>
<ellipse transform="matrix(0.9966 -0.0826 0.1205 0.9927 1003.45 720.41)" cx="-0.4" cy="1.3" rx="1.8" ry="1.1" fill="#d8d8d8"/>
<text transform="matrix(0.9966 -0.0819 0.1188 0.9929 981.50 709.00)" x="0" y="0" font-size="6" fill="#f6f0f0" text-anchor="middle" dominant-baseline="central" font-weight="bold" font-family="Liberation Mono" stroke="#f6f0f0" stroke-width="0.35">-2.5V 1</text>
<text transform="matrix(0.9966 -0.0822 0.1184 0.9930 977.50 716.00)" x="0" y="0" font-size="6" fill="#f6f0f0" text-anchor="middle" dominant-baseline="central" font-weight="bold" font-family="Liberation Mono" stroke="#f6f0f0" stroke-width="0.35">out</text>
<text transform="matrix(0.9966 -0.0825 0.1184 0.9930 978.50 721.50)" x="0" y="0" font-size="6" fill="#f6f0f0" text-anchor="middle" dominant-baseline="central" font-weight="bold" font-family="Liberation Mono" stroke="#f6f0f0" stroke-width="0.35">GND</text>
<rect transform="matrix(0.9965 -0.0839 0.1252 0.9921 1063.00 741.00)" x="-6.50" y="-12.00" width="13.00" height="24.00" rx="0.00" fill="#2e302f" stroke="none" stroke-width="0" />
<rect transform="matrix(0.9965 -0.0834 0.1253 0.9921 1063.00 731.00)" x="-3.00" y="-0.80" width="6.00" height="1.60" rx="0.00" fill="#30d0b0" stroke="none" stroke-width="0" />
<rect transform="matrix(0.9964 -0.0845 0.1251 0.9921 1063.00 751.00)" x="-3.00" y="-0.80" width="6.00" height="1.60" rx="0.00" fill="#30d0b0" stroke="none" stroke-width="0" />
<polyline points="1057.00,727.00 1055.50,731.00 1057.00,755.00 1068.00,754.00" fill="none" stroke="#f2ecec" stroke-width="1.0" stroke-linejoin="round"/>
<polyline points="1043.00,739.00 1054.00,738.50 1048.00,744.00 1043.00,739.00" fill="none" stroke="#f2ecec" stroke-width="1.0" stroke-linejoin="round"/>
<line x1="1043.00" y1="745.50" x2="1054.00" y2="745.00" stroke="#f4eeee" stroke-width="1.0"/>
<text transform="matrix(0.1261 0.9920 -0.9965 0.0840 1073.00 741.00)" x="0" y="0" font-size="6" fill="#f6f0f0" text-anchor="middle" dominant-baseline="central" font-weight="bold" font-family="Liberation Mono" stroke="#f6f0f0" stroke-width="0.35">D34A</text>
<rect transform="matrix(0.9965 -0.0839 0.1277 0.9918 1092.83 737.45)" x="-6.50" y="-13.50" width="13.00" height="27.00" rx="0.00" fill="none" stroke="#f2ecec" stroke-width="1.0" />
<ellipse transform="matrix(0.9965 -0.0835 0.1277 0.9918 1092.00 731.00)" rx="4.20" ry="4.20" fill="#8a8a8a" stroke="none" stroke-width="0"/>
<ellipse transform="matrix(0.9965 -0.0835 0.1277 0.9918 1092.00 731.00)" rx="2.70" ry="2.70" fill="#151515" stroke="none" stroke-width="0"/>
<ellipse transform="matrix(0.9965 -0.0835 0.1277 0.9918 1092.00 731.00)" cx="-0.4" cy="1.3" rx="1.8" ry="1.1" fill="#d8d8d8"/>
<ellipse transform="matrix(0.9964 -0.0842 0.1277 0.9918 1093.66 743.89)" rx="4.20" ry="4.20" fill="#8a8a8a" stroke="none" stroke-width="0"/>
<ellipse transform="matrix(0.9964 -0.0842 0.1277 0.9918 1093.66 743.89)" rx="2.70" ry="2.70" fill="#151515" stroke="none" stroke-width="0"/>
<ellipse transform="matrix(0.9964 -0.0842 0.1277 0.9918 1093.66 743.89)" cx="-0.4" cy="1.3" rx="1.8" ry="1.1" fill="#d8d8d8"/>
<text transform="matrix(0.9964 -0.0847 0.1277 0.9918 1094.00 754.00)" x="0" y="0" font-size="6" fill="#f6f0f0" text-anchor="middle" dominant-baseline="central" font-weight="bold" font-family="Liberation Mono" stroke="#f6f0f0" stroke-width="0.35">3.8V-</text>
<text transform="matrix(-0.1270 -0.9919 0.9966 -0.0828 1082.00 718.00)" x="0" y="0" font-size="5.6" fill="#f6f0f0" text-anchor="middle" dominant-baseline="central" font-weight="bold" font-family="Liberation Mono" stroke="#f6f0f0" stroke-width="0.35">0.1uF</text>
<g transform="matrix(-0.1278 -0.9918 0.9966 -0.0825 1090.00 712.00)"><rect x="-3.8" y="-2.2" width="7.6" height="4.4" fill="#9a9a9a"/><rect x="-2.8" y="-2.2" width="5.6" height="3.6" fill="#eeeeee"/><rect x="-1.4" y="-2.2" width="2.8" height="3.6" fill="#4b1fa0"/></g>
<g transform="matrix(0.9972 -0.0741 0.1299 0.9915 1094.50 554.00)"><rect x="-7.0" y="-3.7" width="14.0" height="8.0" fill="#9a9a9a"/><rect x="-5.3" y="-4.0" width="10.6" height="7.2" fill="#f2f2f2"/><rect x="-3.5" y="-4.0" width="7.0" height="7.2" fill="#4b1fa0"/><rect x="-5.3" y="2.7" width="10.6" height="1" fill="#20302c"/></g>
<g transform="matrix(0.9972 -0.0749 0.1298 0.9915 1096.00 568.50)"><rect x="-7.0" y="-3.7" width="14.0" height="8.0" fill="#9a9a9a"/><rect x="-5.3" y="-4.0" width="10.6" height="7.2" fill="#f2f2f2"/><rect x="-3.5" y="-4.0" width="7.0" height="7.2" fill="#4b1fa0"/><rect x="-5.3" y="2.7" width="10.6" height="1" fill="#20302c"/></g>
<g transform="matrix(0.9971 -0.0757 0.1298 0.9915 1098.00 583.00)"><rect x="-7.0" y="-3.7" width="14.0" height="8.0" fill="#9a9a9a"/><rect x="-5.3" y="-4.0" width="10.6" height="7.2" fill="#f2f2f2"/><rect x="-3.5" y="-4.0" width="7.0" height="7.2" fill="#4b1fa0"/><rect x="-5.3" y="2.7" width="10.6" height="1" fill="#20302c"/></g>
<g transform="matrix(0.9971 -0.0765 0.1298 0.9915 1100.00 598.50)"><rect x="-7.0" y="-3.7" width="14.0" height="8.0" fill="#9a9a9a"/><rect x="-5.3" y="-4.0" width="10.6" height="7.2" fill="#f2f2f2"/><rect x="-3.5" y="-4.0" width="7.0" height="7.2" fill="#4b1fa0"/><rect x="-5.3" y="2.7" width="10.6" height="1" fill="#20302c"/></g>
<g transform="matrix(0.9970 -0.0780 0.1298 0.9915 1103.00 625.50)"><rect x="-7.0" y="-3.7" width="14.0" height="8.0" fill="#9a9a9a"/><rect x="-5.3" y="-4.0" width="10.6" height="7.2" fill="#f2f2f2"/><rect x="-3.5" y="-4.0" width="7.0" height="7.2" fill="#4b1fa0"/><rect x="-5.3" y="2.7" width="10.6" height="1" fill="#20302c"/></g>
<g transform="matrix(0.9969 -0.0788 0.1299 0.9915 1106.00 640.50)"><rect x="-7.0" y="-3.7" width="14.0" height="8.0" fill="#9a9a9a"/><rect x="-5.3" y="-4.0" width="10.6" height="7.2" fill="#f2f2f2"/><rect x="-3.5" y="-4.0" width="7.0" height="7.2" fill="#4b1fa0"/><rect x="-5.3" y="2.7" width="10.6" height="1" fill="#20302c"/></g>
<g transform="matrix(0.9968 -0.0796 0.1300 0.9915 1109.00 655.00)"><rect x="-7.0" y="-3.7" width="14.0" height="8.0" fill="#9a9a9a"/><rect x="-5.3" y="-4.0" width="10.6" height="7.2" fill="#f2f2f2"/><rect x="-3.5" y="-4.0" width="7.0" height="7.2" fill="#4b1fa0"/><rect x="-5.3" y="2.7" width="10.6" height="1" fill="#20302c"/></g>
<g transform="matrix(0.9968 -0.0803 0.1301 0.9915 1112.00 669.50)"><rect x="-7.0" y="-3.7" width="14.0" height="8.0" fill="#9a9a9a"/><rect x="-5.3" y="-4.0" width="10.6" height="7.2" fill="#f2f2f2"/><rect x="-3.5" y="-4.0" width="7.0" height="7.2" fill="#4b1fa0"/><rect x="-5.3" y="2.7" width="10.6" height="1" fill="#20302c"/></g>
<g transform="matrix(0.9967 -0.0817 0.1298 0.9915 1112.50 695.50)"><rect x="-7.0" y="-3.7" width="14.0" height="8.0" fill="#9a9a9a"/><rect x="-5.3" y="-4.0" width="10.6" height="7.2" fill="#f2f2f2"/><rect x="-3.5" y="-4.0" width="7.0" height="7.2" fill="#4b1fa0"/><rect x="-5.3" y="2.7" width="10.6" height="1" fill="#20302c"/></g>
<g transform="matrix(0.9966 -0.0825 0.1299 0.9915 1115.50 709.50)"><rect x="-7.0" y="-3.7" width="14.0" height="8.0" fill="#9a9a9a"/><rect x="-5.3" y="-4.0" width="10.6" height="7.2" fill="#f2f2f2"/><rect x="-3.5" y="-4.0" width="7.0" height="7.2" fill="#4b1fa0"/><rect x="-5.3" y="2.7" width="10.6" height="1" fill="#20302c"/></g>
<g transform="matrix(0.9965 -0.0833 0.1300 0.9915 1118.00 724.00)"><rect x="-7.0" y="-3.7" width="14.0" height="8.0" fill="#9a9a9a"/><rect x="-5.3" y="-4.0" width="10.6" height="7.2" fill="#f2f2f2"/><rect x="-3.5" y="-4.0" width="7.0" height="7.2" fill="#4b1fa0"/><rect x="-5.3" y="2.7" width="10.6" height="1" fill="#20302c"/></g>
<g transform="matrix(0.9965 -0.0841 0.1300 0.9915 1120.00 739.00)"><rect x="-7.0" y="-3.7" width="14.0" height="8.0" fill="#9a9a9a"/><rect x="-5.3" y="-4.0" width="10.6" height="7.2" fill="#f2f2f2"/><rect x="-3.5" y="-4.0" width="7.0" height="7.2" fill="#4b1fa0"/><rect x="-5.3" y="2.7" width="10.6" height="1" fill="#20302c"/></g>
<polyline points="1124.00,560.50 1123.00,548.50 1144.00,547.50" fill="none" stroke="#f2ecec" stroke-width="1.1" stroke-linejoin="round"/>
<polyline points="1129.00,594.50 1130.00,605.50 1185.00,603.00 1184.00,592.50" fill="none" stroke="#f2ecec" stroke-width="1.1" stroke-linejoin="round"/>
<text transform="matrix(-0.1319 -0.9913 0.9972 -0.0742 1119.00 553.50)" x="0" y="0" font-size="6" fill="#f6f0f0" text-anchor="middle" dominant-baseline="central" font-weight="bold" font-family="Liberation Mono" stroke="#f6f0f0" stroke-width="0.35">10uH</text>
<polyline points="1133.00,630.50 1132.00,618.50 1153.00,617.50" fill="none" stroke="#f2ecec" stroke-width="1.1" stroke-linejoin="round"/>
<polyline points="1138.00,664.50 1139.00,675.50 1194.00,673.00 1193.00,662.50" fill="none" stroke="#f2ecec" stroke-width="1.1" stroke-linejoin="round"/>
<text transform="matrix(-0.1319 -0.9913 0.9970 -0.0780 1128.00 623.50)" x="0" y="0" font-size="6" fill="#f6f0f0" text-anchor="middle" dominant-baseline="central" font-weight="bold" font-family="Liberation Mono" stroke="#f6f0f0" stroke-width="0.35">10uH</text>
<polyline points="1142.50,700.00 1141.50,688.00 1162.50,687.00" fill="none" stroke="#f2ecec" stroke-width="1.1" stroke-linejoin="round"/>
<polyline points="1147.50,734.00 1148.50,745.00 1203.50,742.50 1202.50,732.00" fill="none" stroke="#f2ecec" stroke-width="1.1" stroke-linejoin="round"/>
<text transform="matrix(-0.1319 -0.9913 0.9967 -0.0817 1137.50 693.00)" x="0" y="0" font-size="6" fill="#f6f0f0" text-anchor="middle" dominant-baseline="central" font-weight="bold" font-family="Liberation Mono" stroke="#f6f0f0" stroke-width="0.35">10uH</text>
<g transform="matrix(0.9971 -0.0757 0.1390 0.9903 1206.00 575.00)"><rect x="-10.38" y="-13.00" width="2.00" height="5.00" fill="#b9b9b9"/><rect x="-10.38" y="8.00" width="2.00" height="5.00" fill="#b9b9b9"/><rect x="-4.12" y="-13.00" width="2.00" height="5.00" fill="#b9b9b9"/><rect x="-4.12" y="8.00" width="2.00" height="5.00" fill="#b9b9b9"/><rect x="2.12" y="-13.00" width="2.00" height="5.00" fill="#b9b9b9"/><rect x="2.12" y="8.00" width="2.00" height="5.00" fill="#b9b9b9"/><rect x="8.38" y="-13.00" width="2.00" height="5.00" fill="#b9b9b9"/><rect x="8.38" y="8.00" width="2.00" height="5.00" fill="#b9b9b9"/><rect x="-12.50" y="-8.00" width="25.00" height="16.00" fill="#2f3030"/><circle cx="-11.00" cy="6.50" r="1" fill="#40d0b0"/></g>
<text transform="matrix(0.9972 -0.0748 0.1388 0.9903 1201.50 558.00)" x="0" y="0" font-size="5.8" fill="#f6f0f0" text-anchor="middle" dominant-baseline="central" font-weight="bold" font-family="Liberation Mono" stroke="#f6f0f0" stroke-width="0.35">0.1uF1uF</text>
<text transform="matrix(0.9972 -0.0748 0.1404 0.9901 1221.00 557.50)" x="0" y="0" font-size="5.8" fill="#f6f0f0" text-anchor="middle" dominant-baseline="central" font-weight="bold" font-family="Liberation Mono" stroke="#f6f0f0" stroke-width="0.35">100k</text>
<text transform="matrix(0.9971 -0.0758 0.1405 0.9901 1225.00 576.00)" x="0" y="0" font-size="5.8" fill="#f6f0f0" text-anchor="middle" dominant-baseline="central" font-weight="bold" font-family="Liberation Mono" stroke="#f6f0f0" stroke-width="0.35">56k</text>
<g transform="matrix(0.9972 -0.0743 0.1381 0.9904 1192.50 550.00)"><rect x="-3.8" y="-2.2" width="7.6" height="4.4" fill="#9a9a9a"/><rect x="-2.8" y="-2.2" width="5.6" height="3.6" fill="#eeeeee"/><rect x="-1.4" y="-2.2" width="2.8" height="3.6" fill="#4b1fa0"/></g>
<g transform="matrix(0.9972 -0.0743 0.1392 0.9903 1205.50 549.50)"><rect x="-3.8" y="-2.2" width="7.6" height="4.4" fill="#9a9a9a"/><rect x="-2.8" y="-2.2" width="5.6" height="3.6" fill="#eeeeee"/><rect x="-1.4" y="-2.2" width="2.8" height="3.6" fill="#4b1fa0"/></g>
<g transform="matrix(0.9970 -0.0769 0.1384 0.9904 1202.50 598.00)"><rect x="-3.8" y="-2.2" width="7.6" height="4.4" fill="#9a9a9a"/><rect x="-2.8" y="-2.2" width="5.6" height="3.6" fill="#eeeeee"/><rect x="-1.4" y="-2.2" width="2.8" height="3.6" fill="#4b1fa0"/></g>
<text transform="matrix(0.9970 -0.0770 0.1397 0.9902 1218.50 598.00)" x="0" y="0" font-size="5.8" fill="#f6f0f0" text-anchor="middle" dominant-baseline="central" font-weight="bold" font-family="Liberation Mono" stroke="#f6f0f0" stroke-width="0.35">0.1uF</text>
<g transform="matrix(0.9970 -0.0774 0.1385 0.9904 1204.50 606.00)"><rect x="-7.0" y="-3.7" width="14.0" height="8.0" fill="#9a9a9a"/><rect x="-5.3" y="-4.0" width="10.6" height="7.2" fill="#f2f2f2"/><rect x="-3.5" y="-4.0" width="7.0" height="7.2" fill="#4b1fa0"/><rect x="-5.3" y="2.7" width="10.6" height="1" fill="#20302c"/></g>
<text transform="matrix(0.9970 -0.0775 0.1398 0.9902 1220.50 607.00)" x="0" y="0" font-size="5.8" fill="#f6f0f0" text-anchor="middle" dominant-baseline="central" font-weight="bold" font-family="Liberation Mono" stroke="#f6f0f0" stroke-width="0.35">10uF</text>
<g transform="matrix(0.9972 -0.0753 0.1404 0.9901 1222.00 567.00)"><rect x="-3.5" y="-1.5" width="2.6" height="3" fill="#b8b8b8"/><rect x="0.9" y="-1.5" width="2.6" height="3" fill="#b8b8b8"/><rect x="-1" y="-1.2" width="2" height="2.4" fill="#3a2a40"/></g>
<g transform="matrix(0.9971 -0.0762 0.1402 0.9901 1222.00 583.00)"><rect x="-3.5" y="-1.5" width="2.6" height="3" fill="#b8b8b8"/><rect x="0.9" y="-1.5" width="2.6" height="3" fill="#b8b8b8"/><rect x="-1" y="-1.2" width="2" height="2.4" fill="#3a2a40"/></g>
<g transform="matrix(0.9968 -0.0795 0.1389 0.9903 1215.50 646.00)"><rect x="-10.38" y="-13.00" width="2.00" height="5.00" fill="#b9b9b9"/><rect x="-10.38" y="8.00" width="2.00" height="5.00" fill="#b9b9b9"/><rect x="-4.12" y="-13.00" width="2.00" height="5.00" fill="#b9b9b9"/><rect x="-4.12" y="8.00" width="2.00" height="5.00" fill="#b9b9b9"/><rect x="2.12" y="-13.00" width="2.00" height="5.00" fill="#b9b9b9"/><rect x="2.12" y="8.00" width="2.00" height="5.00" fill="#b9b9b9"/><rect x="8.38" y="-13.00" width="2.00" height="5.00" fill="#b9b9b9"/><rect x="8.38" y="8.00" width="2.00" height="5.00" fill="#b9b9b9"/><rect x="-12.50" y="-8.00" width="25.00" height="16.00" fill="#2f3030"/><circle cx="-11.00" cy="6.50" r="1" fill="#40d0b0"/></g>
<text transform="matrix(0.9969 -0.0786 0.1387 0.9903 1211.00 629.00)" x="0" y="0" font-size="5.8" fill="#f6f0f0" text-anchor="middle" dominant-baseline="central" font-weight="bold" font-family="Liberation Mono" stroke="#f6f0f0" stroke-width="0.35">0.1uF1uF</text>
<text transform="matrix(0.9969 -0.0787 0.1404 0.9901 1230.50 628.50)" x="0" y="0" font-size="5.8" fill="#f6f0f0" text-anchor="middle" dominant-baseline="central" font-weight="bold" font-family="Liberation Mono" stroke="#f6f0f0" stroke-width="0.35">100k</text>
<text transform="matrix(0.9968 -0.0797 0.1405 0.9901 1234.50 647.00)" x="0" y="0" font-size="5.8" fill="#f6f0f0" text-anchor="middle" dominant-baseline="central" font-weight="bold" font-family="Liberation Mono" stroke="#f6f0f0" stroke-width="0.35">100k</text>
<g transform="matrix(0.9969 -0.0781 0.1381 0.9904 1202.00 621.00)"><rect x="-3.8" y="-2.2" width="7.6" height="4.4" fill="#9a9a9a"/><rect x="-2.8" y="-2.2" width="5.6" height="3.6" fill="#eeeeee"/><rect x="-1.4" y="-2.2" width="2.8" height="3.6" fill="#4b1fa0"/></g>
<g transform="matrix(0.9969 -0.0782 0.1392 0.9903 1215.00 620.50)"><rect x="-3.8" y="-2.2" width="7.6" height="4.4" fill="#9a9a9a"/><rect x="-2.8" y="-2.2" width="5.6" height="3.6" fill="#eeeeee"/><rect x="-1.4" y="-2.2" width="2.8" height="3.6" fill="#4b1fa0"/></g>
<g transform="matrix(0.9967 -0.0808 0.1384 0.9904 1212.00 669.00)"><rect x="-3.8" y="-2.2" width="7.6" height="4.4" fill="#9a9a9a"/><rect x="-2.8" y="-2.2" width="5.6" height="3.6" fill="#eeeeee"/><rect x="-1.4" y="-2.2" width="2.8" height="3.6" fill="#4b1fa0"/></g>
<text transform="matrix(0.9967 -0.0808 0.1397 0.9902 1228.00 669.00)" x="0" y="0" font-size="5.8" fill="#f6f0f0" text-anchor="middle" dominant-baseline="central" font-weight="bold" font-family="Liberation Mono" stroke="#f6f0f0" stroke-width="0.35">0.1uF</text>
<g transform="matrix(0.9967 -0.0812 0.1384 0.9904 1214.00 677.00)"><rect x="-7.0" y="-3.7" width="14.0" height="8.0" fill="#9a9a9a"/><rect x="-5.3" y="-4.0" width="10.6" height="7.2" fill="#f2f2f2"/><rect x="-3.5" y="-4.0" width="7.0" height="7.2" fill="#4b1fa0"/><rect x="-5.3" y="2.7" width="10.6" height="1" fill="#20302c"/></g>
<text transform="matrix(0.9967 -0.0813 0.1397 0.9902 1230.00 678.00)" x="0" y="0" font-size="5.8" fill="#f6f0f0" text-anchor="middle" dominant-baseline="central" font-weight="bold" font-family="Liberation Mono" stroke="#f6f0f0" stroke-width="0.35">10uF</text>
<g transform="matrix(0.9969 -0.0792 0.1403 0.9901 1231.50 638.00)"><rect x="-3.5" y="-1.5" width="2.6" height="3" fill="#b8b8b8"/><rect x="0.9" y="-1.5" width="2.6" height="3" fill="#b8b8b8"/><rect x="-1" y="-1.2" width="2" height="2.4" fill="#3a2a40"/></g>
<g transform="matrix(0.9968 -0.0800 0.1402 0.9901 1231.50 654.00)"><rect x="-3.5" y="-1.5" width="2.6" height="3" fill="#b8b8b8"/><rect x="0.9" y="-1.5" width="2.6" height="3" fill="#b8b8b8"/><rect x="-1" y="-1.2" width="2" height="2.4" fill="#3a2a40"/></g>
<g transform="matrix(0.9965 -0.0833 0.1389 0.9903 1225.00 716.00)"><rect x="-10.38" y="-13.00" width="2.00" height="5.00" fill="#b9b9b9"/><rect x="-10.38" y="8.00" width="2.00" height="5.00" fill="#b9b9b9"/><rect x="-4.12" y="-13.00" width="2.00" height="5.00" fill="#b9b9b9"/><rect x="-4.12" y="8.00" width="2.00" height="5.00" fill="#b9b9b9"/><rect x="2.12" y="-13.00" width="2.00" height="5.00" fill="#b9b9b9"/><rect x="2.12" y="8.00" width="2.00" height="5.00" fill="#b9b9b9"/><rect x="8.38" y="-13.00" width="2.00" height="5.00" fill="#b9b9b9"/><rect x="8.38" y="8.00" width="2.00" height="5.00" fill="#b9b9b9"/><rect x="-12.50" y="-8.00" width="25.00" height="16.00" fill="#2f3030"/><circle cx="-11.00" cy="6.50" r="1" fill="#40d0b0"/></g>
<text transform="matrix(0.9966 -0.0824 0.1387 0.9903 1220.50 699.00)" x="0" y="0" font-size="5.8" fill="#f6f0f0" text-anchor="middle" dominant-baseline="central" font-weight="bold" font-family="Liberation Mono" stroke="#f6f0f0" stroke-width="0.35">0.1uF1uF</text>
<text transform="matrix(0.9966 -0.0824 0.1403 0.9901 1240.00 698.50)" x="0" y="0" font-size="5.8" fill="#f6f0f0" text-anchor="middle" dominant-baseline="central" font-weight="bold" font-family="Liberation Mono" stroke="#f6f0f0" stroke-width="0.35">100k</text>
<text transform="matrix(0.9965 -0.0835 0.1404 0.9901 1244.00 717.00)" x="0" y="0" font-size="5.8" fill="#f6f0f0" text-anchor="middle" dominant-baseline="central" font-weight="bold" font-family="Liberation Mono" stroke="#f6f0f0" stroke-width="0.35">100Ω</text>
<g transform="matrix(0.9966 -0.0819 0.1381 0.9904 1211.50 691.00)"><rect x="-3.8" y="-2.2" width="7.6" height="4.4" fill="#9a9a9a"/><rect x="-2.8" y="-2.2" width="5.6" height="3.6" fill="#eeeeee"/><rect x="-1.4" y="-2.2" width="2.8" height="3.6" fill="#4b1fa0"/></g>
<g transform="matrix(0.9966 -0.0820 0.1391 0.9903 1224.50 690.50)"><rect x="-3.8" y="-2.2" width="7.6" height="4.4" fill="#9a9a9a"/><rect x="-2.8" y="-2.2" width="5.6" height="3.6" fill="#eeeeee"/><rect x="-1.4" y="-2.2" width="2.8" height="3.6" fill="#4b1fa0"/></g>
<g transform="matrix(0.9964 -0.0845 0.1383 0.9904 1221.50 739.00)"><rect x="-3.8" y="-2.2" width="7.6" height="4.4" fill="#9a9a9a"/><rect x="-2.8" y="-2.2" width="5.6" height="3.6" fill="#eeeeee"/><rect x="-1.4" y="-2.2" width="2.8" height="3.6" fill="#4b1fa0"/></g>
<text transform="matrix(0.9964 -0.0846 0.1397 0.9902 1237.50 739.00)" x="0" y="0" font-size="5.8" fill="#f6f0f0" text-anchor="middle" dominant-baseline="central" font-weight="bold" font-family="Liberation Mono" stroke="#f6f0f0" stroke-width="0.35">0.1uF</text>
<g transform="matrix(0.9964 -0.0850 0.1384 0.9904 1223.50 747.00)"><rect x="-7.0" y="-3.7" width="14.0" height="8.0" fill="#9a9a9a"/><rect x="-5.3" y="-4.0" width="10.6" height="7.2" fill="#f2f2f2"/><rect x="-3.5" y="-4.0" width="7.0" height="7.2" fill="#4b1fa0"/><rect x="-5.3" y="2.7" width="10.6" height="1" fill="#20302c"/></g>
<text transform="matrix(0.9964 -0.0851 0.1397 0.9902 1239.50 748.00)" x="0" y="0" font-size="5.8" fill="#f6f0f0" text-anchor="middle" dominant-baseline="central" font-weight="bold" font-family="Liberation Mono" stroke="#f6f0f0" stroke-width="0.35">10uF</text>
<g transform="matrix(0.9966 -0.0830 0.1403 0.9901 1241.00 708.00)"><rect x="-3.5" y="-1.5" width="2.6" height="3" fill="#b8b8b8"/><rect x="0.9" y="-1.5" width="2.6" height="3" fill="#b8b8b8"/><rect x="-1" y="-1.2" width="2" height="2.4" fill="#3a2a40"/></g>
<g transform="matrix(0.9965 -0.0838 0.1401 0.9901 1241.00 724.00)"><rect x="-3.5" y="-1.5" width="2.6" height="3" fill="#b8b8b8"/><rect x="0.9" y="-1.5" width="2.6" height="3" fill="#b8b8b8"/><rect x="-1" y="-1.2" width="2" height="2.4" fill="#3a2a40"/></g>
<polyline points="745.0,745.0 758.2,744.3 770.8,743.5 783.7,742.5 796.8,741.3 809.5,740.2 822.7,739.3 835.8,738.3" fill="none" stroke="#f2ecec" stroke-width="12" stroke-linecap="round" stroke-linejoin="round"/>
<polyline points="745.0,745.0 758.2,744.3 770.8,743.5 783.7,742.5 796.8,741.3 809.5,740.2 822.7,739.3 835.8,738.3" fill="none" stroke="#a02424" stroke-width="10" stroke-linecap="round" stroke-linejoin="round"/>
<ellipse transform="matrix(0.9966 -0.0827 0.0988 0.9951 745.00 745.00)" rx="4.60" ry="4.60" fill="#8a8a8a" stroke="none" stroke-width="0"/>
<ellipse transform="matrix(0.9966 -0.0827 0.0988 0.9951 745.00 745.00)" rx="2.80" ry="2.80" fill="#121212" stroke="none" stroke-width="0"/>
<ellipse transform="matrix(0.9966 -0.0827 0.0988 0.9951 745.00 745.00)" cx="-0.3" cy="0.9" rx="2.38" ry="2.02" fill="#e4e8e6"/>
<ellipse transform="matrix(0.9966 -0.0828 0.0999 0.9950 758.20 744.30)" rx="4.60" ry="4.60" fill="#8a8a8a" stroke="none" stroke-width="0"/>
<ellipse transform="matrix(0.9966 -0.0828 0.0999 0.9950 758.20 744.30)" rx="2.80" ry="2.80" fill="#121212" stroke="none" stroke-width="0"/>
<ellipse transform="matrix(0.9966 -0.0828 0.0999 0.9950 758.20 744.30)" cx="-0.3" cy="0.9" rx="2.38" ry="2.02" fill="#e4e8e6"/>
<ellipse transform="matrix(0.9966 -0.0828 0.1009 0.9949 770.80 743.50)" rx="4.60" ry="4.60" fill="#8a8a8a" stroke="none" stroke-width="0"/>
<ellipse transform="matrix(0.9966 -0.0828 0.1009 0.9949 770.80 743.50)" rx="2.80" ry="2.80" fill="#121212" stroke="none" stroke-width="0"/>
<ellipse transform="matrix(0.9966 -0.0828 0.1009 0.9949 770.80 743.50)" cx="-0.3" cy="0.9" rx="2.38" ry="2.02" fill="#e4e8e6"/>
<ellipse transform="matrix(0.9966 -0.0828 0.1020 0.9948 783.70 742.50)" rx="4.60" ry="4.60" fill="#8a8a8a" stroke="none" stroke-width="0"/>
<ellipse transform="matrix(0.9966 -0.0828 0.1020 0.9948 783.70 742.50)" rx="2.80" ry="2.80" fill="#121212" stroke="none" stroke-width="0"/>
<ellipse transform="matrix(0.9966 -0.0828 0.1020 0.9948 783.70 742.50)" cx="-0.3" cy="0.9" rx="2.38" ry="2.02" fill="#e4e8e6"/>
<ellipse transform="matrix(0.9966 -0.0828 0.1031 0.9947 796.80 741.30)" rx="4.60" ry="4.60" fill="#8a8a8a" stroke="none" stroke-width="0"/>
<ellipse transform="matrix(0.9966 -0.0828 0.1031 0.9947 796.80 741.30)" rx="2.80" ry="2.80" fill="#121212" stroke="none" stroke-width="0"/>
<ellipse transform="matrix(0.9966 -0.0828 0.1031 0.9947 796.80 741.30)" cx="-0.3" cy="0.9" rx="2.38" ry="2.02" fill="#e4e8e6"/>
<ellipse transform="matrix(0.9966 -0.0828 0.1042 0.9946 809.50 740.20)" rx="4.60" ry="4.60" fill="#8a8a8a" stroke="none" stroke-width="0"/>
<ellipse transform="matrix(0.9966 -0.0828 0.1042 0.9946 809.50 740.20)" rx="2.80" ry="2.80" fill="#121212" stroke="none" stroke-width="0"/>
<ellipse transform="matrix(0.9966 -0.0828 0.1042 0.9946 809.50 740.20)" cx="-0.3" cy="0.9" rx="2.38" ry="2.02" fill="#e4e8e6"/>
<ellipse transform="matrix(0.9966 -0.0828 0.1053 0.9944 822.70 739.30)" rx="4.60" ry="4.60" fill="#8a8a8a" stroke="none" stroke-width="0"/>
<ellipse transform="matrix(0.9966 -0.0828 0.1053 0.9944 822.70 739.30)" rx="2.80" ry="2.80" fill="#121212" stroke="none" stroke-width="0"/>
<ellipse transform="matrix(0.9966 -0.0828 0.1053 0.9944 822.70 739.30)" cx="-0.3" cy="0.9" rx="2.38" ry="2.02" fill="#e4e8e6"/>
<ellipse transform="matrix(0.9966 -0.0828 0.1064 0.9943 835.80 738.30)" rx="4.60" ry="4.60" fill="#8a8a8a" stroke="none" stroke-width="0"/>
<ellipse transform="matrix(0.9966 -0.0828 0.1064 0.9943 835.80 738.30)" rx="2.80" ry="2.80" fill="#121212" stroke="none" stroke-width="0"/>
<ellipse transform="matrix(0.9966 -0.0828 0.1064 0.9943 835.80 738.30)" cx="-0.3" cy="0.9" rx="2.38" ry="2.02" fill="#e4e8e6"/>
<text transform="matrix(-0.0982 -0.9952 0.9966 -0.0820 737.50 731.50)" x="0" y="0" font-size="5.6" fill="#f6f0f0" text-anchor="middle" dominant-baseline="central" font-weight="bold" font-family="Liberation Mono" stroke="#f6f0f0" stroke-width="0.35">Din1</text>
<text transform="matrix(-0.0994 -0.9950 0.9966 -0.0821 751.80 731.50)" x="0" y="0" font-size="5.6" fill="#f6f0f0" text-anchor="middle" dominant-baseline="central" font-weight="bold" font-family="Liberation Mono" stroke="#f6f0f0" stroke-width="0.35">Din0</text>
<g transform="matrix(-0.0987 -0.9951 0.9966 -0.0819 743.00 729.00)"><rect x="-3.5" y="-1.5" width="2.6" height="3" fill="#b8b8b8"/><rect x="0.9" y="-1.5" width="2.6" height="3" fill="#b8b8b8"/><rect x="-1" y="-1.2" width="2" height="2.4" fill="#3a2a40"/></g>
<g transform="matrix(-0.0999 -0.9950 0.9966 -0.0819 757.00 728.50)"><rect x="-3.5" y="-1.5" width="2.6" height="3" fill="#b8b8b8"/><rect x="0.9" y="-1.5" width="2.6" height="3" fill="#b8b8b8"/><rect x="-1" y="-1.2" width="2" height="2.4" fill="#3a2a40"/></g>
<rect transform="matrix(0.9964 -0.0843 0.1009 0.9949 773.50 773.50)" x="-2.25" y="-4.50" width="4.50" height="9.00" rx="0.00" fill="#e8ecec" stroke="none" stroke-width="0" />
<rect transform="matrix(0.9965 -0.0841 0.1009 0.9949 773.50 769.50)" x="-2.25" y="-0.70" width="4.50" height="1.40" rx="0.00" fill="#40c0b0" stroke="none" stroke-width="0" />
<g transform="matrix(-0.1010 -0.9949 0.9965 -0.0836 774.00 760.00)"><rect x="-3.5" y="-1.5" width="2.6" height="3" fill="#b8b8b8"/><rect x="0.9" y="-1.5" width="2.6" height="3" fill="#b8b8b8"/><rect x="-1" y="-1.2" width="2" height="2.4" fill="#3a2a40"/></g>
<text transform="matrix(-0.1004 -0.9949 0.9965 -0.0837 766.50 762.50)" x="0" y="0" font-size="5.6" fill="#f6f0f0" text-anchor="middle" dominant-baseline="central" font-weight="bold" font-family="Liberation Mono" stroke="#f6f0f0" stroke-width="0.35">D9</text>
<rect transform="matrix(0.9964 -0.0843 0.1020 0.9948 786.30 772.30)" x="-2.25" y="-4.50" width="4.50" height="9.00" rx="0.00" fill="#e8ecec" stroke="none" stroke-width="0" />
<rect transform="matrix(0.9965 -0.0841 0.1020 0.9948 786.30 768.30)" x="-2.25" y="-0.70" width="4.50" height="1.40" rx="0.00" fill="#40c0b0" stroke="none" stroke-width="0" />
<g transform="matrix(-0.1021 -0.9948 0.9965 -0.0836 786.80 758.80)"><rect x="-3.5" y="-1.5" width="2.6" height="3" fill="#b8b8b8"/><rect x="0.9" y="-1.5" width="2.6" height="3" fill="#b8b8b8"/><rect x="-1" y="-1.2" width="2" height="2.4" fill="#3a2a40"/></g>
<text transform="matrix(-0.1015 -0.9948 0.9965 -0.0837 779.30 761.30)" x="0" y="0" font-size="5.6" fill="#f6f0f0" text-anchor="middle" dominant-baseline="central" font-weight="bold" font-family="Liberation Mono" stroke="#f6f0f0" stroke-width="0.35">D8</text>
<rect transform="matrix(0.9964 -0.0843 0.1030 0.9947 799.00 771.30)" x="-2.25" y="-4.50" width="4.50" height="9.00" rx="0.00" fill="#e8ecec" stroke="none" stroke-width="0" />
<rect transform="matrix(0.9965 -0.0841 0.1031 0.9947 799.00 767.30)" x="-2.25" y="-0.70" width="4.50" height="1.40" rx="0.00" fill="#40c0b0" stroke="none" stroke-width="0" />
<g transform="matrix(-0.1032 -0.9947 0.9965 -0.0836 799.50 757.80)"><rect x="-3.5" y="-1.5" width="2.6" height="3" fill="#b8b8b8"/><rect x="0.9" y="-1.5" width="2.6" height="3" fill="#b8b8b8"/><rect x="-1" y="-1.2" width="2" height="2.4" fill="#3a2a40"/></g>
<text transform="matrix(-0.1025 -0.9947 0.9965 -0.0837 792.00 760.30)" x="0" y="0" font-size="5.6" fill="#f6f0f0" text-anchor="middle" dominant-baseline="central" font-weight="bold" font-family="Liberation Mono" stroke="#f6f0f0" stroke-width="0.35">D7</text>
<rect transform="matrix(0.9964 -0.0843 0.1041 0.9946 811.80 769.80)" x="-2.25" y="-4.50" width="4.50" height="9.00" rx="0.00" fill="#e8ecec" stroke="none" stroke-width="0" />
<rect transform="matrix(0.9965 -0.0841 0.1041 0.9946 811.80 765.80)" x="-2.25" y="-0.70" width="4.50" height="1.40" rx="0.00" fill="#40c0b0" stroke="none" stroke-width="0" />
<g transform="matrix(-0.1043 -0.9945 0.9965 -0.0836 812.30 756.30)"><rect x="-3.5" y="-1.5" width="2.6" height="3" fill="#b8b8b8"/><rect x="0.9" y="-1.5" width="2.6" height="3" fill="#b8b8b8"/><rect x="-1" y="-1.2" width="2" height="2.4" fill="#3a2a40"/></g>
<text transform="matrix(-0.1036 -0.9946 0.9965 -0.0837 804.80 758.80)" x="0" y="0" font-size="5.6" fill="#f6f0f0" text-anchor="middle" dominant-baseline="central" font-weight="bold" font-family="Liberation Mono" stroke="#f6f0f0" stroke-width="0.35">D6</text>
<rect transform="matrix(0.9964 -0.0843 0.1052 0.9945 824.50 769.00)" x="-2.25" y="-4.50" width="4.50" height="9.00" rx="0.00" fill="#e8ecec" stroke="none" stroke-width="0" />
<rect transform="matrix(0.9965 -0.0841 0.1052 0.9945 824.50 765.00)" x="-2.25" y="-0.70" width="4.50" height="1.40" rx="0.00" fill="#40c0b0" stroke="none" stroke-width="0" />
<g transform="matrix(-0.1053 -0.9944 0.9965 -0.0836 825.00 755.50)"><rect x="-3.5" y="-1.5" width="2.6" height="3" fill="#b8b8b8"/><rect x="0.9" y="-1.5" width="2.6" height="3" fill="#b8b8b8"/><rect x="-1" y="-1.2" width="2" height="2.4" fill="#3a2a40"/></g>
<text transform="matrix(-0.1047 -0.9945 0.9965 -0.0837 817.50 758.00)" x="0" y="0" font-size="5.6" fill="#f6f0f0" text-anchor="middle" dominant-baseline="central" font-weight="bold" font-family="Liberation Mono" stroke="#f6f0f0" stroke-width="0.35">D5</text>
<rect transform="matrix(0.9964 -0.0844 0.1062 0.9943 837.30 768.30)" x="-2.25" y="-4.50" width="4.50" height="9.00" rx="0.00" fill="#e8ecec" stroke="none" stroke-width="0" />
<rect transform="matrix(0.9965 -0.0841 0.1063 0.9943 837.30 764.30)" x="-2.25" y="-0.70" width="4.50" height="1.40" rx="0.00" fill="#40c0b0" stroke="none" stroke-width="0" />
<g transform="matrix(-0.1064 -0.9943 0.9965 -0.0837 837.80 754.80)"><rect x="-3.5" y="-1.5" width="2.6" height="3" fill="#b8b8b8"/><rect x="0.9" y="-1.5" width="2.6" height="3" fill="#b8b8b8"/><rect x="-1" y="-1.2" width="2" height="2.4" fill="#3a2a40"/></g>
<text transform="matrix(-0.1058 -0.9944 0.9965 -0.0837 830.30 757.30)" x="0" y="0" font-size="5.6" fill="#f6f0f0" text-anchor="middle" dominant-baseline="central" font-weight="bold" font-family="Liberation Mono" stroke="#f6f0f0" stroke-width="0.35">D4</text>
<rect transform="matrix(0.9966 -0.0829 0.1088 0.9941 865.00 737.50)" x="-2.25" y="-4.50" width="4.50" height="9.00" rx="0.00" fill="#e8ecec" stroke="none" stroke-width="0" />
<g transform="matrix(-0.1089 -0.9941 0.9966 -0.0822 864.50 724.00)"><rect x="-3.5" y="-1.5" width="2.6" height="3" fill="#b8b8b8"/><rect x="0.9" y="-1.5" width="2.6" height="3" fill="#b8b8b8"/><rect x="-1" y="-1.2" width="2" height="2.4" fill="#3a2a40"/></g>
<text transform="matrix(-0.1093 -0.9940 0.9966 -0.0829 871.00 738.50)" x="0" y="0" font-size="5.6" fill="#f6f0f0" text-anchor="middle" dominant-baseline="central" font-weight="bold" font-family="Liberation Mono" stroke="#f6f0f0" stroke-width="0.35">LED0</text>
<rect transform="matrix(0.9966 -0.0829 0.1100 0.9939 879.30 736.80)" x="-2.25" y="-4.50" width="4.50" height="9.00" rx="0.00" fill="#e8ecec" stroke="none" stroke-width="0" />
<g transform="matrix(-0.1101 -0.9939 0.9966 -0.0822 878.80 723.30)"><rect x="-3.5" y="-1.5" width="2.6" height="3" fill="#b8b8b8"/><rect x="0.9" y="-1.5" width="2.6" height="3" fill="#b8b8b8"/><rect x="-1" y="-1.2" width="2" height="2.4" fill="#3a2a40"/></g>
<text transform="matrix(-0.1105 -0.9939 0.9966 -0.0830 885.30 737.80)" x="0" y="0" font-size="5.6" fill="#f6f0f0" text-anchor="middle" dominant-baseline="central" font-weight="bold" font-family="Liberation Mono" stroke="#f6f0f0" stroke-width="0.35">LED1</text>
<rect transform="matrix(0.9964 -0.0843 0.1088 0.9941 868.00 764.50)" x="-2.25" y="-4.50" width="4.50" height="9.00" rx="0.00" fill="#e8ecec" stroke="none" stroke-width="0" />
<g transform="matrix(-0.1089 -0.9941 0.9965 -0.0836 867.00 750.50)"><rect x="-3.5" y="-1.5" width="2.6" height="3" fill="#b8b8b8"/><rect x="0.9" y="-1.5" width="2.6" height="3" fill="#b8b8b8"/><rect x="-1" y="-1.2" width="2" height="2.4" fill="#3a2a40"/></g>
<text transform="matrix(-0.1093 -0.9940 0.9964 -0.0844 874.00 765.50)" x="0" y="0" font-size="5.6" fill="#f6f0f0" text-anchor="middle" dominant-baseline="central" font-weight="bold" font-family="Liberation Mono" stroke="#f6f0f0" stroke-width="0.35">D0</text>
<rect transform="matrix(0.9964 -0.0843 0.1101 0.9939 883.00 763.80)" x="-2.25" y="-4.50" width="4.50" height="9.00" rx="0.00" fill="#e8ecec" stroke="none" stroke-width="0" />
<g transform="matrix(-0.1101 -0.9939 0.9965 -0.0836 882.00 749.80)"><rect x="-3.5" y="-1.5" width="2.6" height="3" fill="#b8b8b8"/><rect x="0.9" y="-1.5" width="2.6" height="3" fill="#b8b8b8"/><rect x="-1" y="-1.2" width="2" height="2.4" fill="#3a2a40"/></g>
<text transform="matrix(-0.1106 -0.9939 0.9964 -0.0844 889.00 764.80)" x="0" y="0" font-size="5.6" fill="#f6f0f0" text-anchor="middle" dominant-baseline="central" font-weight="bold" font-family="Liberation Mono" stroke="#f6f0f0" stroke-width="0.35">D1</text>
<rect transform="matrix(0.9964 -0.0843 0.1113 0.9938 898.00 762.30)" x="-2.25" y="-4.50" width="4.50" height="9.00" rx="0.00" fill="#e8ecec" stroke="none" stroke-width="0" />
<g transform="matrix(-0.1114 -0.9938 0.9965 -0.0836 897.00 748.30)"><rect x="-3.5" y="-1.5" width="2.6" height="3" fill="#b8b8b8"/><rect x="0.9" y="-1.5" width="2.6" height="3" fill="#b8b8b8"/><rect x="-1" y="-1.2" width="2" height="2.4" fill="#3a2a40"/></g>
<text transform="matrix(-0.1118 -0.9937 0.9964 -0.0844 904.00 763.30)" x="0" y="0" font-size="5.6" fill="#f6f0f0" text-anchor="middle" dominant-baseline="central" font-weight="bold" font-family="Liberation Mono" stroke="#f6f0f0" stroke-width="0.35">D2</text>
<rect transform="matrix(0.9964 -0.0843 0.1126 0.9936 913.00 760.80)" x="-2.25" y="-4.50" width="4.50" height="9.00" rx="0.00" fill="#e8ecec" stroke="none" stroke-width="0" />
<g transform="matrix(-0.1126 -0.9936 0.9965 -0.0836 912.00 746.80)"><rect x="-3.5" y="-1.5" width="2.6" height="3" fill="#b8b8b8"/><rect x="0.9" y="-1.5" width="2.6" height="3" fill="#b8b8b8"/><rect x="-1" y="-1.2" width="2" height="2.4" fill="#3a2a40"/></g>
<text transform="matrix(-0.1131 -0.9936 0.9964 -0.0844 919.00 761.80)" x="0" y="0" font-size="5.6" fill="#f6f0f0" text-anchor="middle" dominant-baseline="central" font-weight="bold" font-family="Liberation Mono" stroke="#f6f0f0" stroke-width="0.35">D3</text>
<rect transform="matrix(0.9966 -0.0829 0.1150 0.9934 938.50 732.30)" x="-13.50" y="-15.50" width="27.00" height="31.00" rx="0.00" fill="#c9c6c6" stroke="none" stroke-width="0" />
<rect transform="matrix(0.9966 -0.0828 0.1150 0.9934 938.50 730.80)" x="-11.00" y="-11.00" width="22.00" height="22.00" rx="0.00" fill="#dcdada" stroke="#a8a4a4" stroke-width="0.8" />
<g transform="matrix(0.9966 -0.0820 0.1142 0.9935 926.50 715.80)"><rect x="-1.5" y="-3" width="3" height="6" fill="#b0b0b0"/></g>
<g transform="matrix(0.9966 -0.0821 0.1161 0.9932 950.50 715.80)"><rect x="-1.5" y="-3" width="3" height="6" fill="#b0b0b0"/></g>
<g transform="matrix(0.9965 -0.0837 0.1139 0.9935 927.50 747.80)"><rect x="-1.5" y="-3" width="3" height="6" fill="#b0b0b0"/></g>
<g transform="matrix(0.9965 -0.0838 0.1158 0.9933 949.50 747.80)"><rect x="-1.5" y="-3" width="3" height="6" fill="#b0b0b0"/></g>
<ellipse transform="matrix(0.9966 -0.0828 0.1150 0.9934 938.50 730.80)" rx="5.60" ry="5.60" fill="#8e3ad8" stroke="none" stroke-width="0"/>
<text transform="matrix(0.9967 -0.0816 0.1150 0.9934 935.50 708.30)" x="0" y="0" font-size="6" fill="#f6f0f0" text-anchor="middle" dominant-baseline="central" font-weight="bold" font-family="Liberation Mono" stroke="#f6f0f0" stroke-width="0.35">Reset</text>
<g transform="matrix(0.9965 -0.0841 0.1145 0.9934 934.80 754.80)"><rect x="-3.5" y="-1.5" width="2.6" height="3" fill="#b8b8b8"/><rect x="0.9" y="-1.5" width="2.6" height="3" fill="#b8b8b8"/><rect x="-1" y="-1.2" width="2" height="2.4" fill="#3a2a40"/></g>
<g transform="matrix(0.9965 -0.0841 0.1154 0.9933 946.00 754.00)"><rect x="-3.5" y="-1.5" width="2.6" height="3" fill="#b8b8b8"/><rect x="0.9" y="-1.5" width="2.6" height="3" fill="#b8b8b8"/><rect x="-1" y="-1.2" width="2" height="2.4" fill="#3a2a40"/></g>
<g transform="matrix(0.9988 -0.0486 0.1354 0.9908 1094.50 74.00)"><rect x="-38" y="-3" width="13" height="24" fill="#8a8a8a" transform="translate(0,-4)"/><rect x="19" y="-9" width="10" height="24" fill="#8a8a8a"/><polygon points="-17,-22 18,-23 26,-14 27,12 19,22 -16,23 -25,15 -26,-13" fill="#262a28" transform="translate(-3,4)"/><polygon points="-17,-22 18,-23 26,-14 27,12 19,22 -16,23 -25,15 -26,-13" fill="#868686"/><rect x="-25" y="-7" width="7" height="13" fill="#f4f4f4"/><rect x="17" y="-8" width="6" height="13" fill="#f0f0f0"/><circle cx="22" cy="-3" r="1.6" fill="#30d0b0"/><circle cx="0" cy="0" r="18.2" fill="#8b8b8b" stroke="#1c1c1c" stroke-width="1.3"/><text transform="rotate(90)" x="0" y="0" font-size="14" fill="#333333" text-anchor="middle" dominant-baseline="central" font-family="Liberation Sans" letter-spacing="0.5">330</text></g>
<g transform="matrix(0.9986 -0.0523 0.1352 0.9908 1102.00 143.00)"><rect x="-38" y="-3" width="13" height="24" fill="#8a8a8a" transform="translate(0,-4)"/><rect x="19" y="-9" width="10" height="24" fill="#8a8a8a"/><polygon points="-17,-22 18,-23 26,-14 27,12 19,22 -16,23 -25,15 -26,-13" fill="#262a28" transform="translate(-3,4)"/><polygon points="-17,-22 18,-23 26,-14 27,12 19,22 -16,23 -25,15 -26,-13" fill="#868686"/><rect x="-25" y="-7" width="7" height="13" fill="#f4f4f4"/><rect x="17" y="-8" width="6" height="13" fill="#f0f0f0"/><circle cx="22" cy="-3" r="1.6" fill="#30d0b0"/><circle cx="0" cy="0" r="18.2" fill="#8b8b8b" stroke="#1c1c1c" stroke-width="1.3"/><text transform="rotate(90)" x="0" y="0" font-size="14" fill="#333333" text-anchor="middle" dominant-baseline="central" font-family="Liberation Sans" letter-spacing="0.5">330</text></g>
<g transform="matrix(0.9984 -0.0559 0.1351 0.9908 1110.50 210.50)"><rect x="-38" y="-3" width="13" height="24" fill="#8a8a8a" transform="translate(0,-4)"/><rect x="19" y="-9" width="10" height="24" fill="#8a8a8a"/><polygon points="-17,-22 18,-23 26,-14 27,12 19,22 -16,23 -25,15 -26,-13" fill="#262a28" transform="translate(-3,4)"/><polygon points="-17,-22 18,-23 26,-14 27,12 19,22 -16,23 -25,15 -26,-13" fill="#868686"/><rect x="-25" y="-7" width="7" height="13" fill="#f4f4f4"/><rect x="17" y="-8" width="6" height="13" fill="#f0f0f0"/><circle cx="22" cy="-3" r="1.6" fill="#30d0b0"/><circle cx="0" cy="0" r="18.2" fill="#8b8b8b" stroke="#1c1c1c" stroke-width="1.3"/><text transform="rotate(90)" x="0" y="0" font-size="14" fill="#333333" text-anchor="middle" dominant-baseline="central" font-family="Liberation Sans" letter-spacing="0.5">330</text></g>
<g transform="matrix(0.9982 -0.0597 0.1350 0.9908 1119.00 281.00)"><rect x="-38" y="-3" width="13" height="24" fill="#8a8a8a" transform="translate(0,-4)"/><rect x="19" y="-9" width="10" height="24" fill="#8a8a8a"/><polygon points="-17,-22 18,-23 26,-14 27,12 19,22 -16,23 -25,15 -26,-13" fill="#262a28" transform="translate(-3,4)"/><polygon points="-17,-22 18,-23 26,-14 27,12 19,22 -16,23 -25,15 -26,-13" fill="#868686"/><rect x="-25" y="-7" width="7" height="13" fill="#f4f4f4"/><rect x="17" y="-8" width="6" height="13" fill="#f0f0f0"/><circle cx="22" cy="-3" r="1.6" fill="#30d0b0"/><circle cx="0" cy="0" r="18.2" fill="#8b8b8b" stroke="#1c1c1c" stroke-width="1.3"/><text transform="rotate(90)" x="0" y="0" font-size="14" fill="#333333" text-anchor="middle" dominant-baseline="central" font-family="Liberation Sans" letter-spacing="0.5">330</text></g>
<g transform="matrix(0.9980 -0.0636 0.1289 0.9917 1057.80 359.00)"><rect x="-38" y="-3" width="13" height="24" fill="#8a8a8a" transform="translate(0,-4)"/><rect x="19" y="-9" width="10" height="24" fill="#8a8a8a"/><polygon points="-17,-22 18,-23 26,-14 27,12 19,22 -16,23 -25,15 -26,-13" fill="#262a28" transform="translate(-3,4)"/><polygon points="-17,-22 18,-23 26,-14 27,12 19,22 -16,23 -25,15 -26,-13" fill="#868686"/><rect x="-25" y="-7" width="7" height="13" fill="#f4f4f4"/><rect x="17" y="-8" width="6" height="13" fill="#f0f0f0"/><circle cx="22" cy="-3" r="1.6" fill="#30d0b0"/><circle cx="0" cy="0" r="18.2" fill="#8b8b8b" stroke="#1c1c1c" stroke-width="1.3"/><text transform="rotate(90)" x="0" y="0" font-size="14" fill="#333333" text-anchor="middle" dominant-baseline="central" font-family="Liberation Sans" letter-spacing="0.5">330</text></g>
<g transform="matrix(0.9972 -0.0753 0.1348 0.9909 1156.00 570.50)"><rect x="-38" y="-3" width="13" height="24" fill="#8a8a8a" transform="translate(0,-4)"/><rect x="19" y="-9" width="10" height="24" fill="#8a8a8a"/><polygon points="-17,-22 18,-23 26,-14 27,12 19,22 -16,23 -25,15 -26,-13" fill="#262a28" transform="translate(-3,4)"/><polygon points="-17,-22 18,-23 26,-14 27,12 19,22 -16,23 -25,15 -26,-13" fill="#868686"/><rect x="-25" y="-7" width="7" height="13" fill="#f4f4f4"/><rect x="17" y="-8" width="6" height="13" fill="#f0f0f0"/><circle cx="22" cy="-3" r="1.6" fill="#30d0b0"/><circle cx="0" cy="0" r="18.2" fill="#8b8b8b" stroke="#1c1c1c" stroke-width="1.3"/><text transform="rotate(90)" x="0" y="0" font-size="14" fill="#333333" text-anchor="middle" dominant-baseline="central" font-family="Liberation Sans" letter-spacing="0.5">330</text></g>
<g transform="matrix(0.9969 -0.0790 0.1348 0.9909 1165.00 640.50)"><rect x="-38" y="-3" width="13" height="24" fill="#8a8a8a" transform="translate(0,-4)"/><rect x="19" y="-9" width="10" height="24" fill="#8a8a8a"/><polygon points="-17,-22 18,-23 26,-14 27,12 19,22 -16,23 -25,15 -26,-13" fill="#262a28" transform="translate(-3,4)"/><polygon points="-17,-22 18,-23 26,-14 27,12 19,22 -16,23 -25,15 -26,-13" fill="#868686"/><rect x="-25" y="-7" width="7" height="13" fill="#f4f4f4"/><rect x="17" y="-8" width="6" height="13" fill="#f0f0f0"/><circle cx="22" cy="-3" r="1.6" fill="#30d0b0"/><circle cx="0" cy="0" r="18.2" fill="#8b8b8b" stroke="#1c1c1c" stroke-width="1.3"/><text transform="rotate(90)" x="0" y="0" font-size="14" fill="#333333" text-anchor="middle" dominant-baseline="central" font-family="Liberation Sans" letter-spacing="0.5">330</text></g>
<g transform="matrix(0.9966 -0.0828 0.1348 0.9909 1174.50 710.00)"><rect x="-38" y="-3" width="13" height="24" fill="#8a8a8a" transform="translate(0,-4)"/><rect x="19" y="-9" width="10" height="24" fill="#8a8a8a"/><polygon points="-17,-22 18,-23 26,-14 27,12 19,22 -16,23 -25,15 -26,-13" fill="#262a28" transform="translate(-3,4)"/><polygon points="-17,-22 18,-23 26,-14 27,12 19,22 -16,23 -25,15 -26,-13" fill="#868686"/><rect x="-25" y="-7" width="7" height="13" fill="#f4f4f4"/><rect x="17" y="-8" width="6" height="13" fill="#f0f0f0"/><circle cx="22" cy="-3" r="1.6" fill="#30d0b0"/><circle cx="0" cy="0" r="18.2" fill="#8b8b8b" stroke="#1c1c1c" stroke-width="1.3"/><text transform="rotate(90)" x="0" y="0" font-size="14" fill="#333333" text-anchor="middle" dominant-baseline="central" font-family="Liberation Sans" letter-spacing="0.5">330</text></g>
<rect transform="matrix(0.9987 -0.0504 0.1239 0.9923 969.01 114.17)" x="-26.00" y="-24.00" width="51.99" height="47.99" rx="0.00" fill="#2e302f" stroke="none" stroke-width="0" />
<rect transform="matrix(0.9987 -0.0503 0.1239 0.9923 968.01 112.67)" x="-24.00" y="-22.00" width="47.99" height="43.99" rx="0.00" fill="#343635" stroke="none" stroke-width="0" />
<rect transform="matrix(0.9987 -0.0505 0.1214 0.9926 941.01 117.17)" x="-3.00" y="-3.50" width="6.00" height="7.00" rx="0.00" fill="#a9a9a9" stroke="none" stroke-width="0" />
<rect transform="matrix(0.9987 -0.0506 0.1263 0.9920 996.01 117.17)" x="-2.00" y="-2.50" width="4.00" height="5.00" rx="0.00" fill="#9a9a9a" stroke="none" stroke-width="0" />
<ellipse transform="matrix(0.9987 -0.0504 0.1239 0.9923 968.51 115.17)" rx="24.1" ry="23.5" fill="#626362"/>
<polygon points="989.45,125.82 998.44,108.16 956.56,86.84 947.57,104.51" fill="#626362" stroke="none" stroke-width="0"/>
<ellipse transform="matrix(0.9987 -0.0504 0.1239 0.9923 968.51 115.17)" rx="22.0" ry="22.0" fill="none" stroke="#dcdcdc" stroke-width="1.2" stroke-dasharray="0 18 40 200"/>
<ellipse transform="matrix(0.9988 -0.0500 0.1245 0.9922 975.01 106.33)" rx="19.5" ry="17.5" fill="#727372" opacity="0.9"/>
<clipPath id="capclip1"><ellipse transform="matrix(0.9988 -0.0495 0.1249 0.9922 977.50 97.50)" rx="23.5" ry="22.9"/></clipPath>
<ellipse transform="matrix(0.9988 -0.0495 0.1249 0.9922 977.50 97.50)" rx="23.5" ry="22.9" fill="#fdfdfd" stroke="#b8b8b8" stroke-width="0.9"/>
<g clip-path="url(#capclip1)"><polygon transform="matrix(0.9988 -0.0495 0.1249 0.9922 977.50 97.50)" points="-30,-30 -12,-30 -10.5,30 -30,30" fill="#050505"/></g>
<g transform="matrix(0.9988 -0.0495 0.1249 0.9922 977.50 97.50)"><path d="M-22,0 H-14 M17,-3 H25 M21,-7 V1" stroke="#30d0b0" stroke-width="1.6"/></g>
<rect transform="matrix(0.9985 -0.0540 0.1240 0.9923 978.57 182.17)" x="-26.13" y="-24.12" width="52.25" height="48.23" rx="0.00" fill="#2e302f" stroke="none" stroke-width="0" />
<rect transform="matrix(0.9985 -0.0539 0.1240 0.9923 977.57 180.67)" x="-24.13" y="-22.12" width="48.25" height="44.23" rx="0.00" fill="#343635" stroke="none" stroke-width="0" />
<rect transform="matrix(0.9985 -0.0541 0.1215 0.9926 950.44 185.17)" x="-3.00" y="-3.50" width="6.00" height="7.00" rx="0.00" fill="#a9a9a9" stroke="none" stroke-width="0" />
<rect transform="matrix(0.9985 -0.0542 0.1263 0.9920 1005.69 185.17)" x="-2.00" y="-2.50" width="4.00" height="5.00" rx="0.00" fill="#9a9a9a" stroke="none" stroke-width="0" />
<ellipse transform="matrix(0.9985 -0.0541 0.1240 0.9923 978.07 183.17)" rx="24.2" ry="23.6" fill="#626362"/>
<polygon points="998.78,194.51 1007.91,177.84 966.49,155.16 957.36,171.82" fill="#626362" stroke="none" stroke-width="0"/>
<ellipse transform="matrix(0.9985 -0.0541 0.1240 0.9923 978.07 183.17)" rx="22.1" ry="22.1" fill="none" stroke="#dcdcdc" stroke-width="1.2" stroke-dasharray="0 18 40 200"/>
<ellipse transform="matrix(0.9986 -0.0536 0.1246 0.9922 984.63 174.83)" rx="19.6" ry="17.6" fill="#727372" opacity="0.9"/>
<clipPath id="capclip2"><ellipse transform="matrix(0.9986 -0.0532 0.1249 0.9922 987.20 166.50)" rx="23.6" ry="23.0"/></clipPath>
<ellipse transform="matrix(0.9986 -0.0532 0.1249 0.9922 987.20 166.50)" rx="23.6" ry="23.0" fill="#fdfdfd" stroke="#b8b8b8" stroke-width="0.9"/>
<g clip-path="url(#capclip2)"><polygon transform="matrix(0.9986 -0.0532 0.1249 0.9922 987.20 166.50)" points="-30,-30 -12,-30 -10.5,30 -30,30" fill="#050505"/></g>
<g transform="matrix(0.9986 -0.0532 0.1249 0.9922 987.20 166.50)"><path d="M-22,0 H-14 M17,-3 H25 M21,-7 V1" stroke="#30d0b0" stroke-width="1.6"/></g>
<rect transform="matrix(0.9982 -0.0607 0.1271 0.9919 1030.21 304.66)" x="-26.36" y="-24.33" width="52.72" height="48.66" rx="0.00" fill="#2e302f" stroke="none" stroke-width="0" />
<rect transform="matrix(0.9982 -0.0606 0.1271 0.9919 1029.21 303.16)" x="-24.36" y="-22.33" width="48.72" height="44.66" rx="0.00" fill="#343635" stroke="none" stroke-width="0" />
<rect transform="matrix(0.9981 -0.0620 0.1269 0.9919 1030.71 330.50)" x="-4.50" y="-3.00" width="9.00" height="6.00" rx="0.00" fill="#b0b0b0" stroke="none" stroke-width="0" />
<ellipse transform="matrix(0.9982 -0.0607 0.1271 0.9919 1029.71 305.66)" rx="24.4" ry="23.8" fill="#626362"/>
<polygon points="1049.55,318.86 1059.44,304.00 1019.76,277.60 1009.87,292.47" fill="#626362" stroke="none" stroke-width="0"/>
<ellipse transform="matrix(0.9982 -0.0607 0.1271 0.9919 1029.71 305.66)" rx="22.3" ry="22.3" fill="none" stroke="#dcdcdc" stroke-width="1.2" stroke-dasharray="0 18 40 200"/>
<ellipse transform="matrix(0.9982 -0.0603 0.1278 0.9918 1036.65 298.23)" rx="19.8" ry="17.8" fill="#727372" opacity="0.9"/>
<clipPath id="capclip3"><ellipse transform="matrix(0.9982 -0.0600 0.1281 0.9918 1039.60 290.80)" rx="23.8" ry="23.2"/></clipPath>
<ellipse transform="matrix(0.9982 -0.0600 0.1281 0.9918 1039.60 290.80)" rx="23.8" ry="23.2" fill="#fdfdfd" stroke="#b8b8b8" stroke-width="0.9"/>
<g clip-path="url(#capclip3)"><polygon transform="matrix(0.9982 -0.0600 0.1281 0.9918 1039.60 290.80)" points="-30,11 30,8.5 30,30 -30,30" fill="#050505"/></g>
<g transform="matrix(0.9982 -0.0600 0.1281 0.9918 1039.60 290.80)"><path d="M3,14 V21 M-6,-20 H4 M-1,-25 V-15" stroke="#30d0b0" stroke-width="1.6"/></g>
<rect transform="matrix(0.9979 -0.0641 0.1344 0.9909 1123.24 363.50)" x="-26.47" y="-24.43" width="52.94" height="48.87" rx="0.00" fill="#2e302f" stroke="none" stroke-width="0" />
<rect transform="matrix(0.9979 -0.0640 0.1344 0.9909 1122.24 362.00)" x="-24.47" y="-22.43" width="48.94" height="44.87" rx="0.00" fill="#343635" stroke="none" stroke-width="0" />
<rect transform="matrix(0.9979 -0.0655 0.1342 0.9910 1123.74 389.43)" x="-4.50" y="-3.00" width="9.00" height="6.00" rx="0.00" fill="#b0b0b0" stroke="none" stroke-width="0" />
<ellipse transform="matrix(0.9979 -0.0642 0.1344 0.9909 1122.74 364.50)" rx="24.5" ry="23.9" fill="#626362"/>
<polygon points="1141.39,379.49 1152.64,365.49 1115.36,335.51 1104.10,349.50" fill="#626362" stroke="none" stroke-width="0"/>
<ellipse transform="matrix(0.9979 -0.0642 0.1344 0.9909 1122.74 364.50)" rx="22.4" ry="22.4" fill="none" stroke="#dcdcdc" stroke-width="1.2" stroke-dasharray="0 18 40 200"/>
<ellipse transform="matrix(0.9980 -0.0638 0.1351 0.9908 1130.37 357.50)" rx="19.9" ry="17.9" fill="#727372" opacity="0.9"/>
<clipPath id="capclip4"><ellipse transform="matrix(0.9980 -0.0635 0.1355 0.9908 1134.00 350.50)" rx="23.9" ry="23.3"/></clipPath>
<ellipse transform="matrix(0.9980 -0.0635 0.1355 0.9908 1134.00 350.50)" rx="23.9" ry="23.3" fill="#fdfdfd" stroke="#b8b8b8" stroke-width="0.9"/>
<g clip-path="url(#capclip4)"><polygon transform="matrix(0.9980 -0.0635 0.1355 0.9908 1134.00 350.50)" points="-30,11 30,8.5 30,30 -30,30" fill="#050505"/></g>
<g transform="matrix(0.9980 -0.0635 0.1355 0.9908 1134.00 350.50)"><path d="M3,14 V21 M-6,-20 H4 M-1,-25 V-15" stroke="#30d0b0" stroke-width="1.6"/></g>
<rect transform="matrix(0.9976 -0.0693 0.1309 0.9914 1094.37 462.54)" x="-26.66" y="-24.61" width="53.32" height="49.22" rx="0.00" fill="#2e302f" stroke="none" stroke-width="0" />
<rect transform="matrix(0.9976 -0.0692 0.1308 0.9914 1093.37 461.04)" x="-24.66" y="-22.61" width="49.32" height="45.22" rx="0.00" fill="#343635" stroke="none" stroke-width="0" />
<rect transform="matrix(0.9975 -0.0707 0.1306 0.9914 1094.87 488.65)" x="-4.50" y="-3.00" width="9.00" height="6.00" rx="0.00" fill="#b0b0b0" stroke="none" stroke-width="0" />
<ellipse transform="matrix(0.9976 -0.0693 0.1308 0.9914 1093.87 463.54)" rx="24.7" ry="24.1" fill="#626362"/>
<polygon points="1112.10,479.29 1122.94,466.75 1086.46,435.25 1075.63,447.79" fill="#626362" stroke="none" stroke-width="0"/>
<ellipse transform="matrix(0.9976 -0.0693 0.1308 0.9914 1093.87 463.54)" rx="22.6" ry="22.6" fill="none" stroke="#dcdcdc" stroke-width="1.2" stroke-dasharray="0 18 40 200"/>
<ellipse transform="matrix(0.9976 -0.0690 0.1315 0.9913 1101.28 457.27)" rx="20.1" ry="18.1" fill="#727372" opacity="0.9"/>
<clipPath id="capclip5"><ellipse transform="matrix(0.9976 -0.0687 0.1319 0.9913 1104.70 451.00)" rx="24.1" ry="23.5"/></clipPath>
<ellipse transform="matrix(0.9976 -0.0687 0.1319 0.9913 1104.70 451.00)" rx="24.1" ry="23.5" fill="#fdfdfd" stroke="#b8b8b8" stroke-width="0.9"/>
<g clip-path="url(#capclip5)"><polygon transform="matrix(0.9976 -0.0687 0.1319 0.9913 1104.70 451.00)" points="-30,11 30,8.5 30,30 -30,30" fill="#050505"/></g>
<g transform="matrix(0.9976 -0.0687 0.1319 0.9913 1104.70 451.00)"><path d="M3,14 V21 M-6,-20 H4 M-1,-25 V-15" stroke="#30d0b0" stroke-width="1.6"/></g>
<rect transform="matrix(0.9973 -0.0729 0.1263 0.9920 1049.72 533.89)" x="-26.80" y="-24.74" width="53.59" height="49.47" rx="0.00" fill="#2e302f" stroke="none" stroke-width="0" />
<rect transform="matrix(0.9973 -0.0728 0.1262 0.9920 1048.72 532.39)" x="-24.80" y="-22.74" width="49.59" height="45.47" rx="0.00" fill="#343635" stroke="none" stroke-width="0" />
<rect transform="matrix(0.9973 -0.0729 0.1239 0.9923 1020.93 536.89)" x="-3.00" y="-3.50" width="6.00" height="7.00" rx="0.00" fill="#a9a9a9" stroke="none" stroke-width="0" />
<rect transform="matrix(0.9973 -0.0732 0.1286 0.9917 1077.52 536.89)" x="-2.00" y="-2.50" width="4.00" height="5.00" rx="0.00" fill="#9a9a9a" stroke="none" stroke-width="0" />
<ellipse transform="matrix(0.9973 -0.0729 0.1263 0.9920 1049.22 534.89)" rx="24.8" ry="24.2" fill="#626362"/>
<polygon points="1067.35,550.95 1077.53,539.46 1041.27,507.34 1031.09,518.83" fill="#626362" stroke="none" stroke-width="0"/>
<ellipse transform="matrix(0.9973 -0.0729 0.1263 0.9920 1049.22 534.89)" rx="22.7" ry="22.7" fill="none" stroke="#dcdcdc" stroke-width="1.2" stroke-dasharray="0 18 40 200"/>
<ellipse transform="matrix(0.9974 -0.0727 0.1269 0.9919 1056.31 529.15)" rx="20.2" ry="18.2" fill="#727372" opacity="0.9"/>
<clipPath id="capclip6"><ellipse transform="matrix(0.9974 -0.0724 0.1272 0.9919 1059.40 523.40)" rx="24.2" ry="23.6"/></clipPath>
<ellipse transform="matrix(0.9974 -0.0724 0.1272 0.9919 1059.40 523.40)" rx="24.2" ry="23.6" fill="#fdfdfd" stroke="#b8b8b8" stroke-width="0.9"/>
<g clip-path="url(#capclip6)"><polygon transform="matrix(0.9974 -0.0724 0.1272 0.9919 1059.40 523.40)" points="-30,-30 -12,-30 -10.5,30 -30,30" fill="#050505"/></g>
<g transform="matrix(0.9974 -0.0724 0.1272 0.9919 1059.40 523.40)"><path d="M-22,0 H-14 M17,-3 H25 M21,-7 V1" stroke="#30d0b0" stroke-width="1.6"/></g>
<rect transform="matrix(0.9970 -0.0771 0.1237 0.9923 1028.14 614.01)" x="-26.95" y="-24.88" width="53.90" height="49.75" rx="0.00" fill="#2e302f" stroke="none" stroke-width="0" />
<rect transform="matrix(0.9970 -0.0770 0.1236 0.9923 1027.14 612.51)" x="-24.95" y="-22.88" width="49.90" height="45.75" rx="0.00" fill="#343635" stroke="none" stroke-width="0" />
<rect transform="matrix(0.9970 -0.0771 0.1212 0.9926 999.19 617.01)" x="-3.00" y="-3.50" width="6.00" height="7.00" rx="0.00" fill="#a9a9a9" stroke="none" stroke-width="0" />
<rect transform="matrix(0.9970 -0.0773 0.1260 0.9920 1056.09 617.01)" x="-2.00" y="-2.50" width="4.00" height="5.00" rx="0.00" fill="#9a9a9a" stroke="none" stroke-width="0" />
<ellipse transform="matrix(0.9970 -0.0771 0.1236 0.9923 1027.64 615.01)" rx="25.0" ry="24.4" fill="#626362"/>
<polygon points="1045.25,631.85 1055.11,621.53 1019.89,587.87 1010.03,598.18" fill="#626362" stroke="none" stroke-width="0"/>
<ellipse transform="matrix(0.9970 -0.0771 0.1236 0.9923 1027.64 615.01)" rx="22.9" ry="22.9" fill="none" stroke="#dcdcdc" stroke-width="1.2" stroke-dasharray="0 18 40 200"/>
<ellipse transform="matrix(0.9970 -0.0769 0.1242 0.9923 1034.57 609.86)" rx="20.4" ry="18.4" fill="#727372" opacity="0.9"/>
<clipPath id="capclip7"><ellipse transform="matrix(0.9971 -0.0766 0.1245 0.9922 1037.50 604.70)" rx="24.4" ry="23.8"/></clipPath>
<ellipse transform="matrix(0.9971 -0.0766 0.1245 0.9922 1037.50 604.70)" rx="24.4" ry="23.8" fill="#fdfdfd" stroke="#b8b8b8" stroke-width="0.9"/>
<g clip-path="url(#capclip7)"><polygon transform="matrix(0.9971 -0.0766 0.1245 0.9922 1037.50 604.70)" points="-30,-30 -12,-30 -10.5,30 -30,30" fill="#050505"/></g>
<g transform="matrix(0.9971 -0.0766 0.1245 0.9922 1037.50 604.70)"><path d="M-22,0 H-14 M17,-3 H25 M21,-7 V1" stroke="#30d0b0" stroke-width="1.6"/></g>
<rect transform="matrix(0.9966 -0.0827 0.1441 0.9896 1285.85 699.06)" x="-27.11" y="-25.03" width="54.22" height="50.05" rx="0.00" fill="#2e302f" stroke="none" stroke-width="0" />
<rect transform="matrix(0.9966 -0.0826 0.1440 0.9896 1284.85 697.56)" x="-25.11" y="-23.03" width="50.22" height="46.05" rx="0.00" fill="#343635" stroke="none" stroke-width="0" />
<rect transform="matrix(0.9966 -0.0827 0.1417 0.9899 1256.74 702.06)" x="-3.00" y="-3.50" width="6.00" height="7.00" rx="0.00" fill="#a9a9a9" stroke="none" stroke-width="0" />
<rect transform="matrix(0.9966 -0.0830 0.1464 0.9892 1313.96 702.06)" x="-2.00" y="-2.50" width="4.00" height="5.00" rx="0.00" fill="#9a9a9a" stroke="none" stroke-width="0" />
<ellipse transform="matrix(0.9966 -0.0827 0.1441 0.9896 1285.35 700.06)" rx="25.1" ry="24.5" fill="#626362"/>
<polygon points="1298.90,720.48 1312.55,711.42 1285.45,670.58 1271.80,679.65" fill="#626362" stroke="none" stroke-width="0"/>
<ellipse transform="matrix(0.9966 -0.0827 0.1441 0.9896 1285.35 700.06)" rx="23.0" ry="23.0" fill="none" stroke="#dcdcdc" stroke-width="1.2" stroke-dasharray="0 18 40 200"/>
<ellipse transform="matrix(0.9966 -0.0825 0.1448 0.9895 1294.17 695.53)" rx="20.5" ry="18.5" fill="#727372" opacity="0.9"/>
<clipPath id="capclip8"><ellipse transform="matrix(0.9966 -0.0823 0.1453 0.9894 1299.00 691.00)" rx="24.5" ry="23.9"/></clipPath>
<ellipse transform="matrix(0.9966 -0.0823 0.1453 0.9894 1299.00 691.00)" rx="24.5" ry="23.9" fill="#fdfdfd" stroke="#b8b8b8" stroke-width="0.9"/>
<g clip-path="url(#capclip8)"><polygon transform="matrix(0.9966 -0.0823 0.1453 0.9894 1299.00 691.00)" points="-30,-30 -12,-30 -10.5,30 -30,30" fill="#050505"/></g>
<g transform="matrix(0.9966 -0.0823 0.1453 0.9894 1299.00 691.00)"><path d="M-22,0 H-14 M17,-3 H25 M21,-7 V1" stroke="#30d0b0" stroke-width="1.6"/></g>
</svg></body></html>
